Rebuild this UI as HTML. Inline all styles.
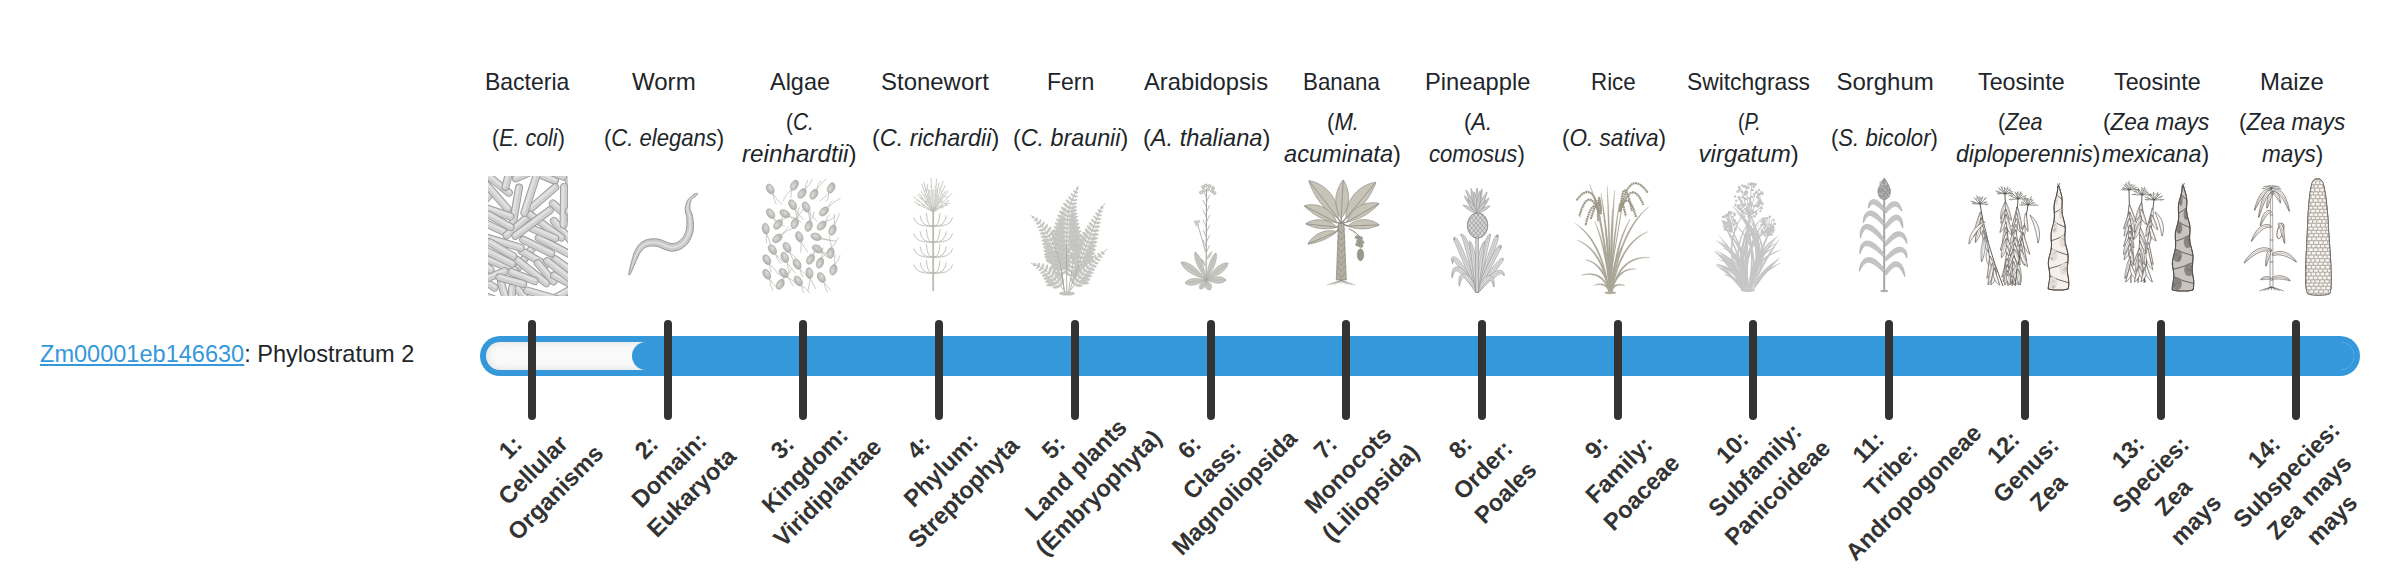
<!DOCTYPE html>
<html><head><meta charset="utf-8"><title>Phylostratum</title>
<style>
html,body{margin:0;padding:0;background:#fff;}
body{width:2400px;height:580px;overflow:hidden;position:relative;font-family:"Liberation Sans",sans-serif;color:#212529;font-size:24px;}
.t{position:absolute;line-height:32px;white-space:nowrap;transform-origin:0 0;}
.im{position:absolute;top:176px;height:120px;}
.bar{position:absolute;left:480px;top:336px;width:1880px;height:40px;border-radius:20px;background:#3498db;}
.trk{position:absolute;left:486px;top:342px;width:1868px;height:28px;border-radius:14px;background:#fafafa;box-shadow:inset 0 0 8px rgba(0,0,0,.12);}
.fill{position:absolute;left:632px;top:342px;width:1722px;height:28px;border-radius:14px;background:#3498db;}
.tk{position:absolute;top:320px;width:8px;height:100px;border-radius:4px;background:#333;}
.lb{position:absolute;width:240px;text-align:center;white-space:nowrap;font-weight:bold;line-height:32px;transform:rotate(-45deg) scaleX(0.98);color:#333;}
.gl{position:absolute;left:40.3px;top:338px;line-height:32px;white-space:nowrap;transform-origin:0 0;transform:scaleX(0.981);}
.gl a{color:#3498db;text-decoration:underline;}
</style></head><body>
<div class="gl"><a href="#">Zm00001eb146630</a>: Phylostratum 2</div>
<div class="t" style="left:485.19px;top:66px;transform:scaleX(0.9570)">Bacteria</div>
<div class="t" style="left:492.01px;top:122px;transform:scaleX(0.8949)">(<i>E. coli</i>)</div>
<div class="t" style="left:632.40px;top:66px;transform:scaleX(1.0016)">Worm</div>
<div class="t" style="left:603.68px;top:122px;transform:scaleX(0.9188)">(<i>C. elegans</i>)</div>
<div class="t" style="left:769.80px;top:66px;transform:scaleX(0.9767)">Algae</div>
<div class="t" style="left:786.04px;top:106px;transform:scaleX(0.8643)">(<i>C.</i></div>
<div class="t" style="left:742.30px;top:138px;transform:scaleX(1.0098)"><i>reinhardtii</i>)</div>
<div class="t" style="left:880.50px;top:66px;transform:scaleX(0.9981)">Stonewort</div>
<div class="t" style="left:871.63px;top:122px;transform:scaleX(0.9734)">(<i>C. richardii</i>)</div>
<div class="t" style="left:1046.58px;top:66px;transform:scaleX(0.9587)">Fern</div>
<div class="t" style="left:1013.33px;top:122px;transform:scaleX(0.9707)">(<i>C. braunii</i>)</div>
<div class="t" style="left:1144.20px;top:66px;transform:scaleX(0.9888)">Arabidopsis</div>
<div class="t" style="left:1142.82px;top:122px;transform:scaleX(0.9835)">(<i>A. thaliana</i>)</div>
<div class="t" style="left:1302.64px;top:66px;transform:scaleX(0.9296)">Banana</div>
<div class="t" style="left:1326.58px;top:106px;transform:scaleX(0.9226)">(<i>M.</i></div>
<div class="t" style="left:1284.10px;top:138px;transform:scaleX(0.9846)"><i>acuminata</i>)</div>
<div class="t" style="left:1424.73px;top:66px;transform:scaleX(0.9875)">Pineapple</div>
<div class="t" style="left:1463.68px;top:106px;transform:scaleX(0.9185)">(<i>A.</i></div>
<div class="t" style="left:1429.28px;top:138px;transform:scaleX(0.9206)"><i>comosus</i>)</div>
<div class="t" style="left:1590.84px;top:66px;transform:scaleX(0.9311)">Rice</div>
<div class="t" style="left:1561.56px;top:122px;transform:scaleX(0.9398)">(<i>O. sativa</i>)</div>
<div class="t" style="left:1687.15px;top:66px;transform:scaleX(0.9508)">Switchgrass</div>
<div class="t" style="left:1738.47px;top:106px;transform:scaleX(0.8250)">(<i>P.</i></div>
<div class="t" style="left:1698.60px;top:138px;transform:scaleX(1.0000)"><i>virgatum</i>)</div>
<div class="t" style="left:1836.40px;top:66px;transform:scaleX(1.0000)">Sorghum</div>
<div class="t" style="left:1831.38px;top:122px;transform:scaleX(0.9211)">(<i>S. bicolor</i>)</div>
<div class="t" style="left:1977.60px;top:66px;transform:scaleX(0.9693)">Teosinte</div>
<div class="t" style="left:1998.20px;top:106px;transform:scaleX(0.9000)">(<i>Zea</i></div>
<div class="t" style="left:1956.14px;top:138px;transform:scaleX(0.9574)"><i>diploperennis</i>)</div>
<div class="t" style="left:2113.60px;top:66px;transform:scaleX(0.9693)">Teosinte</div>
<div class="t" style="left:2103.06px;top:106px;transform:scaleX(0.9375)">(<i>Zea mays</i></div>
<div class="t" style="left:2102.30px;top:138px;transform:scaleX(0.9679)"><i>mexicana</i>)</div>
<div class="t" style="left:2259.81px;top:66px;transform:scaleX(0.9967)">Maize</div>
<div class="t" style="left:2238.96px;top:106px;transform:scaleX(0.9375)">(<i>Zea mays</i></div>
<div class="t" style="left:2261.50px;top:138px;transform:scaleX(0.9391)"><i>mays</i>)</div>
<svg class="imgs" width="2400" height="580" viewBox="0 0 2400 580" style="position:absolute;left:0;top:0"><clipPath id="cb"><rect x="488" y="176" width="80" height="120"/></clipPath><g clip-path="url(#cb)"><line x1="518.5" y1="267.2" x2="532.6" y2="247.6" stroke="#9a9a9a" stroke-width="8" stroke-linecap="round"/><line x1="518.5" y1="267.2" x2="532.6" y2="247.6" stroke="#cfcfcf" stroke-width="6.2" stroke-linecap="round"/><line x1="517.6" y1="266.6" x2="531.7" y2="246.9" stroke="#e1e1e1" stroke-width="2.6" stroke-linecap="round"/><line x1="519.0" y1="187.5" x2="513.0" y2="223.0" stroke="#9a9a9a" stroke-width="8" stroke-linecap="round"/><line x1="519.0" y1="187.5" x2="513.0" y2="223.0" stroke="#cfcfcf" stroke-width="6.2" stroke-linecap="round"/><line x1="517.9" y1="187.3" x2="511.9" y2="222.9" stroke="#e1e1e1" stroke-width="2.6" stroke-linecap="round"/><line x1="521.8" y1="251.0" x2="545.3" y2="264.8" stroke="#9a9a9a" stroke-width="8" stroke-linecap="round"/><line x1="521.8" y1="251.0" x2="545.3" y2="264.8" stroke="#cfcfcf" stroke-width="6.2" stroke-linecap="round"/><line x1="522.4" y1="250.1" x2="545.9" y2="263.9" stroke="#e1e1e1" stroke-width="2.6" stroke-linecap="round"/><line x1="560.1" y1="158.4" x2="573.8" y2="193.6" stroke="#9a9a9a" stroke-width="8" stroke-linecap="round"/><line x1="560.1" y1="158.4" x2="573.8" y2="193.6" stroke="#cfcfcf" stroke-width="6.2" stroke-linecap="round"/><line x1="561.2" y1="158.0" x2="574.8" y2="193.2" stroke="#e1e1e1" stroke-width="2.6" stroke-linecap="round"/><line x1="553.9" y1="220.9" x2="581.8" y2="253.5" stroke="#9a9a9a" stroke-width="8" stroke-linecap="round"/><line x1="553.9" y1="220.9" x2="581.8" y2="253.5" stroke="#cfcfcf" stroke-width="6.2" stroke-linecap="round"/><line x1="554.8" y1="220.2" x2="582.6" y2="252.8" stroke="#e1e1e1" stroke-width="2.6" stroke-linecap="round"/><line x1="474.4" y1="217.6" x2="507.2" y2="233.5" stroke="#9a9a9a" stroke-width="8" stroke-linecap="round"/><line x1="474.4" y1="217.6" x2="507.2" y2="233.5" stroke="#cfcfcf" stroke-width="6.2" stroke-linecap="round"/><line x1="474.9" y1="216.6" x2="507.7" y2="232.5" stroke="#e1e1e1" stroke-width="2.6" stroke-linecap="round"/><line x1="476.9" y1="255.5" x2="514.5" y2="270.0" stroke="#9a9a9a" stroke-width="8" stroke-linecap="round"/><line x1="476.9" y1="255.5" x2="514.5" y2="270.0" stroke="#cfcfcf" stroke-width="6.2" stroke-linecap="round"/><line x1="477.3" y1="254.5" x2="514.9" y2="269.0" stroke="#e1e1e1" stroke-width="2.6" stroke-linecap="round"/><line x1="506.5" y1="235.3" x2="530.4" y2="214.6" stroke="#9a9a9a" stroke-width="8" stroke-linecap="round"/><line x1="506.5" y1="235.3" x2="530.4" y2="214.6" stroke="#cfcfcf" stroke-width="6.2" stroke-linecap="round"/><line x1="505.8" y1="234.5" x2="529.7" y2="213.8" stroke="#e1e1e1" stroke-width="2.6" stroke-linecap="round"/><line x1="470.8" y1="272.1" x2="494.6" y2="287.6" stroke="#9a9a9a" stroke-width="8" stroke-linecap="round"/><line x1="470.8" y1="272.1" x2="494.6" y2="287.6" stroke="#cfcfcf" stroke-width="6.2" stroke-linecap="round"/><line x1="471.4" y1="271.2" x2="495.2" y2="286.7" stroke="#e1e1e1" stroke-width="2.6" stroke-linecap="round"/><line x1="527.4" y1="169.5" x2="554.9" y2="180.7" stroke="#9a9a9a" stroke-width="8" stroke-linecap="round"/><line x1="527.4" y1="169.5" x2="554.9" y2="180.7" stroke="#cfcfcf" stroke-width="6.2" stroke-linecap="round"/><line x1="527.9" y1="168.4" x2="555.3" y2="179.7" stroke="#e1e1e1" stroke-width="2.6" stroke-linecap="round"/><line x1="516.7" y1="288.2" x2="534.8" y2="308.6" stroke="#9a9a9a" stroke-width="8" stroke-linecap="round"/><line x1="516.7" y1="288.2" x2="534.8" y2="308.6" stroke="#cfcfcf" stroke-width="6.2" stroke-linecap="round"/><line x1="517.5" y1="287.4" x2="535.6" y2="307.9" stroke="#e1e1e1" stroke-width="2.6" stroke-linecap="round"/><line x1="552.8" y1="203.6" x2="584.6" y2="231.4" stroke="#9a9a9a" stroke-width="8" stroke-linecap="round"/><line x1="552.8" y1="203.6" x2="584.6" y2="231.4" stroke="#cfcfcf" stroke-width="6.2" stroke-linecap="round"/><line x1="553.6" y1="202.8" x2="585.3" y2="230.6" stroke="#e1e1e1" stroke-width="2.6" stroke-linecap="round"/><line x1="470.7" y1="214.9" x2="490.6" y2="194.1" stroke="#9a9a9a" stroke-width="8" stroke-linecap="round"/><line x1="470.7" y1="214.9" x2="490.6" y2="194.1" stroke="#cfcfcf" stroke-width="6.2" stroke-linecap="round"/><line x1="469.9" y1="214.2" x2="489.8" y2="193.3" stroke="#e1e1e1" stroke-width="2.6" stroke-linecap="round"/><line x1="460.3" y1="181.2" x2="501.4" y2="165.7" stroke="#9a9a9a" stroke-width="8" stroke-linecap="round"/><line x1="460.3" y1="181.2" x2="501.4" y2="165.7" stroke="#cfcfcf" stroke-width="6.2" stroke-linecap="round"/><line x1="459.9" y1="180.2" x2="501.0" y2="164.7" stroke="#e1e1e1" stroke-width="2.6" stroke-linecap="round"/><line x1="527.6" y1="211.2" x2="555.2" y2="187.3" stroke="#9a9a9a" stroke-width="8" stroke-linecap="round"/><line x1="527.6" y1="211.2" x2="555.2" y2="187.3" stroke="#cfcfcf" stroke-width="6.2" stroke-linecap="round"/><line x1="526.9" y1="210.3" x2="554.5" y2="186.4" stroke="#e1e1e1" stroke-width="2.6" stroke-linecap="round"/><line x1="500.9" y1="282.5" x2="509.6" y2="311.0" stroke="#9a9a9a" stroke-width="8" stroke-linecap="round"/><line x1="500.9" y1="282.5" x2="509.6" y2="311.0" stroke="#cfcfcf" stroke-width="6.2" stroke-linecap="round"/><line x1="501.9" y1="282.2" x2="510.6" y2="310.7" stroke="#e1e1e1" stroke-width="2.6" stroke-linecap="round"/><line x1="564.1" y1="186.9" x2="563.6" y2="224.8" stroke="#9a9a9a" stroke-width="8" stroke-linecap="round"/><line x1="564.1" y1="186.9" x2="563.6" y2="224.8" stroke="#cfcfcf" stroke-width="6.2" stroke-linecap="round"/><line x1="563.0" y1="186.9" x2="562.5" y2="224.8" stroke="#e1e1e1" stroke-width="2.6" stroke-linecap="round"/><line x1="555.3" y1="259.2" x2="589.4" y2="283.6" stroke="#9a9a9a" stroke-width="8" stroke-linecap="round"/><line x1="555.3" y1="259.2" x2="589.4" y2="283.6" stroke="#cfcfcf" stroke-width="6.2" stroke-linecap="round"/><line x1="555.9" y1="258.3" x2="590.1" y2="282.8" stroke="#e1e1e1" stroke-width="2.6" stroke-linecap="round"/><line x1="538.7" y1="237.8" x2="572.9" y2="256.0" stroke="#9a9a9a" stroke-width="8" stroke-linecap="round"/><line x1="538.7" y1="237.8" x2="572.9" y2="256.0" stroke="#cfcfcf" stroke-width="6.2" stroke-linecap="round"/><line x1="539.2" y1="236.9" x2="573.4" y2="255.0" stroke="#e1e1e1" stroke-width="2.6" stroke-linecap="round"/><line x1="515.8" y1="178.4" x2="552.4" y2="162.3" stroke="#9a9a9a" stroke-width="8" stroke-linecap="round"/><line x1="515.8" y1="178.4" x2="552.4" y2="162.3" stroke="#cfcfcf" stroke-width="6.2" stroke-linecap="round"/><line x1="515.4" y1="177.4" x2="551.9" y2="161.2" stroke="#e1e1e1" stroke-width="2.6" stroke-linecap="round"/><line x1="552.3" y1="299.4" x2="580.0" y2="284.3" stroke="#9a9a9a" stroke-width="8" stroke-linecap="round"/><line x1="552.3" y1="299.4" x2="580.0" y2="284.3" stroke="#cfcfcf" stroke-width="6.2" stroke-linecap="round"/><line x1="551.7" y1="298.4" x2="579.5" y2="283.3" stroke="#e1e1e1" stroke-width="2.6" stroke-linecap="round"/><line x1="478.5" y1="167.9" x2="508.8" y2="192.7" stroke="#9a9a9a" stroke-width="8" stroke-linecap="round"/><line x1="478.5" y1="167.9" x2="508.8" y2="192.7" stroke="#cfcfcf" stroke-width="6.2" stroke-linecap="round"/><line x1="479.2" y1="167.0" x2="509.5" y2="191.9" stroke="#e1e1e1" stroke-width="2.6" stroke-linecap="round"/><line x1="527.1" y1="290.5" x2="559.5" y2="299.8" stroke="#9a9a9a" stroke-width="8" stroke-linecap="round"/><line x1="527.1" y1="290.5" x2="559.5" y2="299.8" stroke="#cfcfcf" stroke-width="6.2" stroke-linecap="round"/><line x1="527.4" y1="289.4" x2="559.8" y2="298.7" stroke="#e1e1e1" stroke-width="2.6" stroke-linecap="round"/><line x1="517.1" y1="259.9" x2="546.2" y2="283.2" stroke="#9a9a9a" stroke-width="8" stroke-linecap="round"/><line x1="517.1" y1="259.9" x2="546.2" y2="283.2" stroke="#cfcfcf" stroke-width="6.2" stroke-linecap="round"/><line x1="517.8" y1="259.1" x2="546.9" y2="282.3" stroke="#e1e1e1" stroke-width="2.6" stroke-linecap="round"/><line x1="482.5" y1="236.3" x2="520.9" y2="247.8" stroke="#9a9a9a" stroke-width="8" stroke-linecap="round"/><line x1="482.5" y1="236.3" x2="520.9" y2="247.8" stroke="#cfcfcf" stroke-width="6.2" stroke-linecap="round"/><line x1="482.8" y1="235.2" x2="521.2" y2="246.7" stroke="#e1e1e1" stroke-width="2.6" stroke-linecap="round"/><line x1="485.0" y1="182.9" x2="507.6" y2="208.9" stroke="#9a9a9a" stroke-width="8" stroke-linecap="round"/><line x1="485.0" y1="182.9" x2="507.6" y2="208.9" stroke="#cfcfcf" stroke-width="6.2" stroke-linecap="round"/><line x1="485.8" y1="182.2" x2="508.4" y2="208.2" stroke="#e1e1e1" stroke-width="2.6" stroke-linecap="round"/><line x1="529.8" y1="214.5" x2="561.3" y2="237.6" stroke="#9a9a9a" stroke-width="8" stroke-linecap="round"/><line x1="529.8" y1="214.5" x2="561.3" y2="237.6" stroke="#cfcfcf" stroke-width="6.2" stroke-linecap="round"/><line x1="530.4" y1="213.6" x2="561.9" y2="236.7" stroke="#e1e1e1" stroke-width="2.6" stroke-linecap="round"/><line x1="523.2" y1="239.7" x2="551.2" y2="253.3" stroke="#9a9a9a" stroke-width="8" stroke-linecap="round"/><line x1="523.2" y1="239.7" x2="551.2" y2="253.3" stroke="#cfcfcf" stroke-width="6.2" stroke-linecap="round"/><line x1="523.7" y1="238.7" x2="551.7" y2="252.3" stroke="#e1e1e1" stroke-width="2.6" stroke-linecap="round"/><line x1="513.4" y1="156.0" x2="505.5" y2="186.8" stroke="#9a9a9a" stroke-width="8" stroke-linecap="round"/><line x1="513.4" y1="156.0" x2="505.5" y2="186.8" stroke="#cfcfcf" stroke-width="6.2" stroke-linecap="round"/><line x1="512.3" y1="155.7" x2="504.4" y2="186.5" stroke="#e1e1e1" stroke-width="2.6" stroke-linecap="round"/><line x1="472.0" y1="203.1" x2="510.4" y2="216.5" stroke="#9a9a9a" stroke-width="8" stroke-linecap="round"/><line x1="472.0" y1="203.1" x2="510.4" y2="216.5" stroke="#cfcfcf" stroke-width="6.2" stroke-linecap="round"/><line x1="472.4" y1="202.1" x2="510.8" y2="215.5" stroke="#e1e1e1" stroke-width="2.6" stroke-linecap="round"/><line x1="537.9" y1="171.4" x2="524.4" y2="212.8" stroke="#9a9a9a" stroke-width="8" stroke-linecap="round"/><line x1="537.9" y1="171.4" x2="524.4" y2="212.8" stroke="#cfcfcf" stroke-width="6.2" stroke-linecap="round"/><line x1="536.8" y1="171.0" x2="523.4" y2="212.5" stroke="#e1e1e1" stroke-width="2.6" stroke-linecap="round"/><line x1="476.5" y1="292.6" x2="506.9" y2="304.4" stroke="#9a9a9a" stroke-width="8" stroke-linecap="round"/><line x1="476.5" y1="292.6" x2="506.9" y2="304.4" stroke="#cfcfcf" stroke-width="6.2" stroke-linecap="round"/><line x1="476.9" y1="291.6" x2="507.3" y2="303.4" stroke="#e1e1e1" stroke-width="2.6" stroke-linecap="round"/><line x1="531.7" y1="228.4" x2="555.1" y2="238.2" stroke="#9a9a9a" stroke-width="8" stroke-linecap="round"/><line x1="531.7" y1="228.4" x2="555.1" y2="238.2" stroke="#cfcfcf" stroke-width="6.2" stroke-linecap="round"/><line x1="532.1" y1="227.4" x2="555.5" y2="237.2" stroke="#e1e1e1" stroke-width="2.6" stroke-linecap="round"/><line x1="515.4" y1="235.8" x2="549.8" y2="210.3" stroke="#9a9a9a" stroke-width="8" stroke-linecap="round"/><line x1="515.4" y1="235.8" x2="549.8" y2="210.3" stroke="#cfcfcf" stroke-width="6.2" stroke-linecap="round"/><line x1="514.7" y1="234.9" x2="549.1" y2="209.5" stroke="#e1e1e1" stroke-width="2.6" stroke-linecap="round"/><line x1="489.6" y1="242.3" x2="513.4" y2="256.2" stroke="#9a9a9a" stroke-width="8" stroke-linecap="round"/><line x1="489.6" y1="242.3" x2="513.4" y2="256.2" stroke="#cfcfcf" stroke-width="6.2" stroke-linecap="round"/><line x1="490.1" y1="241.3" x2="513.9" y2="255.2" stroke="#e1e1e1" stroke-width="2.6" stroke-linecap="round"/><line x1="511.2" y1="272.0" x2="534.7" y2="281.1" stroke="#9a9a9a" stroke-width="8" stroke-linecap="round"/><line x1="511.2" y1="272.0" x2="534.7" y2="281.1" stroke="#cfcfcf" stroke-width="6.2" stroke-linecap="round"/><line x1="511.6" y1="271.0" x2="535.1" y2="280.1" stroke="#e1e1e1" stroke-width="2.6" stroke-linecap="round"/><line x1="481.5" y1="248.2" x2="512.0" y2="263.8" stroke="#9a9a9a" stroke-width="8" stroke-linecap="round"/><line x1="481.5" y1="248.2" x2="512.0" y2="263.8" stroke="#cfcfcf" stroke-width="6.2" stroke-linecap="round"/><line x1="482.0" y1="247.2" x2="512.5" y2="262.8" stroke="#e1e1e1" stroke-width="2.6" stroke-linecap="round"/><line x1="537.8" y1="263.2" x2="553.4" y2="281.5" stroke="#9a9a9a" stroke-width="8" stroke-linecap="round"/><line x1="537.8" y1="263.2" x2="553.4" y2="281.5" stroke="#cfcfcf" stroke-width="6.2" stroke-linecap="round"/><line x1="538.7" y1="262.4" x2="554.3" y2="280.8" stroke="#e1e1e1" stroke-width="2.6" stroke-linecap="round"/><line x1="554.0" y1="275.5" x2="591.2" y2="295.0" stroke="#9a9a9a" stroke-width="8" stroke-linecap="round"/><line x1="554.0" y1="275.5" x2="591.2" y2="295.0" stroke="#cfcfcf" stroke-width="6.2" stroke-linecap="round"/><line x1="554.6" y1="274.5" x2="591.7" y2="294.0" stroke="#e1e1e1" stroke-width="2.6" stroke-linecap="round"/><line x1="555.6" y1="305.3" x2="583.9" y2="291.4" stroke="#9a9a9a" stroke-width="8" stroke-linecap="round"/><line x1="555.6" y1="305.3" x2="583.9" y2="291.4" stroke="#cfcfcf" stroke-width="6.2" stroke-linecap="round"/><line x1="555.1" y1="304.3" x2="583.4" y2="290.4" stroke="#e1e1e1" stroke-width="2.6" stroke-linecap="round"/><line x1="476.2" y1="282.6" x2="504.7" y2="271.1" stroke="#9a9a9a" stroke-width="8" stroke-linecap="round"/><line x1="476.2" y1="282.6" x2="504.7" y2="271.1" stroke="#cfcfcf" stroke-width="6.2" stroke-linecap="round"/><line x1="475.8" y1="281.5" x2="504.3" y2="270.1" stroke="#e1e1e1" stroke-width="2.6" stroke-linecap="round"/><line x1="488.6" y1="214.6" x2="510.6" y2="227.1" stroke="#9a9a9a" stroke-width="8" stroke-linecap="round"/><line x1="488.6" y1="214.6" x2="510.6" y2="227.1" stroke="#cfcfcf" stroke-width="6.2" stroke-linecap="round"/><line x1="489.1" y1="213.7" x2="511.2" y2="226.1" stroke="#e1e1e1" stroke-width="2.6" stroke-linecap="round"/><line x1="512.2" y1="287.6" x2="510.8" y2="316.1" stroke="#9a9a9a" stroke-width="8" stroke-linecap="round"/><line x1="512.2" y1="287.6" x2="510.8" y2="316.1" stroke="#cfcfcf" stroke-width="6.2" stroke-linecap="round"/><line x1="511.1" y1="287.5" x2="509.7" y2="316.1" stroke="#e1e1e1" stroke-width="2.6" stroke-linecap="round"/><line x1="568.7" y1="211.6" x2="582.4" y2="189.3" stroke="#9a9a9a" stroke-width="8" stroke-linecap="round"/><line x1="568.7" y1="211.6" x2="582.4" y2="189.3" stroke="#cfcfcf" stroke-width="6.2" stroke-linecap="round"/><line x1="567.8" y1="211.0" x2="581.5" y2="188.7" stroke="#e1e1e1" stroke-width="2.6" stroke-linecap="round"/><line x1="547.1" y1="260.9" x2="578.4" y2="285.4" stroke="#9a9a9a" stroke-width="8" stroke-linecap="round"/><line x1="547.1" y1="260.9" x2="578.4" y2="285.4" stroke="#cfcfcf" stroke-width="6.2" stroke-linecap="round"/><line x1="547.8" y1="260.1" x2="579.1" y2="284.6" stroke="#e1e1e1" stroke-width="2.6" stroke-linecap="round"/><line x1="567.8" y1="155.5" x2="581.7" y2="195.1" stroke="#9a9a9a" stroke-width="8" stroke-linecap="round"/><line x1="567.8" y1="155.5" x2="581.7" y2="195.1" stroke="#cfcfcf" stroke-width="6.2" stroke-linecap="round"/><line x1="568.9" y1="155.2" x2="582.8" y2="194.7" stroke="#e1e1e1" stroke-width="2.6" stroke-linecap="round"/><line x1="465.0" y1="289.5" x2="497.7" y2="316.1" stroke="#9a9a9a" stroke-width="8" stroke-linecap="round"/><line x1="465.0" y1="289.5" x2="497.7" y2="316.1" stroke="#cfcfcf" stroke-width="6.2" stroke-linecap="round"/><line x1="465.7" y1="288.7" x2="498.4" y2="315.2" stroke="#e1e1e1" stroke-width="2.6" stroke-linecap="round"/><line x1="470.7" y1="254.9" x2="490.5" y2="269.7" stroke="#9a9a9a" stroke-width="8" stroke-linecap="round"/><line x1="470.7" y1="254.9" x2="490.5" y2="269.7" stroke="#cfcfcf" stroke-width="6.2" stroke-linecap="round"/><line x1="471.3" y1="254.0" x2="491.1" y2="268.8" stroke="#e1e1e1" stroke-width="2.6" stroke-linecap="round"/><line x1="532.3" y1="164.5" x2="563.1" y2="176.5" stroke="#9a9a9a" stroke-width="8" stroke-linecap="round"/><line x1="532.3" y1="164.5" x2="563.1" y2="176.5" stroke="#cfcfcf" stroke-width="6.2" stroke-linecap="round"/><line x1="532.7" y1="163.5" x2="563.5" y2="175.4" stroke="#e1e1e1" stroke-width="2.6" stroke-linecap="round"/><line x1="499.3" y1="277.3" x2="523.2" y2="283.9" stroke="#9a9a9a" stroke-width="8" stroke-linecap="round"/><line x1="499.3" y1="277.3" x2="523.2" y2="283.9" stroke="#cfcfcf" stroke-width="6.2" stroke-linecap="round"/><line x1="499.6" y1="276.2" x2="523.5" y2="282.8" stroke="#e1e1e1" stroke-width="2.6" stroke-linecap="round"/><line x1="467.5" y1="294.7" x2="500.7" y2="312.1" stroke="#9a9a9a" stroke-width="8" stroke-linecap="round"/><line x1="467.5" y1="294.7" x2="500.7" y2="312.1" stroke="#cfcfcf" stroke-width="6.2" stroke-linecap="round"/><line x1="468.0" y1="293.7" x2="501.2" y2="311.1" stroke="#e1e1e1" stroke-width="2.6" stroke-linecap="round"/></g><polygon points="629.5,275.0 630.1,274.3 630.7,273.4 631.2,272.3 631.8,271.0 632.4,269.6 633.0,268.1 633.6,266.7 634.2,265.2 634.8,263.9 635.4,262.7 635.9,261.5 636.4,260.3 636.9,259.2 637.4,258.1 637.9,257.0 638.3,256.0 638.8,255.0 639.3,254.1 639.8,253.2 640.4,252.5 640.9,251.7 641.5,250.9 642.1,250.2 642.7,249.6 643.3,249.0 643.9,248.5 644.5,248.0 645.1,247.6 645.7,247.3 646.4,247.0 647.1,246.8 648.0,246.5 648.9,246.3 649.8,246.2 650.8,246.0 651.8,246.0 652.9,246.0 654.0,246.0 655.1,246.1 656.2,246.2 657.2,246.4 658.4,246.8 659.8,247.4 661.3,248.0 662.9,248.7 664.5,249.4 666.3,250.0 668.1,250.6 669.9,251.0 671.8,251.2 673.6,251.1 675.2,250.9 676.8,250.5 678.3,250.1 679.7,249.5 681.1,248.8 682.4,248.0 683.6,247.2 684.8,246.3 685.9,245.3 686.9,244.2 687.9,243.1 688.8,241.8 689.6,240.5 690.3,239.1 691.0,237.7 691.6,236.3 692.1,234.9 692.5,233.5 692.9,232.1 693.2,230.6 693.4,229.0 693.5,227.5 693.5,226.0 693.5,224.5 693.4,223.0 693.3,221.6 693.2,220.2 693.0,218.9 692.9,217.7 692.6,216.4 692.3,215.2 692.0,214.1 691.6,213.0 691.2,212.1 690.8,211.3 690.5,210.5 690.3,209.8 690.1,209.2 690.0,208.5 690.0,207.7 689.9,206.8 689.9,206.0 690.0,205.1 690.1,204.3 690.2,203.4 690.4,202.6 690.6,201.8 690.9,201.0 691.1,200.3 691.5,199.6 692.0,198.8 692.7,198.0 693.4,197.1 694.7,197.1 695.5,196.4 696.2,195.7 696.9,195.0 697.4,194.4 697.7,193.7 697.3,193.3 696.6,193.3 695.9,193.5 695.0,193.8 694.1,194.3 693.1,194.8 692.6,196.1 691.5,196.6 690.5,197.2 689.6,197.9 688.9,198.7 688.2,199.5 687.6,200.4 687.1,201.3 686.7,202.3 686.3,203.3 686.0,204.3 685.7,205.4 685.5,206.4 685.3,207.4 685.2,208.5 685.2,209.7 685.3,210.8 685.5,211.9 685.7,212.9 685.9,213.9 686.2,214.8 686.4,215.7 686.6,216.5 686.7,217.4 686.7,218.3 686.8,219.4 686.8,220.7 686.9,221.9 686.9,223.2 686.9,224.5 686.8,225.8 686.7,227.0 686.6,228.2 686.4,229.3 686.1,230.3 685.8,231.4 685.4,232.5 684.9,233.6 684.4,234.7 683.9,235.7 683.3,236.7 682.7,237.6 682.0,238.5 681.4,239.2 680.7,239.9 680.0,240.5 679.2,241.1 678.4,241.6 677.5,242.1 676.6,242.5 675.7,242.9 674.8,243.2 673.8,243.4 672.9,243.6 672.0,243.6 671.1,243.5 670.0,243.3 668.7,242.9 667.3,242.4 665.8,241.8 664.1,241.1 662.5,240.4 660.8,239.8 659.0,239.3 657.2,239.0 655.7,238.8 654.2,238.8 652.7,238.8 651.3,238.9 649.9,239.1 648.6,239.3 647.3,239.6 646.0,240.0 644.8,240.5 643.6,241.0 642.5,241.6 641.4,242.3 640.5,243.1 639.6,243.9 638.8,244.8 638.1,245.7 637.4,246.6 636.8,247.6 636.2,248.5 635.6,249.5 635.1,250.6 634.6,251.7 634.1,252.9 633.7,254.1 633.3,255.3 633.0,256.5 632.6,257.7 632.3,258.9 632.0,260.1 631.6,261.3 631.3,262.6 630.9,264.1 630.5,265.6 630.1,267.2 629.7,268.7 629.4,270.2 629.1,271.6 628.9,272.8 628.8,273.9 628.9,274.8" fill="#c8c8c8" stroke="#8f8f8f" stroke-width="0.9"/><polygon points="629.2,274.9 629.5,274.2 629.9,273.2 630.4,272.0 630.8,270.7 631.3,269.2 631.9,267.7 632.4,266.2 632.9,264.8 633.4,263.4 633.9,262.2 634.4,261.0 634.8,259.8 635.3,258.6 635.7,257.5 636.1,256.3 636.6,255.3 637.1,254.2 637.5,253.2 638.1,252.3 638.6,251.4 639.2,250.5 639.8,249.7 640.4,248.9 641.0,248.2 641.6,247.5 642.3,246.8 643.0,246.2 643.8,245.7 644.5,245.2 645.4,244.8 646.3,244.5 647.3,244.2 648.3,243.9 649.3,243.7 650.5,243.5 651.6,243.4 652.8,243.4 654.0,243.4 655.3,243.5 656.5,243.6 657.8,243.9 659.2,244.3 660.7,244.9 662.3,245.5 663.9,246.2 665.5,246.9 667.2,247.5 668.8,248.0 670.4,248.4 671.9,248.5 673.3,248.4 674.7,248.2 676.1,247.9 677.4,247.5 678.6,247.0 679.8,246.4 681.0,245.8 682.1,245.0 683.1,244.2 684.0,243.4 685.0,242.5 685.8,241.4 686.6,240.3 687.4,239.2 688.0,237.9 688.7,236.7 689.2,235.4 689.7,234.1 690.1,232.8 690.5,231.5 690.8,230.1 691.0,228.7 691.1,227.3 691.2,225.9 691.1,224.5 691.1,223.1 691.0,221.7 690.9,220.4 690.8,219.1 690.7,217.9 690.5,216.8 690.3,215.7 690.0,214.6 689.7,213.7 689.3,212.7 689.0,211.8 688.8,211.0 688.5,210.2 688.4,209.3 688.3,208.5 688.3,207.6 688.4,206.7 688.5,205.8 688.6,204.8 688.8,203.9 689.0,203.0 689.3,202.2 689.6,201.3 690.0,200.5 690.4,199.8 690.9,199.0 691.6,198.3 692.3,197.6 693.2,196.9 694.1,196.2 694.9,195.5 695.7,194.9 696.5,194.4 697.1,193.9 697.5,193.5 697.5,193.5 697.0,193.8 696.3,194.1 695.5,194.6 694.7,195.1 693.7,195.7 692.8,196.3 691.9,197.0 691.0,197.7 690.3,198.5 689.6,199.2 689.1,200.0 688.7,200.9 688.3,201.8 687.9,202.7 687.6,203.6 687.4,204.6 687.2,205.6 687.0,206.6 686.9,207.5 686.9,208.5 686.9,209.5 687.0,210.5 687.2,211.4 687.5,212.3 687.8,213.2 688.1,214.2 688.4,215.1 688.6,216.1 688.8,217.0 688.9,218.1 689.0,219.3 689.1,220.5 689.1,221.8 689.2,223.1 689.2,224.5 689.2,225.8 689.1,227.2 689.0,228.5 688.8,229.8 688.5,230.9 688.2,232.1 687.7,233.3 687.3,234.6 686.7,235.8 686.1,236.9 685.5,238.1 684.8,239.1 684.1,240.1 683.4,241.0 682.6,241.8 681.7,242.5 680.8,243.2 679.8,243.9 678.8,244.5 677.7,245.0 676.6,245.5 675.5,245.8 674.3,246.1 673.1,246.2 671.9,246.3 670.7,246.2 669.3,245.9 667.9,245.4 666.3,244.9 664.7,244.2 663.1,243.6 661.5,242.9 659.9,242.3 658.3,241.9 656.9,241.6 655.4,241.4 654.1,241.4 652.8,241.4 651.5,241.5 650.2,241.6 649.0,241.8 647.8,242.1 646.7,242.4 645.6,242.7 644.6,243.2 643.7,243.7 642.8,244.3 641.9,244.9 641.2,245.6 640.5,246.3 639.8,247.1 639.1,248.0 638.5,248.8 638.0,249.7 637.4,250.6 636.8,251.6 636.3,252.6 635.9,253.7 635.4,254.8 635.0,255.9 634.6,257.1 634.2,258.3 633.9,259.4 633.5,260.6 633.1,261.8 632.6,263.1 632.2,264.5 631.7,266.0 631.3,267.5 630.8,269.1 630.4,270.5 630.0,271.9 629.6,273.1 629.4,274.1 629.2,274.9" fill="#dedede"/><radialGradient id="ag" cx="0.4" cy="0.4" r="0.65"><stop offset="0" stop-color="#dcdcd8"/><stop offset="1" stop-color="#aeaeaa"/></radialGradient><path d="M772.9,193.8 Q773.4,198.8 776.4,204.5" fill="none" stroke="#b4b4b0" stroke-width="0.7"/><path d="M772.9,193.8 Q777.4,200.4 782.4,205.0" fill="none" stroke="#b4b4b0" stroke-width="0.7"/><ellipse cx="770.2" cy="189.1" rx="5.4" ry="3.4" transform="rotate(60 770.2 189.1)" fill="url(#ag)" stroke="#a2a29e" stroke-width="0.6"/><path d="M791.6,190.0 Q787.1,192.0 783.0,201.3" fill="none" stroke="#b4b4b0" stroke-width="0.7"/><path d="M791.6,190.0 Q791.1,195.1 790.7,198.0" fill="none" stroke="#b4b4b0" stroke-width="0.7"/><ellipse cx="794.4" cy="185.2" rx="5.4" ry="3.4" transform="rotate(-60 794.4 185.2)" fill="url(#ag)" stroke="#a2a29e" stroke-width="0.6"/><path d="M805.2,189.0 Q806.0,184.8 807.5,180.2" fill="none" stroke="#b4b4b0" stroke-width="0.7"/><path d="M805.2,189.0 Q810.0,185.3 812.5,178.9" fill="none" stroke="#b4b4b0" stroke-width="0.7"/><ellipse cx="802.0" cy="193.5" rx="5.4" ry="3.4" transform="rotate(-55 802.0 193.5)" fill="url(#ag)" stroke="#a2a29e" stroke-width="0.6"/><path d="M816.7,189.5 Q817.2,184.0 820.8,181.0" fill="none" stroke="#b4b4b0" stroke-width="0.7"/><path d="M816.7,189.5 Q821.2,183.4 826.3,178.5" fill="none" stroke="#b4b4b0" stroke-width="0.7"/><ellipse cx="813.9" cy="194.2" rx="5.4" ry="3.4" transform="rotate(-60 813.9 194.2)" fill="url(#ag)" stroke="#a2a29e" stroke-width="0.6"/><path d="M828.8,192.9 Q824.7,198.0 819.7,200.9" fill="none" stroke="#b4b4b0" stroke-width="0.7"/><path d="M828.8,192.9 Q828.7,199.3 826.0,201.8" fill="none" stroke="#b4b4b0" stroke-width="0.7"/><ellipse cx="831.2" cy="187.9" rx="5.4" ry="3.4" transform="rotate(-65 831.2 187.9)" fill="url(#ag)" stroke="#a2a29e" stroke-width="0.6"/><path d="M795.4,209.5 Q795.9,216.3 799.3,218.2" fill="none" stroke="#b4b4b0" stroke-width="0.7"/><path d="M795.4,209.5 Q799.9,216.2 804.0,219.8" fill="none" stroke="#b4b4b0" stroke-width="0.7"/><ellipse cx="792.6" cy="204.8" rx="5.4" ry="3.4" transform="rotate(60 792.6 204.8)" fill="url(#ag)" stroke="#a2a29e" stroke-width="0.6"/><path d="M773.8,218.2 Q774.7,220.8 778.9,228.0" fill="none" stroke="#b4b4b0" stroke-width="0.7"/><path d="M773.8,218.2 Q778.7,224.7 784.7,226.4" fill="none" stroke="#b4b4b0" stroke-width="0.7"/><ellipse cx="770.6" cy="213.7" rx="5.4" ry="3.4" transform="rotate(55 770.6 213.7)" fill="url(#ag)" stroke="#a2a29e" stroke-width="0.6"/><path d="M789.5,216.5 Q791.8,218.3 794.7,220.6" fill="none" stroke="#b4b4b0" stroke-width="0.7"/><path d="M789.5,216.5 Q795.8,216.8 801.2,222.4" fill="none" stroke="#b4b4b0" stroke-width="0.7"/><ellipse cx="784.8" cy="213.7" rx="5.4" ry="3.4" transform="rotate(30 784.8 213.7)" fill="url(#ag)" stroke="#a2a29e" stroke-width="0.6"/><path d="M808.4,212.0 Q808.5,214.0 810.7,221.3" fill="none" stroke="#b4b4b0" stroke-width="0.7"/><path d="M808.4,212.0 Q812.5,215.6 817.3,221.9" fill="none" stroke="#b4b4b0" stroke-width="0.7"/><ellipse cx="806.1" cy="207.0" rx="5.4" ry="3.4" transform="rotate(65 806.1 207.0)" fill="url(#ag)" stroke="#a2a29e" stroke-width="0.6"/><path d="M827.9,207.6 Q829.4,203.1 832.6,200.6" fill="none" stroke="#b4b4b0" stroke-width="0.7"/><path d="M827.9,207.6 Q833.4,201.8 840.6,197.9" fill="none" stroke="#b4b4b0" stroke-width="0.7"/><ellipse cx="824.0" cy="211.5" rx="5.4" ry="3.4" transform="rotate(-45 824.0 211.5)" fill="url(#ag)" stroke="#a2a29e" stroke-width="0.6"/><path d="M766.7,234.2 Q765.5,240.3 766.9,243.1" fill="none" stroke="#b4b4b0" stroke-width="0.7"/><path d="M766.7,234.2 Q769.5,240.5 771.0,245.3" fill="none" stroke="#b4b4b0" stroke-width="0.7"/><ellipse cx="765.7" cy="228.7" rx="5.4" ry="3.4" transform="rotate(80 765.7 228.7)" fill="url(#ag)" stroke="#a2a29e" stroke-width="0.6"/><path d="M781.6,220.3 Q782.8,214.0 783.8,210.6" fill="none" stroke="#b4b4b0" stroke-width="0.7"/><path d="M781.6,220.3 Q786.8,218.7 790.4,212.9" fill="none" stroke="#b4b4b0" stroke-width="0.7"/><ellipse cx="778.0" cy="224.5" rx="5.4" ry="3.4" transform="rotate(-50 778.0 224.5)" fill="url(#ag)" stroke="#a2a29e" stroke-width="0.6"/><path d="M796.7,218.2 Q796.4,215.6 799.3,207.2" fill="none" stroke="#b4b4b0" stroke-width="0.7"/><path d="M796.7,218.2 Q800.4,212.8 803.6,209.0" fill="none" stroke="#b4b4b0" stroke-width="0.7"/><ellipse cx="794.8" cy="223.4" rx="5.4" ry="3.4" transform="rotate(-70 794.8 223.4)" fill="url(#ag)" stroke="#a2a29e" stroke-width="0.6"/><path d="M810.2,220.7 Q809.5,214.0 811.0,211.3" fill="none" stroke="#b4b4b0" stroke-width="0.7"/><path d="M810.2,220.7 Q813.5,217.7 814.2,211.9" fill="none" stroke="#b4b4b0" stroke-width="0.7"/><ellipse cx="808.7" cy="226.1" rx="5.4" ry="3.4" transform="rotate(-75 808.7 226.1)" fill="url(#ag)" stroke="#a2a29e" stroke-width="0.6"/><path d="M825.6,221.7 Q827.2,216.1 829.8,214.4" fill="none" stroke="#b4b4b0" stroke-width="0.7"/><path d="M825.6,221.7 Q831.2,220.3 835.8,215.6" fill="none" stroke="#b4b4b0" stroke-width="0.7"/><ellipse cx="821.7" cy="225.6" rx="5.4" ry="3.4" transform="rotate(-45 821.7 225.6)" fill="url(#ag)" stroke="#a2a29e" stroke-width="0.6"/><path d="M834.4,224.9 Q834.1,220.4 834.4,213.9" fill="none" stroke="#b4b4b0" stroke-width="0.7"/><path d="M834.4,224.9 Q838.1,218.6 839.5,213.2" fill="none" stroke="#b4b4b0" stroke-width="0.7"/><ellipse cx="832.5" cy="230.1" rx="5.4" ry="3.4" transform="rotate(-70 832.5 230.1)" fill="url(#ag)" stroke="#a2a29e" stroke-width="0.6"/><path d="M781.6,234.9 Q783.4,232.6 789.0,226.4" fill="none" stroke="#b4b4b0" stroke-width="0.7"/><path d="M781.6,234.9 Q787.4,229.4 794.9,227.9" fill="none" stroke="#b4b4b0" stroke-width="0.7"/><ellipse cx="777.4" cy="238.4" rx="5.4" ry="3.4" transform="rotate(-40 777.4 238.4)" fill="url(#ag)" stroke="#a2a29e" stroke-width="0.6"/><path d="M801.2,242.0 Q800.9,246.2 800.9,252.7" fill="none" stroke="#b4b4b0" stroke-width="0.7"/><path d="M801.2,242.0 Q804.9,248.3 807.8,252.0" fill="none" stroke="#b4b4b0" stroke-width="0.7"/><ellipse cx="799.3" cy="236.8" rx="5.4" ry="3.4" transform="rotate(70 799.3 236.8)" fill="url(#ag)" stroke="#a2a29e" stroke-width="0.6"/><path d="M821.3,238.7 Q824.0,238.2 830.3,240.6" fill="none" stroke="#b4b4b0" stroke-width="0.7"/><path d="M821.3,238.7 Q828.0,240.4 836.0,241.0" fill="none" stroke="#b4b4b0" stroke-width="0.7"/><ellipse cx="816.1" cy="236.8" rx="5.4" ry="3.4" transform="rotate(20 816.1 236.8)" fill="url(#ag)" stroke="#a2a29e" stroke-width="0.6"/><path d="M775.6,254.1 Q776.4,259.4 780.7,263.6" fill="none" stroke="#b4b4b0" stroke-width="0.7"/><path d="M775.6,254.1 Q780.4,259.6 783.3,262.9" fill="none" stroke="#b4b4b0" stroke-width="0.7"/><ellipse cx="772.4" cy="249.6" rx="5.4" ry="3.4" transform="rotate(55 772.4 249.6)" fill="url(#ag)" stroke="#a2a29e" stroke-width="0.6"/><path d="M789.7,252.1 Q790.2,254.7 793.6,260.8" fill="none" stroke="#b4b4b0" stroke-width="0.7"/><path d="M789.7,252.1 Q794.2,256.2 800.2,263.1" fill="none" stroke="#b4b4b0" stroke-width="0.7"/><ellipse cx="787.0" cy="247.4" rx="5.4" ry="3.4" transform="rotate(60 787.0 247.4)" fill="url(#ag)" stroke="#a2a29e" stroke-width="0.6"/><path d="M822.0,251.7 Q824.4,256.6 828.4,257.1" fill="none" stroke="#b4b4b0" stroke-width="0.7"/><path d="M822.0,251.7 Q828.4,255.3 834.5,256.3" fill="none" stroke="#b4b4b0" stroke-width="0.7"/><ellipse cx="817.3" cy="248.9" rx="5.4" ry="3.4" transform="rotate(30 817.3 248.9)" fill="url(#ag)" stroke="#a2a29e" stroke-width="0.6"/><path d="M831.7,247.5 Q830.5,242.1 829.2,236.2" fill="none" stroke="#b4b4b0" stroke-width="0.7"/><path d="M831.7,247.5 Q834.5,245.1 838.4,237.2" fill="none" stroke="#b4b4b0" stroke-width="0.7"/><ellipse cx="830.7" cy="253.0" rx="5.4" ry="3.4" transform="rotate(-80 830.7 253.0)" fill="url(#ag)" stroke="#a2a29e" stroke-width="0.6"/><path d="M769.6,264.4 Q770.1,268.8 771.4,272.3" fill="none" stroke="#b4b4b0" stroke-width="0.7"/><path d="M769.6,264.4 Q774.1,267.6 779.2,275.4" fill="none" stroke="#b4b4b0" stroke-width="0.7"/><ellipse cx="766.8" cy="259.7" rx="5.4" ry="3.4" transform="rotate(60 766.8 259.7)" fill="url(#ag)" stroke="#a2a29e" stroke-width="0.6"/><path d="M787.1,262.4 Q787.2,266.3 789.9,273.5" fill="none" stroke="#b4b4b0" stroke-width="0.7"/><path d="M787.1,262.4 Q791.2,267.9 795.4,273.4" fill="none" stroke="#b4b4b0" stroke-width="0.7"/><ellipse cx="784.8" cy="257.4" rx="5.4" ry="3.4" transform="rotate(65 784.8 257.4)" fill="url(#ag)" stroke="#a2a29e" stroke-width="0.6"/><path d="M799.8,268.9 Q800.3,272.6 803.2,277.6" fill="none" stroke="#b4b4b0" stroke-width="0.7"/><path d="M799.8,268.9 Q804.3,273.2 809.4,279.2" fill="none" stroke="#b4b4b0" stroke-width="0.7"/><ellipse cx="797.1" cy="264.2" rx="5.4" ry="3.4" transform="rotate(60 797.1 264.2)" fill="url(#ag)" stroke="#a2a29e" stroke-width="0.6"/><path d="M813.3,254.5 Q813.8,249.1 817.6,245.5" fill="none" stroke="#b4b4b0" stroke-width="0.7"/><path d="M813.3,254.5 Q817.8,250.5 819.8,245.1" fill="none" stroke="#b4b4b0" stroke-width="0.7"/><ellipse cx="810.5" cy="259.2" rx="5.4" ry="3.4" transform="rotate(-60 810.5 259.2)" fill="url(#ag)" stroke="#a2a29e" stroke-width="0.6"/><path d="M821.8,257.9 Q821.5,251.9 823.3,247.4" fill="none" stroke="#b4b4b0" stroke-width="0.7"/><path d="M821.8,257.9 Q825.5,254.8 829.2,248.7" fill="none" stroke="#b4b4b0" stroke-width="0.7"/><ellipse cx="820.0" cy="263.0" rx="5.4" ry="3.4" transform="rotate(-70 820.0 263.0)" fill="url(#ag)" stroke="#a2a29e" stroke-width="0.6"/><path d="M834.8,264.5 Q834.1,258.9 835.3,254.8" fill="none" stroke="#b4b4b0" stroke-width="0.7"/><path d="M834.8,264.5 Q838.1,261.3 840.1,255.2" fill="none" stroke="#b4b4b0" stroke-width="0.7"/><ellipse cx="833.4" cy="269.8" rx="5.4" ry="3.4" transform="rotate(-75 833.4 269.8)" fill="url(#ag)" stroke="#a2a29e" stroke-width="0.6"/><path d="M769.6,279.0 Q770.1,285.2 772.8,290.5" fill="none" stroke="#b4b4b0" stroke-width="0.7"/><path d="M769.6,279.0 Q774.1,285.6 778.1,288.7" fill="none" stroke="#b4b4b0" stroke-width="0.7"/><ellipse cx="766.8" cy="274.3" rx="5.4" ry="3.4" transform="rotate(60 766.8 274.3)" fill="url(#ag)" stroke="#a2a29e" stroke-width="0.6"/><path d="M787.5,277.0 Q789.1,278.9 793.6,286.6" fill="none" stroke="#b4b4b0" stroke-width="0.7"/><path d="M787.5,277.0 Q793.1,280.4 799.1,285.7" fill="none" stroke="#b4b4b0" stroke-width="0.7"/><ellipse cx="783.6" cy="273.1" rx="5.4" ry="3.4" transform="rotate(45 783.6 273.1)" fill="url(#ag)" stroke="#a2a29e" stroke-width="0.6"/><path d="M810.4,278.6 Q809.2,284.6 808.0,290.5" fill="none" stroke="#b4b4b0" stroke-width="0.7"/><path d="M810.4,278.6 Q813.2,283.9 815.9,289.1" fill="none" stroke="#b4b4b0" stroke-width="0.7"/><ellipse cx="809.4" cy="273.1" rx="5.4" ry="3.4" transform="rotate(80 809.4 273.1)" fill="url(#ag)" stroke="#a2a29e" stroke-width="0.6"/><path d="M824.1,282.4 Q824.6,287.3 827.6,292.5" fill="none" stroke="#b4b4b0" stroke-width="0.7"/><path d="M824.1,282.4 Q828.6,287.8 830.7,290.6" fill="none" stroke="#b4b4b0" stroke-width="0.7"/><ellipse cx="821.3" cy="277.6" rx="5.4" ry="3.4" transform="rotate(60 821.3 277.6)" fill="url(#ag)" stroke="#a2a29e" stroke-width="0.6"/><path d="M783.0,279.6 Q783.5,275.0 786.1,268.9" fill="none" stroke="#b4b4b0" stroke-width="0.7"/><path d="M783.0,279.6 Q787.5,276.2 792.0,268.2" fill="none" stroke="#b4b4b0" stroke-width="0.7"/><ellipse cx="780.3" cy="284.3" rx="5.4" ry="3.4" transform="rotate(-60 780.3 284.3)" fill="url(#ag)" stroke="#a2a29e" stroke-width="0.6"/><path d="M801.4,285.5 Q802.2,289.4 803.6,292.7" fill="none" stroke="#b4b4b0" stroke-width="0.7"/><path d="M801.4,285.5 Q806.2,287.8 809.9,293.2" fill="none" stroke="#b4b4b0" stroke-width="0.7"/><ellipse cx="798.2" cy="281.0" rx="5.4" ry="3.4" transform="rotate(55 798.2 281.0)" fill="url(#ag)" stroke="#a2a29e" stroke-width="0.6"/><path d="M933.2,291 L933.2,211" stroke="#bcbcb4" stroke-width="1.8" fill="none"/><path d="M933.2,226 Q927.4,227.5 926.4,213.2" stroke="#bcbcb4" stroke-width="0.9" fill="none"/><path d="M933.2,226 Q921.6,227.5 920.1,215.4" stroke="#bcbcb4" stroke-width="0.9" fill="none"/><path d="M933.2,226 Q915.8,227.5 913.8,217.6" stroke="#bcbcb4" stroke-width="0.9" fill="none"/><path d="M933.2,226 Q939.0,227.5 940.0,213.2" stroke="#bcbcb4" stroke-width="0.9" fill="none"/><path d="M933.2,226 Q944.8,227.5 946.3,215.4" stroke="#bcbcb4" stroke-width="0.9" fill="none"/><path d="M933.2,226 Q950.6,227.5 952.6,217.6" stroke="#bcbcb4" stroke-width="0.9" fill="none"/><ellipse cx="933.2" cy="226" rx="2" ry="1.2" fill="#bcbcb4"/><path d="M933.2,242 Q927.4,243.5 926.4,229.2" stroke="#bcbcb4" stroke-width="0.9" fill="none"/><path d="M933.2,242 Q921.6,243.5 920.1,231.4" stroke="#bcbcb4" stroke-width="0.9" fill="none"/><path d="M933.2,242 Q915.8,243.5 913.8,233.6" stroke="#bcbcb4" stroke-width="0.9" fill="none"/><path d="M933.2,242 Q939.0,243.5 940.0,229.2" stroke="#bcbcb4" stroke-width="0.9" fill="none"/><path d="M933.2,242 Q944.8,243.5 946.3,231.4" stroke="#bcbcb4" stroke-width="0.9" fill="none"/><path d="M933.2,242 Q950.6,243.5 952.6,233.6" stroke="#bcbcb4" stroke-width="0.9" fill="none"/><ellipse cx="933.2" cy="242" rx="2" ry="1.2" fill="#bcbcb4"/><path d="M933.2,257 Q927.4,258.5 926.4,244.2" stroke="#bcbcb4" stroke-width="0.9" fill="none"/><path d="M933.2,257 Q921.6,258.5 920.1,246.4" stroke="#bcbcb4" stroke-width="0.9" fill="none"/><path d="M933.2,257 Q915.8,258.5 913.8,248.6" stroke="#bcbcb4" stroke-width="0.9" fill="none"/><path d="M933.2,257 Q939.0,258.5 940.0,244.2" stroke="#bcbcb4" stroke-width="0.9" fill="none"/><path d="M933.2,257 Q944.8,258.5 946.3,246.4" stroke="#bcbcb4" stroke-width="0.9" fill="none"/><path d="M933.2,257 Q950.6,258.5 952.6,248.6" stroke="#bcbcb4" stroke-width="0.9" fill="none"/><ellipse cx="933.2" cy="257" rx="2" ry="1.2" fill="#bcbcb4"/><path d="M933.2,273 Q927.4,274.5 926.4,260.2" stroke="#bcbcb4" stroke-width="0.9" fill="none"/><path d="M933.2,273 Q921.6,274.5 920.1,262.4" stroke="#bcbcb4" stroke-width="0.9" fill="none"/><path d="M933.2,273 Q915.8,274.5 913.8,264.6" stroke="#bcbcb4" stroke-width="0.9" fill="none"/><path d="M933.2,273 Q939.0,274.5 940.0,260.2" stroke="#bcbcb4" stroke-width="0.9" fill="none"/><path d="M933.2,273 Q944.8,274.5 946.3,262.4" stroke="#bcbcb4" stroke-width="0.9" fill="none"/><path d="M933.2,273 Q950.6,274.5 952.6,264.6" stroke="#bcbcb4" stroke-width="0.9" fill="none"/><ellipse cx="933.2" cy="273" rx="2" ry="1.2" fill="#bcbcb4"/><path d="M933.2,212 Q922.9,206.9 914.4,201.8" stroke="#bcbcb4" stroke-width="0.8" fill="none"/><line x1="924.8" y1="207.4" x2="923.1" y2="204.9" stroke="#bcbcb4" stroke-width="0.6"/><line x1="920.1" y1="204.9" x2="917.1" y2="205.0" stroke="#bcbcb4" stroke-width="0.6"/><path d="M933.2,212 Q922.8,204.3 913.6,196.7" stroke="#bcbcb4" stroke-width="0.8" fill="none"/><line x1="924.4" y1="205.1" x2="921.4" y2="204.7" stroke="#bcbcb4" stroke-width="0.6"/><line x1="919.5" y1="201.3" x2="916.5" y2="200.8" stroke="#bcbcb4" stroke-width="0.6"/><path d="M933.2,212 Q925.8,203.2 917.2,194.4" stroke="#bcbcb4" stroke-width="0.8" fill="none"/><line x1="926.0" y1="204.1" x2="925.2" y2="201.2" stroke="#bcbcb4" stroke-width="0.6"/><line x1="922.0" y1="199.7" x2="921.2" y2="196.8" stroke="#bcbcb4" stroke-width="0.6"/><path d="M933.2,212 Q926.2,202.7 919.1,193.5" stroke="#bcbcb4" stroke-width="0.8" fill="none"/><line x1="926.8" y1="203.7" x2="926.3" y2="200.7" stroke="#bcbcb4" stroke-width="0.6"/><line x1="923.3" y1="199.0" x2="920.5" y2="197.9" stroke="#bcbcb4" stroke-width="0.6"/><path d="M933.2,212 Q927.6,201.5 921.1,191.1" stroke="#bcbcb4" stroke-width="0.8" fill="none"/><line x1="927.7" y1="202.6" x2="925.1" y2="201.1" stroke="#bcbcb4" stroke-width="0.6"/><line x1="924.7" y1="197.3" x2="924.6" y2="194.3" stroke="#bcbcb4" stroke-width="0.6"/><path d="M933.2,212 Q926.4,198.1 921.7,184.1" stroke="#bcbcb4" stroke-width="0.8" fill="none"/><line x1="928.0" y1="199.5" x2="928.3" y2="196.5" stroke="#bcbcb4" stroke-width="0.6"/><line x1="925.1" y1="192.5" x2="925.4" y2="189.5" stroke="#bcbcb4" stroke-width="0.6"/><path d="M933.2,212 Q928.0,197.0 923.6,182.1" stroke="#bcbcb4" stroke-width="0.8" fill="none"/><line x1="928.9" y1="198.5" x2="926.7" y2="196.5" stroke="#bcbcb4" stroke-width="0.6"/><line x1="926.5" y1="191.1" x2="927.0" y2="188.1" stroke="#bcbcb4" stroke-width="0.6"/><path d="M933.2,212 Q929.1,197.9 926.9,183.9" stroke="#bcbcb4" stroke-width="0.8" fill="none"/><line x1="930.4" y1="199.4" x2="931.2" y2="196.5" stroke="#bcbcb4" stroke-width="0.6"/><line x1="928.8" y1="192.3" x2="929.6" y2="189.4" stroke="#bcbcb4" stroke-width="0.6"/><path d="M933.2,212 Q932.2,194.9 930.9,177.7" stroke="#bcbcb4" stroke-width="0.8" fill="none"/><line x1="932.2" y1="196.6" x2="933.4" y2="193.9" stroke="#bcbcb4" stroke-width="0.6"/><line x1="931.6" y1="188.0" x2="930.0" y2="185.5" stroke="#bcbcb4" stroke-width="0.6"/><path d="M933.2,212 Q936.2,195.4 936.5,178.7" stroke="#bcbcb4" stroke-width="0.8" fill="none"/><line x1="934.7" y1="197.0" x2="936.4" y2="194.6" stroke="#bcbcb4" stroke-width="0.6"/><line x1="935.5" y1="188.7" x2="934.4" y2="186.0" stroke="#bcbcb4" stroke-width="0.6"/><path d="M933.2,212 Q936.4,197.3 939.1,182.6" stroke="#bcbcb4" stroke-width="0.8" fill="none"/><line x1="935.9" y1="198.8" x2="935.0" y2="195.9" stroke="#bcbcb4" stroke-width="0.6"/><line x1="937.3" y1="191.5" x2="936.5" y2="188.6" stroke="#bcbcb4" stroke-width="0.6"/><path d="M933.2,212 Q937.8,196.5 943.2,181.1" stroke="#bcbcb4" stroke-width="0.8" fill="none"/><line x1="937.7" y1="198.1" x2="937.2" y2="195.1" stroke="#bcbcb4" stroke-width="0.6"/><line x1="940.2" y1="190.3" x2="939.7" y2="187.4" stroke="#bcbcb4" stroke-width="0.6"/><path d="M933.2,212 Q939.4,198.7 945.0,185.5" stroke="#bcbcb4" stroke-width="0.8" fill="none"/><line x1="938.5" y1="200.1" x2="940.9" y2="198.3" stroke="#bcbcb4" stroke-width="0.6"/><line x1="941.5" y1="193.4" x2="941.3" y2="190.4" stroke="#bcbcb4" stroke-width="0.6"/><path d="M933.2,212 Q939.2,201.4 945.8,190.7" stroke="#bcbcb4" stroke-width="0.8" fill="none"/><line x1="938.9" y1="202.4" x2="941.5" y2="200.9" stroke="#bcbcb4" stroke-width="0.6"/><line x1="942.0" y1="197.1" x2="942.2" y2="194.1" stroke="#bcbcb4" stroke-width="0.6"/><path d="M933.2,212 Q939.8,201.4 948.3,190.8" stroke="#bcbcb4" stroke-width="0.8" fill="none"/><line x1="940.0" y1="202.4" x2="942.7" y2="201.2" stroke="#bcbcb4" stroke-width="0.6"/><line x1="943.8" y1="197.1" x2="946.5" y2="195.9" stroke="#bcbcb4" stroke-width="0.6"/><path d="M933.2,212 Q942.7,202.6 952.3,193.2" stroke="#bcbcb4" stroke-width="0.8" fill="none"/><line x1="941.8" y1="203.5" x2="942.7" y2="200.7" stroke="#bcbcb4" stroke-width="0.6"/><line x1="946.6" y1="198.8" x2="947.5" y2="196.0" stroke="#bcbcb4" stroke-width="0.6"/><path d="M933.2,212 Q940.6,206.1 949.0,200.2" stroke="#bcbcb4" stroke-width="0.8" fill="none"/><line x1="940.3" y1="206.7" x2="943.3" y2="206.3" stroke="#bcbcb4" stroke-width="0.6"/><line x1="944.3" y1="203.7" x2="947.3" y2="203.4" stroke="#bcbcb4" stroke-width="0.6"/><path d="M933.2,212 Q940.6,207.3 949.9,202.6" stroke="#bcbcb4" stroke-width="0.8" fill="none"/><line x1="940.7" y1="207.8" x2="943.7" y2="207.8" stroke="#bcbcb4" stroke-width="0.6"/><line x1="944.9" y1="205.4" x2="947.9" y2="205.5" stroke="#bcbcb4" stroke-width="0.6"/><ellipse cx="933.2" cy="198" rx="6" ry="9" fill="#d4d4ce" opacity="0.6"/><path d="M1063.6,290.0 L1063.2,289.5 L1062.6,288.8 L1062.0,288.1 L1061.4,287.2 L1060.6,286.3 L1059.8,285.3 L1059.0,284.3 L1058.1,283.3 L1057.2,282.2 L1056.4,281.1 L1055.5,280.0 L1054.6,279.0 L1053.7,278.0 L1052.9,277.1 L1052.1,276.3 L1051.4,275.5 L1050.7,274.8 L1050.0,274.2 L1049.4,273.5 L1048.7,272.9 L1048.1,272.4 L1047.5,271.8 L1046.8,271.3 L1046.2,270.8 L1045.6,270.3 L1045.0,269.9 L1044.4,269.4 L1043.8,269.0 L1043.2,268.6 L1042.6,268.2 L1041.9,267.8 L1041.3,267.4 L1040.6,267.0 L1040.0,266.7 L1039.2,266.3 L1038.5,266.0 L1037.8,265.7 L1037.0,265.4 L1036.3,265.1 L1035.6,264.8 L1034.9,264.6 L1034.2,264.4 L1033.5,264.1 L1032.9,263.9 L1032.4,263.8 L1031.9,263.6 L1031.5,263.4 L1031.1,263.3" stroke="#a8a8a3" stroke-width="0.9" fill="none"/><polygon points="1060.3,285.9 1059.2,285.5 1058.2,285.4 1057.2,285.4 1056.3,285.6 1055.3,285.9 1054.4,286.3 1053.5,286.8 1052.7,287.6 1052.8,287.9 1053.9,288.2 1054.9,288.3 1055.9,288.3 1056.8,288.2 1057.8,287.9 1058.7,287.4 1059.6,286.9 1060.4,286.1" fill="#c7c7c3" stroke="#b5b5b0" stroke-width="0.4"/><polygon points="1060.5,286.1 1061.4,285.4 1062.1,284.7 1062.7,283.9 1063.2,283.0 1063.6,282.1 1063.8,281.1 1063.9,280.1 1063.8,279.0 1063.5,278.9 1062.6,279.5 1061.9,280.3 1061.3,281.1 1060.8,281.9 1060.5,282.8 1060.2,283.8 1060.1,284.8 1060.2,285.9" fill="#c7c7c3" stroke="#b5b5b0" stroke-width="0.4"/><polygon points="1057.7,282.6 1056.1,282.1 1054.5,282.0 1053.0,282.0 1051.6,282.2 1050.2,282.7 1048.8,283.3 1047.5,284.2 1046.3,285.3 1046.4,285.6 1048.0,286.0 1049.5,286.2 1051.0,286.2 1052.5,285.9 1053.9,285.5 1055.2,284.9 1056.5,284.0 1057.7,282.9" fill="#c7c7c3" stroke="#b5b5b0" stroke-width="0.4"/><polygon points="1057.8,282.8 1059.2,281.8 1060.3,280.7 1061.2,279.5 1061.9,278.2 1062.4,276.8 1062.7,275.4 1062.8,273.8 1062.7,272.2 1062.4,272.0 1061.1,273.0 1060.0,274.1 1059.1,275.3 1058.4,276.6 1057.9,278.0 1057.6,279.5 1057.4,281.0 1057.6,282.7" fill="#c7c7c3" stroke="#b5b5b0" stroke-width="0.4"/><polygon points="1055.0,279.4 1053.5,279.0 1052.2,278.9 1050.8,278.9 1049.6,279.2 1048.3,279.6 1047.2,280.2 1046.0,280.9 1044.9,282.0 1045.0,282.2 1046.4,282.6 1047.8,282.7 1049.1,282.7 1050.4,282.5 1051.6,282.0 1052.8,281.4 1054.0,280.7 1055.1,279.7" fill="#c7c7c3" stroke="#b5b5b0" stroke-width="0.4"/><polygon points="1055.2,279.6 1056.3,278.7 1057.3,277.7 1058.0,276.6 1058.6,275.4 1059.1,274.2 1059.3,272.9 1059.4,271.5 1059.3,270.1 1059.0,269.9 1057.8,270.8 1056.9,271.9 1056.1,272.9 1055.5,274.1 1055.1,275.3 1054.8,276.6 1054.7,278.0 1054.9,279.5" fill="#c7c7c3" stroke="#b5b5b0" stroke-width="0.4"/><polygon points="1052.2,276.2 1050.9,275.9 1049.7,275.9 1048.6,276.0 1047.5,276.2 1046.4,276.6 1045.4,277.2 1044.4,277.9 1043.5,278.8 1043.6,279.1 1044.9,279.4 1046.1,279.4 1047.2,279.3 1048.3,279.1 1049.4,278.7 1050.4,278.1 1051.4,277.4 1052.3,276.5" fill="#c7c7c3" stroke="#b5b5b0" stroke-width="0.4"/><polygon points="1052.4,276.4 1053.4,275.6 1054.1,274.7 1054.8,273.7 1055.3,272.7 1055.6,271.6 1055.8,270.5 1055.8,269.3 1055.7,268.0 1055.4,267.9 1054.4,268.7 1053.6,269.6 1053.0,270.6 1052.5,271.6 1052.1,272.7 1052.0,273.8 1051.9,275.0 1052.1,276.3" fill="#c7c7c3" stroke="#b5b5b0" stroke-width="0.4"/><polygon points="1049.2,273.3 1048.1,273.1 1047.1,273.2 1046.1,273.3 1045.2,273.6 1044.3,274.0 1043.5,274.6 1042.8,275.2 1042.1,276.1 1042.2,276.3 1043.3,276.5 1044.3,276.5 1045.2,276.3 1046.2,276.0 1047.0,275.6 1047.8,275.1 1048.6,274.4 1049.3,273.5" fill="#c7c7c3" stroke="#b5b5b0" stroke-width="0.4"/><polygon points="1049.4,273.5 1050.2,272.7 1050.8,271.9 1051.2,271.0 1051.6,270.1 1051.8,269.2 1051.9,268.2 1051.8,267.2 1051.6,266.1 1051.3,266.0 1050.5,266.8 1049.9,267.6 1049.4,268.5 1049.1,269.4 1048.9,270.3 1048.8,271.3 1048.9,272.3 1049.1,273.4" fill="#c7c7c3" stroke="#b5b5b0" stroke-width="0.4"/><polygon points="1046.0,270.5 1045.1,270.5 1044.3,270.6 1043.5,270.8 1042.8,271.1 1042.1,271.5 1041.5,272.0 1040.9,272.6 1040.4,273.3 1040.5,273.6 1041.4,273.6 1042.2,273.5 1043.0,273.3 1043.7,273.0 1044.4,272.6 1045.0,272.1 1045.6,271.5 1046.1,270.8" fill="#c7c7c3" stroke="#b5b5b0" stroke-width="0.4"/><polygon points="1046.2,270.7 1046.8,270.0 1047.2,269.3 1047.6,268.6 1047.8,267.8 1047.9,267.1 1047.9,266.3 1047.8,265.4 1047.5,264.6 1047.2,264.5 1046.6,265.2 1046.2,265.9 1045.9,266.6 1045.6,267.4 1045.5,268.2 1045.5,269.0 1045.7,269.8 1045.9,270.6" fill="#c7c7c3" stroke="#b5b5b0" stroke-width="0.4"/><polygon points="1042.6,268.1 1041.9,268.1 1041.2,268.3 1040.7,268.5 1040.1,268.7 1039.6,269.1 1039.2,269.5 1038.8,270.0 1038.4,270.6 1038.6,270.8 1039.3,270.8 1039.9,270.7 1040.5,270.5 1041.0,270.2 1041.5,269.9 1042.0,269.5 1042.4,269.0 1042.7,268.4" fill="#c7c7c3" stroke="#b5b5b0" stroke-width="0.4"/><polygon points="1042.8,268.3 1043.2,267.7 1043.5,267.1 1043.7,266.5 1043.8,265.9 1043.8,265.3 1043.8,264.7 1043.7,264.1 1043.4,263.5 1043.1,263.4 1042.7,264.0 1042.4,264.6 1042.2,265.1 1042.1,265.7 1042.0,266.3 1042.1,267.0 1042.2,267.6 1042.5,268.2" fill="#c7c7c3" stroke="#b5b5b0" stroke-width="0.4"/><polygon points="1038.9,266.1 1038.4,266.1 1037.9,266.2 1037.5,266.4 1037.1,266.6 1036.8,266.9 1036.6,267.3 1036.4,267.7 1036.3,268.2 1036.5,268.5 1037.0,268.4 1037.5,268.3 1037.9,268.2 1038.2,267.9 1038.5,267.6 1038.8,267.3 1039.0,266.8 1039.1,266.3" fill="#c7c7c3" stroke="#b5b5b0" stroke-width="0.4"/><polygon points="1039.1,266.2 1039.4,265.8 1039.6,265.3 1039.7,264.9 1039.8,264.5 1039.7,264.1 1039.6,263.7 1039.4,263.3 1039.0,262.8 1038.7,262.9 1038.4,263.3 1038.2,263.7 1038.1,264.1 1038.1,264.6 1038.1,265.0 1038.3,265.4 1038.5,265.8 1038.8,266.2" fill="#c7c7c3" stroke="#b5b5b0" stroke-width="0.4"/><polygon points="1035.0,264.6 1034.6,264.5 1034.3,264.5 1034.0,264.6 1033.8,264.7 1033.7,264.9 1033.6,265.1 1033.6,265.4 1033.7,265.8 1033.9,266.0 1034.3,266.1 1034.6,266.1 1034.8,266.0 1035.0,265.9 1035.2,265.7 1035.2,265.5 1035.2,265.2 1035.2,264.8" fill="#c7c7c3" stroke="#b5b5b0" stroke-width="0.4"/><polygon points="1035.2,264.7 1035.5,264.4 1035.7,264.1 1035.8,263.9 1035.8,263.7 1035.7,263.5 1035.6,263.2 1035.4,263.0 1035.0,262.9 1034.7,262.9 1034.4,263.2 1034.2,263.4 1034.1,263.6 1034.1,263.9 1034.2,264.1 1034.3,264.3 1034.6,264.5 1034.9,264.7" fill="#c7c7c3" stroke="#b5b5b0" stroke-width="0.4"/><path d="M1070.7,290.0 L1071.2,289.3 L1071.9,288.4 L1072.7,287.3 L1073.5,286.1 L1074.5,284.8 L1075.5,283.4 L1076.5,282.0 L1077.6,280.5 L1078.7,278.9 L1079.8,277.4 L1080.9,275.9 L1082.0,274.4 L1083.1,273.0 L1084.1,271.7 L1085.1,270.5 L1086.0,269.4 L1086.9,268.4 L1087.7,267.4 L1088.5,266.5 L1089.3,265.7 L1090.1,264.8 L1090.9,264.0 L1091.7,263.3 L1092.5,262.5 L1093.2,261.8 L1094.0,261.1 L1094.7,260.4 L1095.4,259.8 L1096.1,259.1 L1096.8,258.5 L1097.5,257.8 L1098.2,257.2 L1098.9,256.6 L1099.5,255.9 L1100.2,255.3 L1100.9,254.7 L1101.6,254.1 L1102.2,253.5 L1102.9,252.9 L1103.5,252.4 L1104.1,251.9 L1104.7,251.4 L1105.2,250.9 L1105.7,250.5 L1106.2,250.1 L1106.6,249.7 L1107.0,249.4 L1107.3,249.1" stroke="#a8a8a3" stroke-width="0.9" fill="none"/><polygon points="1074.7,284.6 1074.7,283.5 1074.6,282.4 1074.3,281.5 1073.9,280.6 1073.4,279.8 1072.7,279.0 1071.9,278.3 1071.0,277.7 1070.7,277.8 1070.7,279.0 1070.9,280.0 1071.2,280.9 1071.6,281.8 1072.1,282.7 1072.7,283.4 1073.5,284.1 1074.4,284.7" fill="#c7c7c3" stroke="#b5b5b0" stroke-width="0.4"/><polygon points="1074.5,284.8 1075.4,285.5 1076.3,286.0 1077.2,286.4 1078.2,286.6 1079.2,286.7 1080.2,286.6 1081.2,286.5 1082.2,286.1 1082.3,285.8 1081.4,285.1 1080.5,284.6 1079.6,284.2 1078.6,284.0 1077.7,283.9 1076.7,283.9 1075.7,284.1 1074.6,284.5" fill="#c7c7c3" stroke="#b5b5b0" stroke-width="0.4"/><polygon points="1077.2,281.2 1077.2,279.4 1077.0,277.9 1076.5,276.4 1075.9,275.0 1075.1,273.8 1074.1,272.6 1073.0,271.5 1071.5,270.6 1071.3,270.7 1071.2,272.4 1071.5,274.0 1071.9,275.5 1072.5,276.9 1073.3,278.1 1074.3,279.3 1075.5,280.4 1076.9,281.3" fill="#c7c7c3" stroke="#b5b5b0" stroke-width="0.4"/><polygon points="1077.0,281.4 1078.3,282.5 1079.7,283.2 1081.1,283.8 1082.6,284.2 1084.1,284.3 1085.6,284.3 1087.2,284.0 1088.8,283.4 1088.9,283.1 1087.5,282.1 1086.1,281.3 1084.7,280.7 1083.3,280.3 1081.8,280.2 1080.2,280.3 1078.7,280.5 1077.1,281.1" fill="#c7c7c3" stroke="#b5b5b0" stroke-width="0.4"/><polygon points="1079.6,277.8 1079.7,276.2 1079.5,274.8 1079.1,273.4 1078.5,272.2 1077.8,271.0 1076.9,269.9 1075.9,268.9 1074.5,268.1 1074.3,268.2 1074.2,269.8 1074.5,271.2 1074.8,272.6 1075.4,273.8 1076.1,275.0 1077.0,276.1 1078.1,277.1 1079.4,277.9" fill="#c7c7c3" stroke="#b5b5b0" stroke-width="0.4"/><polygon points="1079.5,278.0 1080.7,279.0 1082.0,279.7 1083.2,280.2 1084.6,280.6 1085.9,280.7 1087.3,280.7 1088.8,280.4 1090.3,279.9 1090.3,279.6 1089.1,278.7 1087.8,277.9 1086.5,277.4 1085.2,277.1 1083.8,276.9 1082.4,277.0 1081.0,277.2 1079.5,277.7" fill="#c7c7c3" stroke="#b5b5b0" stroke-width="0.4"/><polygon points="1082.1,274.4 1082.2,273.0 1082.0,271.7 1081.7,270.5 1081.2,269.3 1080.6,268.2 1079.8,267.3 1078.8,266.4 1077.6,265.6 1077.4,265.7 1077.3,267.1 1077.5,268.4 1077.8,269.7 1078.3,270.8 1078.9,271.9 1079.7,272.8 1080.7,273.7 1081.9,274.5" fill="#c7c7c3" stroke="#b5b5b0" stroke-width="0.4"/><polygon points="1082.0,274.6 1083.1,275.5 1084.2,276.2 1085.4,276.7 1086.6,277.0 1087.8,277.2 1089.1,277.1 1090.4,276.9 1091.7,276.5 1091.8,276.2 1090.7,275.3 1089.6,274.6 1088.4,274.1 1087.2,273.8 1086.0,273.7 1084.7,273.7 1083.4,273.9 1082.0,274.3" fill="#c7c7c3" stroke="#b5b5b0" stroke-width="0.4"/><polygon points="1084.7,271.1 1084.8,269.8 1084.7,268.6 1084.4,267.5 1084.0,266.5 1083.5,265.5 1082.8,264.6 1081.9,263.8 1080.9,263.1 1080.6,263.2 1080.5,264.5 1080.7,265.6 1080.9,266.7 1081.3,267.8 1081.9,268.7 1082.6,269.6 1083.4,270.5 1084.4,271.2" fill="#c7c7c3" stroke="#b5b5b0" stroke-width="0.4"/><polygon points="1084.5,271.3 1085.5,272.1 1086.5,272.8 1087.5,273.2 1088.6,273.6 1089.7,273.7 1090.8,273.7 1092.0,273.6 1093.2,273.2 1093.3,272.9 1092.3,272.1 1091.3,271.5 1090.3,271.0 1089.2,270.7 1088.1,270.5 1087.0,270.5 1085.8,270.6 1084.6,271.0" fill="#c7c7c3" stroke="#b5b5b0" stroke-width="0.4"/><polygon points="1087.4,267.9 1087.5,266.8 1087.5,265.7 1087.3,264.7 1087.0,263.8 1086.6,262.9 1086.0,262.1 1085.3,261.4 1084.4,260.7 1084.1,260.8 1084.0,261.9 1084.1,262.9 1084.2,263.9 1084.6,264.8 1085.0,265.7 1085.6,266.5 1086.3,267.3 1087.1,268.0" fill="#c7c7c3" stroke="#b5b5b0" stroke-width="0.4"/><polygon points="1087.2,268.1 1088.0,268.9 1088.9,269.4 1089.8,269.9 1090.7,270.2 1091.6,270.4 1092.6,270.5 1093.7,270.4 1094.8,270.1 1094.8,269.9 1094.0,269.1 1093.2,268.5 1092.3,268.0 1091.4,267.7 1090.4,267.5 1089.4,267.4 1088.4,267.5 1087.3,267.8" fill="#c7c7c3" stroke="#b5b5b0" stroke-width="0.4"/><polygon points="1090.3,264.8 1090.4,263.8 1090.4,263.0 1090.3,262.1 1090.1,261.3 1089.7,260.5 1089.3,259.8 1088.7,259.1 1088.0,258.5 1087.7,258.6 1087.5,259.5 1087.5,260.4 1087.7,261.3 1087.9,262.1 1088.2,262.9 1088.7,263.6 1089.3,264.3 1090.0,264.9" fill="#c7c7c3" stroke="#b5b5b0" stroke-width="0.4"/><polygon points="1090.1,265.0 1090.7,265.7 1091.4,266.2 1092.2,266.7 1093.0,267.0 1093.8,267.2 1094.6,267.3 1095.5,267.2 1096.5,267.1 1096.6,266.8 1095.9,266.1 1095.2,265.5 1094.5,265.1 1093.7,264.8 1092.9,264.6 1092.0,264.5 1091.1,264.5 1090.2,264.7" fill="#c7c7c3" stroke="#b5b5b0" stroke-width="0.4"/><polygon points="1093.3,261.9 1093.4,261.1 1093.5,260.3 1093.4,259.6 1093.2,258.9 1093.0,258.3 1092.6,257.7 1092.2,257.1 1091.6,256.5 1091.3,256.6 1091.1,257.4 1091.1,258.1 1091.2,258.8 1091.3,259.5 1091.6,260.2 1092.0,260.8 1092.4,261.4 1093.0,262.0" fill="#c7c7c3" stroke="#b5b5b0" stroke-width="0.4"/><polygon points="1093.1,262.0 1093.6,262.7 1094.2,263.1 1094.8,263.5 1095.4,263.8 1096.1,264.0 1096.8,264.1 1097.5,264.1 1098.3,264.0 1098.4,263.7 1097.9,263.1 1097.4,262.6 1096.8,262.3 1096.1,262.0 1095.4,261.8 1094.7,261.7 1094.0,261.6 1093.2,261.8" fill="#c7c7c3" stroke="#b5b5b0" stroke-width="0.4"/><polygon points="1096.4,259.0 1096.5,258.4 1096.5,257.8 1096.5,257.2 1096.4,256.7 1096.2,256.1 1095.9,255.6 1095.5,255.2 1095.1,254.7 1094.8,254.8 1094.6,255.4 1094.6,256.0 1094.6,256.6 1094.8,257.1 1095.0,257.7 1095.2,258.2 1095.6,258.7 1096.1,259.1" fill="#c7c7c3" stroke="#b5b5b0" stroke-width="0.4"/><polygon points="1096.2,259.2 1096.6,259.7 1097.0,260.1 1097.5,260.4 1098.0,260.7 1098.5,260.8 1099.1,260.9 1099.7,260.9 1100.3,260.8 1100.5,260.5 1100.0,260.0 1099.6,259.6 1099.1,259.3 1098.6,259.1 1098.1,258.9 1097.5,258.8 1096.9,258.8 1096.3,258.9" fill="#c7c7c3" stroke="#b5b5b0" stroke-width="0.4"/><polygon points="1099.4,256.1 1099.6,255.6 1099.7,255.2 1099.7,254.8 1099.6,254.3 1099.4,254.0 1099.2,253.6 1098.9,253.3 1098.5,252.9 1098.2,253.0 1098.0,253.5 1097.9,254.0 1097.9,254.4 1098.0,254.8 1098.1,255.2 1098.4,255.6 1098.7,255.9 1099.1,256.2" fill="#c7c7c3" stroke="#b5b5b0" stroke-width="0.4"/><polygon points="1099.2,256.3 1099.5,256.8 1099.8,257.1 1100.2,257.4 1100.5,257.6 1100.9,257.7 1101.4,257.7 1101.8,257.7 1102.3,257.5 1102.4,257.2 1102.2,256.8 1101.9,256.4 1101.5,256.2 1101.1,256.0 1100.7,255.9 1100.3,255.9 1099.8,255.9 1099.3,256.0" fill="#c7c7c3" stroke="#b5b5b0" stroke-width="0.4"/><polygon points="1102.5,253.3 1102.8,253.0 1102.9,252.7 1103.0,252.4 1102.9,252.1 1102.8,251.9 1102.6,251.6 1102.4,251.4 1102.0,251.3 1101.7,251.4 1101.4,251.7 1101.3,252.0 1101.3,252.3 1101.3,252.6 1101.4,252.8 1101.6,253.0 1101.9,253.2 1102.3,253.4" fill="#c7c7c3" stroke="#b5b5b0" stroke-width="0.4"/><polygon points="1102.3,253.5 1102.5,253.9 1102.6,254.2 1102.8,254.4 1103.1,254.6 1103.3,254.6 1103.6,254.6 1103.9,254.5 1104.3,254.3 1104.4,254.0 1104.3,253.6 1104.1,253.4 1103.9,253.1 1103.7,253.0 1103.4,252.9 1103.1,252.9 1102.8,253.0 1102.5,253.2" fill="#c7c7c3" stroke="#b5b5b0" stroke-width="0.4"/><path d="M1065.0,294.0 L1064.9,293.2 L1064.7,292.1 L1064.5,290.9 L1064.3,289.6 L1064.0,288.1 L1063.7,286.6 L1063.5,284.9 L1063.2,283.2 L1062.9,281.5 L1062.6,279.8 L1062.3,278.0 L1062.0,276.3 L1061.7,274.6 L1061.5,273.0 L1061.2,271.4 L1061.0,270.0 L1060.8,268.6 L1060.6,267.3 L1060.3,266.0 L1060.1,264.8 L1059.9,263.5 L1059.7,262.3 L1059.5,261.1 L1059.3,259.9 L1059.1,258.7 L1058.9,257.5 L1058.7,256.3 L1058.6,255.0 L1058.4,253.8 L1058.2,252.6 L1058.1,251.3 L1058.0,250.0 L1057.9,248.6 L1057.8,247.2 L1057.7,245.7 L1057.7,244.1 L1057.6,242.5 L1057.6,240.9 L1057.6,239.3 L1057.6,237.8 L1057.5,236.2 L1057.5,234.7 L1057.5,233.3 L1057.5,232.0 L1057.5,230.8 L1057.5,229.7 L1057.5,228.8 L1057.5,228.0" stroke="#a8a8a3" stroke-width="0.9" fill="none"/><polygon points="1061.7,274.2 1061.1,273.5 1060.4,273.0 1059.6,272.6 1058.9,272.3 1058.1,272.1 1057.2,272.0 1056.3,272.1 1055.4,272.3 1055.3,272.6 1056.0,273.2 1056.7,273.7 1057.4,274.2 1058.2,274.4 1059.0,274.6 1059.9,274.7 1060.7,274.6 1061.7,274.4" fill="#c7c7c3" stroke="#b5b5b0" stroke-width="0.4"/><polygon points="1061.8,274.4 1062.7,274.3 1063.6,274.1 1064.3,273.8 1065.0,273.3 1065.7,272.8 1066.3,272.2 1066.8,271.5 1067.2,270.6 1067.0,270.4 1066.1,270.5 1065.2,270.7 1064.4,271.0 1063.7,271.5 1063.1,272.0 1062.5,272.6 1062.0,273.3 1061.6,274.2" fill="#c7c7c3" stroke="#b5b5b0" stroke-width="0.4"/><polygon points="1061.1,270.0 1060.1,269.0 1059.0,268.2 1057.9,267.6 1056.7,267.1 1055.4,266.8 1054.2,266.7 1052.8,266.8 1051.4,267.1 1051.3,267.4 1052.3,268.4 1053.4,269.2 1054.5,269.8 1055.7,270.3 1056.9,270.6 1058.2,270.7 1059.6,270.6 1061.0,270.3" fill="#c7c7c3" stroke="#b5b5b0" stroke-width="0.4"/><polygon points="1061.1,270.3 1062.5,270.1 1063.8,269.8 1065.0,269.3 1066.1,268.6 1067.1,267.8 1068.0,266.9 1068.7,265.8 1069.4,264.5 1069.2,264.2 1067.8,264.4 1066.5,264.7 1065.3,265.2 1064.2,265.9 1063.2,266.7 1062.3,267.6 1061.6,268.7 1060.9,270.0" fill="#c7c7c3" stroke="#b5b5b0" stroke-width="0.4"/><polygon points="1060.4,265.9 1059.5,264.9 1058.5,264.2 1057.4,263.7 1056.3,263.3 1055.2,263.0 1054.0,262.9 1052.8,263.0 1051.5,263.3 1051.5,263.6 1052.4,264.5 1053.4,265.2 1054.4,265.8 1055.5,266.2 1056.6,266.4 1057.8,266.5 1059.0,266.5 1060.3,266.2" fill="#c7c7c3" stroke="#b5b5b0" stroke-width="0.4"/><polygon points="1060.4,266.1 1061.7,266.0 1062.9,265.6 1064.0,265.2 1065.0,264.6 1065.8,263.8 1066.6,262.9 1067.3,261.9 1067.9,260.8 1067.7,260.5 1066.4,260.7 1065.2,261.0 1064.2,261.5 1063.2,262.1 1062.3,262.8 1061.5,263.7 1060.8,264.7 1060.2,265.9" fill="#c7c7c3" stroke="#b5b5b0" stroke-width="0.4"/><polygon points="1059.7,261.7 1058.8,260.9 1057.9,260.2 1057.0,259.7 1056.0,259.4 1055.0,259.2 1054.0,259.1 1052.9,259.1 1051.7,259.4 1051.6,259.7 1052.5,260.5 1053.4,261.2 1054.3,261.7 1055.3,262.1 1056.3,262.3 1057.3,262.3 1058.4,262.3 1059.6,262.0" fill="#c7c7c3" stroke="#b5b5b0" stroke-width="0.4"/><polygon points="1059.7,262.0 1060.9,261.9 1061.9,261.6 1062.9,261.1 1063.8,260.6 1064.6,259.9 1065.3,259.1 1065.9,258.2 1066.4,257.2 1066.3,256.9 1065.1,257.1 1064.0,257.4 1063.1,257.8 1062.2,258.3 1061.4,259.0 1060.7,259.8 1060.0,260.7 1059.5,261.8" fill="#c7c7c3" stroke="#b5b5b0" stroke-width="0.4"/><polygon points="1059.0,257.6 1058.3,256.8 1057.5,256.2 1056.7,255.8 1055.8,255.5 1054.9,255.2 1054.0,255.2 1053.0,255.2 1052.0,255.4 1051.9,255.7 1052.6,256.5 1053.4,257.0 1054.2,257.5 1055.1,257.8 1056.0,258.1 1056.9,258.1 1057.9,258.1 1058.9,257.9" fill="#c7c7c3" stroke="#b5b5b0" stroke-width="0.4"/><polygon points="1059.0,257.9 1060.1,257.7 1061.0,257.5 1061.9,257.1 1062.7,256.7 1063.4,256.1 1064.0,255.4 1064.6,254.6 1065.1,253.6 1064.9,253.4 1063.8,253.5 1062.9,253.8 1062.0,254.1 1061.2,254.6 1060.5,255.2 1059.9,255.9 1059.3,256.7 1058.9,257.6" fill="#c7c7c3" stroke="#b5b5b0" stroke-width="0.4"/><polygon points="1058.4,253.4 1057.8,252.7 1057.1,252.2 1056.4,251.8 1055.7,251.5 1054.9,251.2 1054.1,251.1 1053.3,251.1 1052.4,251.3 1052.3,251.6 1052.9,252.3 1053.5,252.8 1054.2,253.2 1055.0,253.6 1055.7,253.8 1056.6,253.9 1057.4,253.9 1058.3,253.7" fill="#c7c7c3" stroke="#b5b5b0" stroke-width="0.4"/><polygon points="1058.4,253.7 1059.4,253.6 1060.2,253.4 1061.0,253.2 1061.7,252.8 1062.3,252.3 1062.9,251.7 1063.4,251.0 1063.8,250.2 1063.7,250.0 1062.8,250.0 1061.9,250.2 1061.2,250.5 1060.5,250.9 1059.8,251.4 1059.2,252.0 1058.7,252.6 1058.3,253.4" fill="#c7c7c3" stroke="#b5b5b0" stroke-width="0.4"/><polygon points="1058.0,249.3 1057.5,248.6 1057.0,248.2 1056.4,247.8 1055.8,247.5 1055.1,247.3 1054.4,247.2 1053.7,247.1 1052.9,247.2 1052.8,247.5 1053.3,248.1 1053.9,248.6 1054.4,249.0 1055.1,249.3 1055.7,249.5 1056.4,249.6 1057.1,249.6 1057.9,249.5" fill="#c7c7c3" stroke="#b5b5b0" stroke-width="0.4"/><polygon points="1058.0,249.5 1058.8,249.5 1059.5,249.4 1060.2,249.2 1060.8,248.9 1061.4,248.5 1061.9,248.0 1062.3,247.4 1062.7,246.8 1062.6,246.5 1061.8,246.5 1061.1,246.7 1060.4,246.9 1059.8,247.2 1059.3,247.6 1058.7,248.0 1058.3,248.6 1057.9,249.3" fill="#c7c7c3" stroke="#b5b5b0" stroke-width="0.4"/><polygon points="1057.8,245.1 1057.4,244.5 1057.0,244.1 1056.5,243.8 1056.0,243.5 1055.5,243.3 1054.9,243.2 1054.3,243.2 1053.7,243.2 1053.6,243.5 1053.9,244.0 1054.4,244.5 1054.8,244.8 1055.3,245.1 1055.9,245.3 1056.4,245.4 1057.0,245.4 1057.7,245.3" fill="#c7c7c3" stroke="#b5b5b0" stroke-width="0.4"/><polygon points="1057.8,245.3 1058.4,245.4 1059.0,245.3 1059.6,245.1 1060.1,244.9 1060.6,244.6 1061.0,244.2 1061.4,243.8 1061.8,243.2 1061.6,243.0 1061.0,242.9 1060.4,243.0 1059.8,243.2 1059.3,243.4 1058.8,243.7 1058.4,244.1 1058.0,244.5 1057.7,245.1" fill="#c7c7c3" stroke="#b5b5b0" stroke-width="0.4"/><polygon points="1057.7,240.9 1057.4,240.4 1057.1,240.0 1056.8,239.7 1056.4,239.5 1056.0,239.4 1055.5,239.3 1055.0,239.3 1054.5,239.4 1054.4,239.7 1054.6,240.2 1054.9,240.5 1055.3,240.8 1055.7,241.0 1056.1,241.2 1056.5,241.3 1057.0,241.2 1057.5,241.1" fill="#c7c7c3" stroke="#b5b5b0" stroke-width="0.4"/><polygon points="1057.7,241.1 1058.2,241.2 1058.7,241.2 1059.1,241.1 1059.5,241.0 1059.9,240.7 1060.2,240.4 1060.5,240.0 1060.8,239.5 1060.6,239.3 1060.1,239.2 1059.6,239.2 1059.2,239.3 1058.8,239.4 1058.4,239.7 1058.1,240.0 1057.8,240.4 1057.5,240.9" fill="#c7c7c3" stroke="#b5b5b0" stroke-width="0.4"/><polygon points="1057.6,236.7 1057.5,236.2 1057.3,235.9 1057.1,235.7 1056.8,235.5 1056.5,235.4 1056.2,235.4 1055.8,235.4 1055.4,235.6 1055.3,235.9 1055.4,236.3 1055.6,236.6 1055.8,236.9 1056.1,237.0 1056.4,237.1 1056.7,237.2 1057.1,237.1 1057.5,236.9" fill="#c7c7c3" stroke="#b5b5b0" stroke-width="0.4"/><polygon points="1057.6,236.9 1058.0,237.1 1058.4,237.1 1058.7,237.1 1059.0,237.0 1059.3,236.8 1059.5,236.6 1059.7,236.3 1059.8,235.8 1059.7,235.6 1059.3,235.4 1058.9,235.4 1058.6,235.4 1058.3,235.5 1058.0,235.7 1057.8,235.9 1057.6,236.2 1057.5,236.7" fill="#c7c7c3" stroke="#b5b5b0" stroke-width="0.4"/><polygon points="1057.6,232.5 1057.6,232.1 1057.5,231.8 1057.4,231.7 1057.3,231.5 1057.1,231.5 1056.9,231.5 1056.7,231.7 1056.4,231.9 1056.2,232.1 1056.2,232.5 1056.3,232.8 1056.4,233.0 1056.5,233.1 1056.7,233.1 1056.9,233.1 1057.2,233.0 1057.5,232.7" fill="#c7c7c3" stroke="#b5b5b0" stroke-width="0.4"/><polygon points="1057.6,232.7 1057.9,233.0 1058.1,233.1 1058.3,233.1 1058.5,233.1 1058.7,232.9 1058.8,232.8 1058.8,232.5 1058.8,232.1 1058.7,231.9 1058.4,231.6 1058.2,231.5 1057.9,231.5 1057.8,231.5 1057.6,231.6 1057.5,231.8 1057.5,232.1 1057.5,232.5" fill="#c7c7c3" stroke="#b5b5b0" stroke-width="0.4"/><path d="M1068.0,294.0 L1068.1,293.2 L1068.3,292.1 L1068.5,290.9 L1068.7,289.6 L1069.0,288.1 L1069.3,286.6 L1069.5,284.9 L1069.8,283.2 L1070.1,281.5 L1070.4,279.8 L1070.7,278.0 L1071.0,276.3 L1071.3,274.6 L1071.5,273.0 L1071.8,271.4 L1072.0,270.0 L1072.2,268.6 L1072.4,267.3 L1072.7,265.9 L1072.9,264.6 L1073.1,263.3 L1073.3,262.0 L1073.5,260.8 L1073.7,259.5 L1073.9,258.3 L1074.1,257.0 L1074.2,255.8 L1074.4,254.6 L1074.6,253.4 L1074.7,252.3 L1074.9,251.1 L1075.0,250.0 L1075.1,248.9 L1075.2,247.7 L1075.3,246.5 L1075.4,245.3 L1075.5,244.2 L1075.6,243.0 L1075.6,241.9 L1075.7,240.8 L1075.7,239.7 L1075.8,238.7 L1075.8,237.7 L1075.9,236.8 L1075.9,236.0 L1075.9,235.2 L1076.0,234.6 L1076.0,234.0" stroke="#a8a8a3" stroke-width="0.9" fill="none"/><polygon points="1071.1,276.0 1070.7,275.1 1070.2,274.4 1069.6,273.8 1069.0,273.2 1068.3,272.8 1067.5,272.5 1066.7,272.2 1065.7,272.1 1065.5,272.4 1065.9,273.2 1066.5,273.9 1067.0,274.6 1067.7,275.1 1068.4,275.5 1069.1,275.9 1070.0,276.1 1070.9,276.2" fill="#c7c7c3" stroke="#b5b5b0" stroke-width="0.4"/><polygon points="1071.1,276.2 1072.0,276.4 1072.8,276.5 1073.7,276.4 1074.5,276.2 1075.3,275.9 1076.0,275.5 1076.7,275.0 1077.4,274.3 1077.3,274.0 1076.4,273.8 1075.5,273.8 1074.7,273.9 1073.8,274.0 1073.1,274.3 1072.3,274.7 1071.6,275.3 1071.0,275.9" fill="#c7c7c3" stroke="#b5b5b0" stroke-width="0.4"/><polygon points="1071.8,271.8 1071.2,270.5 1070.4,269.4 1069.5,268.5 1068.6,267.7 1067.5,267.0 1066.3,266.5 1065.0,266.2 1063.6,266.0 1063.4,266.3 1064.0,267.6 1064.8,268.7 1065.7,269.6 1066.6,270.4 1067.7,271.0 1068.9,271.5 1070.2,271.9 1071.6,272.1" fill="#c7c7c3" stroke="#b5b5b0" stroke-width="0.4"/><polygon points="1071.7,272.1 1073.1,272.4 1074.5,272.4 1075.7,272.3 1077.0,272.1 1078.1,271.6 1079.3,271.0 1080.3,270.2 1081.3,269.2 1081.2,268.9 1079.8,268.6 1078.5,268.5 1077.2,268.6 1076.0,268.9 1074.8,269.4 1073.7,270.0 1072.6,270.8 1071.6,271.8" fill="#c7c7c3" stroke="#b5b5b0" stroke-width="0.4"/><polygon points="1072.4,267.7 1071.9,266.5 1071.2,265.5 1070.4,264.7 1069.5,264.0 1068.6,263.4 1067.5,262.9 1066.4,262.6 1065.1,262.5 1064.9,262.7 1065.5,263.9 1066.1,264.8 1066.9,265.7 1067.8,266.4 1068.8,267.0 1069.8,267.4 1071.0,267.8 1072.3,267.9" fill="#c7c7c3" stroke="#b5b5b0" stroke-width="0.4"/><polygon points="1072.4,267.9 1073.7,268.2 1074.9,268.3 1076.0,268.2 1077.1,267.9 1078.2,267.5 1079.2,266.9 1080.1,266.2 1081.0,265.3 1080.9,265.0 1079.7,264.8 1078.5,264.7 1077.3,264.8 1076.2,265.0 1075.2,265.4 1074.2,266.0 1073.2,266.7 1072.3,267.6" fill="#c7c7c3" stroke="#b5b5b0" stroke-width="0.4"/><polygon points="1073.1,263.5 1072.6,262.5 1072.0,261.6 1071.3,260.9 1070.5,260.2 1069.7,259.7 1068.7,259.3 1067.7,259.0 1066.6,258.9 1066.4,259.1 1066.9,260.2 1067.5,261.0 1068.2,261.8 1069.0,262.4 1069.8,262.9 1070.8,263.3 1071.8,263.6 1072.9,263.8" fill="#c7c7c3" stroke="#b5b5b0" stroke-width="0.4"/><polygon points="1073.1,263.8 1074.2,264.0 1075.3,264.1 1076.3,264.0 1077.3,263.8 1078.2,263.4 1079.1,262.9 1079.9,262.3 1080.7,261.5 1080.7,261.2 1079.5,260.9 1078.5,260.9 1077.5,261.0 1076.5,261.2 1075.5,261.5 1074.6,262.0 1073.8,262.7 1073.0,263.5" fill="#c7c7c3" stroke="#b5b5b0" stroke-width="0.4"/><polygon points="1073.8,259.4 1073.3,258.5 1072.8,257.7 1072.2,257.1 1071.5,256.5 1070.8,256.1 1069.9,255.7 1069.0,255.5 1068.0,255.4 1067.9,255.6 1068.3,256.5 1068.8,257.3 1069.5,257.9 1070.1,258.5 1070.9,258.9 1071.7,259.3 1072.6,259.5 1073.6,259.6" fill="#c7c7c3" stroke="#b5b5b0" stroke-width="0.4"/><polygon points="1073.7,259.6 1074.7,259.8 1075.6,259.9 1076.5,259.8 1077.4,259.6 1078.2,259.3 1079.0,258.8 1079.7,258.3 1080.4,257.6 1080.3,257.3 1079.3,257.1 1078.4,257.0 1077.5,257.1 1076.7,257.3 1075.9,257.6 1075.1,258.1 1074.3,258.6 1073.6,259.3" fill="#c7c7c3" stroke="#b5b5b0" stroke-width="0.4"/><polygon points="1074.4,255.2 1074.0,254.5 1073.5,253.8 1073.0,253.3 1072.4,252.8 1071.8,252.4 1071.1,252.2 1070.3,252.0 1069.5,251.9 1069.3,252.1 1069.7,252.9 1070.2,253.5 1070.7,254.1 1071.3,254.5 1071.9,254.9 1072.6,255.2 1073.4,255.4 1074.2,255.5" fill="#c7c7c3" stroke="#b5b5b0" stroke-width="0.4"/><polygon points="1074.4,255.5 1075.2,255.6 1076.0,255.7 1076.7,255.6 1077.5,255.4 1078.2,255.1 1078.8,254.8 1079.4,254.3 1080.0,253.7 1079.9,253.4 1079.1,253.2 1078.3,253.2 1077.5,253.3 1076.8,253.4 1076.1,253.7 1075.5,254.1 1074.8,254.6 1074.3,255.2" fill="#c7c7c3" stroke="#b5b5b0" stroke-width="0.4"/><polygon points="1074.9,251.0 1074.6,250.4 1074.2,249.9 1073.8,249.5 1073.3,249.1 1072.8,248.8 1072.2,248.6 1071.5,248.4 1070.9,248.4 1070.7,248.6 1071.0,249.3 1071.4,249.8 1071.8,250.2 1072.3,250.6 1072.9,250.9 1073.5,251.1 1074.1,251.2 1074.8,251.3" fill="#c7c7c3" stroke="#b5b5b0" stroke-width="0.4"/><polygon points="1074.9,251.3 1075.6,251.4 1076.2,251.4 1076.9,251.4 1077.5,251.2 1078.0,251.0 1078.6,250.6 1079.1,250.2 1079.5,249.7 1079.4,249.4 1078.7,249.3 1078.1,249.3 1077.5,249.4 1076.9,249.5 1076.3,249.8 1075.8,250.1 1075.3,250.5 1074.8,251.0" fill="#c7c7c3" stroke="#b5b5b0" stroke-width="0.4"/><polygon points="1075.4,246.9 1075.1,246.3 1074.8,245.9 1074.5,245.6 1074.1,245.3 1073.7,245.1 1073.2,245.0 1072.7,244.9 1072.1,244.9 1071.9,245.2 1072.2,245.7 1072.5,246.1 1072.8,246.5 1073.2,246.8 1073.6,247.0 1074.1,247.1 1074.6,247.2 1075.2,247.1" fill="#c7c7c3" stroke="#b5b5b0" stroke-width="0.4"/><polygon points="1075.3,247.1 1075.9,247.3 1076.4,247.3 1076.9,247.2 1077.4,247.1 1077.8,246.9 1078.2,246.6 1078.6,246.2 1078.9,245.8 1078.8,245.5 1078.2,245.3 1077.7,245.3 1077.2,245.4 1076.7,245.5 1076.3,245.7 1075.9,246.0 1075.6,246.4 1075.2,246.9" fill="#c7c7c3" stroke="#b5b5b0" stroke-width="0.4"/><polygon points="1075.6,242.7 1075.5,242.2 1075.3,241.9 1075.1,241.6 1074.8,241.4 1074.5,241.3 1074.2,241.2 1073.8,241.2 1073.3,241.4 1073.2,241.6 1073.3,242.1 1073.5,242.4 1073.7,242.7 1074.0,242.9 1074.3,243.0 1074.7,243.1 1075.1,243.1 1075.5,242.9" fill="#c7c7c3" stroke="#b5b5b0" stroke-width="0.4"/><polygon points="1075.6,242.9 1076.1,243.1 1076.5,243.2 1076.8,243.2 1077.1,243.1 1077.4,242.9 1077.7,242.7 1077.9,242.3 1078.1,241.9 1078.0,241.6 1077.6,241.5 1077.2,241.4 1076.8,241.4 1076.5,241.5 1076.2,241.7 1075.9,241.9 1075.7,242.2 1075.5,242.7" fill="#c7c7c3" stroke="#b5b5b0" stroke-width="0.4"/><polygon points="1075.9,238.5 1075.9,238.1 1075.8,237.8 1075.7,237.6 1075.5,237.5 1075.4,237.5 1075.1,237.5 1074.9,237.6 1074.5,237.8 1074.4,238.0 1074.4,238.4 1074.5,238.7 1074.6,238.9 1074.7,239.0 1074.9,239.1 1075.1,239.0 1075.4,238.9 1075.7,238.7" fill="#c7c7c3" stroke="#b5b5b0" stroke-width="0.4"/><polygon points="1075.8,238.7 1076.1,239.0 1076.4,239.1 1076.6,239.1 1076.8,239.1 1077.0,239.0 1077.1,238.8 1077.2,238.5 1077.2,238.2 1077.1,237.9 1076.8,237.7 1076.5,237.5 1076.3,237.5 1076.1,237.5 1076.0,237.6 1075.9,237.8 1075.8,238.1 1075.7,238.5" fill="#c7c7c3" stroke="#b5b5b0" stroke-width="0.4"/><path d="M1064.6,294.0 L1064.4,292.8 L1064.2,291.4 L1064.0,289.8 L1063.8,287.9 L1063.6,285.9 L1063.3,283.8 L1063.0,281.5 L1062.7,279.2 L1062.4,276.8 L1062.1,274.4 L1061.7,272.0 L1061.3,269.7 L1060.9,267.4 L1060.5,265.2 L1060.1,263.2 L1059.6,261.3 L1059.1,259.5 L1058.6,257.8 L1058.0,256.1 L1057.4,254.4 L1056.8,252.7 L1056.2,251.1 L1055.5,249.5 L1054.8,247.9 L1054.1,246.4 L1053.5,244.9 L1052.8,243.5 L1052.1,242.1 L1051.4,240.7 L1050.7,239.4 L1050.0,238.1 L1049.4,236.9 L1048.8,235.7 L1048.1,234.6 L1047.5,233.5 L1046.8,232.5 L1046.1,231.5 L1045.5,230.5 L1044.8,229.6 L1044.2,228.7 L1043.5,227.9 L1042.9,227.1 L1042.2,226.3 L1041.6,225.5 L1041.0,224.8 L1040.4,224.1 L1039.8,223.4 L1039.2,222.7 L1038.6,222.0 L1038.0,221.4 L1037.4,220.8 L1036.8,220.3 L1036.2,219.7 L1035.7,219.2 L1035.1,218.7 L1034.5,218.3 L1034.0,217.8 L1033.5,217.4 L1033.0,217.1 L1032.5,216.7 L1032.1,216.4 L1031.7,216.1 L1031.4,215.8 L1031.1,215.6" stroke="#a8a8a3" stroke-width="0.9" fill="none"/><polygon points="1061.1,267.7 1060.0,266.7 1058.9,265.9 1057.8,265.3 1056.6,264.9 1055.3,264.6 1054.0,264.5 1052.7,264.6 1051.3,264.9 1051.2,265.2 1052.2,266.2 1053.3,267.0 1054.5,267.6 1055.7,268.1 1056.9,268.3 1058.2,268.4 1059.6,268.3 1061.0,268.0" fill="#c7c7c3" stroke="#b5b5b0" stroke-width="0.4"/><polygon points="1061.1,268.0 1062.6,267.8 1063.8,267.4 1065.0,266.9 1066.1,266.2 1067.1,265.4 1068.0,264.4 1068.7,263.3 1069.4,262.0 1069.2,261.7 1067.7,261.9 1066.4,262.3 1065.2,262.8 1064.2,263.5 1063.2,264.3 1062.3,265.3 1061.5,266.4 1060.9,267.7" fill="#c7c7c3" stroke="#b5b5b0" stroke-width="0.4"/><polygon points="1060.2,263.6 1058.7,262.1 1057.0,261.1 1055.3,260.2 1053.5,259.6 1051.6,259.3 1049.7,259.3 1047.7,259.5 1045.6,260.0 1045.6,260.3 1047.1,261.8 1048.8,262.9 1050.5,263.7 1052.3,264.3 1054.2,264.6 1056.1,264.7 1058.1,264.5 1060.2,263.9" fill="#c7c7c3" stroke="#b5b5b0" stroke-width="0.4"/><polygon points="1060.3,263.9 1062.4,263.5 1064.3,262.9 1066.0,262.0 1067.6,261.0 1069.0,259.7 1070.2,258.2 1071.2,256.6 1072.1,254.6 1071.9,254.3 1069.8,254.7 1067.9,255.3 1066.2,256.2 1064.6,257.2 1063.2,258.5 1062.0,260.0 1060.9,261.7 1060.1,263.6" fill="#c7c7c3" stroke="#b5b5b0" stroke-width="0.4"/><polygon points="1059.2,259.5 1057.5,258.2 1055.8,257.2 1054.1,256.5 1052.3,256.0 1050.4,255.8 1048.5,255.9 1046.5,256.2 1044.5,256.8 1044.5,257.1 1046.1,258.5 1047.8,259.5 1049.6,260.2 1051.4,260.7 1053.2,260.9 1055.2,260.8 1057.1,260.5 1059.1,259.8" fill="#c7c7c3" stroke="#b5b5b0" stroke-width="0.4"/><polygon points="1059.2,259.8 1061.3,259.3 1063.2,258.6 1064.8,257.7 1066.3,256.5 1067.6,255.2 1068.7,253.6 1069.7,251.9 1070.4,249.9 1070.2,249.7 1068.1,250.1 1066.3,250.9 1064.6,251.8 1063.1,253.0 1061.8,254.3 1060.7,255.8 1059.8,257.6 1059.0,259.6" fill="#c7c7c3" stroke="#b5b5b0" stroke-width="0.4"/><polygon points="1057.9,255.5 1056.3,254.4 1054.6,253.6 1053.0,253.0 1051.3,252.7 1049.5,252.6 1047.8,252.8 1046.0,253.2 1044.2,253.9 1044.1,254.2 1045.7,255.4 1047.4,256.2 1049.0,256.8 1050.7,257.1 1052.5,257.2 1054.2,257.0 1056.0,256.6 1057.9,255.8" fill="#c7c7c3" stroke="#b5b5b0" stroke-width="0.4"/><polygon points="1058.0,255.8 1059.9,255.2 1061.5,254.4 1063.0,253.5 1064.3,252.3 1065.4,251.0 1066.4,249.5 1067.2,247.9 1067.7,245.9 1067.5,245.7 1065.6,246.3 1063.9,247.1 1062.5,248.1 1061.1,249.2 1060.0,250.5 1059.1,252.0 1058.3,253.7 1057.8,255.6" fill="#c7c7c3" stroke="#b5b5b0" stroke-width="0.4"/><polygon points="1056.4,251.6 1054.9,250.6 1053.4,249.9 1051.8,249.4 1050.2,249.2 1048.6,249.2 1047.0,249.4 1045.4,249.8 1043.7,250.6 1043.7,250.9 1045.2,251.9 1046.7,252.6 1048.3,253.1 1049.9,253.3 1051.5,253.3 1053.1,253.1 1054.7,252.7 1056.4,251.9" fill="#c7c7c3" stroke="#b5b5b0" stroke-width="0.4"/><polygon points="1056.5,251.8 1058.3,251.3 1059.7,250.5 1061.1,249.5 1062.2,248.4 1063.2,247.2 1064.1,245.8 1064.7,244.2 1065.1,242.4 1064.9,242.2 1063.2,242.8 1061.7,243.6 1060.4,244.6 1059.2,245.6 1058.2,246.9 1057.4,248.3 1056.7,249.9 1056.3,251.6" fill="#c7c7c3" stroke="#b5b5b0" stroke-width="0.4"/><polygon points="1054.8,247.7 1053.4,246.9 1051.9,246.3 1050.5,245.9 1049.0,245.8 1047.6,245.8 1046.1,246.1 1044.6,246.6 1043.1,247.3 1043.1,247.6 1044.5,248.5 1046.0,249.1 1047.4,249.4 1048.9,249.6 1050.4,249.5 1051.8,249.3 1053.3,248.8 1054.8,248.0" fill="#c7c7c3" stroke="#b5b5b0" stroke-width="0.4"/><polygon points="1054.9,248.0 1056.5,247.4 1057.8,246.6 1059.0,245.7 1060.0,244.6 1060.8,243.4 1061.5,242.1 1062.1,240.6 1062.4,239.0 1062.2,238.8 1060.6,239.4 1059.3,240.2 1058.1,241.1 1057.1,242.2 1056.2,243.4 1055.5,244.7 1055.0,246.1 1054.7,247.8" fill="#c7c7c3" stroke="#b5b5b0" stroke-width="0.4"/><polygon points="1053.0,243.9 1051.7,243.2 1050.4,242.7 1049.1,242.4 1047.8,242.3 1046.4,242.4 1045.1,242.6 1043.8,243.1 1042.5,243.8 1042.4,244.1 1043.8,244.9 1045.1,245.4 1046.4,245.6 1047.7,245.8 1049.1,245.7 1050.4,245.4 1051.7,244.9 1053.0,244.2" fill="#c7c7c3" stroke="#b5b5b0" stroke-width="0.4"/><polygon points="1053.2,244.2 1054.5,243.6 1055.7,242.8 1056.8,242.0 1057.7,241.0 1058.4,239.9 1059.0,238.7 1059.5,237.4 1059.7,235.9 1059.5,235.7 1058.1,236.3 1056.9,237.0 1055.9,237.9 1055.0,238.8 1054.2,239.9 1053.6,241.1 1053.2,242.5 1052.9,244.0" fill="#c7c7c3" stroke="#b5b5b0" stroke-width="0.4"/><polygon points="1051.2,240.1 1050.0,239.5 1048.8,239.1 1047.6,238.9 1046.4,238.8 1045.2,238.9 1044.0,239.2 1042.9,239.6 1041.7,240.3 1041.7,240.6 1042.9,241.3 1044.1,241.7 1045.3,241.9 1046.5,242.0 1047.6,241.8 1048.8,241.6 1050.0,241.1 1051.2,240.4" fill="#c7c7c3" stroke="#b5b5b0" stroke-width="0.4"/><polygon points="1051.3,240.4 1052.5,239.8 1053.6,239.1 1054.5,238.3 1055.3,237.4 1055.9,236.4 1056.4,235.3 1056.8,234.1 1057.0,232.8 1056.7,232.6 1055.5,233.2 1054.4,233.9 1053.5,234.7 1052.8,235.6 1052.1,236.6 1051.6,237.7 1051.2,238.9 1051.0,240.2" fill="#c7c7c3" stroke="#b5b5b0" stroke-width="0.4"/><polygon points="1049.2,236.4 1048.1,235.9 1047.1,235.6 1046.0,235.4 1045.0,235.4 1043.9,235.5 1042.9,235.7 1041.9,236.2 1040.9,236.8 1040.9,237.1 1042.0,237.6 1043.0,237.9 1044.1,238.1 1045.1,238.2 1046.2,238.0 1047.2,237.8 1048.2,237.3 1049.2,236.7" fill="#c7c7c3" stroke="#b5b5b0" stroke-width="0.4"/><polygon points="1049.3,236.7 1050.4,236.1 1051.3,235.5 1052.1,234.8 1052.8,234.0 1053.3,233.1 1053.8,232.1 1054.1,231.0 1054.2,229.9 1053.9,229.7 1052.9,230.2 1052.0,230.8 1051.2,231.6 1050.5,232.4 1050.0,233.3 1049.5,234.2 1049.2,235.3 1049.1,236.5" fill="#c7c7c3" stroke="#b5b5b0" stroke-width="0.4"/><polygon points="1047.1,232.8 1046.1,232.4 1045.2,232.2 1044.3,232.1 1043.4,232.1 1042.5,232.3 1041.6,232.6 1040.8,233.0 1039.9,233.6 1040.0,233.9 1040.9,234.3 1041.8,234.5 1042.8,234.6 1043.7,234.6 1044.5,234.4 1045.4,234.1 1046.3,233.7 1047.1,233.1" fill="#c7c7c3" stroke="#b5b5b0" stroke-width="0.4"/><polygon points="1047.2,233.0 1048.1,232.5 1048.9,231.9 1049.5,231.3 1050.0,230.5 1050.5,229.7 1050.8,228.9 1051.0,227.9 1051.0,226.9 1050.8,226.7 1049.9,227.2 1049.1,227.8 1048.5,228.5 1048.0,229.2 1047.5,230.0 1047.2,230.9 1047.0,231.8 1047.0,232.9" fill="#c7c7c3" stroke="#b5b5b0" stroke-width="0.4"/><polygon points="1044.7,229.3 1043.9,229.1 1043.1,228.9 1042.3,228.9 1041.6,229.0 1040.8,229.2 1040.1,229.5 1039.4,229.9 1038.8,230.5 1038.8,230.7 1039.6,231.0 1040.4,231.1 1041.2,231.2 1042.0,231.1 1042.7,230.9 1043.4,230.6 1044.1,230.2 1044.8,229.6" fill="#c7c7c3" stroke="#b5b5b0" stroke-width="0.4"/><polygon points="1044.9,229.5 1045.6,229.1 1046.2,228.5 1046.7,227.9 1047.1,227.3 1047.4,226.6 1047.6,225.8 1047.7,225.0 1047.6,224.2 1047.4,224.0 1046.7,224.5 1046.1,225.1 1045.6,225.7 1045.2,226.3 1044.9,227.0 1044.7,227.8 1044.6,228.5 1044.6,229.4" fill="#c7c7c3" stroke="#b5b5b0" stroke-width="0.4"/><polygon points="1042.1,226.0 1041.4,225.8 1040.8,225.8 1040.2,225.8 1039.6,225.9 1039.0,226.1 1038.4,226.4 1037.9,226.7 1037.4,227.2 1037.5,227.5 1038.1,227.7 1038.8,227.7 1039.4,227.7 1040.0,227.6 1040.6,227.4 1041.1,227.1 1041.7,226.8 1042.2,226.3" fill="#c7c7c3" stroke="#b5b5b0" stroke-width="0.4"/><polygon points="1042.3,226.2 1042.8,225.8 1043.3,225.4 1043.7,224.9 1044.0,224.3 1044.2,223.7 1044.3,223.1 1044.3,222.5 1044.3,221.8 1044.0,221.7 1043.5,222.1 1043.0,222.6 1042.6,223.1 1042.3,223.6 1042.1,224.2 1042.0,224.8 1042.0,225.4 1042.0,226.1" fill="#c7c7c3" stroke="#b5b5b0" stroke-width="0.4"/><polygon points="1039.4,222.8 1038.9,222.6 1038.4,222.5 1037.9,222.5 1037.4,222.6 1037.0,222.8 1036.6,223.0 1036.2,223.3 1035.9,223.8 1035.9,224.0 1036.5,224.2 1037.0,224.3 1037.4,224.3 1037.9,224.3 1038.3,224.1 1038.7,223.9 1039.1,223.5 1039.5,223.1" fill="#c7c7c3" stroke="#b5b5b0" stroke-width="0.4"/><polygon points="1039.6,223.0 1040.0,222.7 1040.4,222.4 1040.7,222.0 1040.9,221.6 1041.1,221.2 1041.1,220.7 1041.1,220.2 1041.0,219.7 1040.7,219.6 1040.3,219.8 1039.9,220.2 1039.6,220.6 1039.4,221.0 1039.2,221.4 1039.2,221.9 1039.2,222.4 1039.3,222.9" fill="#c7c7c3" stroke="#b5b5b0" stroke-width="0.4"/><polygon points="1036.5,219.8 1036.1,219.6 1035.7,219.5 1035.4,219.5 1035.1,219.6 1034.8,219.8 1034.6,220.0 1034.4,220.3 1034.2,220.7 1034.3,221.0 1034.7,221.2 1035.1,221.3 1035.4,221.3 1035.7,221.2 1036.0,221.0 1036.2,220.8 1036.4,220.5 1036.6,220.1" fill="#c7c7c3" stroke="#b5b5b0" stroke-width="0.4"/><polygon points="1036.7,220.0 1037.0,219.8 1037.3,219.6 1037.5,219.3 1037.7,219.1 1037.7,218.8 1037.7,218.4 1037.5,218.1 1037.3,217.7 1037.0,217.6 1036.6,217.8 1036.4,218.1 1036.1,218.3 1036.0,218.6 1036.0,218.9 1036.0,219.2 1036.1,219.5 1036.4,219.9" fill="#c7c7c3" stroke="#b5b5b0" stroke-width="0.4"/><polygon points="1033.2,217.2 1032.9,216.9 1032.7,216.8 1032.6,216.7 1032.4,216.8 1032.3,216.9 1032.3,217.0 1032.2,217.3 1032.3,217.6 1032.4,217.9 1032.7,218.1 1032.9,218.2 1033.0,218.3 1033.2,218.3 1033.3,218.2 1033.3,218.0 1033.4,217.8 1033.3,217.4" fill="#c7c7c3" stroke="#b5b5b0" stroke-width="0.4"/><polygon points="1033.4,217.3 1033.8,217.3 1034.0,217.2 1034.1,217.1 1034.2,216.9 1034.2,216.8 1034.1,216.7 1033.9,216.5 1033.6,216.3 1033.3,216.2 1033.0,216.3 1032.8,216.4 1032.6,216.5 1032.5,216.6 1032.6,216.7 1032.7,216.9 1032.8,217.1 1033.1,217.3" fill="#c7c7c3" stroke="#b5b5b0" stroke-width="0.4"/><path d="M1068.7,294.0 L1069.1,292.9 L1069.6,291.5 L1070.1,289.9 L1070.7,288.1 L1071.3,286.1 L1072.0,284.0 L1072.8,281.8 L1073.5,279.6 L1074.3,277.2 L1075.1,274.8 L1076.0,272.5 L1076.8,270.1 L1077.6,267.8 L1078.4,265.5 L1079.2,263.3 L1079.9,261.3 L1080.6,259.3 L1081.4,257.3 L1082.2,255.3 L1083.0,253.3 L1083.8,251.3 L1084.6,249.3 L1085.4,247.3 L1086.2,245.3 L1087.0,243.3 L1087.8,241.4 L1088.6,239.5 L1089.3,237.7 L1090.1,235.9 L1090.8,234.1 L1091.4,232.4 L1092.1,230.8 L1092.7,229.2 L1093.3,227.7 L1093.9,226.2 L1094.5,224.7 L1095.0,223.3 L1095.6,221.9 L1096.1,220.5 L1096.6,219.2 L1097.1,217.9 L1097.6,216.7 L1098.0,215.5 L1098.5,214.4 L1098.9,213.3 L1099.4,212.3 L1099.8,211.4 L1100.2,210.5 L1100.6,209.7 L1101.0,208.9 L1101.4,208.3 L1101.8,207.6 L1102.2,207.1 L1102.6,206.6 L1102.9,206.1 L1103.3,205.7 L1103.6,205.3 L1103.9,205.0 L1104.2,204.7 L1104.5,204.4 L1104.7,204.1 L1104.9,203.9 L1105.1,203.6 L1105.3,203.4" stroke="#a8a8a3" stroke-width="0.9" fill="none"/><polygon points="1078.3,266.0 1077.9,264.8 1077.4,263.7 1076.8,262.7 1076.1,261.9 1075.2,261.1 1074.3,260.5 1073.2,260.0 1071.9,259.6 1071.7,259.8 1072.1,261.1 1072.6,262.2 1073.2,263.1 1073.9,264.0 1074.8,264.7 1075.7,265.4 1076.8,265.9 1078.0,266.2" fill="#c7c7c3" stroke="#b5b5b0" stroke-width="0.4"/><polygon points="1078.2,266.3 1079.4,266.8 1080.5,267.1 1081.7,267.2 1082.8,267.1 1083.9,266.9 1085.0,266.5 1086.1,266.0 1087.1,265.3 1087.1,265.0 1085.9,264.5 1084.7,264.2 1083.6,264.1 1082.5,264.1 1081.3,264.3 1080.3,264.7 1079.2,265.2 1078.1,266.0" fill="#c7c7c3" stroke="#b5b5b0" stroke-width="0.4"/><polygon points="1079.7,262.1 1079.2,260.3 1078.5,258.8 1077.6,257.4 1076.6,256.1 1075.4,255.0 1074.1,254.1 1072.5,253.4 1070.8,252.8 1070.6,253.0 1071.0,254.8 1071.7,256.4 1072.6,257.8 1073.6,259.0 1074.8,260.1 1076.2,261.0 1077.7,261.8 1079.5,262.3" fill="#c7c7c3" stroke="#b5b5b0" stroke-width="0.4"/><polygon points="1079.6,262.3 1081.3,263.1 1082.9,263.5 1084.6,263.6 1086.2,263.6 1087.8,263.3 1089.3,262.8 1090.9,262.1 1092.4,261.0 1092.3,260.7 1090.6,260.0 1089.0,259.6 1087.4,259.4 1085.7,259.5 1084.2,259.7 1082.6,260.3 1081.1,261.0 1079.6,262.0" fill="#c7c7c3" stroke="#b5b5b0" stroke-width="0.4"/><polygon points="1081.2,258.2 1080.7,256.3 1080.0,254.7 1079.1,253.2 1078.1,251.9 1076.8,250.8 1075.4,249.8 1073.9,249.0 1072.0,248.4 1071.8,248.6 1072.3,250.5 1073.0,252.1 1073.9,253.6 1074.9,254.9 1076.1,256.0 1077.5,257.0 1079.1,257.8 1080.9,258.4" fill="#c7c7c3" stroke="#b5b5b0" stroke-width="0.4"/><polygon points="1081.1,258.4 1082.8,259.2 1084.5,259.6 1086.2,259.8 1087.9,259.8 1089.5,259.5 1091.2,259.0 1092.8,258.3 1094.3,257.2 1094.3,256.9 1092.6,256.1 1090.9,255.7 1089.2,255.5 1087.5,255.5 1085.8,255.8 1084.2,256.3 1082.6,257.0 1081.0,258.1" fill="#c7c7c3" stroke="#b5b5b0" stroke-width="0.4"/><polygon points="1082.7,254.2 1082.3,252.5 1081.6,251.0 1080.8,249.6 1079.8,248.4 1078.7,247.3 1077.4,246.4 1075.9,245.6 1074.2,245.0 1074.0,245.2 1074.4,247.0 1075.1,248.5 1075.9,249.9 1076.8,251.1 1078.0,252.2 1079.3,253.1 1080.8,253.9 1082.5,254.4" fill="#c7c7c3" stroke="#b5b5b0" stroke-width="0.4"/><polygon points="1082.6,254.5 1084.2,255.2 1085.8,255.7 1087.4,255.9 1089.0,255.9 1090.5,255.6 1092.0,255.2 1093.5,254.5 1095.0,253.5 1095.0,253.2 1093.4,252.4 1091.8,252.0 1090.2,251.8 1088.6,251.8 1087.1,252.1 1085.5,252.5 1084.0,253.2 1082.5,254.2" fill="#c7c7c3" stroke="#b5b5b0" stroke-width="0.4"/><polygon points="1084.2,250.3 1083.8,248.7 1083.2,247.3 1082.5,246.0 1081.6,244.8 1080.5,243.8 1079.3,243.0 1078.0,242.2 1076.4,241.7 1076.2,241.9 1076.6,243.5 1077.1,244.9 1077.9,246.2 1078.8,247.4 1079.8,248.4 1081.1,249.3 1082.4,250.0 1084.0,250.5" fill="#c7c7c3" stroke="#b5b5b0" stroke-width="0.4"/><polygon points="1084.1,250.6 1085.6,251.3 1087.1,251.7 1088.6,251.9 1090.1,251.9 1091.5,251.7 1092.9,251.3 1094.3,250.7 1095.7,249.7 1095.7,249.4 1094.2,248.7 1092.7,248.3 1091.2,248.1 1089.8,248.1 1088.3,248.3 1086.9,248.8 1085.5,249.4 1084.1,250.3" fill="#c7c7c3" stroke="#b5b5b0" stroke-width="0.4"/><polygon points="1085.8,246.4 1085.4,244.9 1084.9,243.6 1084.2,242.4 1083.4,241.3 1082.4,240.4 1081.3,239.6 1080.0,238.9 1078.6,238.4 1078.4,238.6 1078.7,240.1 1079.2,241.4 1079.9,242.6 1080.8,243.7 1081.7,244.6 1082.9,245.4 1084.1,246.1 1085.6,246.6" fill="#c7c7c3" stroke="#b5b5b0" stroke-width="0.4"/><polygon points="1085.7,246.7 1087.1,247.3 1088.5,247.7 1089.8,247.9 1091.2,247.9 1092.5,247.7 1093.9,247.4 1095.2,246.8 1096.5,246.0 1096.4,245.7 1095.0,245.0 1093.7,244.6 1092.3,244.4 1090.9,244.4 1089.6,244.6 1088.3,245.0 1087.0,245.5 1085.7,246.4" fill="#c7c7c3" stroke="#b5b5b0" stroke-width="0.4"/><polygon points="1087.4,242.6 1087.1,241.2 1086.6,239.9 1085.9,238.8 1085.2,237.8 1084.3,237.0 1083.3,236.2 1082.1,235.6 1080.8,235.1 1080.5,235.3 1080.9,236.7 1081.4,237.9 1082.0,239.0 1082.7,240.0 1083.6,240.9 1084.7,241.6 1085.8,242.3 1087.2,242.8" fill="#c7c7c3" stroke="#b5b5b0" stroke-width="0.4"/><polygon points="1087.3,242.8 1088.6,243.4 1089.8,243.8 1091.1,244.0 1092.3,244.0 1093.6,243.8 1094.8,243.4 1096.0,242.9 1097.2,242.2 1097.2,241.9 1095.9,241.2 1094.6,240.9 1093.4,240.7 1092.1,240.7 1090.9,240.9 1089.7,241.2 1088.5,241.7 1087.3,242.5" fill="#c7c7c3" stroke="#b5b5b0" stroke-width="0.4"/><polygon points="1089.0,238.7 1088.7,237.4 1088.2,236.3 1087.7,235.3 1087.0,234.4 1086.2,233.6 1085.2,232.9 1084.2,232.3 1082.9,231.9 1082.7,232.1 1083.0,233.4 1083.5,234.5 1084.0,235.5 1084.7,236.4 1085.5,237.2 1086.5,237.9 1087.5,238.4 1088.7,238.9" fill="#c7c7c3" stroke="#b5b5b0" stroke-width="0.4"/><polygon points="1088.9,238.9 1090.0,239.5 1091.2,239.8 1092.3,240.0 1093.5,240.0 1094.6,239.8 1095.7,239.5 1096.8,239.0 1097.9,238.3 1097.9,238.0 1096.7,237.5 1095.6,237.1 1094.4,237.0 1093.3,237.0 1092.2,237.1 1091.0,237.4 1089.9,237.9 1088.9,238.6" fill="#c7c7c3" stroke="#b5b5b0" stroke-width="0.4"/><polygon points="1090.6,234.8 1090.3,233.6 1089.9,232.6 1089.4,231.7 1088.7,230.9 1088.0,230.2 1087.2,229.6 1086.2,229.1 1085.1,228.7 1084.9,228.9 1085.1,230.0 1085.6,231.0 1086.1,231.9 1086.7,232.7 1087.4,233.5 1088.3,234.1 1089.2,234.6 1090.3,235.0" fill="#c7c7c3" stroke="#b5b5b0" stroke-width="0.4"/><polygon points="1090.5,235.0 1091.5,235.5 1092.6,235.8 1093.6,236.0 1094.6,236.0 1095.6,235.8 1096.7,235.5 1097.6,235.1 1098.6,234.5 1098.6,234.2 1097.6,233.7 1096.5,233.4 1095.5,233.2 1094.4,233.2 1093.4,233.4 1092.4,233.7 1091.4,234.1 1090.4,234.7" fill="#c7c7c3" stroke="#b5b5b0" stroke-width="0.4"/><polygon points="1092.1,230.9 1091.9,229.9 1091.5,229.0 1091.1,228.2 1090.5,227.4 1089.8,226.8 1089.1,226.3 1088.2,225.8 1087.2,225.5 1087.0,225.7 1087.3,226.7 1087.6,227.6 1088.1,228.4 1088.7,229.1 1089.3,229.7 1090.1,230.3 1090.9,230.7 1091.9,231.1" fill="#c7c7c3" stroke="#b5b5b0" stroke-width="0.4"/><polygon points="1092.0,231.1 1093.0,231.6 1093.9,231.8 1094.8,232.0 1095.8,232.0 1096.7,231.8 1097.6,231.6 1098.4,231.2 1099.3,230.6 1099.3,230.3 1098.4,229.9 1097.4,229.6 1096.5,229.5 1095.6,229.5 1094.7,229.6 1093.8,229.9 1092.9,230.3 1092.0,230.8" fill="#c7c7c3" stroke="#b5b5b0" stroke-width="0.4"/><polygon points="1093.7,227.0 1093.5,226.1 1093.1,225.3 1092.7,224.6 1092.2,224.0 1091.6,223.4 1090.9,223.0 1090.2,222.6 1089.3,222.3 1089.1,222.5 1089.3,223.4 1089.7,224.1 1090.1,224.9 1090.6,225.5 1091.2,226.0 1091.8,226.5 1092.6,226.9 1093.5,227.2" fill="#c7c7c3" stroke="#b5b5b0" stroke-width="0.4"/><polygon points="1093.6,227.2 1094.4,227.6 1095.2,227.8 1096.0,227.9 1096.8,227.9 1097.6,227.8 1098.4,227.5 1099.2,227.2 1100.0,226.7 1099.9,226.4 1099.1,226.0 1098.3,225.8 1097.5,225.7 1096.7,225.7 1095.9,225.8 1095.1,226.1 1094.3,226.4 1093.6,226.9" fill="#c7c7c3" stroke="#b5b5b0" stroke-width="0.4"/><polygon points="1095.2,223.1 1095.0,222.3 1094.7,221.6 1094.3,221.0 1093.9,220.5 1093.4,220.0 1092.8,219.6 1092.2,219.3 1091.4,219.0 1091.2,219.3 1091.4,220.0 1091.7,220.7 1092.1,221.3 1092.5,221.8 1093.0,222.3 1093.6,222.7 1094.2,223.0 1095.0,223.3" fill="#c7c7c3" stroke="#b5b5b0" stroke-width="0.4"/><polygon points="1095.1,223.3 1095.8,223.6 1096.5,223.8 1097.2,223.9 1097.9,223.9 1098.6,223.8 1099.2,223.6 1099.9,223.3 1100.6,222.8 1100.5,222.5 1099.8,222.2 1099.1,222.0 1098.4,221.9 1097.7,221.9 1097.0,222.1 1096.4,222.3 1095.7,222.6 1095.1,223.0" fill="#c7c7c3" stroke="#b5b5b0" stroke-width="0.4"/><polygon points="1096.7,219.1 1096.5,218.5 1096.3,217.9 1096.0,217.4 1095.6,217.0 1095.2,216.6 1094.7,216.3 1094.2,216.0 1093.6,215.8 1093.4,216.0 1093.5,216.6 1093.8,217.2 1094.0,217.7 1094.4,218.1 1094.8,218.5 1095.3,218.9 1095.8,219.1 1096.5,219.3" fill="#c7c7c3" stroke="#b5b5b0" stroke-width="0.4"/><polygon points="1096.6,219.4 1097.2,219.7 1097.8,219.8 1098.3,219.9 1098.9,219.9 1099.5,219.8 1100.0,219.6 1100.6,219.4 1101.1,219.0 1101.1,218.7 1100.5,218.4 1099.9,218.3 1099.3,218.2 1098.8,218.2 1098.2,218.3 1097.7,218.5 1097.1,218.7 1096.6,219.1" fill="#c7c7c3" stroke="#b5b5b0" stroke-width="0.4"/><polygon points="1098.2,215.2 1098.2,214.7 1098.0,214.2 1097.8,213.8 1097.5,213.4 1097.2,213.1 1096.8,212.9 1096.4,212.7 1095.8,212.5 1095.6,212.7 1095.7,213.3 1095.8,213.8 1096.0,214.2 1096.3,214.6 1096.6,214.9 1097.0,215.1 1097.5,215.3 1098.0,215.4" fill="#c7c7c3" stroke="#b5b5b0" stroke-width="0.4"/><polygon points="1098.1,215.5 1098.6,215.8 1099.1,215.9 1099.5,216.0 1100.0,216.0 1100.4,216.0 1100.8,215.8 1101.3,215.6 1101.7,215.2 1101.7,214.9 1101.2,214.6 1100.8,214.5 1100.3,214.4 1099.8,214.4 1099.4,214.4 1099.0,214.6 1098.5,214.8 1098.1,215.2" fill="#c7c7c3" stroke="#b5b5b0" stroke-width="0.4"/><polygon points="1099.9,211.4 1099.9,210.9 1099.9,210.5 1099.7,210.2 1099.6,209.9 1099.3,209.7 1099.0,209.5 1098.7,209.4 1098.2,209.4 1098.0,209.6 1097.9,210.0 1098.0,210.4 1098.1,210.7 1098.3,211.0 1098.5,211.2 1098.8,211.4 1099.2,211.5 1099.6,211.6" fill="#c7c7c3" stroke="#b5b5b0" stroke-width="0.4"/><polygon points="1099.8,211.6 1100.1,211.9 1100.4,212.1 1100.8,212.2 1101.1,212.3 1101.4,212.2 1101.7,212.1 1102.1,211.9 1102.4,211.5 1102.4,211.2 1102.0,210.9 1101.7,210.7 1101.4,210.6 1101.0,210.6 1100.7,210.6 1100.4,210.8 1100.1,211.0 1099.7,211.3" fill="#c7c7c3" stroke="#b5b5b0" stroke-width="0.4"/><polygon points="1101.9,207.7 1102.0,207.3 1102.1,207.1 1102.1,206.8 1102.0,206.6 1101.9,206.5 1101.7,206.4 1101.4,206.3 1101.0,206.3 1100.8,206.5 1100.6,206.8 1100.5,207.1 1100.5,207.3 1100.6,207.5 1100.7,207.7 1100.9,207.8 1101.2,207.8 1101.6,207.8" fill="#c7c7c3" stroke="#b5b5b0" stroke-width="0.4"/><polygon points="1101.7,207.9 1101.9,208.2 1102.0,208.5 1102.2,208.6 1102.4,208.7 1102.6,208.7 1102.8,208.6 1103.1,208.4 1103.3,208.1 1103.3,207.8 1103.2,207.4 1103.0,207.2 1102.8,207.1 1102.6,207.0 1102.4,207.0 1102.2,207.1 1102.0,207.3 1101.7,207.6" fill="#c7c7c3" stroke="#b5b5b0" stroke-width="0.4"/><path d="M1066.7,294.0 L1066.7,292.1 L1066.7,289.8 L1066.7,287.0 L1066.7,283.9 L1066.6,280.6 L1066.6,277.0 L1066.6,273.3 L1066.6,269.4 L1066.6,265.5 L1066.6,261.6 L1066.6,257.7 L1066.6,253.9 L1066.6,250.3 L1066.6,246.9 L1066.6,243.8 L1066.7,241.0 L1066.8,238.5 L1066.8,236.1 L1066.8,233.8 L1066.9,231.6 L1066.9,229.6 L1067.0,227.6 L1067.0,225.8 L1067.1,224.0 L1067.2,222.2 L1067.3,220.5 L1067.4,218.8 L1067.6,217.2 L1067.8,215.5 L1068.1,213.9 L1068.4,212.2 L1068.7,210.5 L1069.1,208.8 L1069.6,207.0 L1070.2,205.2 L1070.8,203.4 L1071.5,201.6 L1072.2,199.8 L1072.9,198.1 L1073.6,196.4 L1074.4,194.8 L1075.1,193.2 L1075.8,191.7 L1076.4,190.3 L1077.0,189.1 L1077.5,187.9 L1077.9,186.9 L1078.3,186.1" stroke="#a8a8a3" stroke-width="0.9" fill="none"/><polygon points="1066.6,249.9 1065.7,248.6 1064.7,247.5 1063.5,246.6 1062.3,245.8 1061.0,245.3 1059.6,244.9 1058.1,244.8 1056.4,244.8 1056.3,245.1 1057.2,246.4 1058.3,247.5 1059.4,248.4 1060.6,249.2 1062.0,249.7 1063.4,250.1 1064.9,250.3 1066.5,250.2" fill="#c7c7c3" stroke="#b5b5b0" stroke-width="0.4"/><polygon points="1066.6,250.2 1068.3,250.3 1069.8,250.1 1071.2,249.8 1072.5,249.3 1073.8,248.6 1074.9,247.7 1076.0,246.6 1076.9,245.3 1076.8,245.0 1075.2,244.9 1073.7,245.1 1072.3,245.4 1070.9,245.9 1069.7,246.6 1068.5,247.5 1067.5,248.6 1066.5,249.9" fill="#c7c7c3" stroke="#b5b5b0" stroke-width="0.4"/><polygon points="1066.7,245.7 1065.4,243.8 1063.9,242.2 1062.2,240.9 1060.5,239.8 1058.5,239.0 1056.5,238.5 1054.3,238.2 1052.0,238.3 1051.9,238.6 1053.2,240.5 1054.7,242.1 1056.3,243.4 1058.1,244.5 1060.0,245.3 1062.0,245.8 1064.2,246.1 1066.6,246.0" fill="#c7c7c3" stroke="#b5b5b0" stroke-width="0.4"/><polygon points="1066.7,246.0 1069.0,246.1 1071.2,245.9 1073.2,245.4 1075.2,244.7 1077.0,243.7 1078.6,242.4 1080.2,240.9 1081.6,239.0 1081.4,238.7 1079.1,238.5 1076.9,238.8 1074.9,239.2 1072.9,240.0 1071.1,241.0 1069.5,242.3 1067.9,243.8 1066.6,245.7" fill="#c7c7c3" stroke="#b5b5b0" stroke-width="0.4"/><polygon points="1066.8,241.5 1065.4,239.5 1063.9,237.9 1062.2,236.5 1060.4,235.4 1058.5,234.6 1056.4,234.1 1054.2,233.8 1051.8,233.8 1051.7,234.1 1053.0,236.1 1054.5,237.7 1056.2,239.1 1058.0,240.2 1059.9,241.0 1062.0,241.6 1064.2,241.9 1066.6,241.8" fill="#c7c7c3" stroke="#b5b5b0" stroke-width="0.4"/><polygon points="1066.8,241.8 1069.1,242.0 1071.4,241.7 1073.5,241.3 1075.4,240.5 1077.3,239.5 1079.0,238.2 1080.6,236.7 1082.0,234.7 1081.9,234.4 1079.5,234.3 1077.3,234.5 1075.2,234.9 1073.2,235.7 1071.3,236.7 1069.6,238.0 1068.0,239.6 1066.6,241.5" fill="#c7c7c3" stroke="#b5b5b0" stroke-width="0.4"/><polygon points="1066.8,237.3 1065.6,235.4 1064.2,233.9 1062.6,232.7 1060.9,231.6 1059.1,230.9 1057.2,230.4 1055.1,230.1 1052.9,230.2 1052.7,230.4 1054.0,232.3 1055.4,233.8 1057.0,235.1 1058.6,236.1 1060.5,236.9 1062.4,237.4 1064.5,237.7 1066.7,237.6" fill="#c7c7c3" stroke="#b5b5b0" stroke-width="0.4"/><polygon points="1066.8,237.6 1069.1,237.7 1071.2,237.5 1073.1,237.1 1075.0,236.4 1076.7,235.5 1078.3,234.2 1079.8,232.8 1081.1,231.0 1081.0,230.7 1078.7,230.5 1076.6,230.7 1074.7,231.2 1072.8,231.9 1071.1,232.8 1069.5,234.0 1068.0,235.5 1066.7,237.3" fill="#c7c7c3" stroke="#b5b5b0" stroke-width="0.4"/><polygon points="1066.9,233.1 1065.8,231.4 1064.4,230.0 1063.0,228.8 1061.4,227.9 1059.7,227.1 1057.9,226.7 1056.0,226.4 1053.9,226.5 1053.8,226.8 1055.0,228.5 1056.3,229.9 1057.7,231.1 1059.3,232.0 1061.0,232.7 1062.8,233.2 1064.7,233.5 1066.8,233.4" fill="#c7c7c3" stroke="#b5b5b0" stroke-width="0.4"/><polygon points="1066.9,233.4 1069.0,233.5 1070.9,233.3 1072.7,232.9 1074.4,232.3 1076.0,231.4 1077.5,230.3 1078.9,228.9 1080.1,227.2 1080.0,227.0 1077.9,226.8 1076.0,227.0 1074.2,227.4 1072.5,228.1 1070.9,228.9 1069.4,230.1 1068.0,231.4 1066.8,233.1" fill="#c7c7c3" stroke="#b5b5b0" stroke-width="0.4"/><polygon points="1067.0,228.9 1065.9,227.3 1064.7,226.0 1063.4,224.9 1062.0,224.0 1060.4,223.4 1058.7,222.9 1057.0,222.7 1055.1,222.7 1054.9,223.0 1056.0,224.6 1057.2,225.9 1058.5,227.0 1060.0,227.9 1061.5,228.5 1063.2,229.0 1064.9,229.2 1066.9,229.2" fill="#c7c7c3" stroke="#b5b5b0" stroke-width="0.4"/><polygon points="1067.0,229.2 1068.9,229.3 1070.7,229.2 1072.4,228.8 1074.0,228.2 1075.4,227.4 1076.8,226.4 1078.1,225.1 1079.2,223.6 1079.1,223.3 1077.2,223.2 1075.4,223.3 1073.7,223.7 1072.1,224.3 1070.7,225.1 1069.3,226.1 1068.0,227.4 1066.9,228.9" fill="#c7c7c3" stroke="#b5b5b0" stroke-width="0.4"/><polygon points="1067.1,224.7 1066.2,223.2 1065.1,222.0 1063.9,221.0 1062.6,220.2 1061.2,219.5 1059.7,219.1 1058.1,218.9 1056.3,218.9 1056.1,219.1 1057.1,220.6 1058.2,221.8 1059.4,222.9 1060.7,223.7 1062.1,224.3 1063.6,224.8 1065.2,225.0 1067.0,225.0" fill="#c7c7c3" stroke="#b5b5b0" stroke-width="0.4"/><polygon points="1067.1,225.0 1068.9,225.2 1070.5,225.0 1072.1,224.7 1073.5,224.2 1074.9,223.5 1076.1,222.6 1077.3,221.4 1078.4,220.0 1078.3,219.8 1076.5,219.6 1074.9,219.7 1073.4,220.0 1071.9,220.5 1070.5,221.3 1069.3,222.2 1068.1,223.3 1067.0,224.7" fill="#c7c7c3" stroke="#b5b5b0" stroke-width="0.4"/><polygon points="1067.4,220.5 1066.5,219.2 1065.6,218.0 1064.5,217.1 1063.4,216.3 1062.1,215.7 1060.7,215.3 1059.3,215.0 1057.7,215.0 1057.5,215.2 1058.4,216.6 1059.3,217.7 1060.4,218.7 1061.5,219.5 1062.8,220.1 1064.2,220.5 1065.6,220.8 1067.2,220.8" fill="#c7c7c3" stroke="#b5b5b0" stroke-width="0.4"/><polygon points="1067.4,220.8 1068.9,221.0 1070.4,220.9 1071.8,220.7 1073.2,220.2 1074.4,219.6 1075.6,218.8 1076.7,217.8 1077.7,216.6 1077.6,216.3 1076.0,216.1 1074.5,216.2 1073.1,216.4 1071.8,216.9 1070.5,217.5 1069.3,218.3 1068.2,219.3 1067.2,220.5" fill="#c7c7c3" stroke="#b5b5b0" stroke-width="0.4"/><polygon points="1067.8,216.4 1067.1,215.1 1066.3,214.0 1065.4,213.1 1064.4,212.4 1063.3,211.8 1062.1,211.3 1060.8,211.0 1059.4,210.9 1059.2,211.1 1059.9,212.4 1060.7,213.4 1061.6,214.4 1062.6,215.1 1063.7,215.7 1064.9,216.2 1066.2,216.5 1067.6,216.6" fill="#c7c7c3" stroke="#b5b5b0" stroke-width="0.4"/><polygon points="1067.8,216.6 1069.2,216.9 1070.5,216.9 1071.8,216.7 1073.0,216.4 1074.1,215.9 1075.2,215.3 1076.3,214.5 1077.2,213.4 1077.1,213.1 1075.7,212.9 1074.4,212.8 1073.1,213.0 1071.9,213.3 1070.8,213.8 1069.7,214.5 1068.6,215.3 1067.7,216.3" fill="#c7c7c3" stroke="#b5b5b0" stroke-width="0.4"/><polygon points="1068.4,212.2 1067.9,211.1 1067.2,210.1 1066.5,209.3 1065.6,208.5 1064.7,208.0 1063.6,207.5 1062.5,207.2 1061.3,207.0 1061.1,207.3 1061.6,208.4 1062.3,209.4 1063.1,210.2 1063.9,210.9 1064.8,211.5 1065.9,212.0 1067.0,212.3 1068.3,212.4" fill="#c7c7c3" stroke="#b5b5b0" stroke-width="0.4"/><polygon points="1068.4,212.5 1069.6,212.8 1070.8,212.8 1071.9,212.7 1073.0,212.5 1074.0,212.1 1075.0,211.6 1076.0,210.9 1076.9,210.0 1076.8,209.7 1075.5,209.4 1074.4,209.4 1073.3,209.5 1072.2,209.7 1071.1,210.1 1070.1,210.6 1069.2,211.3 1068.3,212.2" fill="#c7c7c3" stroke="#b5b5b0" stroke-width="0.4"/><polygon points="1069.4,208.1 1069.0,207.1 1068.5,206.2 1067.9,205.4 1067.3,204.7 1066.5,204.1 1065.6,203.7 1064.7,203.3 1063.6,203.1 1063.4,203.3 1063.8,204.3 1064.3,205.2 1064.9,206.0 1065.5,206.7 1066.3,207.2 1067.2,207.7 1068.1,208.1 1069.2,208.3" fill="#c7c7c3" stroke="#b5b5b0" stroke-width="0.4"/><polygon points="1069.3,208.4 1070.3,208.7 1071.3,208.9 1072.3,208.9 1073.2,208.8 1074.2,208.6 1075.1,208.2 1075.9,207.7 1076.8,207.0 1076.7,206.7 1075.7,206.3 1074.7,206.2 1073.7,206.2 1072.8,206.3 1071.9,206.5 1070.9,206.9 1070.1,207.4 1069.2,208.1" fill="#c7c7c3" stroke="#b5b5b0" stroke-width="0.4"/><polygon points="1070.6,204.1 1070.4,203.2 1070.0,202.5 1069.6,201.8 1069.0,201.2 1068.4,200.6 1067.7,200.2 1067.0,199.8 1066.1,199.6 1065.9,199.8 1066.1,200.7 1066.5,201.4 1066.9,202.1 1067.5,202.7 1068.1,203.3 1068.8,203.7 1069.5,204.1 1070.4,204.3" fill="#c7c7c3" stroke="#b5b5b0" stroke-width="0.4"/><polygon points="1070.5,204.4 1071.4,204.7 1072.2,204.9 1073.0,205.0 1073.8,204.9 1074.6,204.8 1075.4,204.5 1076.2,204.1 1076.9,203.6 1076.9,203.3 1076.0,203.0 1075.2,202.8 1074.4,202.7 1073.6,202.7 1072.8,202.9 1072.0,203.2 1071.2,203.5 1070.5,204.1" fill="#c7c7c3" stroke="#b5b5b0" stroke-width="0.4"/><polygon points="1072.1,200.2 1071.9,199.5 1071.7,198.8 1071.3,198.3 1070.9,197.8 1070.5,197.3 1069.9,196.9 1069.3,196.6 1068.6,196.4 1068.4,196.6 1068.6,197.3 1068.8,197.9 1069.2,198.5 1069.6,199.0 1070.0,199.4 1070.6,199.8 1071.2,200.2 1071.9,200.4" fill="#c7c7c3" stroke="#b5b5b0" stroke-width="0.4"/><polygon points="1072.0,200.4 1072.7,200.7 1073.3,200.9 1074.0,201.0 1074.6,201.0 1075.3,200.9 1075.9,200.7 1076.5,200.5 1077.2,200.0 1077.1,199.7 1076.5,199.4 1075.8,199.3 1075.1,199.2 1074.5,199.2 1073.9,199.3 1073.2,199.5 1072.6,199.7 1072.0,200.1" fill="#c7c7c3" stroke="#b5b5b0" stroke-width="0.4"/><polygon points="1073.7,196.3 1073.7,195.7 1073.5,195.2 1073.3,194.8 1073.0,194.4 1072.6,194.0 1072.2,193.8 1071.8,193.5 1071.2,193.4 1071.0,193.6 1071.0,194.1 1071.2,194.6 1071.4,195.1 1071.7,195.5 1072.1,195.8 1072.5,196.1 1072.9,196.4 1073.5,196.5" fill="#c7c7c3" stroke="#b5b5b0" stroke-width="0.4"/><polygon points="1073.6,196.6 1074.1,196.9 1074.6,197.1 1075.1,197.2 1075.6,197.2 1076.1,197.1 1076.6,197.0 1077.0,196.7 1077.5,196.4 1077.5,196.1 1077.0,195.8 1076.5,195.6 1076.0,195.5 1075.5,195.5 1075.0,195.5 1074.6,195.7 1074.1,195.9 1073.6,196.3" fill="#c7c7c3" stroke="#b5b5b0" stroke-width="0.4"/><polygon points="1075.5,192.5 1075.5,192.0 1075.5,191.7 1075.4,191.3 1075.2,191.1 1075.0,190.8 1074.7,190.7 1074.3,190.6 1073.8,190.5 1073.6,190.7 1073.6,191.1 1073.6,191.5 1073.7,191.9 1073.9,192.1 1074.1,192.4 1074.4,192.5 1074.8,192.6 1075.2,192.7" fill="#c7c7c3" stroke="#b5b5b0" stroke-width="0.4"/><polygon points="1075.4,192.7 1075.7,193.1 1076.0,193.3 1076.3,193.4 1076.6,193.4 1077.0,193.4 1077.3,193.2 1077.6,193.0 1077.9,192.7 1077.9,192.4 1077.6,192.1 1077.3,191.9 1076.9,191.8 1076.6,191.7 1076.3,191.8 1076.0,191.9 1075.7,192.1 1075.3,192.4" fill="#c7c7c3" stroke="#b5b5b0" stroke-width="0.4"/><polygon points="1077.2,188.7 1077.4,188.4 1077.5,188.1 1077.5,187.9 1077.4,187.8 1077.3,187.7 1077.1,187.7 1076.8,187.7 1076.5,187.8 1076.3,188.0 1076.1,188.3 1076.0,188.5 1076.0,188.7 1076.1,188.9 1076.2,189.0 1076.4,189.0 1076.7,189.0 1077.0,188.9" fill="#c7c7c3" stroke="#b5b5b0" stroke-width="0.4"/><polygon points="1077.1,188.9 1077.3,189.3 1077.4,189.5 1077.6,189.6 1077.7,189.6 1077.9,189.6 1078.0,189.4 1078.1,189.2 1078.3,188.9 1078.3,188.6 1078.1,188.3 1078.0,188.1 1077.8,188.0 1077.7,187.9 1077.5,188.0 1077.4,188.1 1077.3,188.3 1077.1,188.6" fill="#c7c7c3" stroke="#b5b5b0" stroke-width="0.4"/><ellipse cx="1067" cy="293.5" rx="8" ry="2" fill="#c2c2be"/><path d="M1206.3,284 C1206,250 1206.5,220 1206.5,190" stroke="#a0a09a" stroke-width="1.1" fill="none"/><path d="M1205.5,252 C1203,242 1200,232 1197.5,224" stroke="#a0a09a" stroke-width="0.8" fill="none"/><line x1="1206.4" y1="197" x2="1202.9" y2="190" stroke="#a0a09a" stroke-width="0.7"/><line x1="1206.4" y1="202" x2="1209.9" y2="195" stroke="#a0a09a" stroke-width="0.7"/><line x1="1206.4" y1="207" x2="1202.9" y2="200" stroke="#a0a09a" stroke-width="0.7"/><line x1="1206.4" y1="212" x2="1209.9" y2="205" stroke="#a0a09a" stroke-width="0.7"/><line x1="1206.4" y1="217" x2="1202.9" y2="210" stroke="#a0a09a" stroke-width="0.7"/><line x1="1206.4" y1="222" x2="1209.9" y2="215" stroke="#a0a09a" stroke-width="0.7"/><line x1="1206.4" y1="227" x2="1202.9" y2="220" stroke="#a0a09a" stroke-width="0.7"/><line x1="1206.4" y1="232" x2="1209.9" y2="225" stroke="#a0a09a" stroke-width="0.7"/><line x1="1206.4" y1="237" x2="1202.9" y2="230" stroke="#a0a09a" stroke-width="0.7"/><line x1="1206.4" y1="242" x2="1209.9" y2="235" stroke="#a0a09a" stroke-width="0.7"/><line x1="1206.4" y1="247" x2="1202.9" y2="240" stroke="#a0a09a" stroke-width="0.7"/><line x1="1206.4" y1="252" x2="1209.9" y2="245" stroke="#a0a09a" stroke-width="0.7"/><polygon points="1206.5,260.1 1207.3,259.6 1207.9,259.1 1208.5,258.6 1209.1,258.1 1209.6,257.5 1210.1,256.9 1210.5,256.2 1210.9,255.6 1211.3,254.9 1211.6,254.2 1211.9,253.5 1212.2,252.7 1212.4,251.9 1212.5,251.1 1212.3,250.9 1211.5,251.4 1210.9,251.9 1210.3,252.4 1209.7,252.9 1209.2,253.5 1208.7,254.1 1208.3,254.8 1207.9,255.4 1207.5,256.1 1207.2,256.8 1206.9,257.5 1206.6,258.3 1206.4,259.1 1206.3,259.9" fill="#c8c8c3"/><polygon points="1206.5,266.9 1206.4,266.1 1206.2,265.3 1205.9,264.5 1205.6,263.8 1205.3,263.1 1204.9,262.4 1204.5,261.8 1204.1,261.1 1203.6,260.5 1203.1,259.9 1202.5,259.4 1201.9,258.9 1201.3,258.4 1200.5,257.9 1200.3,258.1 1200.4,258.9 1200.6,259.7 1200.9,260.5 1201.2,261.2 1201.5,261.9 1201.9,262.6 1202.3,263.2 1202.7,263.9 1203.2,264.5 1203.7,265.1 1204.3,265.6 1204.9,266.1 1205.5,266.6 1206.3,267.1" fill="#c8c8c3"/><circle cx="1203" cy="187" r="1.5" fill="#d8d8d3" stroke="#a0a09a" stroke-width="0.6"/><circle cx="1206" cy="185.5" r="1.5" fill="#d8d8d3" stroke="#a0a09a" stroke-width="0.6"/><circle cx="1209.5" cy="186" r="1.5" fill="#d8d8d3" stroke="#a0a09a" stroke-width="0.6"/><circle cx="1213" cy="188" r="1.5" fill="#d8d8d3" stroke="#a0a09a" stroke-width="0.6"/><circle cx="1204" cy="190.5" r="1.5" fill="#d8d8d3" stroke="#a0a09a" stroke-width="0.6"/><circle cx="1208" cy="189.5" r="1.5" fill="#d8d8d3" stroke="#a0a09a" stroke-width="0.6"/><circle cx="1212" cy="191" r="1.5" fill="#d8d8d3" stroke="#a0a09a" stroke-width="0.6"/><circle cx="1201" cy="192.5" r="1.5" fill="#d8d8d3" stroke="#a0a09a" stroke-width="0.6"/><circle cx="1214.5" cy="193" r="1.5" fill="#d8d8d3" stroke="#a0a09a" stroke-width="0.6"/><circle cx="1195.5" cy="222" r="1.3" fill="#d8d8d3" stroke="#a0a09a" stroke-width="0.5"/><circle cx="1198.5" cy="221.5" r="1.3" fill="#d8d8d3" stroke="#a0a09a" stroke-width="0.5"/><circle cx="1197" cy="224.5" r="1.3" fill="#d8d8d3" stroke="#a0a09a" stroke-width="0.5"/><polygon points="1206.4,279.9 1204.6,277.9 1202.8,275.9 1201.1,274.0 1199.3,272.0 1197.5,270.1 1195.6,268.3 1193.6,266.6 1191.5,265.1 1189.2,263.8 1186.8,262.7 1184.2,262.0 1181.1,261.9 1180.9,262.1 1182.0,265.0 1183.6,267.3 1185.4,269.2 1187.4,270.9 1189.5,272.4 1191.7,273.7 1194.1,274.9 1196.4,276.0 1198.9,277.0 1201.3,278.1 1203.8,279.1 1206.2,280.1" fill="#c8c8c3" stroke="#a0a09a" stroke-width="0.5"/><line x1="1206.3" y1="280" x2="1181" y2="262" stroke="#a0a09a" stroke-width="0.4"/><polygon points="1206.3,279.9 1204.4,279.6 1202.6,279.3 1200.7,279.0 1198.9,278.8 1197.0,278.6 1195.2,278.5 1193.4,278.5 1191.6,278.8 1189.9,279.2 1188.2,280.0 1186.5,281.0 1185.0,282.9 1185.0,283.1 1187.0,284.5 1188.9,285.0 1190.8,285.3 1192.6,285.2 1194.3,285.0 1196.1,284.5 1197.8,283.9 1199.5,283.2 1201.2,282.5 1202.9,281.7 1204.6,280.9 1206.3,280.1" fill="#c8c8c3" stroke="#a0a09a" stroke-width="0.5"/><line x1="1206.3" y1="280" x2="1185" y2="283" stroke="#a0a09a" stroke-width="0.4"/><polygon points="1206.4,279.9 1205.9,277.4 1205.4,274.9 1204.9,272.4 1204.3,269.9 1203.7,267.5 1203.0,265.0 1202.3,262.6 1201.3,260.3 1200.2,258.0 1198.9,255.9 1197.3,253.8 1195.1,251.9 1194.9,252.1 1194.6,254.9 1194.9,257.5 1195.4,260.0 1196.2,262.4 1197.2,264.7 1198.3,267.0 1199.5,269.2 1200.8,271.4 1202.1,273.6 1203.5,275.7 1204.8,277.9 1206.2,280.1" fill="#c8c8c3" stroke="#a0a09a" stroke-width="0.5"/><line x1="1206.3" y1="280" x2="1195" y2="252" stroke="#a0a09a" stroke-width="0.4"/><polygon points="1206.4,280.1 1208.5,279.1 1210.7,278.2 1212.9,277.2 1215.0,276.3 1217.2,275.2 1219.2,274.1 1221.1,272.9 1222.9,271.5 1224.6,269.8 1226.1,268.0 1227.3,265.9 1228.1,263.1 1227.9,262.9 1225.0,262.9 1222.7,263.7 1220.5,264.7 1218.6,265.9 1216.8,267.3 1215.1,268.9 1213.5,270.6 1212.0,272.4 1210.6,274.3 1209.1,276.1 1207.7,278.0 1206.2,279.9" fill="#c8c8c3" stroke="#a0a09a" stroke-width="0.5"/><line x1="1206.3" y1="280" x2="1228" y2="263" stroke="#a0a09a" stroke-width="0.4"/><polygon points="1206.3,280.1 1207.9,280.7 1209.6,281.2 1211.2,281.8 1212.9,282.3 1214.5,282.7 1216.2,283.1 1217.8,283.3 1219.4,283.3 1221.1,283.1 1222.7,282.6 1224.4,281.7 1226.0,280.2 1226.0,279.8 1224.4,278.3 1222.7,277.4 1221.1,276.9 1219.4,276.7 1217.8,276.7 1216.2,276.9 1214.5,277.3 1212.9,277.7 1211.2,278.2 1209.6,278.8 1207.9,279.3 1206.3,279.9" fill="#c8c8c3" stroke="#a0a09a" stroke-width="0.5"/><line x1="1206.3" y1="280" x2="1226" y2="280" stroke="#a0a09a" stroke-width="0.4"/><polygon points="1206.4,280.1 1207.7,277.9 1208.9,275.9 1210.1,273.8 1211.3,271.6 1212.5,269.5 1213.6,267.4 1214.5,265.2 1215.4,262.9 1216.0,260.6 1216.4,258.2 1216.6,255.7 1216.1,253.1 1215.9,252.9 1213.8,254.8 1212.4,256.8 1211.2,258.9 1210.2,261.1 1209.4,263.3 1208.7,265.6 1208.2,268.0 1207.7,270.4 1207.3,272.7 1206.9,275.1 1206.6,277.6 1206.2,279.9" fill="#c8c8c3" stroke="#a0a09a" stroke-width="0.5"/><line x1="1206.3" y1="280" x2="1216" y2="253" stroke="#a0a09a" stroke-width="0.4"/><polygon points="1206.2,280.1 1206.0,281.0 1205.9,282.1 1205.7,283.1 1205.6,284.1 1205.5,285.0 1205.5,286.0 1205.6,286.9 1205.9,287.7 1206.4,288.5 1207.2,289.2 1208.2,289.7 1209.9,290.1 1210.1,289.9 1211.2,288.6 1211.6,287.5 1211.7,286.5 1211.6,285.6 1211.3,284.8 1210.8,284.0 1210.2,283.3 1209.5,282.6 1208.7,281.9 1208.0,281.3 1207.2,280.6 1206.4,279.9" fill="#c8c8c3" stroke="#a0a09a" stroke-width="0.5"/><line x1="1206.3" y1="280" x2="1210" y2="290" stroke="#a0a09a" stroke-width="0.4"/><polygon points="1206.2,279.9 1205.3,280.4 1204.5,281.0 1203.6,281.5 1202.8,282.0 1202.0,282.6 1201.2,283.2 1200.6,283.8 1200.1,284.6 1199.7,285.4 1199.4,286.4 1199.4,287.5 1199.9,288.9 1200.1,289.1 1201.6,289.0 1202.7,288.6 1203.5,288.1 1204.1,287.4 1204.7,286.7 1205.1,285.8 1205.4,284.9 1205.6,284.0 1205.8,283.0 1206.0,282.0 1206.2,281.1 1206.4,280.1" fill="#c8c8c3" stroke="#a0a09a" stroke-width="0.5"/><line x1="1206.3" y1="280" x2="1200" y2="289" stroke="#a0a09a" stroke-width="0.4"/><line x1="1341.2" y1="223.4" x2="1338.0" y2="218.2" stroke="#86837a" stroke-width="1.2"/><polygon points="1338.2,218.1 1338.4,214.1 1337.9,210.4 1337.1,206.7 1336.0,203.2 1334.6,199.9 1332.8,196.7 1330.8,193.8 1328.4,191.1 1325.8,188.6 1322.9,186.4 1319.8,184.5 1316.5,182.8 1312.9,181.4 1309.0,180.7 1308.8,180.9 1310.0,184.7 1311.5,188.0 1313.0,191.1 1314.6,194.1 1316.3,197.0 1318.0,199.7 1319.9,202.3 1322.0,204.7 1324.1,207.1 1326.5,209.4 1329.0,211.7 1331.7,213.9 1334.5,216.2 1337.9,218.3" fill="#c6c3b7" stroke="#86837a" stroke-width="0.6"/><line x1="1338.0" y1="218.2" x2="1308.9" y2="180.8" stroke="#86837a" stroke-width="0.7"/><line x1="1341.2" y1="223.4" x2="1346.1" y2="218.2" stroke="#86837a" stroke-width="1.2"/><polygon points="1346.3,218.3 1349.6,216.3 1352.4,214.2 1355.1,212.0 1357.6,209.9 1360.0,207.7 1362.2,205.4 1364.3,203.0 1366.2,200.5 1368.0,198.0 1369.7,195.2 1371.4,192.3 1373.0,189.3 1374.5,186.1 1375.8,182.4 1375.6,182.2 1371.8,182.9 1368.3,184.2 1365.0,185.7 1361.9,187.5 1359.0,189.6 1356.4,192.0 1354.0,194.6 1351.9,197.4 1350.1,200.4 1348.6,203.6 1347.4,207.0 1346.5,210.5 1345.9,214.2 1346.0,218.1" fill="#c6c3b7" stroke="#86837a" stroke-width="0.6"/><line x1="1346.1" y1="218.2" x2="1375.7" y2="182.3" stroke="#86837a" stroke-width="0.7"/><line x1="1341.2" y1="223.4" x2="1336.7" y2="222.7" stroke="#86837a" stroke-width="1.2"/><polygon points="1336.8,222.6 1335.7,219.7 1334.3,217.1 1332.6,214.8 1330.7,212.6 1328.7,210.7 1326.4,209.1 1324.0,207.6 1321.5,206.5 1318.8,205.6 1316.1,205.0 1313.3,204.7 1310.4,204.7 1307.5,204.9 1304.5,205.7 1304.4,206.0 1306.5,208.2 1308.7,210.0 1310.8,211.6 1312.8,213.2 1314.9,214.6 1317.0,215.9 1319.1,217.1 1321.3,218.1 1323.5,219.1 1325.9,220.0 1328.3,220.8 1330.9,221.6 1333.6,222.3 1336.6,222.8" fill="#c6c3b7" stroke="#86837a" stroke-width="0.6"/><line x1="1336.7" y1="222.7" x2="1304.4" y2="205.9" stroke="#86837a" stroke-width="0.7"/><line x1="1341.2" y1="223.4" x2="1347.0" y2="222.0" stroke="#86837a" stroke-width="1.2"/><polygon points="1347.1,222.1 1350.1,221.5 1352.8,220.6 1355.4,219.7 1357.8,218.8 1360.2,217.8 1362.4,216.7 1364.6,215.5 1366.7,214.2 1368.8,212.8 1370.8,211.3 1372.8,209.7 1374.9,207.9 1377.0,206.0 1379.1,203.8 1379.0,203.5 1376.0,202.8 1373.0,202.7 1370.1,202.9 1367.2,203.3 1364.5,204.0 1361.8,205.0 1359.3,206.3 1356.9,207.8 1354.7,209.6 1352.7,211.6 1350.9,213.9 1349.3,216.3 1347.9,218.9 1346.9,221.9" fill="#c6c3b7" stroke="#86837a" stroke-width="0.6"/><line x1="1347.0" y1="222.0" x2="1379.1" y2="203.6" stroke="#86837a" stroke-width="0.7"/><line x1="1341.2" y1="223.4" x2="1336.7" y2="227.2" stroke="#86837a" stroke-width="1.2"/><polygon points="1336.7,227.0 1334.9,225.2 1332.9,223.8 1330.8,222.6 1328.6,221.6 1326.4,220.8 1324.1,220.2 1321.8,219.9 1319.5,219.7 1317.2,219.8 1314.9,220.1 1312.5,220.6 1310.2,221.4 1308.0,222.3 1305.8,223.7 1305.8,224.0 1308.0,225.2 1310.3,226.0 1312.4,226.8 1314.6,227.4 1316.7,227.9 1318.8,228.3 1320.9,228.6 1323.0,228.8 1325.2,228.9 1327.3,228.8 1329.6,228.6 1331.8,228.4 1334.2,228.0 1336.7,227.3" fill="#c6c3b7" stroke="#86837a" stroke-width="0.6"/><line x1="1336.7" y1="227.2" x2="1305.8" y2="223.8" stroke="#86837a" stroke-width="0.7"/><line x1="1341.2" y1="223.4" x2="1347.9" y2="226.1" stroke="#86837a" stroke-width="1.2"/><polygon points="1347.9,226.2 1350.4,227.1 1352.7,227.7 1355.0,228.2 1357.2,228.5 1359.4,228.8 1361.5,228.9 1363.6,228.9 1365.7,228.7 1367.9,228.5 1370.0,228.1 1372.2,227.6 1374.4,226.9 1376.7,226.2 1379.1,225.1 1379.1,224.8 1377.0,223.2 1374.8,222.0 1372.5,221.1 1370.3,220.4 1368.0,219.9 1365.6,219.6 1363.3,219.6 1361.0,219.8 1358.7,220.2 1356.4,220.9 1354.2,221.8 1352.0,222.9 1349.9,224.2 1347.9,225.9" fill="#c6c3b7" stroke="#86837a" stroke-width="0.6"/><line x1="1347.9" y1="226.1" x2="1379.1" y2="224.9" stroke="#86837a" stroke-width="0.7"/><line x1="1341.2" y1="223.4" x2="1336.7" y2="231.7" stroke="#86837a" stroke-width="1.2"/><polygon points="1336.7,231.5 1334.2,230.9 1331.8,230.7 1329.3,230.7 1327.0,230.9 1324.6,231.3 1322.4,231.9 1320.2,232.8 1318.1,233.8 1316.1,235.0 1314.2,236.4 1312.4,238.0 1310.7,239.7 1309.2,241.6 1307.9,243.9 1308.1,244.1 1310.6,243.8 1312.9,243.3 1315.1,242.8 1317.2,242.2 1319.3,241.5 1321.3,240.8 1323.3,240.0 1325.2,239.2 1327.1,238.2 1329.0,237.1 1330.9,236.0 1332.9,234.7 1334.8,233.4 1336.7,231.8" fill="#c6c3b7" stroke="#86837a" stroke-width="0.6"/><line x1="1336.7" y1="231.7" x2="1308.0" y2="244.0" stroke="#86837a" stroke-width="0.7"/><line x1="1341.2" y1="223.4" x2="1341.2" y2="218.2" stroke="#86837a" stroke-width="1.2"/><polygon points="1341.3,218.2 1343.4,215.6 1344.8,212.9 1346.1,210.3 1347.1,207.6 1347.8,204.9 1348.3,202.2 1348.6,199.5 1348.6,196.8 1348.4,194.0 1347.9,191.3 1347.2,188.5 1346.3,185.7 1345.1,182.9 1343.4,180.1 1343.1,180.1 1341.0,182.7 1339.6,185.4 1338.3,188.0 1337.3,190.7 1336.6,193.4 1336.0,196.1 1335.8,198.8 1335.8,201.5 1336.0,204.3 1336.5,207.0 1337.2,209.8 1338.1,212.6 1339.3,215.4 1341.0,218.2" fill="#c6c3b7" stroke="#86837a" stroke-width="0.6"/><line x1="1341.2" y1="218.2" x2="1343.2" y2="180.1" stroke="#86837a" stroke-width="0.7"/><polygon points="1338.5,223.4 1343.9,223.4 1346.3,279.9 1336.3,279.9" fill="#b3b0a3" stroke="#86837a" stroke-width="0.7"/><path d="M1337.6,228.7 L1341.2,233.7 L1345.2,228.7" stroke="#86837a" stroke-width="0.6" fill="none"/><path d="M1337.6,235.0 L1341.2,240.0 L1345.2,235.0" stroke="#86837a" stroke-width="0.6" fill="none"/><path d="M1337.6,241.3 L1341.2,246.2 L1345.2,241.3" stroke="#86837a" stroke-width="0.6" fill="none"/><path d="M1337.6,247.6 L1341.2,252.5 L1345.2,247.6" stroke="#86837a" stroke-width="0.6" fill="none"/><path d="M1337.6,253.9 L1341.2,258.8 L1345.2,253.9" stroke="#86837a" stroke-width="0.6" fill="none"/><path d="M1337.6,260.1 L1341.2,265.1 L1345.2,260.1" stroke="#86837a" stroke-width="0.6" fill="none"/><path d="M1337.6,266.4 L1341.2,271.3 L1345.2,266.4" stroke="#86837a" stroke-width="0.6" fill="none"/><path d="M1337.6,272.7 L1341.2,277.6 L1345.2,272.7" stroke="#86837a" stroke-width="0.6" fill="none"/><path d="M1341.2,280.3 q-8,2.5 -14.0,4.7" stroke="#86837a" stroke-width="0.5" fill="none"/><path d="M1341.2,280.3 q-6,2.5 -10.5,4.4" stroke="#86837a" stroke-width="0.5" fill="none"/><path d="M1341.2,280.3 q-4,2.5 -7.0,4.1" stroke="#86837a" stroke-width="0.5" fill="none"/><path d="M1341.2,280.3 q-2,2.5 -3.5,3.8" stroke="#86837a" stroke-width="0.5" fill="none"/><path d="M1341.2,280.3 q0,2.5 0.0,3.5" stroke="#86837a" stroke-width="0.5" fill="none"/><path d="M1341.2,280.3 q2,2.5 3.5,3.8" stroke="#86837a" stroke-width="0.5" fill="none"/><path d="M1341.2,280.3 q4,2.5 7.0,4.1" stroke="#86837a" stroke-width="0.5" fill="none"/><path d="M1341.2,280.3 q6,2.5 10.5,4.4" stroke="#86837a" stroke-width="0.5" fill="none"/><path d="M1341.2,280.3 q8,2.5 14.0,4.7" stroke="#86837a" stroke-width="0.5" fill="none"/><path d="M1348.8,228.7 Q1357.8,233.2 1360.0,237.3" stroke="#86837a" stroke-width="1" fill="none"/><ellipse cx="1357.3" cy="237.3" rx="2.2" ry="1.8" fill="#a29f93" stroke="#86837a" stroke-width="0.5"/><ellipse cx="1360.5" cy="238.4" rx="2.2" ry="1.8" fill="#a29f93" stroke="#86837a" stroke-width="0.5"/><ellipse cx="1358.7" cy="241.3" rx="2.2" ry="1.8" fill="#a29f93" stroke="#86837a" stroke-width="0.5"/><ellipse cx="1361.8" cy="242.2" rx="2.2" ry="1.8" fill="#a29f93" stroke="#86837a" stroke-width="0.5"/><ellipse cx="1357.8" cy="244.4" rx="2.2" ry="1.8" fill="#a29f93" stroke="#86837a" stroke-width="0.5"/><ellipse cx="1360.9" cy="245.8" rx="2.2" ry="1.8" fill="#a29f93" stroke="#86837a" stroke-width="0.5"/><ellipse cx="1360.5" cy="254.8" rx="3.2" ry="6" fill="#9b988c" stroke="#86837a" stroke-width="0.6"/><clipPath id="cpf"><ellipse cx="1477.6" cy="225.4" rx="10.2" ry="12.8"/></clipPath><polygon points="1478.3,291.6 1475.3,282.8 1472.4,274.7 1469.8,267.5 1467.3,261.0 1465.1,255.4 1463.1,250.5 1461.2,246.4 1459.6,243.0 1458.2,240.5 1456.9,238.7 1455.8,237.6 1453.9,237.3 1453.5,238.8 1454.1,240.1 1454.3,240.1 1454.8,238.9 1454.7,239.3 1453.8,239.5 1454.1,240.4 1454.8,242.2 1455.9,244.8 1457.3,248.1 1459.0,252.2 1461.1,257.0 1463.4,262.6 1466.1,268.9 1469.1,276.0 1472.4,283.9 1476.1,292.4" fill="#dcdcdc" stroke="#8a8a8a" stroke-width="0.55"/><path d="M1477.2,292.0 L1473.9,283.3 L1470.8,275.4 L1467.9,268.2 L1465.4,261.8 L1463.1,256.2 L1461.0,251.3 L1459.3,247.2 L1457.7,243.9 L1456.5,241.4 L1455.5,239.6 L1454.8,238.6 L1454.3,238.3 L1454.1,238.8 L1454.2,240.1" stroke="#9a9a9a" stroke-width="0.4" fill="none"/><polygon points="1478.2,291.4 1474.7,284.9 1471.4,279.0 1468.4,273.9 1465.6,269.4 1463.1,265.6 1460.9,262.5 1458.9,260.1 1457.1,258.3 1455.4,257.2 1453.5,256.7 1451.7,257.8 1451.4,259.5 1451.8,261.3 1452.6,263.6 1452.8,263.5 1453.1,261.2 1453.5,259.8 1453.9,259.5 1453.3,260.0 1453.4,260.4 1454.2,261.3 1455.6,262.9 1457.4,265.2 1459.6,268.2 1462.1,271.8 1465.1,276.0 1468.4,280.9 1472.1,286.4 1476.2,292.6" fill="#dcdcdc" stroke="#8a8a8a" stroke-width="0.55"/><path d="M1477.2,292.0 L1473.4,285.7 L1469.9,280.0 L1466.7,274.9 L1463.9,270.6 L1461.4,266.9 L1459.1,263.9 L1457.2,261.5 L1455.6,259.8 L1454.4,258.8 L1453.4,258.4 L1452.8,258.7 L1452.4,259.6 L1452.4,261.3 L1452.7,263.5" stroke="#9a9a9a" stroke-width="0.4" fill="none"/><polygon points="1478.2,291.3 1475.2,286.1 1472.4,281.5 1469.8,277.5 1467.2,274.1 1464.8,271.4 1462.6,269.3 1460.3,267.8 1458.1,267.0 1455.8,267.0 1453.9,268.1 1452.7,269.8 1452.1,272.0 1451.8,274.7 1452.0,277.8 1452.2,277.8 1453.1,274.9 1454.1,272.7 1455.0,271.3 1455.9,270.7 1456.4,270.7 1457.1,270.9 1458.2,271.5 1459.8,272.7 1461.7,274.5 1464.0,276.9 1466.6,279.9 1469.5,283.5 1472.7,287.8 1476.2,292.7" fill="#dcdcdc" stroke="#8a8a8a" stroke-width="0.55"/><path d="M1477.2,292.0 L1474.0,286.9 L1471.0,282.5 L1468.2,278.7 L1465.6,275.5 L1463.3,272.9 L1461.2,271.0 L1459.3,269.6 L1457.6,268.9 L1456.1,268.9 L1454.9,269.4 L1453.9,270.6 L1453.1,272.4 L1452.5,274.8 L1452.1,277.8" stroke="#9a9a9a" stroke-width="0.4" fill="none"/><polygon points="1478.2,291.4 1476.2,287.3 1474.2,283.7 1472.3,280.6 1470.5,278.1 1468.7,276.1 1466.9,274.6 1465.0,273.7 1463.0,273.6 1461.1,274.4 1459.8,276.0 1459.2,277.9 1458.9,280.1 1458.9,282.8 1459.2,285.9 1459.4,286.0 1460.2,283.0 1461.0,280.6 1461.8,278.8 1462.6,277.8 1463.2,277.5 1463.3,277.6 1463.7,277.8 1464.5,278.3 1465.7,279.3 1467.3,280.9 1469.2,283.0 1471.3,285.6 1473.6,288.9 1476.2,292.6" fill="#dcdcdc" stroke="#8a8a8a" stroke-width="0.55"/><path d="M1477.2,292.0 L1474.9,288.1 L1472.7,284.7 L1470.7,281.8 L1468.9,279.5 L1467.2,277.7 L1465.7,276.5 L1464.4,275.8 L1463.2,275.6 L1462.1,276.0 L1461.2,276.9 L1460.5,278.3 L1459.9,280.3 L1459.5,282.9 L1459.3,285.9" stroke="#9a9a9a" stroke-width="0.4" fill="none"/><polygon points="1478.4,291.8 1477.1,283.3 1475.9,275.5 1474.6,268.4 1473.3,262.0 1472.1,256.2 1470.8,251.1 1469.5,246.6 1468.2,242.8 1466.9,239.7 1465.5,237.3 1464.1,235.5 1462.7,234.4 1461.2,234.1 1460.3,234.9 1460.3,235.1 1461.1,235.4 1461.4,236.0 1461.9,237.1 1462.5,238.8 1463.4,241.1 1464.3,244.2 1465.3,247.9 1466.5,252.2 1467.8,257.2 1469.2,262.9 1470.8,269.2 1472.4,276.2 1474.1,283.9 1476.0,292.2" fill="#dcdcdc" stroke="#8a8a8a" stroke-width="0.55"/><path d="M1477.2,292.0 L1475.6,283.6 L1474.1,275.9 L1472.7,268.8 L1471.3,262.4 L1469.9,256.7 L1468.6,251.6 L1467.4,247.2 L1466.2,243.5 L1465.1,240.4 L1464.0,238.0 L1463.0,236.3 L1462.0,235.2 L1461.1,234.8 L1460.3,235.0" stroke="#9a9a9a" stroke-width="0.4" fill="none"/><polygon points="1478.3,292.4 1481.9,283.5 1485.0,275.3 1487.9,267.9 1490.4,261.2 1492.6,255.4 1494.4,250.3 1495.9,245.9 1497.1,242.4 1497.9,239.6 1498.4,237.6 1498.6,236.3 1496.7,236.2 1496.7,235.6 1496.9,237.0 1497.1,237.1 1498.0,236.0 1498.2,234.7 1496.0,235.3 1495.3,236.4 1494.4,238.3 1493.2,241.0 1491.9,244.5 1490.3,248.8 1488.5,253.9 1486.4,259.8 1484.2,266.5 1481.7,274.1 1479.0,282.4 1476.1,291.6" fill="#dcdcdc" stroke="#8a8a8a" stroke-width="0.55"/><path d="M1477.2,292.0 L1480.4,282.9 L1483.4,274.7 L1486.0,267.2 L1488.4,260.5 L1490.5,254.6 L1492.3,249.5 L1493.9,245.2 L1495.2,241.7 L1496.2,238.9 L1496.9,237.0 L1497.3,235.8 L1497.5,235.4 L1497.4,235.8 L1497.0,237.0" stroke="#9a9a9a" stroke-width="0.4" fill="none"/><polygon points="1478.3,292.5 1482.1,285.1 1485.6,278.3 1488.7,272.2 1491.5,266.7 1494.0,261.9 1496.1,257.8 1497.8,254.4 1499.2,251.6 1500.3,249.5 1500.9,248.0 1501.1,247.4 1499.7,246.9 1500.0,246.9 1500.3,248.2 1500.5,248.3 1501.3,247.0 1501.5,245.7 1499.4,245.2 1498.3,246.1 1497.1,247.5 1495.7,249.6 1494.0,252.3 1492.2,255.8 1490.1,260.0 1487.8,264.9 1485.2,270.5 1482.4,276.8 1479.4,283.8 1476.1,291.5" fill="#dcdcdc" stroke="#8a8a8a" stroke-width="0.55"/><path d="M1477.2,292.0 L1480.7,284.4 L1484.0,277.5 L1487.0,271.3 L1489.7,265.8 L1492.0,261.0 L1494.1,256.8 L1495.9,253.3 L1497.5,250.6 L1498.7,248.5 L1499.6,247.1 L1500.2,246.3 L1500.6,246.3 L1500.7,246.9 L1500.4,248.3" stroke="#9a9a9a" stroke-width="0.4" fill="none"/><polygon points="1478.2,292.7 1482.1,287.9 1485.7,283.4 1488.9,279.4 1491.8,275.7 1494.4,272.4 1496.7,269.5 1498.6,266.9 1500.2,264.8 1501.5,263.0 1502.5,261.6 1503.1,260.6 1503.2,260.1 1502.6,259.6 1503.0,259.5 1503.2,259.5 1503.5,258.6 1502.2,258.2 1501.2,258.6 1500.0,259.3 1498.7,260.5 1497.1,262.2 1495.3,264.2 1493.2,266.8 1491.0,269.7 1488.5,273.1 1485.8,277.0 1482.8,281.3 1479.6,286.1 1476.2,291.3" fill="#dcdcdc" stroke="#8a8a8a" stroke-width="0.55"/><path d="M1477.2,292.0 L1480.9,287.0 L1484.2,282.4 L1487.3,278.2 L1490.2,274.4 L1492.7,271.1 L1495.0,268.1 L1497.0,265.6 L1498.7,263.5 L1500.1,261.8 L1501.2,260.5 L1502.1,259.6 L1502.7,259.1 L1503.0,259.1 L1503.1,259.5" stroke="#9a9a9a" stroke-width="0.4" fill="none"/><polygon points="1478.1,292.8 1481.7,289.2 1484.9,285.9 1487.9,283.1 1490.6,280.6 1493.1,278.5 1495.2,276.9 1497.1,275.6 1498.6,274.6 1499.8,274.1 1500.6,273.8 1501.3,273.7 1502.1,273.8 1503.0,274.5 1504.0,275.8 1504.2,275.7 1504.2,273.9 1503.6,272.4 1502.5,271.1 1500.8,270.5 1498.9,270.4 1496.9,270.9 1494.8,271.9 1492.6,273.3 1490.3,275.2 1487.8,277.5 1485.1,280.3 1482.3,283.5 1479.4,287.1 1476.3,291.2" fill="#dcdcdc" stroke="#8a8a8a" stroke-width="0.55"/><path d="M1477.2,292.0 L1480.5,288.1 L1483.6,284.7 L1486.5,281.7 L1489.2,279.1 L1491.7,276.9 L1493.9,275.1 L1495.9,273.7 L1497.7,272.8 L1499.3,272.2 L1500.7,272.1 L1501.9,272.4 L1502.8,273.1 L1503.6,274.2 L1504.1,275.8" stroke="#9a9a9a" stroke-width="0.4" fill="none"/><polygon points="1478.2,292.6 1480.6,289.3 1482.6,286.6 1484.5,284.2 1486.2,282.4 1487.6,281.1 1488.7,280.3 1489.4,279.9 1489.7,279.7 1489.9,279.6 1490.5,279.9 1491.2,280.7 1492.1,282.2 1492.9,284.3 1493.8,287.0 1494.0,287.0 1494.2,284.1 1494.1,281.7 1493.8,279.6 1493.1,277.9 1491.9,276.4 1490.2,275.6 1488.2,275.7 1486.4,276.5 1484.7,277.9 1483.1,279.6 1481.4,281.9 1479.7,284.6 1478.0,287.7 1476.2,291.4" fill="#dcdcdc" stroke="#8a8a8a" stroke-width="0.55"/><path d="M1477.2,292.0 L1479.3,288.5 L1481.2,285.6 L1483.0,283.1 L1484.6,281.0 L1486.2,279.5 L1487.5,278.4 L1488.8,277.8 L1489.9,277.7 L1490.9,278.0 L1491.8,278.9 L1492.5,280.2 L1493.1,282.0 L1493.6,284.2 L1493.9,287.0" stroke="#9a9a9a" stroke-width="0.4" fill="none"/><polygon points="1478.4,292.2 1480.1,283.9 1481.7,276.2 1483.2,269.2 1484.6,262.8 1485.8,257.1 1486.9,252.1 1487.8,247.7 1488.7,244.0 1489.4,241.0 1489.9,238.6 1490.3,236.9 1490.6,235.9 1490.4,235.4 1490.8,235.1 1490.9,234.9 1490.2,234.1 1488.9,234.5 1487.8,235.7 1486.8,237.4 1485.8,239.9 1484.7,243.0 1483.7,246.7 1482.6,251.2 1481.5,256.3 1480.4,262.0 1479.4,268.5 1478.2,275.6 1477.1,283.4 1476.0,291.8" fill="#dcdcdc" stroke="#8a8a8a" stroke-width="0.55"/><path d="M1477.2,292.0 L1478.6,283.6 L1480.0,275.9 L1481.3,268.8 L1482.5,262.4 L1483.7,256.7 L1484.7,251.6 L1485.7,247.2 L1486.7,243.5 L1487.6,240.4 L1488.4,238.0 L1489.1,236.3 L1489.7,235.2 L1490.3,234.8 L1490.8,235.0" stroke="#9a9a9a" stroke-width="0.4" fill="none"/><polygon points="1478.4,291.9 1478.2,285.8 1478.0,280.1 1477.6,274.7 1477.2,269.8 1476.8,265.2 1476.3,260.9 1475.7,257.1 1475.0,253.6 1474.2,250.5 1473.4,247.8 1472.6,245.5 1471.7,243.6 1470.7,242.1 1469.5,241.1 1469.4,241.2 1469.5,242.6 1469.7,244.3 1469.9,246.2 1470.2,248.6 1470.6,251.3 1470.9,254.3 1471.4,257.7 1471.9,261.5 1472.4,265.7 1473.1,270.2 1473.7,275.1 1474.4,280.4 1475.2,286.1 1476.0,292.1" fill="#dcdcdc" stroke="#8a8a8a" stroke-width="0.55"/><path d="M1477.2,292.0 L1476.7,285.9 L1476.2,280.3 L1475.7,274.9 L1475.1,270.0 L1474.6,265.4 L1474.1,261.2 L1473.5,257.4 L1473.0,254.0 L1472.4,250.9 L1471.8,248.2 L1471.2,245.9 L1470.7,243.9 L1470.1,242.3 L1469.4,241.1" stroke="#9a9a9a" stroke-width="0.4" fill="none"/><polygon points="1478.4,292.1 1479.2,286.1 1479.9,280.4 1480.6,275.1 1481.2,270.2 1481.8,265.7 1482.3,261.5 1482.8,257.7 1483.2,254.3 1483.6,251.3 1483.9,248.6 1484.2,246.2 1484.5,244.3 1484.7,242.6 1484.8,241.2 1484.6,241.1 1483.5,242.1 1482.5,243.6 1481.6,245.5 1480.7,247.8 1479.9,250.5 1479.2,253.6 1478.5,257.1 1477.9,261.0 1477.4,265.2 1477.0,269.8 1476.6,274.8 1476.4,280.1 1476.1,285.8 1476.0,291.9" fill="#dcdcdc" stroke="#8a8a8a" stroke-width="0.55"/><path d="M1477.2,292.0 L1477.7,285.9 L1478.1,280.3 L1478.6,274.9 L1479.1,270.0 L1479.6,265.4 L1480.1,261.2 L1480.7,257.4 L1481.2,254.0 L1481.8,250.9 L1482.3,248.2 L1482.9,245.9 L1483.5,243.9 L1484.1,242.3 L1484.7,241.1" stroke="#9a9a9a" stroke-width="0.4" fill="none"/><rect x="1475.7" y="236" width="3" height="56" fill="#cfcfcf" stroke="#8a8a8a" stroke-width="0.5"/><ellipse cx="1477.6" cy="225.4" rx="10.2" ry="12.8" fill="#d6d6d6" stroke="#7a7a7a" stroke-width="0.8"/><g clip-path="url(#cpf)" stroke="#8c8c8c" stroke-width="0.6"><line x1="1445.0" y1="211" x2="1469.0" y2="240"/><line x1="1469.0" y1="211" x2="1445.0" y2="240"/><line x1="1449.2" y1="211" x2="1473.2" y2="240"/><line x1="1473.2" y1="211" x2="1449.2" y2="240"/><line x1="1453.4" y1="211" x2="1477.4" y2="240"/><line x1="1477.4" y1="211" x2="1453.4" y2="240"/><line x1="1457.6" y1="211" x2="1481.6" y2="240"/><line x1="1481.6" y1="211" x2="1457.6" y2="240"/><line x1="1461.8" y1="211" x2="1485.8" y2="240"/><line x1="1485.8" y1="211" x2="1461.8" y2="240"/><line x1="1466.0" y1="211" x2="1490.0" y2="240"/><line x1="1490.0" y1="211" x2="1466.0" y2="240"/><line x1="1470.2" y1="211" x2="1494.2" y2="240"/><line x1="1494.2" y1="211" x2="1470.2" y2="240"/><line x1="1474.4" y1="211" x2="1498.4" y2="240"/><line x1="1498.4" y1="211" x2="1474.4" y2="240"/><line x1="1478.6" y1="211" x2="1502.6" y2="240"/><line x1="1502.6" y1="211" x2="1478.6" y2="240"/><line x1="1482.8" y1="211" x2="1506.8" y2="240"/><line x1="1506.8" y1="211" x2="1482.8" y2="240"/><line x1="1487.0" y1="211" x2="1511.0" y2="240"/><line x1="1511.0" y1="211" x2="1487.0" y2="240"/></g><polygon points="1477.1,212.9 1476.0,210.4 1474.8,208.1 1473.4,205.8 1471.9,203.6 1470.3,201.6 1468.5,199.6 1466.7,197.7 1464.6,195.9 1464.4,196.1 1465.5,198.6 1466.7,200.9 1468.1,203.2 1469.6,205.4 1471.2,207.4 1473.0,209.4 1474.8,211.3 1476.9,213.1" fill="#cdcdcd" stroke="#8a8a8a" stroke-width="0.5"/><polygon points="1477.1,212.9 1476.3,209.8 1475.3,206.8 1474.1,203.8 1472.8,200.9 1471.4,198.0 1469.8,195.3 1468.1,192.6 1466.1,189.9 1465.9,190.1 1466.7,193.2 1467.7,196.2 1468.9,199.2 1470.2,202.1 1471.6,205.0 1473.2,207.7 1474.9,210.4 1476.9,213.1" fill="#cdcdcd" stroke="#8a8a8a" stroke-width="0.5"/><polygon points="1477.1,213.0 1477.0,209.8 1476.6,206.6 1476.1,203.5 1475.4,200.4 1474.6,197.4 1473.6,194.4 1472.5,191.4 1471.1,188.5 1470.9,188.5 1471.0,191.7 1471.4,194.9 1471.9,198.0 1472.6,201.1 1473.4,204.1 1474.4,207.1 1475.5,210.1 1476.9,213.0" fill="#cdcdcd" stroke="#8a8a8a" stroke-width="0.5"/><polygon points="1477.2,213.0 1477.8,209.9 1478.1,206.8 1478.4,203.6 1478.5,200.5 1478.4,197.4 1478.1,194.2 1477.8,191.1 1477.2,188.0 1476.8,188.0 1476.2,191.1 1475.9,194.2 1475.6,197.4 1475.5,200.5 1475.6,203.6 1475.9,206.8 1476.2,209.9 1476.8,213.0" fill="#cdcdcd" stroke="#8a8a8a" stroke-width="0.5"/><polygon points="1477.1,213.0 1478.4,210.2 1479.4,207.2 1480.2,204.3 1480.9,201.3 1481.5,198.3 1481.9,195.2 1482.1,192.2 1482.1,189.0 1481.9,189.0 1480.6,191.8 1479.6,194.8 1478.8,197.7 1478.1,200.7 1477.5,203.7 1477.1,206.8 1476.9,209.8 1476.9,213.0" fill="#cdcdcd" stroke="#8a8a8a" stroke-width="0.5"/><polygon points="1477.1,213.1 1478.9,210.7 1480.5,208.2 1482.0,205.7 1483.3,203.1 1484.5,200.5 1485.5,197.7 1486.4,194.9 1487.1,192.1 1486.9,191.9 1485.1,194.3 1483.5,196.8 1482.0,199.3 1480.7,201.9 1479.5,204.5 1478.5,207.3 1477.6,210.1 1476.9,212.9" fill="#cdcdcd" stroke="#8a8a8a" stroke-width="0.5"/><polygon points="1477.1,213.1 1479.1,211.6 1480.9,210.0 1482.6,208.2 1484.1,206.4 1485.6,204.5 1486.9,202.5 1488.1,200.3 1489.1,198.1 1488.9,197.9 1486.9,199.4 1485.1,201.0 1483.4,202.8 1481.9,204.6 1480.4,206.5 1479.1,208.5 1477.9,210.7 1476.9,212.9" fill="#cdcdcd" stroke="#8a8a8a" stroke-width="0.5"/><polygon points="1477.1,212.9 1475.6,211.3 1474.1,210.0 1472.4,208.8 1470.7,207.7 1468.9,206.8 1467.1,206.0 1465.1,205.3 1463.1,204.9 1462.9,205.1 1464.4,206.7 1465.9,208.0 1467.6,209.2 1469.3,210.3 1471.1,211.2 1472.9,212.0 1474.9,212.7 1476.9,213.1" fill="#cdcdcd" stroke="#8a8a8a" stroke-width="0.5"/><polygon points="1477.1,213.1 1479.0,212.8 1480.8,212.2 1482.5,211.6 1484.2,210.8 1485.8,209.8 1487.3,208.7 1488.7,207.5 1490.1,206.1 1489.9,205.9 1488.0,206.2 1486.2,206.8 1484.5,207.4 1482.8,208.2 1481.2,209.2 1479.7,210.3 1478.3,211.5 1476.9,212.9" fill="#cdcdcd" stroke="#8a8a8a" stroke-width="0.5"/><polygon points="1477.1,213.0 1477.4,210.3 1477.4,207.6 1477.2,204.9 1476.9,202.3 1476.5,199.7 1475.9,197.1 1475.1,194.5 1474.1,192.0 1473.9,192.0 1473.6,194.7 1473.6,197.4 1473.8,200.1 1474.1,202.7 1474.5,205.3 1475.1,207.9 1475.9,210.5 1476.9,213.0" fill="#cdcdcd" stroke="#8a8a8a" stroke-width="0.5"/><polygon points="1477.1,213.0 1478.1,210.4 1478.9,207.7 1479.5,204.9 1479.9,202.2 1480.2,199.4 1480.4,196.7 1480.4,193.9 1480.1,191.0 1479.9,191.0 1478.9,193.6 1478.1,196.3 1477.5,199.1 1477.1,201.8 1476.8,204.6 1476.6,207.3 1476.6,210.1 1476.9,213.0" fill="#cdcdcd" stroke="#8a8a8a" stroke-width="0.5"/><polygon points="1477.1,212.9 1476.5,210.9 1475.7,209.1 1474.8,207.3 1473.7,205.7 1472.5,204.1 1471.2,202.6 1469.7,201.2 1468.1,199.9 1467.9,200.1 1468.5,202.1 1469.3,203.9 1470.2,205.7 1471.3,207.3 1472.5,208.9 1473.8,210.4 1475.3,211.8 1476.9,213.1" fill="#cdcdcd" stroke="#8a8a8a" stroke-width="0.5"/><polygon points="1477.1,213.1 1478.7,212.0 1480.2,210.7 1481.5,209.3 1482.7,207.9 1483.7,206.3 1484.7,204.7 1485.5,203.0 1486.1,201.1 1485.9,200.9 1484.3,202.0 1482.8,203.3 1481.5,204.7 1480.3,206.1 1479.3,207.7 1478.3,209.3 1477.5,211.0 1476.9,212.9" fill="#cdcdcd" stroke="#8a8a8a" stroke-width="0.5"/><polygon points="1609.7,292.7 1608.6,285.4 1607.3,278.5 1605.8,271.9 1604.1,265.6 1602.2,259.7 1600.0,254.2 1597.6,249.0 1595.0,244.2 1592.3,239.8 1589.3,235.8 1586.0,232.1 1582.6,228.8 1579.0,225.9 1575.2,223.4 1575.1,223.6 1578.7,226.3 1582.1,229.4 1585.3,232.8 1588.3,236.5 1591.2,240.5 1593.8,244.9 1596.3,249.7 1598.6,254.8 1600.8,260.2 1602.7,266.0 1604.5,272.2 1606.1,278.7 1607.6,285.6 1608.8,292.9" fill="#aaa697" stroke="#aaa697" stroke-width="0.25"/><polygon points="1609.8,292.7 1608.8,286.7 1607.5,281.0 1606.1,275.7 1604.5,270.7 1602.7,266.1 1600.6,261.7 1598.4,257.8 1595.9,254.1 1593.3,250.9 1590.5,247.9 1587.4,245.4 1584.2,243.2 1580.8,241.4 1577.3,240.0 1577.2,240.1 1580.6,241.9 1583.8,243.9 1586.8,246.2 1589.7,248.8 1592.3,251.7 1594.8,255.0 1597.1,258.5 1599.3,262.4 1601.3,266.7 1603.1,271.2 1604.8,276.1 1606.3,281.4 1607.7,286.9 1608.9,292.9" fill="#aaa697" stroke="#aaa697" stroke-width="0.25"/><polygon points="1609.9,292.7 1609.0,289.4 1607.9,286.5 1606.7,283.8 1605.2,281.4 1603.6,279.4 1601.7,277.6 1599.7,276.1 1597.5,275.0 1595.2,274.2 1592.7,273.7 1590.0,273.6 1587.3,273.8 1584.4,274.3 1581.4,275.1 1581.4,275.3 1584.5,274.8 1587.3,274.6 1590.0,274.6 1592.5,274.9 1594.8,275.5 1597.0,276.3 1598.9,277.4 1600.8,278.7 1602.5,280.4 1604.0,282.3 1605.5,284.5 1606.8,287.0 1608.0,289.8 1609.0,292.9" fill="#aaa697" stroke="#aaa697" stroke-width="0.25"/><polygon points="1610.0,292.7 1609.3,288.7 1608.4,284.9 1607.3,281.3 1606.1,278.0 1604.7,274.9 1603.2,272.1 1601.5,269.6 1599.6,267.3 1597.6,265.3 1595.5,263.6 1593.2,262.2 1590.8,261.0 1588.2,260.2 1585.5,259.6 1585.5,259.8 1588.0,260.7 1590.4,261.7 1592.7,263.0 1594.8,264.6 1596.7,266.3 1598.6,268.3 1600.3,270.5 1601.9,272.9 1603.4,275.6 1604.8,278.5 1606.0,281.7 1607.2,285.2 1608.2,288.9 1609.2,292.9" fill="#aaa697" stroke="#aaa697" stroke-width="0.25"/><polygon points="1610.3,292.6 1609.8,291.0 1609.2,289.4 1608.5,288.1 1607.6,286.9 1606.6,285.8 1605.6,285.0 1604.3,284.4 1603.0,283.9 1601.7,283.7 1600.2,283.7 1598.7,283.8 1597.1,284.2 1595.4,284.7 1593.8,285.5 1593.8,285.6 1595.6,285.2 1597.3,284.9 1598.8,284.8 1600.2,284.8 1601.5,285.0 1602.7,285.3 1603.7,285.7 1604.7,286.3 1605.7,287.0 1606.5,287.8 1607.3,288.8 1608.1,290.0 1608.8,291.4 1609.4,292.9" fill="#aaa697" stroke="#aaa697" stroke-width="0.25"/><polygon points="1610.2,292.8 1609.6,283.6 1608.8,274.7 1608.0,266.0 1607.0,257.5 1605.8,249.2 1604.6,241.1 1603.2,233.2 1601.7,225.5 1600.0,218.1 1598.2,210.9 1596.3,203.9 1594.3,197.1 1592.1,190.5 1589.7,184.2 1589.6,184.2 1591.6,190.7 1593.5,197.3 1595.3,204.1 1597.1,211.1 1598.7,218.4 1600.3,225.8 1601.7,233.5 1603.1,241.3 1604.4,249.4 1605.5,257.6 1606.6,266.1 1607.6,274.8 1608.5,283.7 1609.3,292.8" fill="#aaa697" stroke="#aaa697" stroke-width="0.25"/><polygon points="1610.5,292.8 1610.3,285.1 1610.0,277.4 1609.6,269.9 1609.2,262.5 1608.7,255.1 1608.2,247.9 1607.5,240.8 1606.8,233.7 1606.1,226.8 1605.2,219.9 1604.3,213.2 1603.3,206.5 1602.3,199.9 1601.1,193.5 1600.9,193.5 1601.7,200.0 1602.5,206.6 1603.3,213.3 1604.0,220.0 1604.8,226.9 1605.4,233.8 1606.1,240.9 1606.7,248.0 1607.2,255.3 1607.8,262.6 1608.3,270.0 1608.8,277.5 1609.2,285.1 1609.6,292.8" fill="#aaa697" stroke="#aaa697" stroke-width="0.25"/><polygon points="1610.3,292.8 1609.9,286.6 1609.4,280.6 1608.7,274.8 1608.0,269.1 1607.1,263.6 1606.2,258.3 1605.2,253.1 1604.0,248.1 1602.7,243.2 1601.4,238.5 1599.9,234.0 1598.4,229.6 1596.7,225.4 1594.9,221.4 1594.7,221.5 1596.2,225.6 1597.6,229.9 1599.0,234.3 1600.3,238.8 1601.5,243.5 1602.6,248.4 1603.7,253.4 1604.7,258.5 1605.7,263.9 1606.6,269.3 1607.4,275.0 1608.1,280.8 1608.8,286.7 1609.4,292.8" fill="#aaa697" stroke="#aaa697" stroke-width="0.25"/><polygon points="1610.6,292.8 1610.4,286.2 1610.2,279.6 1609.9,273.1 1609.6,266.7 1609.2,260.4 1608.8,254.2 1608.3,248.0 1607.8,241.9 1607.1,235.9 1606.5,229.9 1605.7,224.1 1605.0,218.3 1604.1,212.6 1603.2,206.9 1603.0,207.0 1603.6,212.6 1604.2,218.4 1604.8,224.2 1605.3,230.1 1605.8,236.0 1606.4,242.0 1606.8,248.1 1607.3,254.3 1607.8,260.5 1608.2,266.8 1608.6,273.2 1609.0,279.7 1609.3,286.2 1609.7,292.8" fill="#aaa697" stroke="#aaa697" stroke-width="0.25"/><polygon points="1611.9,292.9 1613.3,284.2 1614.9,276.0 1616.6,268.1 1618.6,260.6 1620.7,253.6 1623.0,246.9 1625.5,240.6 1628.3,234.7 1631.2,229.2 1634.3,224.0 1637.6,219.2 1641.1,214.8 1644.8,210.7 1648.7,207.0 1648.5,206.9 1644.4,210.4 1640.5,214.3 1636.8,218.6 1633.3,223.3 1630.0,228.5 1627.0,234.1 1624.2,240.0 1621.6,246.4 1619.3,253.1 1617.2,260.3 1615.3,267.8 1613.6,275.7 1612.2,284.0 1611.0,292.7" fill="#aaa697" stroke="#aaa697" stroke-width="0.25"/><polygon points="1611.9,292.9 1613.2,286.1 1614.7,279.7 1616.5,273.6 1618.3,268.0 1620.4,262.7 1622.7,257.9 1625.1,253.3 1627.7,249.2 1630.5,245.4 1633.6,242.0 1636.8,239.0 1640.2,236.3 1643.8,233.9 1647.6,231.9 1647.5,231.7 1643.5,233.4 1639.7,235.6 1636.1,238.2 1632.7,241.2 1629.5,244.6 1626.6,248.4 1623.8,252.6 1621.3,257.2 1619.0,262.2 1617.0,267.5 1615.2,273.3 1613.5,279.4 1612.2,285.9 1611.0,292.7" fill="#aaa697" stroke="#aaa697" stroke-width="0.25"/><polygon points="1611.9,292.9 1613.3,287.8 1614.9,283.2 1616.7,278.9 1618.7,275.1 1620.9,271.6 1623.2,268.6 1625.8,265.9 1628.5,263.6 1631.5,261.7 1634.6,260.2 1638.0,259.0 1641.6,258.2 1645.5,257.8 1649.6,257.7 1649.6,257.5 1645.5,257.3 1641.5,257.4 1637.8,258.1 1634.2,259.1 1630.8,260.6 1627.7,262.5 1624.8,264.8 1622.1,267.6 1619.6,270.8 1617.4,274.4 1615.5,278.4 1613.8,282.7 1612.3,287.5 1611.1,292.7" fill="#aaa697" stroke="#aaa697" stroke-width="0.25"/><polygon points="1611.5,292.9 1612.5,289.5 1613.6,286.4 1614.7,283.6 1616.1,281.1 1617.5,278.8 1619.0,276.7 1620.7,275.0 1622.4,273.4 1624.3,272.1 1626.4,271.1 1628.6,270.2 1631.0,269.6 1633.5,269.3 1636.2,269.1 1636.2,268.9 1633.5,268.7 1630.8,268.8 1628.3,269.3 1625.9,270.0 1623.7,271.0 1621.6,272.3 1619.6,273.9 1617.9,275.8 1616.2,277.9 1614.8,280.4 1613.5,283.1 1612.4,286.0 1611.5,289.2 1610.7,292.7" fill="#aaa697" stroke="#aaa697" stroke-width="0.25"/><polygon points="1611.2,292.9 1611.8,291.5 1612.4,290.2 1613.0,289.2 1613.7,288.2 1614.5,287.4 1615.3,286.7 1616.2,286.2 1617.1,285.8 1618.1,285.5 1619.2,285.2 1620.5,285.2 1621.8,285.2 1623.2,285.4 1624.8,285.6 1624.8,285.5 1623.4,284.8 1621.9,284.4 1620.5,284.2 1619.2,284.1 1617.9,284.2 1616.6,284.4 1615.5,284.9 1614.4,285.5 1613.5,286.3 1612.6,287.3 1611.9,288.4 1611.3,289.7 1610.7,291.1 1610.3,292.6" fill="#aaa697" stroke="#aaa697" stroke-width="0.25"/><polygon points="1611.1,292.8 1611.5,285.8 1611.9,278.8 1612.4,272.0 1612.9,265.2 1613.4,258.6 1614.0,252.0 1614.6,245.6 1615.2,239.2 1615.9,232.9 1616.6,226.7 1617.4,220.6 1618.1,214.6 1618.9,208.7 1619.7,202.8 1619.5,202.8 1618.4,208.6 1617.3,214.5 1616.4,220.5 1615.5,226.5 1614.6,232.7 1613.8,239.0 1613.1,245.4 1612.5,251.9 1611.9,258.5 1611.4,265.1 1611.0,271.9 1610.7,278.8 1610.4,285.7 1610.2,292.8" fill="#aaa697" stroke="#aaa697" stroke-width="0.25"/><polygon points="1610.9,292.8 1611.1,285.2 1611.4,277.7 1611.6,270.2 1611.9,262.7 1612.1,255.3 1612.4,247.9 1612.6,240.6 1612.9,233.3 1613.2,226.1 1613.4,218.8 1613.7,211.7 1614.0,204.6 1614.3,197.5 1614.6,190.4 1614.4,190.4 1613.8,197.4 1613.2,204.5 1612.7,211.6 1612.3,218.8 1611.9,226.0 1611.5,233.2 1611.2,240.5 1610.9,247.9 1610.6,255.3 1610.4,262.7 1610.3,270.1 1610.1,277.6 1610.1,285.2 1610.0,292.8" fill="#aaa697" stroke="#aaa697" stroke-width="0.25"/><polygon points="1611.4,292.8 1612.1,286.3 1613.0,280.0 1613.9,273.8 1614.9,267.9 1616.0,262.2 1617.2,256.7 1618.5,251.3 1619.9,246.2 1621.4,241.3 1622.9,236.5 1624.6,232.0 1626.3,227.6 1628.2,223.4 1630.1,219.4 1629.9,219.3 1627.7,223.2 1625.6,227.3 1623.6,231.6 1621.8,236.1 1620.1,240.9 1618.5,245.8 1617.1,251.0 1615.8,256.3 1614.6,261.9 1613.5,267.7 1612.5,273.6 1611.7,279.8 1611.0,286.2 1610.5,292.7" fill="#aaa697" stroke="#aaa697" stroke-width="0.25"/><polygon points="1611.1,292.8 1611.6,288.8 1612.1,284.8 1612.7,281.0 1613.3,277.3 1613.9,273.7 1614.6,270.2 1615.4,266.8 1616.2,263.6 1617.0,260.4 1617.9,257.4 1618.8,254.5 1619.7,251.7 1620.8,248.9 1621.8,246.3 1621.6,246.2 1620.3,248.7 1619.0,251.4 1617.8,254.1 1616.7,257.0 1615.7,260.1 1614.8,263.2 1613.9,266.5 1613.2,269.9 1612.5,273.4 1611.9,277.1 1611.3,280.8 1610.9,284.7 1610.5,288.7 1610.2,292.7" fill="#aaa697" stroke="#aaa697" stroke-width="0.25"/><polygon points="1610.7,292.8 1610.7,285.0 1610.6,277.2 1610.6,269.4 1610.4,261.7 1610.3,254.0 1610.1,246.4 1609.9,238.7 1609.6,231.1 1609.3,223.6 1609.0,216.1 1608.7,208.6 1608.3,201.1 1607.8,193.7 1607.3,186.3 1607.1,186.3 1607.3,193.7 1607.5,201.1 1607.7,208.6 1607.8,216.1 1608.0,223.6 1608.2,231.2 1608.4,238.8 1608.6,246.4 1608.8,254.1 1609.0,261.7 1609.2,269.5 1609.4,277.2 1609.6,285.0 1609.8,292.8" fill="#aaa697" stroke="#aaa697" stroke-width="0.25"/><polygon points="1610.8,292.8 1611.0,286.7 1611.2,280.6 1611.3,274.5 1611.5,268.4 1611.6,262.4 1611.7,256.4 1611.9,250.4 1612.0,244.4 1612.1,238.5 1612.2,232.6 1612.3,226.6 1612.4,220.8 1612.5,214.9 1612.5,209.0 1612.3,209.0 1611.9,214.9 1611.6,220.7 1611.3,226.6 1611.0,232.5 1610.8,238.4 1610.6,244.4 1610.4,250.4 1610.2,256.4 1610.1,262.4 1610.0,268.4 1610.0,274.5 1609.9,280.6 1609.9,286.7 1609.9,292.8" fill="#aaa697" stroke="#aaa697" stroke-width="0.25"/><line x1="1609.3" y1="271.1" x2="1599.0" y2="211.1" stroke="#aaa697" stroke-width="1"/><line x1="1611.4" y1="271.1" x2="1621.7" y2="209.0" stroke="#aaa697" stroke-width="1"/><path d="M1599.0,211.1 L1598.0,207.3 L1597.0,203.9 L1596.0,201.0 L1594.8,198.4 L1593.6,196.3 L1592.4,194.6 L1591.0,193.3 L1589.6,192.5 L1588.2,192.0 L1586.7,192.0 L1585.1,192.4 L1583.4,193.3 L1581.7,194.5 L1580.0,196.2 L1578.1,198.2 L1576.2,200.8" stroke="#a19d8c" stroke-width="2.3" stroke-dasharray="1.7 0.7" fill="none"/><path d="M1599.0,211.1 L1598.0,207.3 L1597.0,203.9 L1596.0,201.0 L1594.8,198.4 L1593.6,196.3 L1592.4,194.6 L1591.0,193.3 L1589.6,192.5 L1588.2,192.0 L1586.7,192.0 L1585.1,192.4 L1583.4,193.3 L1581.7,194.5 L1580.0,196.2 L1578.1,198.2 L1576.2,200.8" stroke="#8f8b7b" stroke-width="0.5" fill="none"/><path d="M1599.0,212.1 L1597.6,209.0 L1596.3,206.3 L1595.0,204.1 L1593.7,202.3 L1592.4,201.0 L1591.1,200.1 L1589.9,199.7 L1588.6,199.7 L1587.4,200.2 L1586.2,201.1 L1585.0,202.5 L1583.8,204.4 L1582.7,206.7 L1581.5,209.4 L1580.4,212.6 L1579.3,216.3" stroke="#a19d8c" stroke-width="2.3" stroke-dasharray="1.7 0.7" fill="none"/><path d="M1599.0,212.1 L1597.6,209.0 L1596.3,206.3 L1595.0,204.1 L1593.7,202.3 L1592.4,201.0 L1591.1,200.1 L1589.9,199.7 L1588.6,199.7 L1587.4,200.2 L1586.2,201.1 L1585.0,202.5 L1583.8,204.4 L1582.7,206.7 L1581.5,209.4 L1580.4,212.6 L1579.3,216.3" stroke="#8f8b7b" stroke-width="0.5" fill="none"/><path d="M1600.0,213.2 L1599.1,211.0 L1598.2,209.3 L1597.3,207.9 L1596.4,207.0 L1595.5,206.4 L1594.6,206.2 L1593.7,206.4 L1592.8,207.0 L1591.8,207.9 L1590.9,209.3 L1590.0,211.0 L1589.1,213.2 L1588.2,215.7 L1587.3,218.6 L1586.4,221.9 L1585.5,225.6" stroke="#a19d8c" stroke-width="2.3" stroke-dasharray="1.7 0.7" fill="none"/><path d="M1600.0,213.2 L1599.1,211.0 L1598.2,209.3 L1597.3,207.9 L1596.4,207.0 L1595.5,206.4 L1594.6,206.2 L1593.7,206.4 L1592.8,207.0 L1591.8,207.9 L1590.9,209.3 L1590.0,211.0 L1589.1,213.2 L1588.2,215.7 L1587.3,218.6 L1586.4,221.9 L1585.5,225.6" stroke="#8f8b7b" stroke-width="0.5" fill="none"/><path d="M1601.0,214.2 L1600.9,211.2 L1600.6,208.7 L1600.3,206.7 L1600.0,205.0 L1599.6,203.8 L1599.1,203.0 L1598.5,202.7 L1597.9,202.8 L1597.2,203.4 L1596.5,204.3 L1595.7,205.8 L1594.8,207.6 L1593.9,209.9 L1592.9,212.6 L1591.8,215.8 L1590.7,219.4" stroke="#a19d8c" stroke-width="2.3" stroke-dasharray="1.7 0.7" fill="none"/><path d="M1601.0,214.2 L1600.9,211.2 L1600.6,208.7 L1600.3,206.7 L1600.0,205.0 L1599.6,203.8 L1599.1,203.0 L1598.5,202.7 L1597.9,202.8 L1597.2,203.4 L1596.5,204.3 L1595.7,205.8 L1594.8,207.6 L1593.9,209.9 L1592.9,212.6 L1591.8,215.8 L1590.7,219.4" stroke="#8f8b7b" stroke-width="0.5" fill="none"/><path d="M1601.0,211.1 L1600.7,207.6 L1600.4,204.7 L1600.1,202.3 L1599.9,200.5 L1599.6,199.2 L1599.4,198.5 L1599.2,198.3 L1599.0,198.7 L1598.8,199.6 L1598.6,201.1 L1598.4,203.1 L1598.3,205.7 L1598.2,208.8 L1598.1,212.4 L1598.0,216.7 L1597.9,221.4" stroke="#a19d8c" stroke-width="2.3" stroke-dasharray="1.7 0.7" fill="none"/><path d="M1601.0,211.1 L1600.7,207.6 L1600.4,204.7 L1600.1,202.3 L1599.9,200.5 L1599.6,199.2 L1599.4,198.5 L1599.2,198.3 L1599.0,198.7 L1598.8,199.6 L1598.6,201.1 L1598.4,203.1 L1598.3,205.7 L1598.2,208.8 L1598.1,212.4 L1598.0,216.7 L1597.9,221.4" stroke="#8f8b7b" stroke-width="0.5" fill="none"/><path d="M1620.7,209.0 L1621.9,204.1 L1623.1,199.7 L1624.5,195.8 L1625.8,192.5 L1627.3,189.6 L1628.8,187.3 L1630.4,185.5 L1632.0,184.2 L1633.8,183.4 L1635.5,183.2 L1637.4,183.4 L1639.3,184.2 L1641.3,185.5 L1643.3,187.3 L1645.4,189.6 L1647.6,192.5" stroke="#a19d8c" stroke-width="2.3" stroke-dasharray="1.7 0.7" fill="none"/><path d="M1620.7,209.0 L1621.9,204.1 L1623.1,199.7 L1624.5,195.8 L1625.8,192.5 L1627.3,189.6 L1628.8,187.3 L1630.4,185.5 L1632.0,184.2 L1633.8,183.4 L1635.5,183.2 L1637.4,183.4 L1639.3,184.2 L1641.3,185.5 L1643.3,187.3 L1645.4,189.6 L1647.6,192.5" stroke="#8f8b7b" stroke-width="0.5" fill="none"/><path d="M1620.7,210.1 L1622.1,206.2 L1623.5,202.9 L1624.9,200.0 L1626.4,197.5 L1627.8,195.6 L1629.2,194.1 L1630.6,193.0 L1632.0,192.5 L1633.5,192.4 L1634.9,192.8 L1636.3,193.6 L1637.7,194.9 L1639.2,196.7 L1640.6,199.0 L1642.0,201.7 L1643.4,204.9" stroke="#a19d8c" stroke-width="2.3" stroke-dasharray="1.7 0.7" fill="none"/><path d="M1620.7,210.1 L1622.1,206.2 L1623.5,202.9 L1624.9,200.0 L1626.4,197.5 L1627.8,195.6 L1629.2,194.1 L1630.6,193.0 L1632.0,192.5 L1633.5,192.4 L1634.9,192.8 L1636.3,193.6 L1637.7,194.9 L1639.2,196.7 L1640.6,199.0 L1642.0,201.7 L1643.4,204.9" stroke="#8f8b7b" stroke-width="0.5" fill="none"/><path d="M1619.6,211.1 L1620.7,208.3 L1621.7,206.0 L1622.7,204.1 L1623.8,202.6 L1624.8,201.5 L1625.8,200.8 L1626.9,200.6 L1627.9,200.8 L1628.9,201.3 L1630.0,202.4 L1631.0,203.8 L1632.0,205.7 L1633.1,207.9 L1634.1,210.6 L1635.1,213.8 L1636.2,217.3" stroke="#a19d8c" stroke-width="2.3" stroke-dasharray="1.7 0.7" fill="none"/><path d="M1619.6,211.1 L1620.7,208.3 L1621.7,206.0 L1622.7,204.1 L1623.8,202.6 L1624.8,201.5 L1625.8,200.8 L1626.9,200.6 L1627.9,200.8 L1628.9,201.3 L1630.0,202.4 L1631.0,203.8 L1632.0,205.7 L1633.1,207.9 L1634.1,210.6 L1635.1,213.8 L1636.2,217.3" stroke="#8f8b7b" stroke-width="0.5" fill="none"/><path d="M1620.7,209.0 L1621.0,204.5 L1621.4,200.7 L1621.9,197.4 L1622.4,194.8 L1622.9,192.8 L1623.5,191.4 L1624.1,190.6 L1624.8,190.4 L1625.5,190.8 L1626.3,191.9 L1627.2,193.6 L1628.0,195.8 L1629.0,198.7 L1629.9,202.2 L1631.0,206.4 L1632.0,211.1" stroke="#a19d8c" stroke-width="2.3" stroke-dasharray="1.7 0.7" fill="none"/><path d="M1620.7,209.0 L1621.0,204.5 L1621.4,200.7 L1621.9,197.4 L1622.4,194.8 L1622.9,192.8 L1623.5,191.4 L1624.1,190.6 L1624.8,190.4 L1625.5,190.8 L1626.3,191.9 L1627.2,193.6 L1628.0,195.8 L1629.0,198.7 L1629.9,202.2 L1631.0,206.4 L1632.0,211.1" stroke="#8f8b7b" stroke-width="0.5" fill="none"/><path d="M1619.6,212.1 L1619.8,209.7 L1620.0,207.7 L1620.2,206.0 L1620.4,204.6 L1620.7,203.6 L1621.0,203.0 L1621.3,202.7 L1621.7,202.8 L1622.1,203.3 L1622.5,204.0 L1623.0,205.2 L1623.5,206.7 L1624.0,208.6 L1624.6,210.8 L1625.2,213.3 L1625.8,216.3" stroke="#a19d8c" stroke-width="2.3" stroke-dasharray="1.7 0.7" fill="none"/><path d="M1619.6,212.1 L1619.8,209.7 L1620.0,207.7 L1620.2,206.0 L1620.4,204.6 L1620.7,203.6 L1621.0,203.0 L1621.3,202.7 L1621.7,202.8 L1622.1,203.3 L1622.5,204.0 L1623.0,205.2 L1623.5,206.7 L1624.0,208.6 L1624.6,210.8 L1625.2,213.3 L1625.8,216.3" stroke="#8f8b7b" stroke-width="0.5" fill="none"/><ellipse cx="1610.3" cy="292.8" rx="6" ry="1.5" fill="#b2ae9f"/><polygon points="1744.1,291.0 1743.7,285.4 1742.7,280.0 1741.2,275.0 1739.1,270.3 1736.4,265.9 1733.2,261.9 1729.5,258.3 1725.3,255.1 1720.7,252.4 1715.5,250.0 1715.4,250.3 1720.2,253.2 1724.5,256.3 1728.3,259.6 1731.8,263.2 1734.7,267.1 1737.3,271.2 1739.5,275.6 1741.3,280.4 1742.8,285.5 1743.8,291.0" fill="#c6c6c6"/><polygon points="1744.7,291.0 1745.4,284.1 1745.2,277.5 1744.2,271.3 1742.5,265.5 1739.9,260.1 1736.6,255.1 1732.5,250.6 1727.6,246.6 1722.1,243.0 1715.8,240.1 1715.7,240.3 1721.5,243.9 1726.7,247.7 1731.2,251.8 1735.0,256.3 1738.1,261.1 1740.6,266.2 1742.5,271.8 1743.8,277.7 1744.4,284.1 1744.4,291.0" fill="#c6c6c6"/><polygon points="1748.2,291.0 1747.7,283.3 1747.3,275.6 1747.0,267.9 1746.9,260.3 1746.9,252.7 1747.0,245.0 1747.3,237.4 1747.7,229.7 1748.3,222.0 1748.9,214.4 1748.6,214.3 1747.3,221.9 1746.3,229.6 1745.6,237.3 1745.1,244.9 1744.9,252.6 1745.0,260.3 1745.3,268.0 1745.9,275.7 1746.8,283.4 1747.9,291.0" fill="#c6c6c6"/><polygon points="1749.2,290.9 1746.4,283.6 1744.4,276.5 1743.3,269.5 1743.0,262.8 1743.6,256.2 1745.0,249.7 1747.3,243.4 1750.4,237.1 1754.4,230.9 1759.3,224.7 1759.1,224.5 1753.7,230.3 1749.3,236.4 1745.8,242.7 1743.3,249.2 1741.8,255.9 1741.3,262.8 1741.7,269.7 1743.1,276.8 1745.5,283.9 1748.9,291.1" fill="#c6c6c6"/><polygon points="1744.9,291.0 1746.3,285.1 1746.9,279.4 1746.6,274.1 1745.6,269.0 1743.7,264.4 1741.0,260.1 1737.5,256.3 1733.3,253.0 1728.4,250.1 1722.7,247.8 1722.6,248.1 1727.9,251.0 1732.4,254.2 1736.1,257.7 1739.2,261.4 1741.7,265.4 1743.5,269.7 1744.7,274.4 1745.3,279.5 1745.3,285.0 1744.6,291.0" fill="#c6c6c6"/><polygon points="1752.6,291.1 1755.2,287.5 1757.7,284.0 1760.3,280.5 1762.9,277.1 1765.6,273.8 1768.4,270.5 1771.2,267.2 1774.0,264.0 1777.0,260.8 1779.9,257.6 1779.7,257.3 1776.3,260.1 1773.1,263.0 1770.0,266.1 1767.0,269.3 1764.2,272.6 1761.5,276.0 1759.0,279.6 1756.6,283.2 1754.4,287.0 1752.4,290.9" fill="#c6c6c6"/><polygon points="1748.1,291.1 1753.6,283.8 1758.0,276.5 1761.1,269.0 1762.9,261.5 1763.5,254.0 1762.9,246.4 1760.9,238.9 1757.8,231.5 1753.4,224.2 1747.8,217.0 1747.5,217.2 1752.6,224.7 1756.5,232.1 1759.3,239.5 1761.0,246.7 1761.6,254.0 1761.1,261.2 1759.5,268.5 1756.7,275.9 1752.9,283.3 1747.8,290.9" fill="#c6c6c6"/><polygon points="1744.0,290.9 1742.2,286.1 1740.1,281.5 1737.7,277.0 1735.1,272.6 1732.2,268.4 1729.1,264.4 1725.8,260.6 1722.2,257.0 1718.4,253.6 1714.4,250.4 1714.2,250.6 1717.6,254.4 1721.0,258.2 1724.2,262.0 1727.3,265.9 1730.3,269.9 1733.1,273.9 1735.9,278.1 1738.6,282.3 1741.2,286.6 1743.7,291.1" fill="#c6c6c6"/><polygon points="1747.6,291.0 1749.9,282.8 1751.6,274.5 1752.5,266.2 1752.9,258.0 1752.5,249.8 1751.5,241.7 1749.8,233.6 1747.4,225.6 1744.4,217.8 1740.7,210.0 1740.4,210.1 1743.5,218.1 1746.1,226.1 1748.1,234.0 1749.5,242.0 1750.5,250.0 1750.9,258.0 1750.8,266.1 1750.1,274.3 1749.0,282.6 1747.3,291.0" fill="#c6c6c6"/><polygon points="1744.4,291.0 1744.8,285.8 1744.6,280.9 1743.8,276.3 1742.4,272.0 1740.4,268.0 1737.7,264.4 1734.5,261.2 1730.7,258.5 1726.4,256.1 1721.5,254.2 1721.4,254.5 1726.0,256.9 1730.0,259.5 1733.5,262.4 1736.4,265.6 1738.8,269.0 1740.8,272.7 1742.3,276.7 1743.4,281.1 1744.0,285.8 1744.1,291.0" fill="#c6c6c6"/><polygon points="1751.5,291.0 1751.1,284.9 1751.3,279.2 1752.1,274.1 1753.5,269.3 1755.5,265.0 1758.1,261.0 1761.3,257.2 1765.3,253.8 1769.9,250.6 1775.2,247.6 1775.1,247.3 1769.4,249.6 1764.3,252.4 1759.9,255.7 1756.3,259.5 1753.4,263.8 1751.3,268.6 1750.1,273.7 1749.6,279.2 1750.0,285.0 1751.2,291.0" fill="#c6c6c6"/><polygon points="1751.2,291.0 1751.7,284.2 1752.6,277.7 1754.0,271.5 1756.0,265.6 1758.4,260.1 1761.4,254.8 1764.9,249.7 1769.0,244.8 1773.6,240.2 1778.8,235.7 1778.6,235.5 1772.9,239.4 1767.8,243.7 1763.4,248.5 1759.6,253.6 1756.4,259.1 1753.9,264.9 1752.2,271.0 1751.0,277.4 1750.6,284.1 1750.9,291.0" fill="#c6c6c6"/><polygon points="1743.6,291.0 1743.3,286.1 1742.5,281.5 1741.1,277.2 1739.2,273.4 1736.8,269.9 1733.9,266.8 1730.4,264.2 1726.6,262.0 1722.2,260.2 1717.5,259.0 1717.4,259.3 1721.9,261.1 1726.0,263.1 1729.6,265.4 1732.7,268.1 1735.4,271.0 1737.8,274.3 1739.7,277.9 1741.3,281.8 1742.5,286.2 1743.3,291.0" fill="#c6c6c6"/><polygon points="1753.2,291.1 1755.2,287.3 1757.4,283.9 1759.7,280.6 1762.1,277.6 1764.8,274.7 1767.6,272.0 1770.6,269.5 1773.9,267.2 1777.3,265.1 1781.0,263.0 1780.9,262.7 1776.9,264.2 1773.2,266.1 1769.7,268.2 1766.4,270.6 1763.4,273.4 1760.7,276.4 1758.3,279.6 1756.2,283.2 1754.4,286.9 1752.9,290.9" fill="#c6c6c6"/><polygon points="1747.5,291.1 1752.9,283.0 1756.9,275.0 1759.6,266.9 1761.0,258.9 1761.0,251.0 1759.6,243.2 1756.9,235.6 1752.8,228.2 1747.5,220.9 1740.8,213.9 1740.6,214.1 1746.7,221.5 1751.6,228.9 1755.3,236.3 1757.8,243.7 1759.0,251.2 1759.1,258.8 1758.0,266.5 1755.6,274.5 1752.1,282.6 1747.3,290.9" fill="#c6c6c6"/><polygon points="1742.5,291.0 1741.9,288.1 1741.0,285.4 1739.8,283.0 1738.3,280.8 1736.5,278.9 1734.4,277.4 1732.0,276.1 1729.5,275.2 1726.7,274.7 1723.8,274.5 1723.8,274.8 1726.4,275.8 1728.9,276.8 1731.0,278.0 1733.0,279.4 1734.8,280.8 1736.5,282.4 1738.1,284.2 1739.5,286.3 1740.9,288.5 1742.2,291.0" fill="#c6c6c6"/><polygon points="1748.1,291.1 1752.2,282.9 1755.4,274.6 1757.7,266.3 1759.0,257.9 1759.5,249.5 1758.9,241.1 1757.5,232.8 1755.1,224.5 1751.8,216.3 1747.5,208.2 1747.2,208.3 1750.8,216.7 1753.5,225.0 1755.5,233.2 1756.7,241.4 1757.2,249.5 1756.9,257.7 1755.8,265.9 1753.9,274.2 1751.2,282.5 1747.8,290.9" fill="#c6c6c6"/><polygon points="1744.8,291.0 1744.8,284.7 1744.1,278.7 1742.8,273.0 1740.9,267.5 1738.4,262.3 1735.4,257.4 1731.8,252.9 1727.6,248.7 1722.9,244.9 1717.6,241.5 1717.4,241.8 1722.2,245.7 1726.5,249.8 1730.3,254.1 1733.7,258.6 1736.6,263.3 1739.0,268.3 1741.0,273.5 1742.6,279.0 1743.7,284.9 1744.5,291.0" fill="#c6c6c6"/><polygon points="1744.3,291.0 1743.6,286.3 1742.4,281.8 1740.9,277.5 1739.0,273.4 1736.7,269.4 1734.1,265.7 1731.1,262.3 1727.8,259.1 1724.2,256.2 1720.3,253.5 1720.1,253.8 1723.5,257.0 1726.6,260.3 1729.5,263.7 1732.2,267.2 1734.6,270.8 1736.9,274.5 1738.9,278.4 1740.8,282.4 1742.5,286.6 1744.0,291.0" fill="#c6c6c6"/><polygon points="1746.3,291.0 1746.8,283.5 1746.6,276.1 1746.0,268.8 1744.8,261.7 1743.1,254.7 1740.9,247.8 1738.1,241.1 1734.9,234.6 1731.1,228.2 1726.8,222.1 1726.5,222.3 1730.4,228.7 1733.8,235.1 1736.8,241.7 1739.4,248.4 1741.5,255.1 1743.2,262.0 1744.5,269.0 1745.4,276.2 1745.9,283.5 1746.0,291.0" fill="#c6c6c6"/><polygon points="1742.9,291.0 1742.1,286.7 1740.9,282.7 1739.2,279.0 1737.0,275.8 1734.5,272.9 1731.5,270.4 1728.2,268.4 1724.5,266.8 1720.5,265.6 1716.1,265.0 1716.1,265.3 1720.2,266.5 1724.0,268.1 1727.4,269.8 1730.4,271.9 1733.1,274.3 1735.6,276.9 1737.7,279.9 1739.6,283.2 1741.2,286.9 1742.6,291.0" fill="#c6c6c6"/><polygon points="1750.3,291.0 1748.5,282.8 1747.6,275.0 1747.5,267.7 1748.4,260.8 1750.2,254.2 1752.8,248.0 1756.4,242.0 1760.9,236.2 1766.4,230.7 1772.9,225.4 1772.7,225.1 1765.7,229.8 1759.7,235.0 1754.7,240.7 1750.7,246.9 1747.8,253.4 1746.1,260.4 1745.4,267.6 1745.9,275.2 1747.4,283.0 1750.1,291.0" fill="#c6c6c6"/><polygon points="1747.0,291.1 1752.1,281.6 1755.7,272.3 1757.9,263.1 1758.6,254.1 1757.8,245.2 1755.6,236.7 1751.9,228.4 1746.8,220.5 1740.3,212.8 1732.4,205.6 1732.2,205.8 1739.6,213.5 1745.6,221.3 1750.3,229.3 1753.7,237.3 1755.7,245.6 1756.5,254.1 1756.0,262.8 1754.2,271.9 1751.1,281.2 1746.7,290.9" fill="#c6c6c6"/><polygon points="1752.7,291.1 1754.5,287.1 1756.4,283.4 1758.5,279.9 1760.8,276.6 1763.2,273.5 1765.9,270.5 1768.8,267.6 1771.8,265.0 1775.2,262.4 1778.7,260.0 1778.5,259.7 1774.7,261.7 1771.1,263.9 1767.7,266.5 1764.6,269.2 1761.9,272.3 1759.4,275.6 1757.2,279.1 1755.3,282.8 1753.7,286.8 1752.5,290.9" fill="#c6c6c6"/><polygon points="1752.6,291.1 1754.9,288.0 1757.0,284.9 1759.2,281.9 1761.5,279.0 1763.8,276.1 1766.1,273.2 1768.5,270.4 1770.9,267.6 1773.4,264.8 1775.9,261.9 1775.7,261.7 1772.7,264.0 1769.8,266.4 1767.0,269.0 1764.4,271.8 1762.0,274.6 1759.7,277.7 1757.6,280.8 1755.7,284.1 1753.9,287.4 1752.4,290.9" fill="#c6c6c6"/><polygon points="1751.4,291.0 1751.2,284.5 1751.5,278.4 1752.5,272.8 1754.1,267.5 1756.3,262.6 1759.2,258.0 1762.7,253.8 1766.9,249.9 1771.8,246.2 1777.3,242.9 1777.2,242.6 1771.3,245.5 1766.2,248.9 1761.7,252.8 1757.9,257.1 1754.9,261.8 1752.6,266.9 1751.1,272.5 1750.4,278.3 1750.4,284.5 1751.1,291.0" fill="#c6c6c6"/><polygon points="1745.2,291.0 1745.1,285.0 1744.5,279.2 1743.3,273.6 1741.7,268.2 1739.6,263.0 1737.0,258.0 1733.9,253.2 1730.4,248.7 1726.4,244.5 1721.9,240.5 1721.7,240.7 1725.8,245.1 1729.4,249.5 1732.6,254.1 1735.5,258.8 1738.0,263.7 1740.1,268.8 1741.9,274.0 1743.2,279.5 1744.3,285.1 1744.9,291.0" fill="#c6c6c6"/><polygon points="1743.0,291.0 1742.7,287.0 1741.9,283.3 1740.6,279.9 1738.9,276.9 1736.7,274.2 1734.0,272.0 1731.0,270.2 1727.7,268.9 1724.0,268.0 1720.0,267.7 1719.9,268.0 1723.7,269.2 1727.0,270.5 1730.0,272.1 1732.6,273.9 1734.9,275.9 1736.9,278.3 1738.7,280.9 1740.3,283.9 1741.6,287.2 1742.7,291.0" fill="#c6c6c6"/><polygon points="1751.1,291.0 1752.6,285.2 1754.2,279.5 1756.1,273.9 1758.2,268.5 1760.5,263.3 1763.1,258.1 1765.9,253.1 1769.0,248.2 1772.4,243.3 1776.0,238.4 1775.8,238.2 1771.5,242.6 1767.6,247.2 1764.1,252.0 1761.0,257.0 1758.3,262.2 1756.0,267.7 1754.0,273.3 1752.5,279.0 1751.4,284.9 1750.8,291.0" fill="#c6c6c6"/><polygon points="1748.5,291.0 1748.0,282.2 1747.7,273.5 1747.6,264.8 1747.7,256.1 1748.0,247.4 1748.5,238.8 1749.2,230.1 1750.1,221.5 1751.2,212.8 1752.5,204.1 1752.2,204.1 1750.3,212.7 1748.8,221.3 1747.7,230.0 1746.8,238.7 1746.2,247.4 1746.0,256.1 1746.0,264.8 1746.4,273.6 1747.1,282.3 1748.2,291.0" fill="#c6c6c6"/><polygon points="1752.2,291.0 1752.7,284.9 1753.7,279.3 1755.3,274.2 1757.3,269.6 1759.9,265.4 1763.0,261.6 1766.7,258.1 1771.0,255.0 1776.0,252.2 1781.6,249.7 1781.5,249.4 1775.6,251.3 1770.3,253.7 1765.6,256.6 1761.5,260.1 1758.2,264.2 1755.5,268.7 1753.5,273.6 1752.2,279.0 1751.7,284.8 1751.9,291.0" fill="#c6c6c6"/><polygon points="1747.2,291.1 1751.6,282.6 1754.8,274.2 1756.8,265.9 1757.5,257.7 1757.1,249.6 1755.4,241.6 1752.5,233.9 1748.4,226.4 1743.1,219.1 1736.7,212.1 1736.4,212.3 1742.4,219.7 1747.3,227.1 1751.0,234.6 1753.6,242.1 1755.2,249.8 1755.7,257.6 1755.2,265.6 1753.5,273.8 1750.8,282.3 1747.0,290.9" fill="#c6c6c6"/><polygon points="1748.5,290.9 1744.7,283.0 1741.8,275.2 1739.9,267.5 1738.9,259.9 1738.9,252.4 1739.8,245.0 1741.7,237.6 1744.6,230.2 1748.4,222.8 1753.2,215.4 1752.9,215.2 1747.7,222.4 1743.5,229.7 1740.4,237.1 1738.3,244.7 1737.3,252.3 1737.3,260.0 1738.5,267.8 1740.7,275.5 1744.0,283.3 1748.3,291.1" fill="#c6c6c6"/><polygon points="1750.4,291.0 1752.3,283.7 1754.3,276.5 1756.4,269.4 1758.6,262.3 1761.0,255.3 1763.5,248.3 1766.2,241.3 1769.0,234.4 1771.9,227.5 1775.0,220.7 1774.7,220.5 1771.0,227.1 1767.6,233.8 1764.5,240.6 1761.6,247.5 1759.0,254.5 1756.7,261.7 1754.6,268.9 1752.8,276.2 1751.3,283.5 1750.1,291.0" fill="#c6c6c6"/><polygon points="1749.9,291.0 1748.5,282.4 1747.9,274.2 1748.0,266.2 1748.9,258.5 1750.5,251.0 1752.8,243.6 1756.0,236.5 1759.8,229.5 1764.5,222.7 1769.9,215.9 1769.7,215.7 1763.8,222.1 1758.7,228.8 1754.5,235.8 1751.2,243.0 1748.7,250.5 1747.1,258.2 1746.4,266.1 1746.6,274.3 1747.6,282.6 1749.6,291.0" fill="#c6c6c6"/><polygon points="1747.0,291.1 1751.6,281.7 1754.9,272.5 1756.8,263.4 1757.4,254.5 1756.6,245.8 1754.4,237.4 1750.9,229.2 1746.0,221.3 1739.9,213.7 1732.4,206.4 1732.1,206.6 1739.2,214.3 1745.0,222.0 1749.5,229.9 1752.8,237.9 1754.9,246.1 1755.7,254.5 1755.3,263.2 1753.7,272.2 1750.8,281.4 1746.7,290.9" fill="#c6c6c6"/><polygon points="1743.3,290.9 1741.7,288.0 1739.9,285.1 1738.0,282.4 1736.0,279.7 1733.9,277.2 1731.6,274.8 1729.2,272.4 1726.7,270.2 1724.1,268.1 1721.4,266.2 1721.2,266.4 1723.5,268.8 1725.7,271.2 1728.0,273.7 1730.2,276.1 1732.4,278.5 1734.5,281.0 1736.7,283.5 1738.8,286.0 1740.9,288.5 1743.0,291.1" fill="#c6c6c6"/><polygon points="1743.8,291.0 1743.2,285.5 1741.9,280.3 1740.2,275.4 1737.9,270.9 1735.1,266.8 1731.8,263.0 1728.0,259.7 1723.8,256.8 1719.0,254.3 1713.9,252.3 1713.8,252.5 1718.7,255.1 1723.1,257.8 1727.1,260.9 1730.6,264.2 1733.8,267.8 1736.5,271.8 1738.8,276.0 1740.8,280.7 1742.3,285.6 1743.5,291.0" fill="#c6c6c6"/><polygon points="1748.6,291.0 1746.1,283.0 1744.3,275.2 1743.2,267.4 1742.7,259.8 1742.9,252.2 1743.8,244.7 1745.3,237.2 1747.5,229.7 1750.4,222.2 1753.9,214.6 1753.6,214.5 1749.6,221.8 1746.3,229.2 1743.8,236.8 1742.1,244.4 1741.1,252.1 1741.0,259.8 1741.6,267.6 1743.1,275.4 1745.3,283.3 1748.3,291.0" fill="#c6c6c6"/><polygon points="1744.1,291.0 1743.3,286.5 1742.1,282.1 1740.6,278.0 1738.6,274.0 1736.4,270.3 1733.7,266.8 1730.8,263.6 1727.5,260.6 1723.9,257.9 1720.0,255.5 1719.8,255.7 1723.3,258.7 1726.4,261.8 1729.4,264.9 1732.0,268.2 1734.5,271.6 1736.8,275.1 1738.8,278.8 1740.7,282.7 1742.3,286.8 1743.8,291.0" fill="#c6c6c6"/><polygon points="1748.7,290.9 1745.8,283.5 1743.7,276.3 1742.3,269.3 1741.8,262.4 1742.0,255.6 1743.0,248.8 1744.8,242.1 1747.3,235.4 1750.7,228.7 1754.9,221.9 1754.6,221.8 1749.8,228.1 1745.8,234.7 1742.8,241.4 1740.7,248.3 1739.6,255.4 1739.5,262.5 1740.3,269.6 1742.1,276.8 1744.8,283.9 1748.5,291.1" fill="#c6c6c6"/><polygon points="1751.4,291.1 1754.0,285.6 1756.5,280.2 1759.2,274.8 1761.9,269.5 1764.7,264.3 1767.6,259.1 1770.6,253.9 1773.6,248.8 1776.8,243.7 1780.0,238.6 1779.7,238.4 1776.0,243.2 1772.4,248.0 1769.1,253.0 1765.9,258.1 1762.9,263.3 1760.2,268.7 1757.6,274.1 1755.2,279.6 1753.1,285.2 1751.2,290.9" fill="#c6c6c6"/><polygon points="1742.9,290.9 1741.2,287.6 1739.2,284.4 1737.0,281.4 1734.6,278.6 1732.1,275.9 1729.3,273.5 1726.4,271.2 1723.3,269.1 1720.1,267.3 1716.7,265.7 1716.5,265.9 1719.5,268.2 1722.4,270.4 1725.2,272.7 1727.9,275.1 1730.5,277.6 1733.0,280.1 1735.5,282.7 1737.9,285.4 1740.3,288.2 1742.6,291.1" fill="#c6c6c6"/><polygon points="1745.2,291.0 1744.5,284.5 1743.4,278.2 1741.8,272.1 1739.7,266.2 1737.3,260.4 1734.3,254.9 1731.0,249.6 1727.2,244.6 1723.0,239.7 1718.4,235.2 1718.2,235.4 1722.4,240.3 1726.3,245.3 1729.8,250.4 1733.0,255.7 1735.8,261.1 1738.3,266.8 1740.4,272.5 1742.2,278.5 1743.7,284.7 1744.9,291.0" fill="#c6c6c6"/><polygon points="1746.8,291.1 1750.4,283.3 1752.9,275.7 1754.3,268.3 1754.6,261.0 1753.8,253.8 1751.8,247.0 1748.7,240.3 1744.5,234.0 1739.3,227.9 1732.9,222.2 1732.7,222.4 1738.6,228.6 1743.4,234.8 1747.3,241.1 1750.1,247.6 1751.9,254.2 1752.8,261.0 1752.7,268.1 1751.6,275.4 1749.6,283.0 1746.5,290.9" fill="#c6c6c6"/><polygon points="1748.2,290.9 1742.4,282.3 1738.0,273.8 1734.8,265.4 1733.0,257.1 1732.4,248.8 1733.1,240.5 1735.0,232.2 1738.2,223.9 1742.8,215.4 1748.6,206.9 1748.4,206.7 1742.1,215.0 1737.2,223.3 1733.6,231.8 1731.4,240.3 1730.7,248.8 1731.3,257.4 1733.4,265.9 1736.9,274.4 1741.7,282.8 1747.9,291.1" fill="#c6c6c6"/><polygon points="1749.4,290.9 1746.8,282.6 1745.1,274.6 1744.3,266.9 1744.4,259.3 1745.3,252.0 1747.1,244.8 1749.7,237.8 1753.2,230.8 1757.6,223.9 1762.9,217.1 1762.7,216.9 1756.7,223.2 1751.7,229.9 1747.7,236.9 1744.8,244.1 1742.9,251.6 1742.0,259.2 1742.2,267.0 1743.5,274.9 1745.7,283.0 1749.1,291.1" fill="#c6c6c6"/><polygon points="1745.9,291.0 1746.8,283.5 1747.0,276.1 1746.5,268.9 1745.2,261.9 1743.2,255.2 1740.5,248.7 1737.0,242.5 1732.9,236.6 1728.1,231.0 1722.6,225.7 1722.3,225.9 1727.3,231.6 1731.7,237.5 1735.5,243.4 1738.6,249.6 1741.2,255.9 1743.2,262.4 1744.7,269.1 1745.5,276.2 1745.8,283.4 1745.6,291.0" fill="#c6c6c6"/><polygon points="1742.9,291.0 1742.4,286.4 1741.4,282.2 1739.9,278.4 1737.9,275.0 1735.4,272.1 1732.4,269.7 1728.9,267.8 1725.1,266.4 1720.8,265.6 1716.2,265.3 1716.2,265.6 1720.6,266.5 1724.6,267.7 1728.2,269.3 1731.3,271.2 1734.0,273.5 1736.4,276.1 1738.4,279.2 1740.2,282.6 1741.5,286.6 1742.6,291.0" fill="#c6c6c6"/><polygon points="1746.0,291.0 1745.1,283.3 1743.8,275.7 1742.2,268.3 1740.2,260.9 1737.9,253.6 1735.3,246.5 1732.3,239.5 1729.0,232.6 1725.3,225.8 1721.3,219.2 1721.1,219.4 1724.6,226.2 1727.9,233.1 1731.0,240.1 1733.8,247.1 1736.4,254.2 1738.7,261.4 1740.8,268.6 1742.6,276.0 1744.3,283.4 1745.7,291.0" fill="#c6c6c6"/><polygon points="1743.0,291.0 1742.2,286.5 1741.0,282.4 1739.3,278.7 1737.1,275.3 1734.5,272.3 1731.5,269.7 1728.1,267.5 1724.4,265.8 1720.3,264.6 1715.8,263.8 1715.8,264.1 1720.0,265.5 1723.8,267.1 1727.2,269.0 1730.3,271.2 1733.1,273.7 1735.6,276.5 1737.8,279.5 1739.7,283.0 1741.3,286.8 1742.7,291.0" fill="#c6c6c6"/><polygon points="1749.6,291.0 1748.0,284.0 1747.1,277.4 1746.8,270.9 1747.2,264.6 1748.2,258.5 1749.8,252.5 1752.1,246.7 1755.1,240.9 1758.7,235.2 1763.0,229.6 1762.8,229.4 1757.9,234.6 1753.9,240.2 1750.6,245.9 1748.0,251.9 1746.2,258.1 1745.3,264.4 1745.1,270.9 1745.7,277.5 1747.1,284.2 1749.3,291.0" fill="#c6c6c6"/><line x1="1749" y1="216.2" x2="1734.9" y2="205.7" stroke="#bdbdbd" stroke-width="0.8"/><line x1="1749" y1="216.2" x2="1737.5" y2="196.5" stroke="#bdbdbd" stroke-width="0.8"/><line x1="1749" y1="216.2" x2="1741.5" y2="189.7" stroke="#bdbdbd" stroke-width="0.8"/><line x1="1749" y1="216.2" x2="1746.4" y2="186.1" stroke="#bdbdbd" stroke-width="0.8"/><line x1="1749" y1="216.2" x2="1751.6" y2="186.1" stroke="#bdbdbd" stroke-width="0.8"/><line x1="1749" y1="216.2" x2="1756.5" y2="189.7" stroke="#bdbdbd" stroke-width="0.8"/><line x1="1749" y1="216.2" x2="1760.5" y2="196.5" stroke="#bdbdbd" stroke-width="0.8"/><line x1="1749" y1="216.2" x2="1763.1" y2="205.7" stroke="#bdbdbd" stroke-width="0.8"/><circle cx="1739.7" cy="198.8" r="1.2" fill="#c4c4c4"/><circle cx="1743.2" cy="205.0" r="1.2" fill="#c4c4c4"/><circle cx="1758.4" cy="203.6" r="1.2" fill="#c4c4c4"/><circle cx="1749.2" cy="215.1" r="1.2" fill="#c4c4c4"/><circle cx="1754.2" cy="186.0" r="1.2" fill="#c4c4c4"/><circle cx="1742.0" cy="202.4" r="1.2" fill="#c4c4c4"/><circle cx="1741.1" cy="208.3" r="1.2" fill="#c4c4c4"/><circle cx="1739.0" cy="187.0" r="1.2" fill="#c4c4c4"/><circle cx="1757.9" cy="206.4" r="1.2" fill="#c4c4c4"/><circle cx="1736.3" cy="200.8" r="1.2" fill="#c4c4c4"/><circle cx="1759.2" cy="189.9" r="1.2" fill="#c4c4c4"/><circle cx="1739.9" cy="188.8" r="1.2" fill="#c4c4c4"/><circle cx="1742.2" cy="185.5" r="1.2" fill="#c4c4c4"/><circle cx="1745.1" cy="185.9" r="1.2" fill="#c4c4c4"/><circle cx="1749.4" cy="217.2" r="1.2" fill="#c4c4c4"/><circle cx="1740.1" cy="209.3" r="1.2" fill="#c4c4c4"/><circle cx="1755.7" cy="184.2" r="1.2" fill="#c4c4c4"/><circle cx="1750.2" cy="199.9" r="1.2" fill="#c4c4c4"/><circle cx="1745.8" cy="209.3" r="1.2" fill="#c4c4c4"/><circle cx="1744.6" cy="204.3" r="1.2" fill="#c4c4c4"/><circle cx="1745.0" cy="198.3" r="1.2" fill="#c4c4c4"/><circle cx="1744.3" cy="216.5" r="1.2" fill="#c4c4c4"/><circle cx="1748.5" cy="187.8" r="1.2" fill="#c4c4c4"/><circle cx="1760.4" cy="211.1" r="1.2" fill="#c4c4c4"/><circle cx="1747.1" cy="192.2" r="1.2" fill="#c4c4c4"/><circle cx="1742.9" cy="212.4" r="1.2" fill="#c4c4c4"/><circle cx="1745.8" cy="191.6" r="1.2" fill="#c4c4c4"/><circle cx="1757.1" cy="196.9" r="1.2" fill="#c4c4c4"/><circle cx="1748.6" cy="216.5" r="1.2" fill="#c4c4c4"/><circle cx="1756.1" cy="212.2" r="1.2" fill="#c4c4c4"/><circle cx="1752.6" cy="213.2" r="1.2" fill="#c4c4c4"/><circle cx="1747.4" cy="210.9" r="1.2" fill="#c4c4c4"/><circle cx="1758.5" cy="195.5" r="1.2" fill="#c4c4c4"/><circle cx="1738.1" cy="205.5" r="1.2" fill="#c4c4c4"/><circle cx="1747.8" cy="207.4" r="1.2" fill="#c4c4c4"/><circle cx="1743.1" cy="206.2" r="1.2" fill="#c4c4c4"/><circle cx="1754.5" cy="216.3" r="1.2" fill="#c4c4c4"/><circle cx="1762.2" cy="203.5" r="1.2" fill="#c4c4c4"/><circle cx="1760.5" cy="194.0" r="1.2" fill="#c4c4c4"/><circle cx="1759.5" cy="201.5" r="1.2" fill="#c4c4c4"/><circle cx="1760.3" cy="203.4" r="1.2" fill="#c4c4c4"/><circle cx="1746.7" cy="191.6" r="1.2" fill="#c4c4c4"/><circle cx="1760.1" cy="200.6" r="1.2" fill="#c4c4c4"/><circle cx="1755.9" cy="205.6" r="1.2" fill="#c4c4c4"/><circle cx="1735.4" cy="204.8" r="1.2" fill="#c4c4c4"/><circle cx="1745.2" cy="204.8" r="1.2" fill="#c4c4c4"/><circle cx="1752.5" cy="184.2" r="1.2" fill="#c4c4c4"/><circle cx="1745.7" cy="199.3" r="1.2" fill="#c4c4c4"/><circle cx="1752.6" cy="210.6" r="1.2" fill="#c4c4c4"/><circle cx="1742.3" cy="197.3" r="1.2" fill="#c4c4c4"/><circle cx="1753.5" cy="184.4" r="1.2" fill="#c4c4c4"/><circle cx="1761.6" cy="192.3" r="1.2" fill="#c4c4c4"/><circle cx="1760.4" cy="201.5" r="1.2" fill="#c4c4c4"/><circle cx="1761.4" cy="208.3" r="1.2" fill="#c4c4c4"/><circle cx="1748.7" cy="184.3" r="1.2" fill="#c4c4c4"/><circle cx="1750.4" cy="204.1" r="1.2" fill="#c4c4c4"/><circle cx="1753.7" cy="187.1" r="1.2" fill="#c4c4c4"/><circle cx="1741.5" cy="191.5" r="1.2" fill="#c4c4c4"/><circle cx="1751.7" cy="190.0" r="1.2" fill="#c4c4c4"/><circle cx="1747.9" cy="210.6" r="1.2" fill="#c4c4c4"/><circle cx="1745.5" cy="213.6" r="1.2" fill="#c4c4c4"/><circle cx="1752.1" cy="196.9" r="1.2" fill="#c4c4c4"/><circle cx="1758.8" cy="205.3" r="1.2" fill="#c4c4c4"/><circle cx="1746.1" cy="192.9" r="1.2" fill="#c4c4c4"/><circle cx="1748.5" cy="204.3" r="1.2" fill="#c4c4c4"/><circle cx="1759.3" cy="202.9" r="1.2" fill="#c4c4c4"/><circle cx="1743.9" cy="186.8" r="1.2" fill="#c4c4c4"/><circle cx="1751.6" cy="204.9" r="1.2" fill="#c4c4c4"/><circle cx="1759.0" cy="194.4" r="1.2" fill="#c4c4c4"/><circle cx="1738.5" cy="208.1" r="1.2" fill="#c4c4c4"/><circle cx="1747.5" cy="187.1" r="1.2" fill="#c4c4c4"/><circle cx="1761.0" cy="207.7" r="1.2" fill="#c4c4c4"/><circle cx="1749.7" cy="203.5" r="1.2" fill="#c4c4c4"/><circle cx="1742.4" cy="210.5" r="1.2" fill="#c4c4c4"/><circle cx="1744.7" cy="194.6" r="1.2" fill="#c4c4c4"/><circle cx="1746.4" cy="187.8" r="1.2" fill="#c4c4c4"/><circle cx="1756.3" cy="214.1" r="1.2" fill="#c4c4c4"/><circle cx="1754.0" cy="183.9" r="1.2" fill="#c4c4c4"/><circle cx="1746.0" cy="192.4" r="1.2" fill="#c4c4c4"/><circle cx="1751.5" cy="183.2" r="1.2" fill="#c4c4c4"/><circle cx="1735.0" cy="196.4" r="1.2" fill="#c4c4c4"/><circle cx="1758.2" cy="197.9" r="1.2" fill="#c4c4c4"/><circle cx="1762.6" cy="193.8" r="1.2" fill="#c4c4c4"/><circle cx="1749.4" cy="198.2" r="1.2" fill="#c4c4c4"/><circle cx="1742.0" cy="211.3" r="1.2" fill="#c4c4c4"/><circle cx="1738.8" cy="190.2" r="1.2" fill="#c4c4c4"/><circle cx="1745.4" cy="194.2" r="1.2" fill="#c4c4c4"/><circle cx="1759.0" cy="194.4" r="1.2" fill="#c4c4c4"/><circle cx="1754.0" cy="194.5" r="1.2" fill="#c4c4c4"/><circle cx="1760.2" cy="199.8" r="1.2" fill="#c4c4c4"/><circle cx="1751.1" cy="184.7" r="1.2" fill="#c4c4c4"/><circle cx="1755.7" cy="192.7" r="1.2" fill="#c4c4c4"/><circle cx="1757.3" cy="205.7" r="1.2" fill="#c4c4c4"/><circle cx="1753.8" cy="211.9" r="1.2" fill="#c4c4c4"/><circle cx="1752.6" cy="190.1" r="1.2" fill="#c4c4c4"/><circle cx="1750.7" cy="202.2" r="1.2" fill="#c4c4c4"/><circle cx="1738.9" cy="206.4" r="1.2" fill="#c4c4c4"/><circle cx="1761.1" cy="202.4" r="1.2" fill="#c4c4c4"/><circle cx="1750.2" cy="205.7" r="1.2" fill="#c4c4c4"/><circle cx="1758.7" cy="194.3" r="1.2" fill="#c4c4c4"/><circle cx="1757.5" cy="192.1" r="1.2" fill="#c4c4c4"/><circle cx="1754.3" cy="206.2" r="1.2" fill="#c4c4c4"/><circle cx="1738.3" cy="206.6" r="1.2" fill="#c4c4c4"/><circle cx="1750.7" cy="184.5" r="1.2" fill="#c4c4c4"/><circle cx="1744.6" cy="192.7" r="1.2" fill="#c4c4c4"/><circle cx="1740.7" cy="204.7" r="1.2" fill="#c4c4c4"/><circle cx="1741.3" cy="200.6" r="1.2" fill="#c4c4c4"/><circle cx="1739.1" cy="197.1" r="1.2" fill="#c4c4c4"/><circle cx="1762.3" cy="203.6" r="1.2" fill="#c4c4c4"/><circle cx="1737.5" cy="191.7" r="1.2" fill="#c4c4c4"/><line x1="1730" y1="231.9" x2="1722.5" y2="225.5" stroke="#bdbdbd" stroke-width="0.8"/><line x1="1730" y1="231.9" x2="1723.9" y2="219.9" stroke="#bdbdbd" stroke-width="0.8"/><line x1="1730" y1="231.9" x2="1726.0" y2="215.7" stroke="#bdbdbd" stroke-width="0.8"/><line x1="1730" y1="231.9" x2="1728.6" y2="213.5" stroke="#bdbdbd" stroke-width="0.8"/><line x1="1730" y1="231.9" x2="1731.4" y2="213.5" stroke="#bdbdbd" stroke-width="0.8"/><line x1="1730" y1="231.9" x2="1734.0" y2="215.7" stroke="#bdbdbd" stroke-width="0.8"/><line x1="1730" y1="231.9" x2="1736.1" y2="219.9" stroke="#bdbdbd" stroke-width="0.8"/><line x1="1730" y1="231.9" x2="1737.5" y2="225.5" stroke="#bdbdbd" stroke-width="0.8"/><circle cx="1729.4" cy="212.6" r="1.2" fill="#c4c4c4"/><circle cx="1734.9" cy="221.7" r="1.2" fill="#c4c4c4"/><circle cx="1729.6" cy="222.4" r="1.2" fill="#c4c4c4"/><circle cx="1726.9" cy="214.8" r="1.2" fill="#c4c4c4"/><circle cx="1722.9" cy="216.9" r="1.2" fill="#c4c4c4"/><circle cx="1731.2" cy="227.0" r="1.2" fill="#c4c4c4"/><circle cx="1729.3" cy="212.1" r="1.2" fill="#c4c4c4"/><circle cx="1728.1" cy="222.3" r="1.2" fill="#c4c4c4"/><circle cx="1725.0" cy="229.3" r="1.2" fill="#c4c4c4"/><circle cx="1724.6" cy="222.0" r="1.2" fill="#c4c4c4"/><circle cx="1725.1" cy="227.6" r="1.2" fill="#c4c4c4"/><circle cx="1724.6" cy="216.7" r="1.2" fill="#c4c4c4"/><circle cx="1734.6" cy="214.9" r="1.2" fill="#c4c4c4"/><circle cx="1727.2" cy="225.9" r="1.2" fill="#c4c4c4"/><circle cx="1731.4" cy="212.4" r="1.2" fill="#c4c4c4"/><circle cx="1733.2" cy="219.9" r="1.2" fill="#c4c4c4"/><circle cx="1734.3" cy="213.5" r="1.2" fill="#c4c4c4"/><circle cx="1733.9" cy="224.8" r="1.2" fill="#c4c4c4"/><circle cx="1728.0" cy="218.9" r="1.2" fill="#c4c4c4"/><circle cx="1732.0" cy="217.1" r="1.2" fill="#c4c4c4"/><circle cx="1728.2" cy="216.5" r="1.2" fill="#c4c4c4"/><circle cx="1730.7" cy="226.9" r="1.2" fill="#c4c4c4"/><circle cx="1723.2" cy="222.1" r="1.2" fill="#c4c4c4"/><circle cx="1731.3" cy="230.9" r="1.2" fill="#c4c4c4"/><circle cx="1726.7" cy="229.6" r="1.2" fill="#c4c4c4"/><circle cx="1727.6" cy="225.6" r="1.2" fill="#c4c4c4"/><circle cx="1731.2" cy="224.0" r="1.2" fill="#c4c4c4"/><circle cx="1728.3" cy="215.3" r="1.2" fill="#c4c4c4"/><circle cx="1735.4" cy="229.2" r="1.2" fill="#c4c4c4"/><circle cx="1729.3" cy="220.7" r="1.2" fill="#c4c4c4"/><circle cx="1729.0" cy="213.6" r="1.2" fill="#c4c4c4"/><circle cx="1724.7" cy="224.7" r="1.2" fill="#c4c4c4"/><circle cx="1734.8" cy="220.4" r="1.2" fill="#c4c4c4"/><circle cx="1725.8" cy="215.4" r="1.2" fill="#c4c4c4"/><circle cx="1726.9" cy="226.8" r="1.2" fill="#c4c4c4"/><circle cx="1730.2" cy="213.2" r="1.2" fill="#c4c4c4"/><circle cx="1724.5" cy="224.1" r="1.2" fill="#c4c4c4"/><circle cx="1731.2" cy="231.6" r="1.2" fill="#c4c4c4"/><circle cx="1736.4" cy="223.1" r="1.2" fill="#c4c4c4"/><circle cx="1726.4" cy="223.4" r="1.2" fill="#c4c4c4"/><line x1="1768" y1="235.9" x2="1760.5" y2="229.5" stroke="#bdbdbd" stroke-width="0.8"/><line x1="1768" y1="235.9" x2="1761.9" y2="223.9" stroke="#bdbdbd" stroke-width="0.8"/><line x1="1768" y1="235.9" x2="1764.0" y2="219.7" stroke="#bdbdbd" stroke-width="0.8"/><line x1="1768" y1="235.9" x2="1766.6" y2="217.5" stroke="#bdbdbd" stroke-width="0.8"/><line x1="1768" y1="235.9" x2="1769.4" y2="217.5" stroke="#bdbdbd" stroke-width="0.8"/><line x1="1768" y1="235.9" x2="1772.0" y2="219.7" stroke="#bdbdbd" stroke-width="0.8"/><line x1="1768" y1="235.9" x2="1774.1" y2="223.9" stroke="#bdbdbd" stroke-width="0.8"/><line x1="1768" y1="235.9" x2="1775.5" y2="229.5" stroke="#bdbdbd" stroke-width="0.8"/><circle cx="1762.8" cy="221.6" r="1.2" fill="#c4c4c4"/><circle cx="1772.8" cy="230.0" r="1.2" fill="#c4c4c4"/><circle cx="1771.6" cy="234.5" r="1.2" fill="#c4c4c4"/><circle cx="1765.9" cy="231.6" r="1.2" fill="#c4c4c4"/><circle cx="1768.4" cy="228.4" r="1.2" fill="#c4c4c4"/><circle cx="1769.2" cy="229.9" r="1.2" fill="#c4c4c4"/><circle cx="1762.8" cy="218.9" r="1.2" fill="#c4c4c4"/><circle cx="1768.5" cy="229.6" r="1.2" fill="#c4c4c4"/><circle cx="1765.3" cy="225.2" r="1.2" fill="#c4c4c4"/><circle cx="1762.2" cy="231.4" r="1.2" fill="#c4c4c4"/><circle cx="1769.9" cy="234.8" r="1.2" fill="#c4c4c4"/><circle cx="1765.7" cy="225.2" r="1.2" fill="#c4c4c4"/><circle cx="1768.3" cy="234.5" r="1.2" fill="#c4c4c4"/><circle cx="1771.0" cy="228.8" r="1.2" fill="#c4c4c4"/><circle cx="1761.6" cy="221.4" r="1.2" fill="#c4c4c4"/><circle cx="1761.5" cy="224.9" r="1.2" fill="#c4c4c4"/><circle cx="1772.4" cy="226.3" r="1.2" fill="#c4c4c4"/><circle cx="1764.8" cy="235.6" r="1.2" fill="#c4c4c4"/><circle cx="1763.6" cy="233.6" r="1.2" fill="#c4c4c4"/><circle cx="1773.5" cy="227.7" r="1.2" fill="#c4c4c4"/><circle cx="1773.5" cy="219.9" r="1.2" fill="#c4c4c4"/><circle cx="1765.0" cy="223.7" r="1.2" fill="#c4c4c4"/><circle cx="1770.0" cy="224.6" r="1.2" fill="#c4c4c4"/><circle cx="1774.9" cy="223.9" r="1.2" fill="#c4c4c4"/><circle cx="1766.9" cy="218.1" r="1.2" fill="#c4c4c4"/><circle cx="1770.4" cy="231.5" r="1.2" fill="#c4c4c4"/><circle cx="1764.7" cy="218.4" r="1.2" fill="#c4c4c4"/><circle cx="1762.5" cy="232.3" r="1.2" fill="#c4c4c4"/><circle cx="1772.0" cy="227.9" r="1.2" fill="#c4c4c4"/><circle cx="1771.8" cy="229.4" r="1.2" fill="#c4c4c4"/><circle cx="1769.9" cy="216.8" r="1.2" fill="#c4c4c4"/><circle cx="1770.6" cy="230.9" r="1.2" fill="#c4c4c4"/><circle cx="1773.0" cy="231.8" r="1.2" fill="#c4c4c4"/><circle cx="1764.4" cy="227.9" r="1.2" fill="#c4c4c4"/><circle cx="1762.8" cy="233.3" r="1.2" fill="#c4c4c4"/><circle cx="1762.1" cy="230.1" r="1.2" fill="#c4c4c4"/><circle cx="1764.2" cy="220.6" r="1.2" fill="#c4c4c4"/><circle cx="1763.5" cy="223.7" r="1.2" fill="#c4c4c4"/><circle cx="1769.8" cy="233.3" r="1.2" fill="#c4c4c4"/><circle cx="1766.5" cy="232.0" r="1.2" fill="#c4c4c4"/><ellipse cx="1748" cy="290.5" rx="7" ry="1.5" fill="#c4c4c4"/><path d="M1884.2,291 L1884.2,199" stroke="#a5a5a5" stroke-width="2" fill="none"/><polygon points="1885.2,209.3 1883.6,207.0 1882.0,205.0 1880.5,203.3 1879.0,201.8 1877.4,200.7 1875.8,200.0 1874.1,199.6 1872.4,199.7 1870.9,200.4 1869.7,201.5 1869.0,202.9 1868.5,204.4 1868.4,206.2 1868.5,208.1 1868.7,208.1 1869.7,206.6 1870.6,205.3 1871.5,204.5 1872.2,204.1 1872.7,204.1 1873.1,204.1 1873.5,204.2 1874.1,204.5 1875.1,204.9 1876.3,205.5 1877.7,206.5 1879.3,207.7 1881.1,209.2 1883.2,211.1" fill="#c9c9c9" stroke="#9b9b9b" stroke-width="0.5"/><path d="M1884.2,210.2 L1882.4,208.1 L1880.7,206.4 L1879.1,204.9 L1877.6,203.7 L1876.2,202.8 L1875.0,202.2 L1873.8,201.9 L1872.8,201.9 L1871.8,202.2 L1871.0,202.8 L1870.2,203.7 L1869.6,204.9 L1869.1,206.4 L1868.6,208.1" stroke="#a8a8a8" stroke-width="0.4" fill="none"/><polygon points="1886.3,213.0 1888.0,211.1 1889.5,209.6 1891.0,208.3 1892.2,207.4 1893.2,206.8 1894.0,206.5 1894.7,206.3 1895.2,206.3 1895.9,206.3 1896.7,206.6 1897.8,207.2 1898.9,208.2 1900.2,209.6 1901.7,211.3 1901.9,211.2 1901.5,208.9 1900.9,207.0 1900.1,205.2 1899.0,203.8 1897.7,202.6 1896.1,201.9 1894.4,201.6 1892.6,201.9 1890.9,202.7 1889.4,203.8 1887.9,205.3 1886.6,207.1 1885.3,209.2 1884.1,211.5" fill="#c9c9c9" stroke="#9b9b9b" stroke-width="0.5"/><path d="M1885.2,212.3 L1886.7,210.1 L1888.1,208.3 L1889.4,206.8 L1890.8,205.6 L1892.1,204.8 L1893.3,204.2 L1894.5,204.0 L1895.7,204.1 L1896.8,204.5 L1897.9,205.2 L1898.9,206.2 L1899.9,207.6 L1900.9,209.2 L1901.8,211.2" stroke="#a8a8a8" stroke-width="0.4" fill="none"/><polygon points="1885.2,223.9 1883.1,220.7 1881.1,218.0 1879.1,215.7 1877.1,213.8 1875.1,212.4 1873.0,211.4 1870.9,211.0 1868.8,211.2 1867.0,212.1 1865.5,213.5 1864.5,215.3 1863.8,217.4 1863.4,219.8 1863.4,222.6 1863.6,222.6 1864.8,220.2 1865.9,218.3 1867.1,216.9 1868.1,216.0 1869.0,215.6 1869.7,215.6 1870.5,215.6 1871.4,215.9 1872.7,216.5 1874.3,217.5 1876.2,218.8 1878.3,220.6 1880.6,222.9 1883.1,225.5" fill="#c9c9c9" stroke="#9b9b9b" stroke-width="0.5"/><path d="M1884.2,224.7 L1881.9,221.8 L1879.7,219.3 L1877.6,217.3 L1875.7,215.6 L1873.9,214.4 L1872.2,213.7 L1870.7,213.3 L1869.3,213.4 L1868.0,213.9 L1866.8,214.8 L1865.8,216.1 L1864.9,217.8 L1864.1,220.0 L1863.5,222.6" stroke="#a8a8a8" stroke-width="0.4" fill="none"/><polygon points="1886.3,228.6 1888.5,226.0 1890.5,224.0 1892.2,222.3 1893.8,221.1 1895.0,220.4 1896.0,219.9 1896.6,219.8 1897.0,219.8 1897.6,219.9 1898.4,220.4 1899.4,221.5 1900.5,223.1 1901.5,225.2 1902.7,227.8 1902.9,227.8 1902.9,224.9 1902.6,222.4 1902.1,220.2 1901.3,218.3 1900.2,216.7 1898.6,215.6 1896.6,215.1 1894.6,215.4 1892.7,216.2 1890.9,217.6 1889.2,219.3 1887.5,221.5 1885.8,224.1 1884.1,227.0" fill="#c9c9c9" stroke="#9b9b9b" stroke-width="0.5"/><path d="M1885.2,227.8 L1887.1,225.0 L1889.0,222.7 L1890.7,220.8 L1892.3,219.3 L1893.9,218.3 L1895.3,217.7 L1896.6,217.4 L1897.8,217.7 L1898.9,218.3 L1899.9,219.3 L1900.8,220.8 L1901.5,222.7 L1902.2,225.0 L1902.8,227.8" stroke="#a8a8a8" stroke-width="0.4" fill="none"/><polygon points="1885.2,240.4 1882.5,236.5 1879.9,233.2 1877.4,230.3 1875.0,228.0 1872.6,226.2 1870.3,225.0 1867.9,224.4 1865.5,224.6 1863.5,225.6 1862.0,227.3 1861.0,229.4 1860.4,231.9 1860.1,234.8 1860.3,238.1 1860.5,238.2 1861.5,235.1 1862.6,232.6 1863.7,230.8 1864.7,229.6 1865.7,229.1 1866.4,229.0 1867.3,229.1 1868.5,229.5 1870.1,230.3 1872.1,231.6 1874.4,233.4 1877.1,235.8 1880.0,238.7 1883.1,242.1" fill="#c9c9c9" stroke="#9b9b9b" stroke-width="0.5"/><path d="M1884.2,241.3 L1881.2,237.6 L1878.5,234.5 L1875.9,231.9 L1873.6,229.8 L1871.4,228.3 L1869.4,227.2 L1867.6,226.8 L1866.0,226.8 L1864.6,227.4 L1863.4,228.5 L1862.3,230.1 L1861.5,232.3 L1860.8,234.9 L1860.4,238.1" stroke="#a8a8a8" stroke-width="0.4" fill="none"/><polygon points="1886.2,246.2 1888.7,243.5 1891.0,241.3 1893.1,239.5 1894.9,238.2 1896.5,237.2 1897.8,236.6 1898.9,236.3 1899.7,236.3 1900.6,236.4 1901.6,236.8 1902.8,237.7 1904.1,239.1 1905.4,241.0 1906.8,243.4 1907.0,243.3 1906.7,240.5 1906.1,238.0 1905.2,235.9 1904.1,234.1 1902.5,232.7 1900.6,231.9 1898.4,231.7 1896.3,232.1 1894.2,233.1 1892.1,234.5 1890.1,236.4 1888.1,238.7 1886.2,241.5 1884.2,244.6" fill="#c9c9c9" stroke="#9b9b9b" stroke-width="0.5"/><path d="M1885.2,245.4 L1887.4,242.5 L1889.6,240.0 L1891.6,238.0 L1893.5,236.4 L1895.3,235.1 L1897.0,234.4 L1898.7,234.0 L1900.2,234.1 L1901.5,234.6 L1902.8,235.5 L1904.0,236.8 L1905.1,238.5 L1906.1,240.7 L1906.9,243.3" stroke="#a8a8a8" stroke-width="0.4" fill="none"/><polygon points="1885.1,254.9 1882.4,251.4 1879.8,248.5 1877.3,246.0 1874.9,244.0 1872.5,242.4 1870.2,241.4 1867.8,241.0 1865.5,241.2 1863.5,242.2 1861.9,243.7 1860.8,245.7 1860.1,248.0 1859.8,250.6 1859.8,253.7 1860.0,253.7 1861.2,251.0 1862.3,248.8 1863.4,247.2 1864.5,246.2 1865.5,245.7 1866.4,245.6 1867.4,245.7 1868.7,246.0 1870.3,246.7 1872.3,247.8 1874.6,249.3 1877.2,251.3 1880.1,253.7 1883.2,256.6" fill="#c9c9c9" stroke="#9b9b9b" stroke-width="0.5"/><path d="M1884.2,255.7 L1881.3,252.6 L1878.5,249.9 L1876.0,247.6 L1873.6,245.9 L1871.4,244.5 L1869.4,243.7 L1867.6,243.3 L1866.0,243.4 L1864.5,244.0 L1863.2,245.0 L1862.1,246.4 L1861.2,248.4 L1860.5,250.8 L1859.9,253.7" stroke="#a8a8a8" stroke-width="0.4" fill="none"/><polygon points="1886.2,260.8 1888.9,258.4 1891.4,256.5 1893.6,254.9 1895.6,253.6 1897.3,252.7 1898.8,252.2 1899.9,251.9 1900.8,251.8 1901.6,251.8 1902.5,252.2 1903.5,252.8 1904.6,254.0 1905.7,255.7 1906.8,257.8 1907.0,257.8 1907.0,255.3 1906.6,253.1 1906.0,251.1 1904.9,249.5 1903.4,248.2 1901.5,247.4 1899.5,247.2 1897.4,247.6 1895.2,248.5 1893.1,249.8 1891.0,251.5 1888.8,253.6 1886.5,256.1 1884.2,259.0" fill="#c9c9c9" stroke="#9b9b9b" stroke-width="0.5"/><path d="M1885.2,259.9 L1887.7,257.3 L1890.1,255.0 L1892.3,253.2 L1894.4,251.7 L1896.3,250.6 L1898.1,249.9 L1899.7,249.5 L1901.2,249.6 L1902.5,250.0 L1903.7,250.8 L1904.7,252.0 L1905.6,253.5 L1906.3,255.5 L1906.9,257.8" stroke="#a8a8a8" stroke-width="0.4" fill="none"/><polygon points="1885.2,270.4 1882.8,267.1 1880.4,264.3 1878.1,261.9 1875.8,260.0 1873.4,258.7 1871.0,257.8 1868.6,257.5 1866.3,258.0 1864.3,259.1 1862.6,260.7 1861.3,262.8 1860.3,265.2 1859.6,268.0 1859.2,271.2 1859.4,271.3 1860.9,268.5 1862.4,266.2 1863.8,264.5 1865.2,263.3 1866.4,262.6 1867.5,262.3 1868.6,262.2 1869.9,262.4 1871.4,263.0 1873.3,263.9 1875.4,265.3 1877.7,267.1 1880.3,269.4 1883.2,272.1" fill="#c9c9c9" stroke="#9b9b9b" stroke-width="0.5"/><path d="M1884.2,271.3 L1881.6,268.3 L1879.1,265.7 L1876.7,263.6 L1874.5,262.0 L1872.4,260.8 L1870.5,260.1 L1868.6,259.9 L1866.9,260.1 L1865.3,260.8 L1863.9,262.0 L1862.5,263.6 L1861.3,265.7 L1860.3,268.3 L1859.3,271.3" stroke="#a8a8a8" stroke-width="0.4" fill="none"/><polygon points="1886.3,275.1 1888.4,272.4 1890.3,270.3 1892.0,268.6 1893.5,267.5 1894.7,266.8 1895.7,266.5 1896.3,266.4 1897.0,266.4 1897.9,266.8 1899.1,267.7 1900.4,269.1 1901.8,271.0 1903.2,273.5 1904.8,276.5 1905.0,276.4 1904.5,273.0 1903.9,270.1 1903.0,267.6 1901.9,265.4 1900.6,263.7 1898.9,262.4 1896.8,261.7 1894.6,261.8 1892.6,262.5 1890.7,263.9 1888.9,265.7 1887.3,267.9 1885.6,270.6 1884.1,273.7" fill="#c9c9c9" stroke="#9b9b9b" stroke-width="0.5"/><path d="M1885.2,274.4 L1887.0,271.5 L1888.8,269.1 L1890.5,267.2 L1892.1,265.7 L1893.6,264.7 L1895.1,264.1 L1896.6,264.0 L1898.0,264.4 L1899.3,265.3 L1900.5,266.6 L1901.7,268.3 L1902.8,270.6 L1903.9,273.3 L1904.9,276.4" stroke="#a8a8a8" stroke-width="0.4" fill="none"/><polygon points="1884.2,178.0 1884.7,178.6 1885.3,179.5 1886.1,180.6 1886.8,181.8 1887.5,183.0 1888.2,184.3 1888.9,185.7 1889.5,187.2 1890.1,188.6 1890.4,190.0 1890.5,191.3 1890.4,192.6 1890.2,193.9 1889.9,195.0 1889.5,196.0 1889.1,196.8 1888.5,197.6 1887.9,198.2 1887.2,198.6 1886.5,199.0 1885.7,199.2 1884.7,199.4 1883.8,199.4 1882.8,199.2 1882.0,199.0 1881.3,198.6 1880.6,198.2 1880.0,197.6 1879.4,196.8 1879.0,196.0 1878.6,195.0 1878.3,193.9 1878.0,192.6 1877.9,191.3 1878.0,190.0 1878.3,188.6 1878.9,187.2 1879.6,185.7 1880.3,184.3 1881.0,183.0 1881.7,181.8 1882.4,180.6 1883.1,179.5 1883.8,178.6 1884.2,178.0" fill="#9c9c9c" stroke="#7c7c7c" stroke-width="0.6"/><circle cx="1879.6" cy="182.9" r="0.7" fill="#c2c2c2"/><circle cx="1883.2" cy="192.6" r="0.7" fill="#c2c2c2"/><circle cx="1880.8" cy="182.9" r="0.7" fill="#c2c2c2"/><circle cx="1881.7" cy="193.9" r="0.7" fill="#c2c2c2"/><circle cx="1880.9" cy="193.6" r="0.7" fill="#c2c2c2"/><circle cx="1885.8" cy="183.3" r="0.7" fill="#c2c2c2"/><circle cx="1884.6" cy="188.6" r="0.7" fill="#c2c2c2"/><circle cx="1883.4" cy="197.9" r="0.7" fill="#c2c2c2"/><circle cx="1880.4" cy="181.3" r="0.7" fill="#c2c2c2"/><circle cx="1888.4" cy="187.9" r="0.7" fill="#c2c2c2"/><circle cx="1881.4" cy="186.6" r="0.7" fill="#c2c2c2"/><circle cx="1883.0" cy="197.2" r="0.7" fill="#c2c2c2"/><circle cx="1881.5" cy="184.7" r="0.7" fill="#c2c2c2"/><circle cx="1885.1" cy="190.3" r="0.7" fill="#c2c2c2"/><circle cx="1888.6" cy="195.3" r="0.7" fill="#c2c2c2"/><circle cx="1882.9" cy="184.5" r="0.7" fill="#c2c2c2"/><circle cx="1887.4" cy="197.8" r="0.7" fill="#c2c2c2"/><circle cx="1879.8" cy="193.5" r="0.7" fill="#c2c2c2"/><circle cx="1887.7" cy="192.1" r="0.7" fill="#c2c2c2"/><circle cx="1881.6" cy="194.5" r="0.7" fill="#c2c2c2"/><circle cx="1886.4" cy="184.3" r="0.7" fill="#c2c2c2"/><circle cx="1885.6" cy="184.7" r="0.7" fill="#c2c2c2"/><circle cx="1879.9" cy="186.7" r="0.7" fill="#c2c2c2"/><circle cx="1882.7" cy="187.7" r="0.7" fill="#c2c2c2"/><circle cx="1885.6" cy="195.2" r="0.7" fill="#c2c2c2"/><circle cx="1888.6" cy="197.6" r="0.7" fill="#c2c2c2"/><circle cx="1888.9" cy="194.4" r="0.7" fill="#c2c2c2"/><circle cx="1882.4" cy="184.0" r="0.7" fill="#c2c2c2"/><circle cx="1885.4" cy="190.3" r="0.7" fill="#c2c2c2"/><circle cx="1885.9" cy="182.6" r="0.7" fill="#c2c2c2"/><ellipse cx="1884.2" cy="291" rx="4" ry="1.2" fill="#b0b0b0"/><path d="M2003,286 Q1985.5,242.0 1980,204" stroke="#4e4945" stroke-width="0.9" fill="none"/><line x1="1980" y1="204" x2="1972.2" y2="203.7" stroke="#4e4945" stroke-width="0.6"/><line x1="1975.3" y1="203.8" x2="1973.5" y2="202.2" stroke="#4e4945" stroke-width="0.4"/><line x1="1980" y1="204" x2="1970.8" y2="201.0" stroke="#4e4945" stroke-width="0.6"/><line x1="1974.5" y1="202.2" x2="1972.2" y2="203.1" stroke="#4e4945" stroke-width="0.4"/><line x1="1980" y1="204" x2="1973.8" y2="197.5" stroke="#4e4945" stroke-width="0.6"/><line x1="1976.3" y1="200.1" x2="1976.3" y2="197.6" stroke="#4e4945" stroke-width="0.4"/><line x1="1980" y1="204" x2="1976.6" y2="195.3" stroke="#4e4945" stroke-width="0.6"/><line x1="1977.9" y1="198.8" x2="1978.8" y2="196.5" stroke="#4e4945" stroke-width="0.4"/><line x1="1980" y1="204" x2="1979.7" y2="196.7" stroke="#4e4945" stroke-width="0.6"/><line x1="1979.8" y1="199.6" x2="1981.4" y2="197.7" stroke="#4e4945" stroke-width="0.4"/><line x1="1980" y1="204" x2="1982.9" y2="196.5" stroke="#4e4945" stroke-width="0.6"/><line x1="1981.7" y1="199.5" x2="1980.8" y2="197.2" stroke="#4e4945" stroke-width="0.4"/><line x1="1980" y1="204" x2="1987.0" y2="197.3" stroke="#4e4945" stroke-width="0.6"/><line x1="1984.2" y1="200.0" x2="1984.4" y2="197.5" stroke="#4e4945" stroke-width="0.4"/><line x1="1980" y1="204" x2="1987.0" y2="201.5" stroke="#4e4945" stroke-width="0.6"/><line x1="1984.2" y1="202.5" x2="1986.6" y2="203.3" stroke="#4e4945" stroke-width="0.4"/><line x1="1980" y1="204" x2="1988.5" y2="204.2" stroke="#4e4945" stroke-width="0.6"/><line x1="1985.1" y1="204.1" x2="1986.9" y2="205.8" stroke="#4e4945" stroke-width="0.4"/><polygon points="1980.3,212.0 1979.0,215.0 1978.0,218.0 1977.0,221.0 1976.1,223.9 1975.3,226.9 1974.6,230.0 1974.0,233.1 1973.5,236.3 1973.8,236.5 1975.8,233.8 1977.5,231.0 1978.8,228.1 1979.9,225.0 1980.6,221.8 1980.9,218.6 1981.0,215.3 1980.6,212.0" fill="#fbf9f6" stroke="#4e4945" stroke-width="0.55"/><line x1="1980.4" y1="212.0" x2="1973.7" y2="236.4" stroke="#4e4945" stroke-width="0.3"/><polygon points="1980.9,218.0 1979.9,220.9 1979.0,223.7 1978.2,226.6 1977.5,229.4 1976.9,232.3 1976.3,235.2 1975.7,238.1 1975.3,241.2 1975.6,241.3 1977.3,238.7 1978.7,236.0 1979.9,233.1 1980.7,230.2 1981.3,227.2 1981.6,224.2 1981.5,221.1 1981.2,218.0" fill="#fbf9f6" stroke="#4e4945" stroke-width="0.55"/><line x1="1981.0" y1="218.0" x2="1975.4" y2="241.2" stroke="#4e4945" stroke-width="0.3"/><polygon points="1980.9,218.0 1980.5,220.6 1980.6,223.3 1980.9,225.8 1981.5,228.4 1982.4,230.8 1983.6,233.1 1985.0,235.3 1986.8,237.3 1987.0,237.2 1986.6,234.6 1986.1,232.1 1985.5,229.7 1984.8,227.4 1984.0,225.0 1983.2,222.7 1982.3,220.3 1981.2,218.0" fill="#fbf9f6" stroke="#4e4945" stroke-width="0.55"/><line x1="1981.0" y1="218.0" x2="1986.9" y2="237.2" stroke="#4e4945" stroke-width="0.3"/><polygon points="1981.6,223.6 1980.1,225.8 1978.9,228.0 1977.8,230.2 1977.0,232.5 1976.3,234.9 1975.7,237.3 1975.4,239.8 1975.3,242.4 1975.6,242.5 1977.1,240.4 1978.4,238.2 1979.5,236.0 1980.4,233.7 1981.1,231.3 1981.6,228.8 1981.9,226.3 1981.9,223.7" fill="#fbf9f6" stroke="#4e4945" stroke-width="0.55"/><line x1="1981.8" y1="223.7" x2="1975.4" y2="242.5" stroke="#4e4945" stroke-width="0.3"/><polygon points="1981.6,223.7 1980.9,226.3 1980.7,228.9 1980.9,231.5 1981.5,234.0 1982.6,236.3 1984.1,238.5 1985.9,240.4 1988.0,242.0 1988.3,241.8 1987.3,239.4 1986.4,237.1 1985.5,235.0 1984.8,232.8 1984.0,230.7 1983.3,228.5 1982.6,226.2 1981.9,223.7" fill="#fbf9f6" stroke="#4e4945" stroke-width="0.55"/><line x1="1981.8" y1="223.7" x2="1988.1" y2="241.9" stroke="#4e4945" stroke-width="0.3"/><polygon points="1982.8,230.6 1982.6,233.6 1982.7,236.5 1983.0,239.4 1983.7,242.3 1984.6,245.0 1985.7,247.7 1987.1,250.3 1988.7,252.7 1989.0,252.6 1988.6,249.7 1988.0,246.9 1987.4,244.2 1986.7,241.4 1985.9,238.7 1985.1,236.1 1984.1,233.3 1983.1,230.6" fill="#fbf9f6" stroke="#4e4945" stroke-width="0.55"/><line x1="1982.9" y1="230.6" x2="1988.9" y2="252.7" stroke="#4e4945" stroke-width="0.3"/><polygon points="1984.1,237.1 1983.1,240.1 1982.3,243.1 1981.7,246.1 1981.2,249.2 1981.0,252.2 1981.0,255.3 1981.1,258.4 1981.5,261.6 1981.8,261.6 1983.0,258.7 1983.8,255.7 1984.5,252.6 1985.0,249.6 1985.2,246.5 1985.2,243.4 1985.0,240.3 1984.4,237.1" fill="#fbf9f6" stroke="#4e4945" stroke-width="0.55"/><line x1="1984.3" y1="237.1" x2="1981.6" y2="261.6" stroke="#4e4945" stroke-width="0.3"/><polygon points="1987.6,249.8 1986.6,252.3 1986.2,254.9 1986.2,257.6 1986.6,260.2 1987.3,262.7 1988.5,265.0 1990.0,267.2 1992.0,269.1 1992.3,269.0 1991.8,266.4 1991.3,263.9 1990.8,261.6 1990.3,259.3 1989.8,257.0 1989.2,254.7 1988.6,252.3 1987.9,249.8" fill="#fbf9f6" stroke="#4e4945" stroke-width="0.55"/><line x1="1987.7" y1="249.8" x2="1992.1" y2="269.0" stroke="#4e4945" stroke-width="0.3"/><polygon points="1989.6,256.1 1989.3,259.1 1989.1,261.9 1988.8,264.5 1988.5,267.1 1988.1,269.7 1987.8,272.4 1987.4,275.1 1986.9,278.1 1987.2,278.2 1989.2,275.9 1990.7,273.3 1991.8,270.5 1992.4,267.6 1992.5,264.6 1992.1,261.7 1991.3,258.8 1989.9,256.1" fill="#fbf9f6" stroke="#4e4945" stroke-width="0.55"/><line x1="1989.8" y1="256.1" x2="1987.1" y2="278.2" stroke="#4e4945" stroke-width="0.3"/><polygon points="1989.6,256.1 1989.5,258.5 1989.7,260.7 1990.1,262.9 1990.8,265.1 1991.8,267.1 1993.0,269.0 1994.4,270.8 1996.1,272.4 1996.4,272.2 1996.0,270.0 1995.5,267.8 1994.9,265.7 1994.2,263.7 1993.3,261.8 1992.3,259.9 1991.2,257.9 1989.9,256.0" fill="#fbf9f6" stroke="#4e4945" stroke-width="0.55"/><line x1="1989.8" y1="256.1" x2="1996.3" y2="272.3" stroke="#4e4945" stroke-width="0.3"/><polygon points="1992.3,263.2 1991.3,265.9 1990.6,268.6 1989.9,271.2 1989.3,273.9 1988.8,276.6 1988.4,279.3 1988.1,282.1 1988.0,285.0 1988.3,285.0 1989.8,282.6 1991.1,280.0 1992.0,277.3 1992.7,274.6 1993.1,271.8 1993.3,268.9 1993.1,266.1 1992.6,263.2" fill="#fbf9f6" stroke="#4e4945" stroke-width="0.55"/><line x1="1992.4" y1="263.2" x2="1988.1" y2="285.0" stroke="#4e4945" stroke-width="0.3"/><polygon points="1994.3,268.2 1993.6,270.4 1993.0,272.5 1992.5,274.5 1992.1,276.5 1991.7,278.4 1991.4,280.5 1991.1,282.6 1990.8,284.9 1991.1,285.1 1992.8,283.4 1994.1,281.5 1995.1,279.4 1995.8,277.2 1996.1,275.0 1996.0,272.7 1995.5,270.4 1994.6,268.2" fill="#fbf9f6" stroke="#4e4945" stroke-width="0.55"/><line x1="1994.5" y1="268.2" x2="1991.0" y2="285.0" stroke="#4e4945" stroke-width="0.3"/><polygon points="1994.3,268.2 1993.6,270.5 1993.3,272.9 1993.4,275.3 1993.9,277.6 1994.8,279.7 1996.0,281.8 1997.6,283.6 1999.5,285.1 1999.8,284.9 1999.0,282.7 1998.3,280.6 1997.6,278.6 1997.0,276.6 1996.4,274.6 1995.8,272.6 1995.2,270.5 1994.6,268.2" fill="#fbf9f6" stroke="#4e4945" stroke-width="0.55"/><line x1="1994.5" y1="268.2" x2="1999.7" y2="285.0" stroke="#4e4945" stroke-width="0.3"/><polygon points="1984.9,221.9 1982.9,222.6 1981.0,223.6 1979.3,224.7 1977.6,225.9 1976.1,227.3 1974.7,228.8 1973.4,230.4 1972.3,232.1 1971.3,233.9 1970.5,235.8 1969.8,237.7 1969.3,239.7 1969.0,241.8 1968.9,244.0 1969.1,244.0 1970.2,242.2 1971.1,240.4 1972.1,238.7 1973.1,237.1 1974.1,235.5 1975.1,233.9 1976.2,232.4 1977.3,230.9 1978.5,229.5 1979.7,228.0 1980.9,226.6 1982.2,225.1 1983.6,223.7 1985.1,222.1" fill="#faf7f4" stroke="#4e4945" stroke-width="0.6"/><path d="M2008,286 Q2006.5,237.0 2005,194" stroke="#4e4945" stroke-width="0.9" fill="none"/><line x1="2005" y1="194" x2="1997.3" y2="193.2" stroke="#4e4945" stroke-width="0.6"/><line x1="2000.4" y1="193.5" x2="1998.3" y2="194.9" stroke="#4e4945" stroke-width="0.4"/><line x1="2005" y1="194" x2="1995.5" y2="190.8" stroke="#4e4945" stroke-width="0.6"/><line x1="1999.3" y1="192.1" x2="1997.0" y2="193.0" stroke="#4e4945" stroke-width="0.4"/><line x1="2005" y1="194" x2="1998.5" y2="187.4" stroke="#4e4945" stroke-width="0.6"/><line x1="2001.1" y1="190.0" x2="1998.6" y2="189.7" stroke="#4e4945" stroke-width="0.4"/><line x1="2005" y1="194" x2="2000.7" y2="186.0" stroke="#4e4945" stroke-width="0.6"/><line x1="2002.4" y1="189.2" x2="2003.0" y2="186.8" stroke="#4e4945" stroke-width="0.4"/><line x1="2005" y1="194" x2="2004.4" y2="187.1" stroke="#4e4945" stroke-width="0.6"/><line x1="2004.7" y1="189.9" x2="2006.1" y2="187.8" stroke="#4e4945" stroke-width="0.4"/><line x1="2005" y1="194" x2="2007.9" y2="186.7" stroke="#4e4945" stroke-width="0.6"/><line x1="2006.7" y1="189.6" x2="2008.9" y2="188.4" stroke="#4e4945" stroke-width="0.4"/><line x1="2005" y1="194" x2="2010.7" y2="188.3" stroke="#4e4945" stroke-width="0.6"/><line x1="2008.4" y1="190.6" x2="2010.9" y2="190.2" stroke="#4e4945" stroke-width="0.4"/><line x1="2005" y1="194" x2="2012.7" y2="191.4" stroke="#4e4945" stroke-width="0.6"/><line x1="2009.6" y1="192.4" x2="2010.8" y2="190.2" stroke="#4e4945" stroke-width="0.4"/><line x1="2005" y1="194" x2="2013.2" y2="193.2" stroke="#4e4945" stroke-width="0.6"/><line x1="2009.9" y1="193.5" x2="2012.0" y2="195.0" stroke="#4e4945" stroke-width="0.4"/><polygon points="2005.3,202.0 2004.1,203.9 2003.1,205.9 2002.3,207.9 2001.6,210.0 2001.1,212.0 2000.8,214.2 2000.6,216.4 2000.6,218.7 2000.9,218.8 2002.4,217.0 2003.6,215.1 2004.5,213.1 2005.2,211.0 2005.7,208.8 2005.9,206.6 2005.9,204.3 2005.6,202.0" fill="#fbf9f6" stroke="#4e4945" stroke-width="0.55"/><line x1="2005.4" y1="202.0" x2="2000.7" y2="218.7" stroke="#4e4945" stroke-width="0.3"/><polygon points="2005.3,202.0 2005.2,204.6 2005.3,207.0 2005.7,209.4 2006.4,211.8 2007.3,214.1 2008.4,216.3 2009.7,218.4 2011.3,220.4 2011.5,220.2 2011.2,217.8 2010.7,215.4 2010.1,213.1 2009.5,210.8 2008.7,208.6 2007.8,206.4 2006.8,204.2 2005.6,202.0" fill="#fbf9f6" stroke="#4e4945" stroke-width="0.55"/><line x1="2005.4" y1="202.0" x2="2011.4" y2="220.3" stroke="#4e4945" stroke-width="0.3"/><polygon points="2005.5,209.2 2004.4,210.9 2003.5,212.6 2002.7,214.2 2002.1,215.9 2001.6,217.5 2001.2,219.3 2000.9,221.2 2000.8,223.2 2001.1,223.4 2002.7,222.1 2004.1,220.6 2005.2,219.0 2005.9,217.2 2006.4,215.3 2006.6,213.3 2006.4,211.3 2005.8,209.3" fill="#fbf9f6" stroke="#4e4945" stroke-width="0.55"/><line x1="2005.7" y1="209.3" x2="2000.9" y2="223.3" stroke="#4e4945" stroke-width="0.3"/><polygon points="2005.5,209.3 2005.0,212.1 2004.7,215.0 2004.7,217.8 2004.9,220.6 2005.4,223.4 2006.1,226.1 2007.0,228.8 2008.2,231.5 2008.5,231.5 2009.0,228.6 2009.1,225.7 2009.1,222.9 2008.9,220.1 2008.5,217.4 2007.8,214.6 2007.0,211.9 2005.8,209.2" fill="#fbf9f6" stroke="#4e4945" stroke-width="0.55"/><line x1="2005.7" y1="209.3" x2="2008.4" y2="231.5" stroke="#4e4945" stroke-width="0.3"/><polygon points="2005.7,214.5 2004.6,216.7 2003.8,218.9 2003.0,221.1 2002.2,223.2 2001.6,225.4 2001.0,227.6 2000.4,229.9 1999.9,232.4 2000.1,232.5 2002.0,230.8 2003.5,228.8 2004.7,226.6 2005.6,224.3 2006.2,221.9 2006.5,219.5 2006.4,217.0 2006.0,214.5" fill="#fbf9f6" stroke="#4e4945" stroke-width="0.55"/><line x1="2005.8" y1="214.5" x2="2000.0" y2="232.5" stroke="#4e4945" stroke-width="0.3"/><polygon points="2005.7,214.5 2005.2,217.4 2005.2,220.3 2005.5,223.1 2006.2,225.9 2007.1,228.6 2008.4,231.1 2010.0,233.6 2012.0,235.8 2012.2,235.6 2011.9,232.7 2011.4,230.0 2010.8,227.4 2010.1,224.8 2009.2,222.2 2008.3,219.6 2007.2,217.1 2006.0,214.4" fill="#fbf9f6" stroke="#4e4945" stroke-width="0.55"/><line x1="2005.8" y1="214.5" x2="2012.1" y2="235.7" stroke="#4e4945" stroke-width="0.3"/><polygon points="2005.9,221.9 2004.8,224.4 2004.2,227.0 2004.0,229.6 2004.1,232.3 2004.6,234.9 2005.4,237.4 2006.6,239.8 2008.2,242.0 2008.5,241.9 2008.2,239.2 2007.9,236.7 2007.7,234.3 2007.4,231.9 2007.1,229.5 2006.9,227.1 2006.6,224.6 2006.2,222.0" fill="#fbf9f6" stroke="#4e4945" stroke-width="0.55"/><line x1="2006.0" y1="221.9" x2="2008.3" y2="241.9" stroke="#4e4945" stroke-width="0.3"/><polygon points="2006.0,227.0 2004.9,229.5 2004.1,232.0 2003.4,234.6 2002.9,237.2 2002.6,239.8 2002.5,242.4 2002.6,245.1 2003.0,247.8 2003.2,247.8 2004.4,245.4 2005.3,242.8 2006.0,240.3 2006.5,237.7 2006.8,235.1 2006.9,232.4 2006.8,229.8 2006.3,227.0" fill="#fbf9f6" stroke="#4e4945" stroke-width="0.55"/><line x1="2006.2" y1="227.0" x2="2003.1" y2="247.8" stroke="#4e4945" stroke-width="0.3"/><polygon points="2006.2,232.2 2005.2,234.6 2004.4,236.8 2003.7,238.9 2002.9,241.0 2002.3,243.2 2001.6,245.3 2000.9,247.6 2000.3,250.1 2000.6,250.3 2002.6,248.6 2004.2,246.7 2005.6,244.5 2006.6,242.2 2007.1,239.8 2007.3,237.3 2007.2,234.7 2006.5,232.2" fill="#fbf9f6" stroke="#4e4945" stroke-width="0.55"/><line x1="2006.4" y1="232.2" x2="2000.4" y2="250.2" stroke="#4e4945" stroke-width="0.3"/><polygon points="2006.4,238.4 2005.1,240.7 2004.0,243.0 2003.1,245.3 2002.4,247.7 2001.9,250.1 2001.5,252.6 2001.3,255.1 2001.3,257.7 2001.6,257.8 2003.2,255.7 2004.4,253.4 2005.4,251.1 2006.2,248.7 2006.7,246.2 2007.0,243.7 2007.0,241.1 2006.7,238.5" fill="#fbf9f6" stroke="#4e4945" stroke-width="0.55"/><line x1="2006.5" y1="238.4" x2="2001.5" y2="257.8" stroke="#4e4945" stroke-width="0.3"/><polygon points="2006.4,238.5 2006.1,240.9 2006.1,243.2 2006.3,245.5 2006.7,247.8 2007.4,250.0 2008.4,252.1 2009.5,254.2 2010.9,256.1 2011.2,256.0 2011.5,253.6 2011.4,251.3 2011.2,249.0 2010.7,246.8 2010.0,244.6 2009.2,242.5 2008.1,240.4 2006.7,238.4" fill="#fbf9f6" stroke="#4e4945" stroke-width="0.55"/><line x1="2006.5" y1="238.4" x2="2011.1" y2="256.1" stroke="#4e4945" stroke-width="0.3"/><polygon points="2006.6,245.3 2006.0,247.7 2005.9,250.1 2006.2,252.5 2006.8,254.8 2007.7,257.0 2008.9,259.1 2010.5,260.9 2012.4,262.5 2012.7,262.3 2012.1,260.0 2011.5,257.8 2010.8,255.7 2010.2,253.7 2009.5,251.7 2008.7,249.6 2007.9,247.5 2006.9,245.3" fill="#fbf9f6" stroke="#4e4945" stroke-width="0.55"/><line x1="2006.8" y1="245.3" x2="2012.5" y2="262.4" stroke="#4e4945" stroke-width="0.3"/><polygon points="2006.8,252.6 2006.2,255.4 2005.8,258.1 2005.3,260.8 2004.9,263.3 2004.6,265.9 2004.3,268.6 2004.0,271.3 2003.7,274.2 2004.0,274.3 2005.8,272.0 2007.2,269.4 2008.2,266.7 2008.8,263.9 2009.0,261.0 2008.8,258.2 2008.2,255.3 2007.1,252.5" fill="#fbf9f6" stroke="#4e4945" stroke-width="0.55"/><line x1="2007.0" y1="252.5" x2="2003.9" y2="274.3" stroke="#4e4945" stroke-width="0.3"/><polygon points="2007.0,258.7 2006.4,261.2 2005.8,263.6 2005.2,265.8 2004.5,268.0 2003.9,270.1 2003.2,272.3 2002.5,274.6 2001.7,277.1 2001.9,277.2 2003.9,275.5 2005.4,273.4 2006.7,271.2 2007.6,268.9 2008.1,266.4 2008.3,263.8 2008.0,261.3 2007.3,258.7" fill="#fbf9f6" stroke="#4e4945" stroke-width="0.55"/><line x1="2007.2" y1="258.7" x2="2001.8" y2="277.1" stroke="#4e4945" stroke-width="0.3"/><polygon points="2007.0,258.8 2006.3,260.6 2005.9,262.6 2005.8,264.5 2006.0,266.4 2006.4,268.3 2007.1,270.1 2008.0,271.8 2009.3,273.4 2009.6,273.3 2009.8,271.3 2009.8,269.4 2009.7,267.6 2009.5,265.9 2009.2,264.1 2008.7,262.4 2008.1,260.6 2007.3,258.7" fill="#fbf9f6" stroke="#4e4945" stroke-width="0.55"/><line x1="2007.2" y1="258.7" x2="2009.4" y2="273.3" stroke="#4e4945" stroke-width="0.3"/><polygon points="2007.2,264.8 2006.2,266.9 2005.4,268.9 2004.7,270.9 2004.2,272.9 2003.7,275.0 2003.4,277.1 2003.1,279.2 2003.0,281.5 2003.3,281.6 2004.8,279.8 2005.9,277.9 2006.9,275.9 2007.5,273.8 2007.9,271.6 2008.1,269.4 2008.0,267.1 2007.5,264.8" fill="#fbf9f6" stroke="#4e4945" stroke-width="0.55"/><line x1="2007.4" y1="264.8" x2="2003.2" y2="281.6" stroke="#4e4945" stroke-width="0.3"/><polygon points="2007.2,264.8 2006.5,267.6 2006.3,270.4 2006.5,273.2 2007.2,275.9 2008.3,278.4 2009.8,280.8 2011.7,282.9 2014.0,284.6 2014.3,284.4 2013.4,281.8 2012.5,279.3 2011.7,276.9 2010.9,274.6 2010.1,272.3 2009.3,269.9 2008.5,267.5 2007.5,264.8" fill="#fbf9f6" stroke="#4e4945" stroke-width="0.55"/><line x1="2007.4" y1="264.8" x2="2014.2" y2="284.5" stroke="#4e4945" stroke-width="0.3"/><polygon points="2007.4,270.5 2006.4,272.2 2005.6,274.0 2005.1,275.7 2004.6,277.5 2004.4,279.3 2004.3,281.2 2004.4,283.0 2004.8,285.0 2005.1,285.0 2006.1,283.4 2006.9,281.6 2007.5,279.9 2007.9,278.1 2008.2,276.3 2008.2,274.4 2008.1,272.5 2007.7,270.6" fill="#fbf9f6" stroke="#4e4945" stroke-width="0.55"/><line x1="2007.5" y1="270.6" x2="2004.9" y2="285.0" stroke="#4e4945" stroke-width="0.3"/><polygon points="2007.4,270.6 2006.7,272.5 2006.4,274.4 2006.3,276.3 2006.5,278.2 2006.9,280.0 2007.6,281.8 2008.5,283.5 2009.8,285.0 2010.1,285.0 2010.4,283.0 2010.5,281.1 2010.4,279.3 2010.2,277.5 2009.8,275.8 2009.3,274.1 2008.6,272.3 2007.7,270.6" fill="#fbf9f6" stroke="#4e4945" stroke-width="0.55"/><line x1="2007.5" y1="270.6" x2="2009.9" y2="285.0" stroke="#4e4945" stroke-width="0.3"/><path d="M2012,286 Q2015.0,239.5 2018,199" stroke="#4e4945" stroke-width="0.9" fill="none"/><line x1="2018" y1="199" x2="2008.8" y2="199.3" stroke="#4e4945" stroke-width="0.6"/><line x1="2012.5" y1="199.2" x2="2010.6" y2="200.9" stroke="#4e4945" stroke-width="0.4"/><line x1="2018" y1="199" x2="2008.7" y2="195.2" stroke="#4e4945" stroke-width="0.6"/><line x1="2012.4" y1="196.7" x2="2011.4" y2="194.5" stroke="#4e4945" stroke-width="0.4"/><line x1="2018" y1="199" x2="2011.7" y2="192.7" stroke="#4e4945" stroke-width="0.6"/><line x1="2014.2" y1="195.2" x2="2011.7" y2="194.9" stroke="#4e4945" stroke-width="0.4"/><line x1="2018" y1="199" x2="2015.1" y2="191.7" stroke="#4e4945" stroke-width="0.6"/><line x1="2016.2" y1="194.6" x2="2017.1" y2="192.3" stroke="#4e4945" stroke-width="0.4"/><line x1="2018" y1="199" x2="2017.7" y2="191.4" stroke="#4e4945" stroke-width="0.6"/><line x1="2017.8" y1="194.5" x2="2019.3" y2="192.5" stroke="#4e4945" stroke-width="0.4"/><line x1="2018" y1="199" x2="2021.0" y2="191.4" stroke="#4e4945" stroke-width="0.6"/><line x1="2019.8" y1="194.4" x2="2021.9" y2="193.2" stroke="#4e4945" stroke-width="0.4"/><line x1="2018" y1="199" x2="2022.9" y2="194.0" stroke="#4e4945" stroke-width="0.6"/><line x1="2021.0" y1="196.0" x2="2021.0" y2="193.5" stroke="#4e4945" stroke-width="0.4"/><line x1="2018" y1="199" x2="2026.7" y2="195.3" stroke="#4e4945" stroke-width="0.6"/><line x1="2023.2" y1="196.8" x2="2025.6" y2="197.4" stroke="#4e4945" stroke-width="0.4"/><line x1="2018" y1="199" x2="2028.2" y2="198.7" stroke="#4e4945" stroke-width="0.6"/><line x1="2024.1" y1="198.8" x2="2026.0" y2="197.2" stroke="#4e4945" stroke-width="0.4"/><polygon points="2016.9,207.0 2016.3,209.7 2015.7,212.1 2015.1,214.5 2014.5,216.8 2013.9,219.0 2013.3,221.4 2012.6,223.8 2011.9,226.5 2012.1,226.6 2014.2,224.8 2015.9,222.6 2017.3,220.3 2018.2,217.7 2018.6,215.1 2018.6,212.3 2018.2,209.6 2017.2,207.0" fill="#fbf9f6" stroke="#4e4945" stroke-width="0.55"/><line x1="2017.1" y1="207.0" x2="2012.0" y2="226.6" stroke="#4e4945" stroke-width="0.3"/><polygon points="2016.9,207.0 2016.5,210.0 2016.4,212.9 2016.5,215.8 2017.0,218.7 2017.8,221.5 2018.9,224.2 2020.3,226.8 2022.0,229.3 2022.2,229.2 2022.0,226.2 2021.5,223.4 2021.1,220.6 2020.5,217.9 2019.8,215.2 2019.1,212.5 2018.3,209.8 2017.2,207.0" fill="#fbf9f6" stroke="#4e4945" stroke-width="0.55"/><line x1="2017.1" y1="207.0" x2="2022.1" y2="229.2" stroke="#4e4945" stroke-width="0.3"/><polygon points="2016.6,212.9 2015.8,215.4 2015.4,218.0 2015.3,220.6 2015.6,223.2 2016.3,225.7 2017.3,228.1 2018.6,230.3 2020.3,232.4 2020.6,232.3 2020.2,229.7 2019.7,227.2 2019.3,224.9 2018.9,222.5 2018.4,220.2 2017.9,217.9 2017.4,215.4 2016.9,212.9" fill="#fbf9f6" stroke="#4e4945" stroke-width="0.55"/><line x1="2016.7" y1="212.9" x2="2020.4" y2="232.3" stroke="#4e4945" stroke-width="0.3"/><polygon points="2016.2,218.7 2015.5,220.8 2014.8,222.7 2014.2,224.5 2013.6,226.2 2013.0,227.9 2012.5,229.7 2011.8,231.6 2011.2,233.7 2011.4,233.9 2013.3,232.6 2014.8,231.1 2016.1,229.3 2016.9,227.3 2017.4,225.2 2017.5,223.0 2017.2,220.9 2016.5,218.7" fill="#fbf9f6" stroke="#4e4945" stroke-width="0.55"/><line x1="2016.3" y1="218.7" x2="2011.3" y2="233.8" stroke="#4e4945" stroke-width="0.3"/><polygon points="2015.8,224.4 2014.8,226.8 2013.9,229.0 2013.1,231.3 2012.5,233.5 2011.9,235.7 2011.4,238.0 2011.0,240.4 2010.7,242.9 2011.0,243.1 2012.9,241.2 2014.4,239.2 2015.6,236.9 2016.4,234.5 2016.9,232.1 2017.0,229.5 2016.8,227.0 2016.1,224.4" fill="#fbf9f6" stroke="#4e4945" stroke-width="0.55"/><line x1="2016.0" y1="224.4" x2="2010.9" y2="243.0" stroke="#4e4945" stroke-width="0.3"/><polygon points="2015.5,229.8 2014.2,231.5 2013.1,233.2 2012.2,234.9 2011.4,236.7 2010.7,238.5 2010.2,240.4 2009.8,242.4 2009.7,244.4 2009.9,244.6 2011.4,243.1 2012.6,241.4 2013.6,239.7 2014.5,237.9 2015.1,236.0 2015.5,234.1 2015.8,232.0 2015.8,229.9" fill="#fbf9f6" stroke="#4e4945" stroke-width="0.55"/><line x1="2015.6" y1="229.9" x2="2009.8" y2="244.5" stroke="#4e4945" stroke-width="0.3"/><polygon points="2015.5,229.9 2014.4,232.4 2013.8,234.9 2013.5,237.6 2013.7,240.2 2014.3,242.7 2015.3,245.1 2016.7,247.4 2018.5,249.5 2018.8,249.3 2018.5,246.7 2018.2,244.2 2017.9,241.9 2017.6,239.6 2017.2,237.3 2016.8,234.9 2016.3,232.5 2015.8,229.9" fill="#fbf9f6" stroke="#4e4945" stroke-width="0.55"/><line x1="2015.6" y1="229.9" x2="2018.6" y2="249.4" stroke="#4e4945" stroke-width="0.3"/><polygon points="2015.0,237.2 2014.1,239.6 2013.2,241.9 2012.4,244.1 2011.6,246.4 2010.9,248.6 2010.2,250.9 2009.4,253.2 2008.7,255.7 2009.0,255.9 2010.8,254.0 2012.4,251.9 2013.6,249.7 2014.6,247.4 2015.3,244.9 2015.6,242.4 2015.6,239.8 2015.3,237.2" fill="#fbf9f6" stroke="#4e4945" stroke-width="0.55"/><line x1="2015.1" y1="237.2" x2="2008.8" y2="255.8" stroke="#4e4945" stroke-width="0.3"/><polygon points="2015.0,237.2 2014.7,239.8 2014.9,242.3 2015.3,244.8 2016.0,247.2 2017.0,249.4 2018.3,251.6 2019.9,253.6 2021.7,255.3 2022.0,255.2 2021.5,252.7 2020.9,250.4 2020.2,248.1 2019.4,245.9 2018.6,243.7 2017.6,241.6 2016.5,239.4 2015.3,237.2" fill="#fbf9f6" stroke="#4e4945" stroke-width="0.55"/><line x1="2015.1" y1="237.2" x2="2021.9" y2="255.3" stroke="#4e4945" stroke-width="0.3"/><polygon points="2014.6,243.6 2013.8,245.4 2013.3,247.3 2012.7,249.0 2012.3,250.8 2011.9,252.5 2011.6,254.4 2011.3,256.2 2011.1,258.3 2011.4,258.4 2012.8,256.9 2013.9,255.2 2014.8,253.4 2015.4,251.5 2015.7,249.5 2015.7,247.5 2015.5,245.5 2014.9,243.6" fill="#fbf9f6" stroke="#4e4945" stroke-width="0.55"/><line x1="2014.7" y1="243.6" x2="2011.2" y2="258.3" stroke="#4e4945" stroke-width="0.3"/><polygon points="2014.6,243.6 2013.8,245.6 2013.5,247.7 2013.5,249.8 2014.0,251.8 2014.8,253.7 2016.0,255.4 2017.5,256.9 2019.4,258.0 2019.6,257.9 2019.0,255.8 2018.5,254.0 2018.0,252.3 2017.4,250.6 2016.9,249.0 2016.3,247.3 2015.6,245.5 2014.9,243.6" fill="#fbf9f6" stroke="#4e4945" stroke-width="0.55"/><line x1="2014.7" y1="243.6" x2="2019.5" y2="257.9" stroke="#4e4945" stroke-width="0.3"/><polygon points="2014.2,249.2 2012.9,251.4 2011.8,253.6 2010.9,255.7 2010.1,257.9 2009.4,260.1 2008.8,262.4 2008.4,264.8 2008.1,267.3 2008.3,267.5 2010.2,265.7 2011.7,263.7 2012.9,261.5 2013.9,259.2 2014.5,256.8 2014.9,254.3 2014.9,251.8 2014.5,249.2" fill="#fbf9f6" stroke="#4e4945" stroke-width="0.55"/><line x1="2014.4" y1="249.2" x2="2008.2" y2="267.4" stroke="#4e4945" stroke-width="0.3"/><polygon points="2014.2,249.3 2013.9,251.5 2014.0,253.7 2014.3,255.9 2014.9,257.9 2015.8,259.9 2016.9,261.7 2018.3,263.4 2020.1,264.9 2020.3,264.8 2020.2,262.5 2019.8,260.4 2019.3,258.4 2018.7,256.5 2017.9,254.6 2016.9,252.8 2015.9,251.0 2014.5,249.2" fill="#fbf9f6" stroke="#4e4945" stroke-width="0.55"/><line x1="2014.4" y1="249.2" x2="2020.2" y2="264.8" stroke="#4e4945" stroke-width="0.3"/><polygon points="2013.8,255.9 2012.8,258.5 2011.9,260.9 2011.0,263.4 2010.2,265.8 2009.5,268.2 2008.8,270.6 2008.0,273.2 2007.4,275.8 2007.6,276.0 2009.5,273.9 2011.1,271.7 2012.4,269.3 2013.4,266.8 2014.1,264.1 2014.4,261.4 2014.5,258.7 2014.1,255.9" fill="#fbf9f6" stroke="#4e4945" stroke-width="0.55"/><line x1="2013.9" y1="255.9" x2="2007.5" y2="275.9" stroke="#4e4945" stroke-width="0.3"/><polygon points="2013.8,255.9 2013.0,258.5 2012.7,261.1 2012.8,263.7 2013.5,266.3 2014.6,268.6 2016.1,270.7 2018.0,272.6 2020.3,274.0 2020.6,273.8 2019.7,271.3 2018.8,269.1 2018.1,266.9 2017.3,264.9 2016.6,262.8 2015.8,260.7 2015.0,258.4 2014.1,255.9" fill="#fbf9f6" stroke="#4e4945" stroke-width="0.55"/><line x1="2013.9" y1="255.9" x2="2020.4" y2="273.9" stroke="#4e4945" stroke-width="0.3"/><polygon points="2013.4,261.6 2012.5,264.2 2011.8,267.0 2011.2,269.7 2010.8,272.4 2010.6,275.2 2010.5,278.0 2010.6,280.8 2010.9,283.6 2011.2,283.6 2012.2,281.0 2013.0,278.3 2013.5,275.5 2013.9,272.8 2014.2,270.0 2014.2,267.2 2014.1,264.4 2013.7,261.6" fill="#fbf9f6" stroke="#4e4945" stroke-width="0.55"/><line x1="2013.6" y1="261.6" x2="2011.1" y2="283.6" stroke="#4e4945" stroke-width="0.3"/><polygon points="2013.4,261.6 2012.8,264.2 2012.5,266.9 2012.4,269.5 2012.5,272.1 2012.9,274.7 2013.5,277.3 2014.3,279.9 2015.4,282.3 2015.7,282.3 2016.2,279.6 2016.4,277.0 2016.4,274.4 2016.3,271.8 2015.9,269.2 2015.4,266.7 2014.7,264.1 2013.7,261.6" fill="#fbf9f6" stroke="#4e4945" stroke-width="0.55"/><line x1="2013.6" y1="261.6" x2="2015.6" y2="282.3" stroke="#4e4945" stroke-width="0.3"/><polygon points="2013.0,268.9 2012.9,271.2 2013.1,273.4 2013.5,275.5 2014.1,277.6 2014.9,279.6 2015.9,281.5 2017.1,283.3 2018.6,285.1 2018.9,284.9 2018.9,282.7 2018.7,280.5 2018.3,278.4 2017.7,276.3 2016.9,274.4 2015.9,272.4 2014.7,270.6 2013.2,268.8" fill="#fbf9f6" stroke="#4e4945" stroke-width="0.55"/><line x1="2013.1" y1="268.9" x2="2018.7" y2="285.0" stroke="#4e4945" stroke-width="0.3"/><path d="M2015,286 Q2021.5,242.5 2028,205" stroke="#4e4945" stroke-width="0.9" fill="none"/><line x1="2028" y1="205" x2="2019.3" y2="205.0" stroke="#4e4945" stroke-width="0.6"/><line x1="2022.8" y1="205.0" x2="2020.9" y2="203.4" stroke="#4e4945" stroke-width="0.4"/><line x1="2028" y1="205" x2="2020.9" y2="202.3" stroke="#4e4945" stroke-width="0.6"/><line x1="2023.8" y1="203.4" x2="2022.6" y2="201.1" stroke="#4e4945" stroke-width="0.4"/><line x1="2028" y1="205" x2="2022.4" y2="198.9" stroke="#4e4945" stroke-width="0.6"/><line x1="2024.7" y1="201.3" x2="2024.7" y2="198.8" stroke="#4e4945" stroke-width="0.4"/><line x1="2028" y1="205" x2="2025.5" y2="198.6" stroke="#4e4945" stroke-width="0.6"/><line x1="2026.5" y1="201.2" x2="2027.4" y2="198.8" stroke="#4e4945" stroke-width="0.4"/><line x1="2028" y1="205" x2="2027.8" y2="198.1" stroke="#4e4945" stroke-width="0.6"/><line x1="2027.9" y1="200.9" x2="2029.4" y2="198.9" stroke="#4e4945" stroke-width="0.4"/><line x1="2028" y1="205" x2="2031.5" y2="196.3" stroke="#4e4945" stroke-width="0.6"/><line x1="2030.1" y1="199.8" x2="2032.3" y2="198.6" stroke="#4e4945" stroke-width="0.4"/><line x1="2028" y1="205" x2="2033.6" y2="199.5" stroke="#4e4945" stroke-width="0.6"/><line x1="2031.3" y1="201.7" x2="2031.4" y2="199.2" stroke="#4e4945" stroke-width="0.4"/><line x1="2028" y1="205" x2="2034.8" y2="202.5" stroke="#4e4945" stroke-width="0.6"/><line x1="2032.1" y1="203.5" x2="2033.2" y2="201.3" stroke="#4e4945" stroke-width="0.4"/><line x1="2028" y1="205" x2="2038.3" y2="205.2" stroke="#4e4945" stroke-width="0.6"/><line x1="2034.2" y1="205.1" x2="2036.1" y2="203.5" stroke="#4e4945" stroke-width="0.4"/><polygon points="2025.8,213.0 2024.9,215.3 2024.4,217.6 2024.2,220.0 2024.3,222.4 2024.7,224.8 2025.4,227.0 2026.4,229.2 2027.8,231.3 2028.1,231.2 2028.0,228.8 2027.9,226.5 2027.7,224.3 2027.5,222.1 2027.2,219.9 2026.9,217.6 2026.5,215.4 2026.1,213.0" fill="#fbf9f6" stroke="#4e4945" stroke-width="0.55"/><line x1="2025.9" y1="213.0" x2="2027.9" y2="231.2" stroke="#4e4945" stroke-width="0.3"/><polygon points="2023.9,225.1 2023.1,228.0 2022.4,230.6 2021.6,233.2 2020.8,235.7 2020.0,238.2 2019.1,240.8 2018.2,243.4 2017.2,246.2 2017.5,246.4 2019.8,244.4 2021.7,242.1 2023.2,239.6 2024.3,236.8 2024.9,234.0 2025.2,231.0 2025.0,228.1 2024.2,225.1" fill="#fbf9f6" stroke="#4e4945" stroke-width="0.55"/><line x1="2024.1" y1="225.1" x2="2017.4" y2="246.3" stroke="#4e4945" stroke-width="0.3"/><polygon points="2022.8,232.5 2022.1,235.2 2021.5,237.9 2021.0,240.6 2020.6,243.2 2020.3,245.9 2020.1,248.6 2020.0,251.4 2020.0,254.2 2020.3,254.3 2021.6,251.7 2022.6,249.1 2023.3,246.4 2023.8,243.6 2024.0,240.9 2024.0,238.1 2023.7,235.3 2023.1,232.5" fill="#fbf9f6" stroke="#4e4945" stroke-width="0.55"/><line x1="2023.0" y1="232.5" x2="2020.1" y2="254.2" stroke="#4e4945" stroke-width="0.3"/><polygon points="2022.8,232.5 2022.4,235.5 2022.3,238.5 2022.7,241.4 2023.3,244.3 2024.4,247.0 2025.8,249.6 2027.5,252.1 2029.5,254.3 2029.8,254.1 2029.0,251.3 2028.1,248.6 2027.3,245.9 2026.5,243.3 2025.7,240.7 2024.9,238.0 2024.0,235.3 2023.1,232.5" fill="#fbf9f6" stroke="#4e4945" stroke-width="0.55"/><line x1="2023.0" y1="232.5" x2="2029.7" y2="254.2" stroke="#4e4945" stroke-width="0.3"/><polygon points="2021.9,238.7 2021.0,240.9 2020.3,243.1 2019.8,245.3 2019.3,247.4 2019.0,249.7 2018.7,251.9 2018.6,254.2 2018.7,256.5 2019.0,256.6 2020.2,254.6 2021.1,252.4 2021.9,250.2 2022.4,248.0 2022.7,245.7 2022.8,243.4 2022.6,241.1 2022.2,238.7" fill="#fbf9f6" stroke="#4e4945" stroke-width="0.55"/><line x1="2022.1" y1="238.7" x2="2018.8" y2="256.6" stroke="#4e4945" stroke-width="0.3"/><polygon points="2021.9,238.7 2021.0,241.7 2020.6,244.8 2020.6,247.8 2021.0,250.8 2021.8,253.8 2023.0,256.6 2024.6,259.2 2026.5,261.6 2026.8,261.5 2026.3,258.5 2025.7,255.6 2025.1,252.9 2024.6,250.1 2024.0,247.4 2023.5,244.6 2022.9,241.7 2022.2,238.7" fill="#fbf9f6" stroke="#4e4945" stroke-width="0.55"/><line x1="2022.1" y1="238.7" x2="2026.7" y2="261.6" stroke="#4e4945" stroke-width="0.3"/><polygon points="2021.1,243.9 2020.2,246.7 2019.7,249.5 2019.5,252.3 2019.8,255.2 2020.4,257.9 2021.3,260.6 2022.6,263.2 2024.4,265.5 2024.6,265.4 2024.3,262.6 2024.0,259.9 2023.6,257.2 2023.3,254.6 2022.9,252.1 2022.4,249.4 2022.0,246.7 2021.4,243.9" fill="#fbf9f6" stroke="#4e4945" stroke-width="0.55"/><line x1="2021.3" y1="243.9" x2="2024.5" y2="265.5" stroke="#4e4945" stroke-width="0.3"/><polygon points="2020.3,249.3 2020.1,251.9 2020.3,254.3 2020.7,256.7 2021.5,259.0 2022.5,261.1 2023.9,263.2 2025.4,265.0 2027.3,266.7 2027.6,266.5 2027.2,264.1 2026.6,261.8 2025.9,259.6 2025.1,257.5 2024.2,255.4 2023.2,253.4 2022.0,251.3 2020.6,249.3" fill="#fbf9f6" stroke="#4e4945" stroke-width="0.55"/><line x1="2020.5" y1="249.3" x2="2027.5" y2="266.6" stroke="#4e4945" stroke-width="0.3"/><polygon points="2018.3,263.1 2016.8,264.5 2015.6,266.1 2014.5,267.8 2013.6,269.5 2012.8,271.3 2012.2,273.1 2011.7,275.1 2011.4,277.1 2011.6,277.2 2013.1,275.8 2014.4,274.2 2015.5,272.6 2016.5,270.9 2017.2,269.1 2017.9,267.2 2018.3,265.3 2018.6,263.2" fill="#fbf9f6" stroke="#4e4945" stroke-width="0.55"/><line x1="2018.4" y1="263.1" x2="2011.5" y2="277.2" stroke="#4e4945" stroke-width="0.3"/><polygon points="2018.3,263.1 2017.5,265.6 2017.1,268.0 2016.9,270.5 2017.1,273.0 2017.6,275.4 2018.3,277.7 2019.3,280.0 2020.7,282.2 2021.0,282.1 2021.3,279.6 2021.3,277.1 2021.3,274.8 2021.0,272.4 2020.7,270.1 2020.1,267.8 2019.5,265.5 2018.6,263.1" fill="#fbf9f6" stroke="#4e4945" stroke-width="0.55"/><line x1="2018.4" y1="263.1" x2="2020.9" y2="282.1" stroke="#4e4945" stroke-width="0.3"/><polygon points="2017.4,269.0 2017.1,271.2 2016.8,273.2 2016.6,275.1 2016.3,277.0 2016.1,278.8 2015.8,280.7 2015.6,282.7 2015.3,284.9 2015.6,285.1 2017.2,283.4 2018.4,281.6 2019.2,279.5 2019.7,277.4 2019.8,275.2 2019.5,273.1 2018.8,271.0 2017.7,269.0" fill="#fbf9f6" stroke="#4e4945" stroke-width="0.55"/><line x1="2017.5" y1="269.0" x2="2015.5" y2="285.0" stroke="#4e4945" stroke-width="0.3"/><polygon points="2017.4,269.0 2016.9,271.1 2016.8,273.2 2016.8,275.3 2017.0,277.3 2017.5,279.3 2018.1,281.3 2019.0,283.2 2020.1,285.0 2020.4,285.0 2020.7,282.8 2020.8,280.8 2020.7,278.7 2020.5,276.7 2020.1,274.8 2019.5,272.8 2018.7,270.9 2017.7,269.0" fill="#fbf9f6" stroke="#4e4945" stroke-width="0.55"/><line x1="2017.5" y1="269.0" x2="2020.3" y2="285.0" stroke="#4e4945" stroke-width="0.3"/><polygon points="2029.9,215.1 2030.8,217.1 2031.7,219.1 2032.5,221.1 2033.3,223.0 2033.9,224.9 2034.5,226.8 2035.1,228.7 2035.6,230.6 2036.1,232.5 2036.5,234.5 2036.9,236.5 2037.3,238.6 2037.5,240.8 2037.9,243.0 2038.1,243.0 2038.8,240.8 2039.2,238.6 2039.4,236.4 2039.5,234.2 2039.3,232.0 2039.0,229.8 2038.5,227.7 2037.8,225.7 2036.9,223.6 2035.9,221.7 2034.7,219.9 2033.3,218.1 2031.8,216.4 2030.1,214.9" fill="#faf7f4" stroke="#4e4945" stroke-width="0.6"/><clipPath id="te3"><polygon points="2058.9,186.0 2059.6,188.6 2060.4,191.2 2061.1,193.7 2061.7,196.3 2062.1,198.9 2062.2,201.4 2062.1,204.0 2062.0,206.6 2061.9,209.2 2062.0,211.8 2062.3,214.3 2062.9,216.9 2063.6,219.5 2064.3,222.1 2064.9,224.6 2065.2,227.2 2065.3,229.8 2065.1,232.3 2064.9,234.9 2064.8,237.5 2064.9,240.1 2065.2,242.7 2065.8,245.2 2066.5,247.8 2067.2,250.4 2067.7,252.9 2068.0,255.5 2068.1,258.1 2068.0,260.7 2067.8,263.2 2067.4,265.8 2067.2,268.4 2067.3,271.0 2067.6,273.6 2068.0,276.1 2068.5,278.7 2068.7,281.3 2068.8,283.9 2068.6,286.4 2068.2,289.0 2063.2,290.0 2053.8,290.0 2048.2,289.0 2048.4,286.4 2048.8,283.9 2049.3,281.3 2049.6,278.7 2049.8,276.1 2049.7,273.6 2049.4,271.0 2049.0,268.4 2048.5,265.8 2048.3,263.2 2048.5,260.7 2048.9,258.1 2049.6,255.5 2050.3,252.9 2050.9,250.4 2051.3,247.8 2051.5,245.2 2051.4,242.7 2051.2,240.1 2051.1,237.5 2051.1,234.9 2051.3,232.3 2051.8,229.8 2052.4,227.2 2053.2,224.6 2053.8,222.1 2054.2,219.5 2054.4,216.9 2054.4,214.3 2054.2,211.8 2054.1,209.2 2054.1,206.6 2054.3,204.0 2054.8,201.4 2055.5,198.9 2056.3,196.3 2056.9,193.7 2057.4,191.2 2057.7,188.6 2057.7,186.0"/></clipPath><polygon points="2058.9,186.0 2059.6,188.6 2060.4,191.2 2061.1,193.7 2061.7,196.3 2062.1,198.9 2062.2,201.4 2062.1,204.0 2062.0,206.6 2061.9,209.2 2062.0,211.8 2062.3,214.3 2062.9,216.9 2063.6,219.5 2064.3,222.1 2064.9,224.6 2065.2,227.2 2065.3,229.8 2065.1,232.3 2064.9,234.9 2064.8,237.5 2064.9,240.1 2065.2,242.7 2065.8,245.2 2066.5,247.8 2067.2,250.4 2067.7,252.9 2068.0,255.5 2068.1,258.1 2068.0,260.7 2067.8,263.2 2067.4,265.8 2067.2,268.4 2067.3,271.0 2067.6,273.6 2068.0,276.1 2068.5,278.7 2068.7,281.3 2068.8,283.9 2068.6,286.4 2068.2,289.0 2063.2,290.0 2053.8,290.0 2048.2,289.0 2048.4,286.4 2048.8,283.9 2049.3,281.3 2049.6,278.7 2049.8,276.1 2049.7,273.6 2049.4,271.0 2049.0,268.4 2048.5,265.8 2048.3,263.2 2048.5,260.7 2048.9,258.1 2049.6,255.5 2050.3,252.9 2050.9,250.4 2051.3,247.8 2051.5,245.2 2051.4,242.7 2051.2,240.1 2051.1,237.5 2051.1,234.9 2051.3,232.3 2051.8,229.8 2052.4,227.2 2053.2,224.6 2053.8,222.1 2054.2,219.5 2054.4,216.9 2054.4,214.3 2054.2,211.8 2054.1,209.2 2054.1,206.6 2054.3,204.0 2054.8,201.4 2055.5,198.9 2056.3,196.3 2056.9,193.7 2057.4,191.2 2057.7,188.6 2057.7,186.0" fill="#f6f0ec" stroke="#4e4945" stroke-width="0.9"/><g clip-path="url(#te3)"><path d="M2054.7,192.0 Q2058.5,197.3 2062.3,199.6" stroke="#4e4945" stroke-width="0.8" fill="none"/><ellipse cx="2056.4" cy="199.6" rx="1.7" ry="6.2" fill="#e2dad5" opacity="0.85"/><line x1="2055.8" y1="199.9" x2="2054.3" y2="201.9" stroke="#8a847f" stroke-width="0.5"/><line x1="2056.1" y1="200.3" x2="2054.6" y2="202.3" stroke="#8a847f" stroke-width="0.5"/><line x1="2056.7" y1="196.6" x2="2055.2" y2="198.6" stroke="#8a847f" stroke-width="0.5"/><line x1="2055.3" y1="202.0" x2="2053.8" y2="204.0" stroke="#8a847f" stroke-width="0.5"/><path d="M2053.1,213.5 Q2058.5,211.2 2063.9,205.9" stroke="#4e4945" stroke-width="0.8" fill="none"/><ellipse cx="2061.4" cy="213.5" rx="2.4" ry="6.2" fill="#e2dad5" opacity="0.85"/><line x1="2060.7" y1="211.6" x2="2062.2" y2="213.6" stroke="#8a847f" stroke-width="0.5"/><line x1="2063.0" y1="213.3" x2="2064.5" y2="215.3" stroke="#8a847f" stroke-width="0.5"/><line x1="2062.5" y1="213.3" x2="2064.0" y2="215.3" stroke="#8a847f" stroke-width="0.5"/><line x1="2061.9" y1="211.1" x2="2063.4" y2="213.1" stroke="#8a847f" stroke-width="0.5"/><path d="M2051.7,219.7 Q2058.5,225.0 2065.3,227.3" stroke="#4e4945" stroke-width="0.8" fill="none"/><ellipse cx="2054.7" cy="227.3" rx="3.1" ry="6.2" fill="#e2dad5" opacity="0.85"/><line x1="2055.3" y1="229.9" x2="2053.8" y2="231.9" stroke="#8a847f" stroke-width="0.5"/><line x1="2054.8" y1="229.0" x2="2053.3" y2="231.0" stroke="#8a847f" stroke-width="0.5"/><line x1="2055.4" y1="224.3" x2="2053.9" y2="226.3" stroke="#8a847f" stroke-width="0.5"/><line x1="2055.8" y1="228.0" x2="2054.3" y2="230.0" stroke="#8a847f" stroke-width="0.5"/><path d="M2050.3,241.2 Q2058.5,238.9 2066.7,233.6" stroke="#4e4945" stroke-width="0.8" fill="none"/><ellipse cx="2063.0" cy="241.2" rx="3.7" ry="6.2" fill="#e2dad5" opacity="0.85"/><line x1="2062.1" y1="237.9" x2="2063.6" y2="239.9" stroke="#8a847f" stroke-width="0.5"/><line x1="2064.8" y1="241.0" x2="2066.3" y2="243.0" stroke="#8a847f" stroke-width="0.5"/><line x1="2064.1" y1="243.8" x2="2065.6" y2="245.8" stroke="#8a847f" stroke-width="0.5"/><line x1="2064.1" y1="244.1" x2="2065.6" y2="246.1" stroke="#8a847f" stroke-width="0.5"/><path d="M2048.9,247.4 Q2058.5,252.7 2068.1,255.1" stroke="#4e4945" stroke-width="0.8" fill="none"/><ellipse cx="2053.2" cy="255.1" rx="4.3" ry="6.2" fill="#e2dad5" opacity="0.85"/><line x1="2052.6" y1="257.1" x2="2051.1" y2="259.1" stroke="#8a847f" stroke-width="0.5"/><line x1="2052.9" y1="258.1" x2="2051.4" y2="260.1" stroke="#8a847f" stroke-width="0.5"/><line x1="2055.4" y1="252.3" x2="2053.9" y2="254.3" stroke="#8a847f" stroke-width="0.5"/><line x1="2051.1" y1="253.1" x2="2049.6" y2="255.1" stroke="#8a847f" stroke-width="0.5"/><path d="M2048.0,268.9 Q2058.5,266.6 2069.0,261.3" stroke="#4e4945" stroke-width="0.8" fill="none"/><ellipse cx="2064.3" cy="268.9" rx="4.7" ry="6.2" fill="#e2dad5" opacity="0.85"/><line x1="2067.2" y1="268.5" x2="2068.7" y2="270.5" stroke="#8a847f" stroke-width="0.5"/><line x1="2065.1" y1="267.5" x2="2066.6" y2="269.5" stroke="#8a847f" stroke-width="0.5"/><line x1="2064.3" y1="268.1" x2="2065.8" y2="270.1" stroke="#8a847f" stroke-width="0.5"/><line x1="2063.3" y1="269.5" x2="2064.8" y2="271.5" stroke="#8a847f" stroke-width="0.5"/><path d="M2048.0,275.1 Q2058.5,280.5 2069.0,282.8" stroke="#4e4945" stroke-width="0.8" fill="none"/><ellipse cx="2052.7" cy="282.8" rx="4.7" ry="6.2" fill="#e2dad5" opacity="0.85"/><line x1="2053.3" y1="285.6" x2="2051.8" y2="287.6" stroke="#8a847f" stroke-width="0.5"/><line x1="2053.9" y1="285.7" x2="2052.4" y2="287.7" stroke="#8a847f" stroke-width="0.5"/><line x1="2055.0" y1="286.2" x2="2053.5" y2="288.2" stroke="#8a847f" stroke-width="0.5"/><line x1="2053.8" y1="280.4" x2="2052.3" y2="282.4" stroke="#8a847f" stroke-width="0.5"/></g><polygon points="2058.9,186.0 2059.6,188.6 2060.4,191.2 2061.1,193.7 2061.7,196.3 2062.1,198.9 2062.2,201.4 2062.1,204.0 2062.0,206.6 2061.9,209.2 2062.0,211.8 2062.3,214.3 2062.9,216.9 2063.6,219.5 2064.3,222.1 2064.9,224.6 2065.2,227.2 2065.3,229.8 2065.1,232.3 2064.9,234.9 2064.8,237.5 2064.9,240.1 2065.2,242.7 2065.8,245.2 2066.5,247.8 2067.2,250.4 2067.7,252.9 2068.0,255.5 2068.1,258.1 2068.0,260.7 2067.8,263.2 2067.4,265.8 2067.2,268.4 2067.3,271.0 2067.6,273.6 2068.0,276.1 2068.5,278.7 2068.7,281.3 2068.8,283.9 2068.6,286.4 2068.2,289.0 2063.2,290.0 2053.8,290.0 2048.2,289.0 2048.4,286.4 2048.8,283.9 2049.3,281.3 2049.6,278.7 2049.8,276.1 2049.7,273.6 2049.4,271.0 2049.0,268.4 2048.5,265.8 2048.3,263.2 2048.5,260.7 2048.9,258.1 2049.6,255.5 2050.3,252.9 2050.9,250.4 2051.3,247.8 2051.5,245.2 2051.4,242.7 2051.2,240.1 2051.1,237.5 2051.1,234.9 2051.3,232.3 2051.8,229.8 2052.4,227.2 2053.2,224.6 2053.8,222.1 2054.2,219.5 2054.4,216.9 2054.4,214.3 2054.2,211.8 2054.1,209.2 2054.1,206.6 2054.3,204.0 2054.8,201.4 2055.5,198.9 2056.3,196.3 2056.9,193.7 2057.4,191.2 2057.7,188.6 2057.7,186.0" fill="none" stroke="#4e4945" stroke-width="0.9"/><path d="M2058.5,186 l-1,-2.5 M2058.5,186 l1.5,-3" stroke="#4e4945" stroke-width="0.7"/><path d="M2131,283 Q2130.0,233.5 2129,190" stroke="#4e4945" stroke-width="0.9" fill="none"/><line x1="2129" y1="190" x2="2120.9" y2="189.7" stroke="#4e4945" stroke-width="0.6"/><line x1="2124.2" y1="189.8" x2="2122.3" y2="188.2" stroke="#4e4945" stroke-width="0.4"/><line x1="2129" y1="190" x2="2122.4" y2="187.2" stroke="#4e4945" stroke-width="0.6"/><line x1="2125.1" y1="188.3" x2="2122.6" y2="188.9" stroke="#4e4945" stroke-width="0.4"/><line x1="2129" y1="190" x2="2123.6" y2="184.8" stroke="#4e4945" stroke-width="0.6"/><line x1="2125.8" y1="186.9" x2="2125.6" y2="184.4" stroke="#4e4945" stroke-width="0.4"/><line x1="2129" y1="190" x2="2125.9" y2="182.5" stroke="#4e4945" stroke-width="0.6"/><line x1="2127.1" y1="185.5" x2="2125.0" y2="184.3" stroke="#4e4945" stroke-width="0.4"/><line x1="2129" y1="190" x2="2129.1" y2="180.8" stroke="#4e4945" stroke-width="0.6"/><line x1="2129.1" y1="184.5" x2="2127.5" y2="182.5" stroke="#4e4945" stroke-width="0.4"/><line x1="2129" y1="190" x2="2132.1" y2="184.1" stroke="#4e4945" stroke-width="0.6"/><line x1="2130.9" y1="186.4" x2="2130.2" y2="184.0" stroke="#4e4945" stroke-width="0.4"/><line x1="2129" y1="190" x2="2135.3" y2="185.0" stroke="#4e4945" stroke-width="0.6"/><line x1="2132.8" y1="187.0" x2="2133.1" y2="184.5" stroke="#4e4945" stroke-width="0.4"/><line x1="2129" y1="190" x2="2137.1" y2="187.0" stroke="#4e4945" stroke-width="0.6"/><line x1="2133.9" y1="188.2" x2="2136.3" y2="188.9" stroke="#4e4945" stroke-width="0.4"/><line x1="2129" y1="190" x2="2138.5" y2="189.5" stroke="#4e4945" stroke-width="0.6"/><line x1="2134.7" y1="189.7" x2="2136.7" y2="191.2" stroke="#4e4945" stroke-width="0.4"/><polygon points="2129.3,205.0 2128.8,207.7 2128.4,210.2 2128.1,212.7 2127.7,215.1 2127.4,217.5 2127.1,220.0 2126.9,222.6 2126.6,225.3 2126.9,225.4 2128.6,223.2 2129.9,220.7 2130.8,218.2 2131.3,215.6 2131.5,212.9 2131.2,210.2 2130.6,207.5 2129.6,204.9" fill="#fbf9f6" stroke="#4e4945" stroke-width="0.55"/><line x1="2129.4" y1="205.0" x2="2126.8" y2="225.3" stroke="#4e4945" stroke-width="0.3"/><polygon points="2129.3,205.0 2128.7,207.4 2128.6,209.9 2128.8,212.3 2129.5,214.7 2130.6,216.9 2132.0,218.8 2133.8,220.6 2135.9,222.0 2136.1,221.8 2135.4,219.5 2134.7,217.3 2133.9,215.2 2133.2,213.2 2132.4,211.3 2131.6,209.3 2130.6,207.2 2129.6,204.9" fill="#fbf9f6" stroke="#4e4945" stroke-width="0.55"/><line x1="2129.4" y1="205.0" x2="2136.0" y2="221.9" stroke="#4e4945" stroke-width="0.3"/><polygon points="2129.4,212.0 2128.4,214.2 2127.6,216.3 2126.8,218.3 2126.1,220.2 2125.5,222.2 2124.8,224.2 2124.2,226.4 2123.6,228.7 2123.8,228.9 2125.9,227.5 2127.6,225.7 2128.9,223.7 2129.9,221.5 2130.5,219.2 2130.7,216.8 2130.4,214.4 2129.7,212.0" fill="#fbf9f6" stroke="#4e4945" stroke-width="0.55"/><line x1="2129.6" y1="212.0" x2="2123.7" y2="228.8" stroke="#4e4945" stroke-width="0.3"/><polygon points="2129.4,212.0 2129.4,215.0 2129.6,218.0 2130.0,220.9 2130.7,223.8 2131.5,226.6 2132.6,229.3 2133.9,232.0 2135.4,234.6 2135.7,234.5 2135.4,231.5 2135.0,228.6 2134.5,225.8 2133.8,222.9 2133.0,220.1 2132.1,217.4 2131.0,214.7 2129.7,212.0" fill="#fbf9f6" stroke="#4e4945" stroke-width="0.55"/><line x1="2129.6" y1="212.0" x2="2135.5" y2="234.6" stroke="#4e4945" stroke-width="0.3"/><polygon points="2129.5,218.1 2128.3,220.3 2127.3,222.4 2126.5,224.6 2125.7,226.7 2125.1,228.9 2124.7,231.2 2124.3,233.5 2124.0,236.0 2124.3,236.2 2126.1,234.4 2127.6,232.4 2128.8,230.2 2129.6,227.9 2130.2,225.5 2130.4,223.1 2130.3,220.6 2129.8,218.1" fill="#fbf9f6" stroke="#4e4945" stroke-width="0.55"/><line x1="2129.7" y1="218.1" x2="2124.2" y2="236.1" stroke="#4e4945" stroke-width="0.3"/><polygon points="2129.5,218.1 2128.6,220.1 2128.0,222.3 2127.8,224.5 2128.0,226.7 2128.6,228.8 2129.5,230.9 2130.7,232.7 2132.3,234.4 2132.5,234.3 2132.4,232.0 2132.1,230.0 2131.9,228.0 2131.6,226.1 2131.2,224.2 2130.8,222.3 2130.4,220.3 2129.8,218.1" fill="#fbf9f6" stroke="#4e4945" stroke-width="0.55"/><line x1="2129.7" y1="218.1" x2="2132.4" y2="234.3" stroke="#4e4945" stroke-width="0.3"/><polygon points="2129.7,225.1 2128.8,227.9 2128.1,230.6 2127.4,233.2 2126.6,235.7 2125.9,238.2 2125.2,240.8 2124.4,243.5 2123.6,246.3 2123.9,246.5 2126.1,244.5 2127.9,242.1 2129.4,239.5 2130.4,236.8 2131.0,233.9 2131.1,231.0 2130.8,228.0 2130.0,225.1" fill="#fbf9f6" stroke="#4e4945" stroke-width="0.55"/><line x1="2129.8" y1="225.1" x2="2123.8" y2="246.4" stroke="#4e4945" stroke-width="0.3"/><polygon points="2129.7,225.1 2128.9,227.0 2128.5,229.1 2128.4,231.1 2128.8,233.1 2129.5,235.0 2130.5,236.7 2131.8,238.3 2133.5,239.6 2133.7,239.4 2133.2,237.4 2132.7,235.6 2132.2,233.9 2131.8,232.3 2131.4,230.6 2130.9,228.9 2130.5,227.1 2130.0,225.1" fill="#fbf9f6" stroke="#4e4945" stroke-width="0.55"/><line x1="2129.8" y1="225.1" x2="2133.6" y2="239.5" stroke="#4e4945" stroke-width="0.3"/><polygon points="2129.8,231.2 2129.3,233.8 2128.8,236.3 2128.3,238.7 2127.7,241.0 2127.1,243.3 2126.4,245.7 2125.7,248.1 2124.9,250.7 2125.2,250.8 2127.1,248.9 2128.7,246.7 2130.0,244.3 2130.8,241.8 2131.3,239.2 2131.3,236.5 2130.9,233.8 2130.1,231.1" fill="#fbf9f6" stroke="#4e4945" stroke-width="0.55"/><line x1="2130.0" y1="231.2" x2="2125.0" y2="250.8" stroke="#4e4945" stroke-width="0.3"/><polygon points="2129.8,231.2 2129.0,233.4 2128.6,235.7 2128.6,238.0 2128.9,240.2 2129.6,242.4 2130.6,244.4 2131.9,246.3 2133.6,248.0 2133.9,247.9 2133.8,245.6 2133.6,243.4 2133.2,241.3 2132.8,239.3 2132.3,237.3 2131.7,235.3 2131.0,233.3 2130.1,231.2" fill="#fbf9f6" stroke="#4e4945" stroke-width="0.55"/><line x1="2130.0" y1="231.2" x2="2133.8" y2="247.9" stroke="#4e4945" stroke-width="0.3"/><polygon points="2129.9,237.1 2128.4,239.0 2127.1,241.1 2126.0,243.2 2125.2,245.3 2124.4,247.5 2123.9,249.8 2123.6,252.2 2123.5,254.6 2123.8,254.8 2125.4,252.9 2126.7,250.9 2127.9,248.8 2128.8,246.6 2129.5,244.4 2130.0,242.1 2130.2,239.7 2130.2,237.2" fill="#fbf9f6" stroke="#4e4945" stroke-width="0.55"/><line x1="2130.1" y1="237.2" x2="2123.6" y2="254.7" stroke="#4e4945" stroke-width="0.3"/><polygon points="2129.9,237.2 2129.4,240.2 2129.2,243.3 2129.3,246.3 2129.6,249.3 2130.2,252.3 2131.0,255.2 2132.0,258.1 2133.4,260.9 2133.7,260.8 2133.7,257.7 2133.6,254.7 2133.3,251.8 2133.0,248.8 2132.5,245.9 2131.9,243.0 2131.1,240.1 2130.2,237.1" fill="#fbf9f6" stroke="#4e4945" stroke-width="0.55"/><line x1="2130.1" y1="237.2" x2="2133.5" y2="260.8" stroke="#4e4945" stroke-width="0.3"/><polygon points="2130.1,243.8 2128.9,245.7 2127.9,247.6 2127.0,249.5 2126.2,251.4 2125.5,253.3 2124.9,255.3 2124.3,257.3 2123.9,259.6 2124.2,259.7 2125.9,258.2 2127.3,256.5 2128.5,254.6 2129.4,252.6 2130.1,250.5 2130.5,248.4 2130.6,246.1 2130.4,243.8" fill="#fbf9f6" stroke="#4e4945" stroke-width="0.55"/><line x1="2130.2" y1="243.8" x2="2124.0" y2="259.6" stroke="#4e4945" stroke-width="0.3"/><polygon points="2130.1,243.8 2129.0,246.4 2128.5,249.2 2128.3,251.9 2128.6,254.6 2129.2,257.3 2130.2,259.8 2131.6,262.2 2133.4,264.4 2133.6,264.3 2133.4,261.5 2133.1,259.0 2132.8,256.4 2132.4,254.0 2132.0,251.6 2131.5,249.1 2131.0,246.5 2130.4,243.8" fill="#fbf9f6" stroke="#4e4945" stroke-width="0.55"/><line x1="2130.2" y1="243.8" x2="2133.5" y2="264.4" stroke="#4e4945" stroke-width="0.3"/><polygon points="2130.2,249.3 2129.6,251.3 2129.4,253.3 2129.5,255.3 2129.8,257.2 2130.4,259.1 2131.2,260.9 2132.3,262.5 2133.7,264.1 2134.0,264.0 2134.0,261.9 2133.8,260.0 2133.6,258.2 2133.2,256.4 2132.7,254.6 2132.1,252.9 2131.4,251.1 2130.5,249.3" fill="#fbf9f6" stroke="#4e4945" stroke-width="0.55"/><line x1="2130.3" y1="249.3" x2="2133.8" y2="264.0" stroke="#4e4945" stroke-width="0.3"/><polygon points="2130.3,256.4 2129.1,259.0 2128.0,261.7 2127.1,264.4 2126.4,267.1 2125.8,269.9 2125.3,272.7 2124.9,275.5 2124.8,278.5 2125.1,278.5 2126.6,276.0 2127.8,273.4 2128.8,270.7 2129.6,267.9 2130.2,265.1 2130.5,262.3 2130.7,259.4 2130.6,256.5" fill="#fbf9f6" stroke="#4e4945" stroke-width="0.55"/><line x1="2130.5" y1="256.4" x2="2125.0" y2="278.5" stroke="#4e4945" stroke-width="0.3"/><polygon points="2130.5,263.6 2129.8,266.1 2129.2,268.4 2128.6,270.6 2128.0,272.7 2127.4,274.9 2126.8,277.1 2126.2,279.4 2125.5,281.9 2125.8,282.1 2127.8,280.4 2129.4,278.3 2130.7,276.1 2131.6,273.7 2132.0,271.2 2132.0,268.6 2131.7,266.1 2130.8,263.6" fill="#fbf9f6" stroke="#4e4945" stroke-width="0.55"/><line x1="2130.6" y1="263.6" x2="2125.7" y2="282.0" stroke="#4e4945" stroke-width="0.3"/><polygon points="2130.5,263.6 2129.9,266.0 2129.9,268.4 2130.3,270.8 2131.0,273.0 2132.1,275.1 2133.6,277.0 2135.3,278.7 2137.4,280.0 2137.7,279.8 2136.9,277.5 2136.1,275.4 2135.3,273.4 2134.5,271.5 2133.7,269.6 2132.8,267.7 2131.9,265.7 2130.8,263.5" fill="#fbf9f6" stroke="#4e4945" stroke-width="0.55"/><line x1="2130.6" y1="263.6" x2="2137.5" y2="279.9" stroke="#4e4945" stroke-width="0.3"/><path d="M2138,283 Q2140.0,236.0 2142,195" stroke="#4e4945" stroke-width="0.9" fill="none"/><line x1="2142" y1="195" x2="2131.7" y2="194.5" stroke="#4e4945" stroke-width="0.6"/><line x1="2135.8" y1="194.7" x2="2134.0" y2="193.0" stroke="#4e4945" stroke-width="0.4"/><line x1="2142" y1="195" x2="2133.3" y2="190.8" stroke="#4e4945" stroke-width="0.6"/><line x1="2136.8" y1="192.5" x2="2135.8" y2="190.2" stroke="#4e4945" stroke-width="0.4"/><line x1="2142" y1="195" x2="2136.6" y2="189.5" stroke="#4e4945" stroke-width="0.6"/><line x1="2138.7" y1="191.7" x2="2138.7" y2="189.2" stroke="#4e4945" stroke-width="0.4"/><line x1="2142" y1="195" x2="2137.8" y2="187.5" stroke="#4e4945" stroke-width="0.6"/><line x1="2139.5" y1="190.5" x2="2137.2" y2="189.5" stroke="#4e4945" stroke-width="0.4"/><line x1="2142" y1="195" x2="2141.8" y2="187.1" stroke="#4e4945" stroke-width="0.6"/><line x1="2141.9" y1="190.3" x2="2143.4" y2="188.3" stroke="#4e4945" stroke-width="0.4"/><line x1="2142" y1="195" x2="2144.8" y2="186.8" stroke="#4e4945" stroke-width="0.6"/><line x1="2143.7" y1="190.1" x2="2145.8" y2="188.7" stroke="#4e4945" stroke-width="0.4"/><line x1="2142" y1="195" x2="2146.9" y2="189.6" stroke="#4e4945" stroke-width="0.6"/><line x1="2145.0" y1="191.8" x2="2144.9" y2="189.3" stroke="#4e4945" stroke-width="0.4"/><line x1="2142" y1="195" x2="2148.6" y2="192.0" stroke="#4e4945" stroke-width="0.6"/><line x1="2146.0" y1="193.2" x2="2146.9" y2="190.9" stroke="#4e4945" stroke-width="0.4"/><line x1="2142" y1="195" x2="2151.4" y2="194.6" stroke="#4e4945" stroke-width="0.6"/><line x1="2147.6" y1="194.7" x2="2149.6" y2="196.3" stroke="#4e4945" stroke-width="0.4"/><polygon points="2141.3,203.0 2140.0,205.1 2139.1,207.1 2138.2,209.1 2137.4,211.2 2136.8,213.2 2136.3,215.4 2135.8,217.6 2135.5,220.0 2135.8,220.1 2137.6,218.5 2139.1,216.6 2140.3,214.6 2141.2,212.4 2141.8,210.2 2142.1,207.8 2142.0,205.4 2141.6,203.0" fill="#fbf9f6" stroke="#4e4945" stroke-width="0.55"/><line x1="2141.4" y1="203.0" x2="2135.7" y2="220.0" stroke="#4e4945" stroke-width="0.3"/><polygon points="2141.3,203.0 2140.1,205.7 2139.6,208.6 2139.5,211.4 2139.8,214.2 2140.6,217.0 2141.9,219.5 2143.6,221.9 2145.7,223.9 2146.0,223.8 2145.2,221.0 2144.5,218.4 2143.9,215.9 2143.4,213.5 2142.9,211.0 2142.4,208.5 2142.0,205.9 2141.6,203.0" fill="#fbf9f6" stroke="#4e4945" stroke-width="0.55"/><line x1="2141.4" y1="203.0" x2="2145.9" y2="223.8" stroke="#4e4945" stroke-width="0.3"/><polygon points="2141.0,209.0 2140.6,211.2 2140.5,213.4 2140.8,215.5 2141.3,217.6 2142.2,219.6 2143.3,221.5 2144.7,223.1 2146.4,224.6 2146.7,224.5 2146.3,222.3 2145.8,220.3 2145.3,218.3 2144.7,216.5 2144.0,214.6 2143.2,212.8 2142.4,210.9 2141.3,208.9" fill="#fbf9f6" stroke="#4e4945" stroke-width="0.55"/><line x1="2141.2" y1="209.0" x2="2146.6" y2="224.5" stroke="#4e4945" stroke-width="0.3"/><polygon points="2140.7,215.9 2139.2,217.6 2138.0,219.4 2136.9,221.3 2136.1,223.2 2135.4,225.2 2134.8,227.3 2134.4,229.4 2134.3,231.7 2134.6,231.9 2136.3,230.3 2137.7,228.6 2138.9,226.7 2139.8,224.7 2140.5,222.7 2141.0,220.5 2141.2,218.3 2141.0,215.9" fill="#fbf9f6" stroke="#4e4945" stroke-width="0.55"/><line x1="2140.9" y1="215.9" x2="2134.4" y2="231.8" stroke="#4e4945" stroke-width="0.3"/><polygon points="2140.5,221.4 2139.1,223.5 2138.0,225.6 2137.0,227.7 2136.1,229.9 2135.3,232.1 2134.7,234.4 2134.2,236.7 2133.8,239.2 2134.1,239.3 2135.8,237.5 2137.3,235.5 2138.5,233.4 2139.5,231.2 2140.2,228.8 2140.7,226.4 2140.9,224.0 2140.8,221.5" fill="#fbf9f6" stroke="#4e4945" stroke-width="0.55"/><line x1="2140.6" y1="221.4" x2="2133.9" y2="239.3" stroke="#4e4945" stroke-width="0.3"/><polygon points="2140.2,227.8 2139.8,230.2 2139.8,232.5 2140.1,234.8 2140.7,237.0 2141.5,239.1 2142.6,241.1 2144.0,242.9 2145.7,244.6 2146.0,244.5 2145.7,242.1 2145.2,240.0 2144.7,237.9 2144.1,235.8 2143.4,233.8 2142.5,231.9 2141.6,229.8 2140.5,227.8" fill="#fbf9f6" stroke="#4e4945" stroke-width="0.55"/><line x1="2140.3" y1="227.8" x2="2145.9" y2="244.5" stroke="#4e4945" stroke-width="0.3"/><polygon points="2139.9,234.6 2139.7,237.1 2139.8,239.5 2140.2,241.9 2140.9,244.2 2141.9,246.5 2143.1,248.6 2144.5,250.5 2146.3,252.3 2146.6,252.2 2146.2,249.7 2145.6,247.4 2145.0,245.2 2144.3,243.0 2143.5,240.9 2142.5,238.8 2141.5,236.7 2140.2,234.6" fill="#fbf9f6" stroke="#4e4945" stroke-width="0.55"/><line x1="2140.1" y1="234.6" x2="2146.4" y2="252.2" stroke="#4e4945" stroke-width="0.3"/><polygon points="2139.6,241.1 2139.3,244.2 2139.2,247.2 2139.4,250.3 2139.9,253.3 2140.6,256.2 2141.6,259.0 2142.8,261.8 2144.4,264.6 2144.7,264.5 2144.8,261.4 2144.6,258.4 2144.3,255.4 2143.8,252.5 2143.1,249.6 2142.3,246.7 2141.2,243.9 2139.9,241.1" fill="#fbf9f6" stroke="#4e4945" stroke-width="0.55"/><line x1="2139.8" y1="241.1" x2="2144.5" y2="264.5" stroke="#4e4945" stroke-width="0.3"/><polygon points="2139.3,248.1 2138.3,250.4 2137.4,252.6 2136.6,254.7 2135.8,256.8 2135.0,258.8 2134.2,261.0 2133.5,263.2 2132.7,265.6 2133.0,265.8 2135.0,264.2 2136.7,262.4 2138.1,260.3 2139.2,258.1 2139.9,255.7 2140.2,253.2 2140.1,250.7 2139.6,248.2" fill="#fbf9f6" stroke="#4e4945" stroke-width="0.55"/><line x1="2139.5" y1="248.2" x2="2132.9" y2="265.7" stroke="#4e4945" stroke-width="0.3"/><polygon points="2139.3,248.2 2138.6,250.3 2138.2,252.5 2138.1,254.6 2138.4,256.8 2138.9,258.8 2139.8,260.8 2141.0,262.7 2142.5,264.3 2142.8,264.2 2142.9,262.0 2142.8,259.9 2142.6,257.9 2142.2,256.0 2141.8,254.1 2141.2,252.2 2140.5,250.2 2139.6,248.2" fill="#fbf9f6" stroke="#4e4945" stroke-width="0.55"/><line x1="2139.5" y1="248.2" x2="2142.7" y2="264.3" stroke="#4e4945" stroke-width="0.3"/><polygon points="2139.1,253.6 2138.0,255.8 2137.2,257.9 2136.6,260.1 2136.1,262.2 2135.7,264.5 2135.6,266.7 2135.6,269.0 2135.8,271.4 2136.1,271.5 2137.4,269.4 2138.4,267.3 2139.2,265.2 2139.7,262.9 2140.0,260.7 2140.1,258.4 2139.9,256.0 2139.4,253.7" fill="#fbf9f6" stroke="#4e4945" stroke-width="0.55"/><line x1="2139.2" y1="253.7" x2="2135.9" y2="271.4" stroke="#4e4945" stroke-width="0.3"/><polygon points="2139.1,253.7 2138.5,256.3 2138.2,258.9 2138.3,261.5 2138.8,264.1 2139.6,266.5 2140.7,268.9 2142.1,271.1 2143.8,273.1 2144.1,273.0 2143.7,270.4 2143.3,267.9 2142.8,265.6 2142.3,263.2 2141.7,260.9 2141.0,258.5 2140.3,256.1 2139.4,253.6" fill="#fbf9f6" stroke="#4e4945" stroke-width="0.55"/><line x1="2139.2" y1="253.7" x2="2144.0" y2="273.1" stroke="#4e4945" stroke-width="0.3"/><polygon points="2138.9,259.5 2138.4,261.6 2138.3,263.6 2138.3,265.7 2138.6,267.7 2139.0,269.6 2139.6,271.5 2140.5,273.4 2141.6,275.3 2141.8,275.2 2142.2,273.1 2142.4,271.1 2142.3,269.0 2142.1,267.1 2141.6,265.1 2141.0,263.2 2140.2,261.3 2139.2,259.4" fill="#fbf9f6" stroke="#4e4945" stroke-width="0.55"/><line x1="2139.0" y1="259.4" x2="2141.7" y2="275.3" stroke="#4e4945" stroke-width="0.3"/><polygon points="2138.6,265.8 2137.8,267.9 2137.1,269.9 2136.5,271.9 2136.0,273.7 2135.5,275.6 2135.1,277.6 2134.7,279.7 2134.3,281.9 2134.6,282.1 2136.4,280.6 2137.8,278.8 2138.9,276.8 2139.7,274.7 2140.1,272.5 2140.1,270.3 2139.7,268.0 2138.9,265.8" fill="#fbf9f6" stroke="#4e4945" stroke-width="0.55"/><line x1="2138.7" y1="265.8" x2="2134.4" y2="282.0" stroke="#4e4945" stroke-width="0.3"/><polygon points="2138.6,265.8 2138.4,268.2 2138.5,270.5 2139.0,272.7 2139.7,274.9 2140.8,276.9 2142.0,278.8 2143.6,280.6 2145.4,282.1 2145.6,281.9 2145.0,279.7 2144.2,277.6 2143.5,275.6 2142.7,273.6 2141.9,271.7 2141.0,269.8 2140.0,267.8 2138.9,265.8" fill="#fbf9f6" stroke="#4e4945" stroke-width="0.55"/><line x1="2138.7" y1="265.8" x2="2145.5" y2="282.0" stroke="#4e4945" stroke-width="0.3"/><path d="M2144,283 Q2149.0,238.5 2154,200" stroke="#4e4945" stroke-width="0.9" fill="none"/><line x1="2154" y1="200" x2="2144.8" y2="199.4" stroke="#4e4945" stroke-width="0.6"/><line x1="2148.5" y1="199.6" x2="2146.5" y2="201.1" stroke="#4e4945" stroke-width="0.4"/><line x1="2154" y1="200" x2="2144.8" y2="197.0" stroke="#4e4945" stroke-width="0.6"/><line x1="2148.5" y1="198.2" x2="2147.3" y2="196.1" stroke="#4e4945" stroke-width="0.4"/><line x1="2154" y1="200" x2="2147.7" y2="193.2" stroke="#4e4945" stroke-width="0.6"/><line x1="2150.2" y1="195.9" x2="2150.2" y2="193.4" stroke="#4e4945" stroke-width="0.4"/><line x1="2154" y1="200" x2="2150.2" y2="193.3" stroke="#4e4945" stroke-width="0.6"/><line x1="2151.7" y1="196.0" x2="2152.3" y2="193.6" stroke="#4e4945" stroke-width="0.4"/><line x1="2154" y1="200" x2="2153.5" y2="191.9" stroke="#4e4945" stroke-width="0.6"/><line x1="2153.7" y1="195.1" x2="2155.2" y2="193.1" stroke="#4e4945" stroke-width="0.4"/><line x1="2154" y1="200" x2="2157.9" y2="192.3" stroke="#4e4945" stroke-width="0.6"/><line x1="2156.4" y1="195.4" x2="2158.6" y2="194.3" stroke="#4e4945" stroke-width="0.4"/><line x1="2154" y1="200" x2="2160.7" y2="193.2" stroke="#4e4945" stroke-width="0.6"/><line x1="2158.0" y1="195.9" x2="2158.0" y2="193.4" stroke="#4e4945" stroke-width="0.4"/><line x1="2154" y1="200" x2="2162.9" y2="195.7" stroke="#4e4945" stroke-width="0.6"/><line x1="2159.4" y1="197.4" x2="2161.8" y2="197.9" stroke="#4e4945" stroke-width="0.4"/><line x1="2154" y1="200" x2="2164.3" y2="199.5" stroke="#4e4945" stroke-width="0.6"/><line x1="2160.2" y1="199.7" x2="2162.2" y2="201.2" stroke="#4e4945" stroke-width="0.4"/><polygon points="2152.3,208.0 2151.5,210.9 2150.8,213.7 2150.1,216.4 2149.4,219.1 2148.6,221.8 2147.8,224.5 2146.9,227.2 2146.1,230.1 2146.3,230.3 2148.4,228.0 2150.1,225.5 2151.5,222.8 2152.5,220.0 2153.1,217.0 2153.3,214.0 2153.2,211.0 2152.6,208.0" fill="#fbf9f6" stroke="#4e4945" stroke-width="0.55"/><line x1="2152.4" y1="208.0" x2="2146.2" y2="230.2" stroke="#4e4945" stroke-width="0.3"/><polygon points="2151.5,214.8 2150.9,216.9 2150.4,218.9 2149.8,220.9 2149.3,222.7 2148.8,224.6 2148.3,226.6 2147.7,228.6 2147.2,230.8 2147.4,230.9 2149.2,229.4 2150.6,227.7 2151.8,225.7 2152.5,223.6 2152.9,221.4 2153.0,219.2 2152.6,216.9 2151.8,214.7" fill="#fbf9f6" stroke="#4e4945" stroke-width="0.55"/><line x1="2151.7" y1="214.7" x2="2147.3" y2="230.9" stroke="#4e4945" stroke-width="0.3"/><polygon points="2151.5,214.8 2151.1,217.0 2151.1,219.1 2151.4,221.2 2152.1,223.3 2153.0,225.2 2154.2,226.9 2155.7,228.5 2157.5,229.8 2157.8,229.6 2157.3,227.5 2156.7,225.6 2156.1,223.7 2155.4,221.9 2154.7,220.2 2153.8,218.4 2152.9,216.6 2151.8,214.7" fill="#fbf9f6" stroke="#4e4945" stroke-width="0.55"/><line x1="2151.7" y1="214.7" x2="2157.6" y2="229.7" stroke="#4e4945" stroke-width="0.3"/><polygon points="2150.9,220.6 2149.6,222.5 2148.6,224.3 2147.7,226.2 2147.0,228.2 2146.5,230.2 2146.1,232.2 2145.9,234.4 2145.9,236.6 2146.1,236.7 2147.5,234.9 2148.6,233.1 2149.6,231.2 2150.3,229.2 2150.8,227.2 2151.2,225.1 2151.3,222.9 2151.1,220.7" fill="#fbf9f6" stroke="#4e4945" stroke-width="0.55"/><line x1="2151.0" y1="220.7" x2="2146.0" y2="236.6" stroke="#4e4945" stroke-width="0.3"/><polygon points="2150.3,226.0 2149.8,228.4 2149.4,230.7 2149.1,232.8 2148.8,235.0 2148.5,237.1 2148.2,239.3 2147.9,241.6 2147.7,244.0 2148.0,244.1 2149.6,242.2 2150.8,240.1 2151.6,237.8 2152.1,235.4 2152.3,233.0 2152.1,230.6 2151.5,228.3 2150.6,226.0" fill="#fbf9f6" stroke="#4e4945" stroke-width="0.55"/><line x1="2150.4" y1="226.0" x2="2147.9" y2="244.1" stroke="#4e4945" stroke-width="0.3"/><polygon points="2150.3,226.0 2149.6,228.2 2149.5,230.3 2149.6,232.5 2150.2,234.6 2151.1,236.5 2152.4,238.3 2154.0,239.8 2155.9,241.0 2156.1,240.8 2155.4,238.7 2154.8,236.9 2154.2,235.1 2153.6,233.3 2152.9,231.6 2152.2,229.8 2151.4,228.0 2150.6,226.0" fill="#fbf9f6" stroke="#4e4945" stroke-width="0.55"/><line x1="2150.4" y1="226.0" x2="2156.0" y2="240.9" stroke="#4e4945" stroke-width="0.3"/><polygon points="2149.7,231.2 2148.8,234.1 2148.1,236.9 2147.5,239.7 2146.9,242.5 2146.3,245.3 2145.8,248.1 2145.3,250.9 2145.0,253.9 2145.2,254.0 2146.9,251.5 2148.2,248.8 2149.2,246.0 2149.9,243.1 2150.4,240.2 2150.6,237.2 2150.5,234.2 2150.0,231.2" fill="#fbf9f6" stroke="#4e4945" stroke-width="0.55"/><line x1="2149.8" y1="231.2" x2="2145.1" y2="253.9" stroke="#4e4945" stroke-width="0.3"/><polygon points="2148.4,242.4 2147.6,245.3 2147.2,248.3 2147.2,251.3 2147.6,254.2 2148.4,257.0 2149.6,259.7 2151.1,262.3 2153.0,264.7 2153.3,264.5 2152.7,261.6 2152.1,258.8 2151.6,256.1 2151.0,253.5 2150.5,250.8 2149.9,248.1 2149.4,245.3 2148.7,242.4" fill="#fbf9f6" stroke="#4e4945" stroke-width="0.55"/><line x1="2148.6" y1="242.4" x2="2153.2" y2="264.6" stroke="#4e4945" stroke-width="0.3"/><polygon points="2147.8,247.8 2146.7,250.7 2146.1,253.7 2146.0,256.7 2146.4,259.7 2147.3,262.5 2148.6,265.2 2150.4,267.7 2152.6,269.8 2152.9,269.7 2152.1,266.7 2151.4,264.0 2150.7,261.4 2150.2,258.8 2149.6,256.3 2149.1,253.6 2148.6,250.9 2148.1,247.9" fill="#fbf9f6" stroke="#4e4945" stroke-width="0.55"/><line x1="2147.9" y1="247.9" x2="2152.7" y2="269.7" stroke="#4e4945" stroke-width="0.3"/><polygon points="2146.0,264.3 2145.1,266.6 2144.3,268.7 2143.6,270.9 2143.0,273.0 2142.4,275.1 2141.8,277.3 2141.3,279.5 2140.9,281.9 2141.1,282.1 2142.9,280.3 2144.3,278.3 2145.5,276.2 2146.3,273.9 2146.8,271.6 2147.0,269.2 2146.8,266.7 2146.3,264.3" fill="#fbf9f6" stroke="#4e4945" stroke-width="0.55"/><line x1="2146.1" y1="264.3" x2="2141.0" y2="282.0" stroke="#4e4945" stroke-width="0.3"/><polygon points="2146.0,264.3 2145.4,266.8 2145.3,269.3 2145.6,271.8 2146.2,274.2 2147.2,276.5 2148.6,278.6 2150.3,280.5 2152.3,282.1 2152.5,281.9 2151.6,279.6 2150.8,277.4 2150.0,275.2 2149.2,273.2 2148.5,271.1 2147.8,268.9 2147.0,266.7 2146.3,264.3" fill="#fbf9f6" stroke="#4e4945" stroke-width="0.55"/><line x1="2146.1" y1="264.3" x2="2152.4" y2="282.0" stroke="#4e4945" stroke-width="0.3"/><polygon points="2154.9,212.1 2155.6,213.9 2156.4,215.6 2157.0,217.3 2157.6,218.9 2158.2,220.6 2158.7,222.2 2159.2,223.8 2159.7,225.4 2160.1,227.1 2160.5,228.7 2160.9,230.5 2161.2,232.2 2161.5,234.1 2161.9,236.0 2162.1,236.0 2162.8,234.1 2163.1,232.2 2163.4,230.3 2163.4,228.4 2163.3,226.5 2163.0,224.6 2162.6,222.8 2162.0,221.0 2161.2,219.3 2160.3,217.6 2159.2,216.1 2158.0,214.6 2156.7,213.2 2155.1,211.9" fill="#faf7f4" stroke="#4e4945" stroke-width="0.6"/><clipPath id="te4"><polygon points="2183.5,186.0 2184.2,188.6 2185.0,191.2 2185.7,193.8 2186.4,196.4 2186.7,199.0 2186.9,201.6 2186.8,204.2 2186.6,206.8 2186.5,209.4 2186.7,212.0 2187.1,214.6 2187.7,217.2 2188.4,219.8 2189.1,222.4 2189.7,225.0 2190.0,227.6 2190.0,230.2 2189.9,232.8 2189.7,235.4 2189.6,238.0 2189.8,240.6 2190.2,243.2 2190.8,245.8 2191.5,248.4 2192.2,251.0 2192.7,253.6 2193.0,256.2 2193.0,258.8 2192.8,261.4 2192.6,264.0 2192.3,266.6 2192.2,269.2 2192.4,271.8 2192.7,274.4 2193.2,277.0 2193.6,279.6 2193.8,282.2 2193.7,284.8 2193.5,287.4 2193.0,290.0 2188.0,291.0 2178.0,291.0 2172.2,290.0 2172.3,287.4 2172.6,284.8 2173.1,282.2 2173.5,279.6 2173.8,277.0 2173.8,274.4 2173.5,271.8 2173.1,269.2 2172.7,266.6 2172.3,264.0 2172.5,261.4 2172.9,258.8 2173.5,256.2 2174.2,253.6 2174.9,251.0 2175.4,248.4 2175.6,245.8 2175.6,243.2 2175.5,240.6 2175.3,238.0 2175.3,235.4 2175.4,232.8 2175.9,230.2 2176.6,227.6 2177.3,225.0 2178.0,222.4 2178.4,219.8 2178.7,217.2 2178.7,214.6 2178.5,212.0 2178.4,209.4 2178.4,206.8 2178.6,204.2 2179.1,201.6 2179.9,199.0 2180.6,196.4 2181.3,193.8 2181.8,191.2 2182.1,188.6 2182.2,186.0"/></clipPath><polygon points="2183.5,186.0 2184.2,188.6 2185.0,191.2 2185.7,193.8 2186.4,196.4 2186.7,199.0 2186.9,201.6 2186.8,204.2 2186.6,206.8 2186.5,209.4 2186.7,212.0 2187.1,214.6 2187.7,217.2 2188.4,219.8 2189.1,222.4 2189.7,225.0 2190.0,227.6 2190.0,230.2 2189.9,232.8 2189.7,235.4 2189.6,238.0 2189.8,240.6 2190.2,243.2 2190.8,245.8 2191.5,248.4 2192.2,251.0 2192.7,253.6 2193.0,256.2 2193.0,258.8 2192.8,261.4 2192.6,264.0 2192.3,266.6 2192.2,269.2 2192.4,271.8 2192.7,274.4 2193.2,277.0 2193.6,279.6 2193.8,282.2 2193.7,284.8 2193.5,287.4 2193.0,290.0 2188.0,291.0 2178.0,291.0 2172.2,290.0 2172.3,287.4 2172.6,284.8 2173.1,282.2 2173.5,279.6 2173.8,277.0 2173.8,274.4 2173.5,271.8 2173.1,269.2 2172.7,266.6 2172.3,264.0 2172.5,261.4 2172.9,258.8 2173.5,256.2 2174.2,253.6 2174.9,251.0 2175.4,248.4 2175.6,245.8 2175.6,243.2 2175.5,240.6 2175.3,238.0 2175.3,235.4 2175.4,232.8 2175.9,230.2 2176.6,227.6 2177.3,225.0 2178.0,222.4 2178.4,219.8 2178.7,217.2 2178.7,214.6 2178.5,212.0 2178.4,209.4 2178.4,206.8 2178.6,204.2 2179.1,201.6 2179.9,199.0 2180.6,196.4 2181.3,193.8 2181.8,191.2 2182.1,188.6 2182.2,186.0" fill="#c9c4c0" stroke="#4e4945" stroke-width="0.9"/><g clip-path="url(#te4)"><path d="M2179.0,192.0 Q2183.0,197.3 2187.0,199.7" stroke="#4e4945" stroke-width="0.8" fill="none"/><ellipse cx="2180.8" cy="199.7" rx="1.8" ry="6.3" fill="#7f7a76" opacity="0.85"/><line x1="2180.2" y1="196.9" x2="2178.7" y2="198.9" stroke="#555" stroke-width="0.5"/><line x1="2180.6" y1="197.3" x2="2179.1" y2="199.3" stroke="#555" stroke-width="0.5"/><line x1="2179.8" y1="199.0" x2="2178.3" y2="201.0" stroke="#555" stroke-width="0.5"/><line x1="2181.8" y1="201.8" x2="2180.3" y2="203.8" stroke="#555" stroke-width="0.5"/><path d="M2177.4,213.7 Q2183.0,211.3 2188.6,206.0" stroke="#4e4945" stroke-width="0.8" fill="none"/><ellipse cx="2186.1" cy="213.7" rx="2.5" ry="6.3" fill="#7f7a76" opacity="0.85"/><line x1="2187.0" y1="211.8" x2="2188.5" y2="213.8" stroke="#555" stroke-width="0.5"/><line x1="2186.2" y1="212.1" x2="2187.7" y2="214.1" stroke="#555" stroke-width="0.5"/><line x1="2185.0" y1="210.9" x2="2186.5" y2="212.9" stroke="#555" stroke-width="0.5"/><line x1="2185.1" y1="216.7" x2="2186.6" y2="218.7" stroke="#555" stroke-width="0.5"/><path d="M2175.9,220.0 Q2183.0,225.3 2190.1,227.7" stroke="#4e4945" stroke-width="0.8" fill="none"/><ellipse cx="2179.1" cy="227.7" rx="3.2" ry="6.3" fill="#7f7a76" opacity="0.85"/><line x1="2180.5" y1="229.8" x2="2179.0" y2="231.8" stroke="#555" stroke-width="0.5"/><line x1="2180.4" y1="225.6" x2="2178.9" y2="227.6" stroke="#555" stroke-width="0.5"/><line x1="2178.3" y1="228.6" x2="2176.8" y2="230.6" stroke="#555" stroke-width="0.5"/><line x1="2180.1" y1="230.2" x2="2178.6" y2="232.2" stroke="#555" stroke-width="0.5"/><path d="M2174.4,241.7 Q2183.0,239.3 2191.6,234.0" stroke="#4e4945" stroke-width="0.8" fill="none"/><ellipse cx="2187.7" cy="241.7" rx="3.9" ry="6.3" fill="#7f7a76" opacity="0.85"/><line x1="2189.7" y1="238.8" x2="2191.2" y2="240.8" stroke="#555" stroke-width="0.5"/><line x1="2188.3" y1="242.9" x2="2189.8" y2="244.9" stroke="#555" stroke-width="0.5"/><line x1="2187.8" y1="239.4" x2="2189.3" y2="241.4" stroke="#555" stroke-width="0.5"/><line x1="2187.6" y1="238.8" x2="2189.1" y2="240.8" stroke="#555" stroke-width="0.5"/><path d="M2172.9,248.0 Q2183.0,253.3 2193.1,255.7" stroke="#4e4945" stroke-width="0.8" fill="none"/><ellipse cx="2177.5" cy="255.7" rx="4.5" ry="6.3" fill="#7f7a76" opacity="0.85"/><line x1="2180.1" y1="258.3" x2="2178.6" y2="260.3" stroke="#555" stroke-width="0.5"/><line x1="2177.7" y1="254.3" x2="2176.2" y2="256.3" stroke="#555" stroke-width="0.5"/><line x1="2179.9" y1="256.2" x2="2178.4" y2="258.2" stroke="#555" stroke-width="0.5"/><line x1="2179.8" y1="258.1" x2="2178.3" y2="260.1" stroke="#555" stroke-width="0.5"/><path d="M2172.0,269.7 Q2183.0,267.4 2194.0,262.0" stroke="#4e4945" stroke-width="0.8" fill="none"/><ellipse cx="2189.1" cy="269.7" rx="5.0" ry="6.3" fill="#7f7a76" opacity="0.85"/><line x1="2189.1" y1="269.1" x2="2190.6" y2="271.1" stroke="#555" stroke-width="0.5"/><line x1="2189.7" y1="269.2" x2="2191.2" y2="271.2" stroke="#555" stroke-width="0.5"/><line x1="2186.8" y1="268.3" x2="2188.3" y2="270.3" stroke="#555" stroke-width="0.5"/><line x1="2191.1" y1="266.5" x2="2192.6" y2="268.5" stroke="#555" stroke-width="0.5"/><path d="M2172.0,276.0 Q2183.0,281.4 2194.0,283.7" stroke="#4e4945" stroke-width="0.8" fill="none"/><ellipse cx="2176.9" cy="283.7" rx="5.0" ry="6.3" fill="#7f7a76" opacity="0.85"/><line x1="2174.0" y1="284.6" x2="2172.5" y2="286.6" stroke="#555" stroke-width="0.5"/><line x1="2175.5" y1="283.9" x2="2174.0" y2="285.9" stroke="#555" stroke-width="0.5"/><line x1="2176.8" y1="282.6" x2="2175.3" y2="284.6" stroke="#555" stroke-width="0.5"/><line x1="2180.2" y1="281.6" x2="2178.7" y2="283.6" stroke="#555" stroke-width="0.5"/></g><polygon points="2183.5,186.0 2184.2,188.6 2185.0,191.2 2185.7,193.8 2186.4,196.4 2186.7,199.0 2186.9,201.6 2186.8,204.2 2186.6,206.8 2186.5,209.4 2186.7,212.0 2187.1,214.6 2187.7,217.2 2188.4,219.8 2189.1,222.4 2189.7,225.0 2190.0,227.6 2190.0,230.2 2189.9,232.8 2189.7,235.4 2189.6,238.0 2189.8,240.6 2190.2,243.2 2190.8,245.8 2191.5,248.4 2192.2,251.0 2192.7,253.6 2193.0,256.2 2193.0,258.8 2192.8,261.4 2192.6,264.0 2192.3,266.6 2192.2,269.2 2192.4,271.8 2192.7,274.4 2193.2,277.0 2193.6,279.6 2193.8,282.2 2193.7,284.8 2193.5,287.4 2193.0,290.0 2188.0,291.0 2178.0,291.0 2172.2,290.0 2172.3,287.4 2172.6,284.8 2173.1,282.2 2173.5,279.6 2173.8,277.0 2173.8,274.4 2173.5,271.8 2173.1,269.2 2172.7,266.6 2172.3,264.0 2172.5,261.4 2172.9,258.8 2173.5,256.2 2174.2,253.6 2174.9,251.0 2175.4,248.4 2175.6,245.8 2175.6,243.2 2175.5,240.6 2175.3,238.0 2175.3,235.4 2175.4,232.8 2175.9,230.2 2176.6,227.6 2177.3,225.0 2178.0,222.4 2178.4,219.8 2178.7,217.2 2178.7,214.6 2178.5,212.0 2178.4,209.4 2178.4,206.8 2178.6,204.2 2179.1,201.6 2179.9,199.0 2180.6,196.4 2181.3,193.8 2181.8,191.2 2182.1,188.6 2182.2,186.0" fill="none" stroke="#4e4945" stroke-width="0.9"/><path d="M2183.0,186 l-1,-2.5 M2183.0,186 l1.5,-3" stroke="#4e4945" stroke-width="0.7"/><path d="M2270.1,288 L2270.5,192 M2272.9,288 L2272.5,192" stroke="#4e4945" stroke-width="0.7" fill="none"/><rect x="2270.6" y="192" width="1.8" height="96" fill="#faf7f4"/><line x1="2269.9" y1="215" x2="2273.1" y2="215" stroke="#4e4945" stroke-width="0.6"/><line x1="2269.9" y1="240" x2="2273.1" y2="240" stroke="#4e4945" stroke-width="0.6"/><line x1="2269.9" y1="262" x2="2273.1" y2="262" stroke="#4e4945" stroke-width="0.6"/><line x1="2269.9" y1="280" x2="2273.1" y2="280" stroke="#4e4945" stroke-width="0.6"/><path d="M2271.5,189 q-4.9,-2.3 -9.7,-0.1" stroke="#4e4945" stroke-width="0.6" fill="none"/><path d="M2271.5,189 q-4.1,-4.4 -8.2,-1.9" stroke="#4e4945" stroke-width="0.6" fill="none"/><path d="M2271.5,189 q-2.2,-5.0 -4.4,-2.4" stroke="#4e4945" stroke-width="0.6" fill="none"/><path d="M2271.5,189 q-0.8,-5.7 -1.5,-2.9" stroke="#4e4945" stroke-width="0.6" fill="none"/><path d="M2271.5,189 q0.8,-5.7 1.5,-2.9" stroke="#4e4945" stroke-width="0.6" fill="none"/><path d="M2271.5,189 q2.2,-5.0 4.4,-2.4" stroke="#4e4945" stroke-width="0.6" fill="none"/><path d="M2271.5,189 q4.1,-4.4 8.2,-1.9" stroke="#4e4945" stroke-width="0.6" fill="none"/><path d="M2271.5,189 q4.9,-2.3 9.7,-0.1" stroke="#4e4945" stroke-width="0.6" fill="none"/><polygon points="2272.5,190.8 2271.3,189.9 2269.8,189.3 2268.2,189.2 2266.6,189.4 2265.0,190.1 2263.5,191.1 2262.1,192.4 2260.8,194.1 2259.5,196.0 2258.4,198.3 2257.2,200.8 2256.2,203.6 2255.2,206.7 2254.4,210.1 2254.7,210.3 2256.4,207.2 2258.0,204.4 2259.4,201.9 2260.8,199.7 2262.2,197.7 2263.4,196.1 2264.6,194.8 2265.7,193.8 2266.7,193.0 2267.7,192.5 2268.6,192.2 2269.5,192.0 2270.5,192.0 2271.8,192.3" fill="#faf7f4" stroke="#4e4945" stroke-width="0.6"/><path d="M2272.2,191.6 L2270.9,191.0 L2269.6,190.7 L2268.4,190.7 L2267.1,191.0 L2265.9,191.6 L2264.6,192.5 L2263.4,193.6 L2262.1,195.1 L2260.8,196.9 L2259.6,199.0 L2258.3,201.3 L2257.1,204.0 L2255.8,206.9 L2254.6,210.2" stroke="#4e4945" stroke-width="0.35" fill="none"/><polygon points="2272.4,190.8 2271.3,190.2 2270.0,190.1 2268.6,190.5 2267.3,191.3 2266.1,192.4 2265.0,193.9 2264.0,195.7 2263.0,197.9 2262.1,200.3 2261.3,203.1 2260.5,206.2 2259.7,209.6 2259.0,213.3 2258.6,217.4 2258.8,217.5 2260.3,213.6 2261.5,210.1 2262.7,206.8 2263.8,203.9 2264.9,201.4 2265.9,199.1 2266.9,197.2 2267.8,195.7 2268.6,194.5 2269.4,193.6 2270.0,193.0 2270.5,192.6 2271.1,192.3 2271.9,192.3" fill="#faf7f4" stroke="#4e4945" stroke-width="0.6"/><path d="M2272.2,191.6 L2271.2,191.3 L2270.2,191.3 L2269.3,191.7 L2268.3,192.4 L2267.4,193.4 L2266.4,194.8 L2265.4,196.5 L2264.5,198.5 L2263.5,200.8 L2262.5,203.5 L2261.6,206.5 L2260.6,209.8 L2259.7,213.5 L2258.7,217.4" stroke="#4e4945" stroke-width="0.35" fill="none"/><polygon points="2273.6,192.3 2274.7,192.0 2275.7,192.0 2276.4,192.2 2277.2,192.6 2278.0,193.1 2278.9,193.9 2279.9,195.0 2281.0,196.4 2282.2,198.1 2283.5,200.1 2284.8,202.5 2286.1,205.1 2287.6,208.1 2289.2,211.3 2289.5,211.2 2288.8,207.6 2288.0,204.4 2287.0,201.5 2286.0,198.9 2284.9,196.5 2283.8,194.5 2282.6,192.8 2281.3,191.4 2279.9,190.3 2278.4,189.5 2276.9,189.2 2275.4,189.4 2274.0,189.9 2272.8,190.8" fill="#faf7f4" stroke="#4e4945" stroke-width="0.6"/><path d="M2273.2,191.6 L2274.4,191.0 L2275.5,190.7 L2276.7,190.7 L2277.8,191.1 L2279.0,191.7 L2280.1,192.6 L2281.3,193.9 L2282.4,195.5 L2283.6,197.3 L2284.7,199.5 L2285.9,202.0 L2287.0,204.7 L2288.2,207.8 L2289.3,211.2" stroke="#4e4945" stroke-width="0.35" fill="none"/><polygon points="2273.1,194.4 2273.6,194.4 2273.9,194.6 2274.1,194.8 2274.3,195.0 2274.6,195.2 2274.9,195.5 2275.3,196.0 2275.9,196.6 2276.4,197.3 2277.1,198.2 2277.7,199.2 2278.5,200.3 2279.3,201.6 2280.3,203.0 2280.6,202.9 2280.5,201.2 2280.2,199.6 2279.9,198.2 2279.5,196.9 2279.0,195.8 2278.5,194.8 2277.9,193.9 2277.2,193.1 2276.5,192.6 2275.6,192.1 2274.7,192.0 2273.8,192.0 2273.0,192.4 2272.5,192.9" fill="#faf7f4" stroke="#4e4945" stroke-width="0.6"/><path d="M2272.8,193.6 L2273.3,193.4 L2273.9,193.3 L2274.4,193.4 L2275.0,193.5 L2275.5,193.9 L2276.1,194.3 L2276.6,194.9 L2277.2,195.7 L2277.7,196.5 L2278.3,197.5 L2278.8,198.7 L2279.3,200.0 L2279.9,201.4 L2280.4,203.0" stroke="#4e4945" stroke-width="0.35" fill="none"/><polygon points="2272.3,193.9 2271.8,193.5 2270.9,193.5 2270.1,193.9 2269.5,194.4 2268.9,195.1 2268.4,195.9 2268.0,196.9 2267.7,198.1 2267.4,199.3 2267.2,200.8 2267.0,202.4 2266.8,204.1 2266.7,206.0 2266.8,208.1 2267.1,208.2 2268.0,206.3 2268.6,204.5 2269.2,202.9 2269.8,201.4 2270.3,200.2 2270.7,199.1 2271.1,198.1 2271.4,197.3 2271.7,196.7 2271.9,196.3 2272.0,196.0 2271.9,195.8 2271.8,195.7 2272.0,195.5" fill="#faf7f4" stroke="#4e4945" stroke-width="0.6"/><path d="M2272.2,194.7 L2271.8,194.6 L2271.4,194.7 L2271.1,194.9 L2270.7,195.3 L2270.3,195.9 L2269.9,196.6 L2269.6,197.5 L2269.2,198.6 L2268.8,199.8 L2268.5,201.1 L2268.1,202.6 L2267.7,204.3 L2267.4,206.1 L2267.0,208.1" stroke="#4e4945" stroke-width="0.35" fill="none"/><polygon points="2271.5,211.5 2270.7,210.9 2269.7,210.5 2268.5,210.4 2267.4,210.7 2266.3,211.2 2265.4,212.0 2264.5,213.1 2263.7,214.3 2262.9,215.7 2262.2,217.3 2261.6,219.1 2261.0,221.1 2260.5,223.2 2260.2,225.7 2260.5,225.8 2261.7,223.7 2262.8,221.7 2263.7,220.0 2264.6,218.5 2265.5,217.1 2266.3,216.0 2267.0,215.1 2267.7,214.4 2268.2,213.9 2268.7,213.5 2269.1,213.2 2269.5,213.0 2270.0,212.9 2270.8,213.0" fill="#faf7f4" stroke="#4e4945" stroke-width="0.6"/><path d="M2271.1,212.3 L2270.4,211.9 L2269.6,211.8 L2268.8,211.8 L2268.1,212.1 L2267.3,212.6 L2266.5,213.2 L2265.7,214.1 L2265.0,215.1 L2264.2,216.4 L2263.4,217.9 L2262.7,219.5 L2261.9,221.4 L2261.1,223.5 L2260.4,225.7" stroke="#4e4945" stroke-width="0.35" fill="none"/><polygon points="2271.4,226.0 2270.0,225.2 2268.4,224.7 2266.8,224.5 2265.1,224.7 2263.5,225.1 2261.8,225.9 2260.3,226.9 2258.8,228.2 2257.3,229.8 2256.0,231.6 2254.7,233.6 2253.4,235.9 2252.3,238.4 2251.3,241.2 2251.6,241.3 2253.4,239.0 2255.1,236.9 2256.7,235.0 2258.2,233.4 2259.6,231.9 2261.0,230.7 2262.3,229.7 2263.6,228.9 2264.7,228.3 2265.9,227.8 2267.0,227.5 2268.2,227.4 2269.4,227.4 2270.9,227.6" fill="#faf7f4" stroke="#4e4945" stroke-width="0.6"/><path d="M2271.1,226.8 L2269.7,226.3 L2268.3,226.0 L2266.9,226.0 L2265.5,226.3 L2264.1,226.7 L2262.7,227.4 L2261.3,228.3 L2259.9,229.5 L2258.5,230.8 L2257.1,232.5 L2255.7,234.3 L2254.3,236.4 L2252.9,238.7 L2251.5,241.3" stroke="#4e4945" stroke-width="0.35" fill="none"/><polygon points="2271.8,249.7 2269.9,248.8 2267.8,248.2 2265.7,247.8 2263.6,247.7 2261.4,248.0 2259.2,248.6 2257.1,249.4 2255.0,250.6 2253.0,252.0 2251.1,253.6 2249.2,255.5 2247.4,257.7 2245.6,260.1 2244.1,262.9 2244.3,263.1 2246.7,261.1 2248.9,259.1 2251.0,257.4 2253.0,256.0 2254.9,254.7 2256.8,253.6 2258.6,252.8 2260.4,252.1 2262.2,251.5 2263.9,251.2 2265.6,251.0 2267.4,251.0 2269.3,251.1 2271.3,251.4" fill="#faf7f4" stroke="#4e4945" stroke-width="0.6"/><path d="M2271.5,250.6 L2269.6,249.9 L2267.6,249.6 L2265.7,249.4 L2263.7,249.5 L2261.8,249.8 L2259.8,250.3 L2257.9,251.1 L2255.9,252.1 L2254.0,253.3 L2252.0,254.8 L2250.1,256.5 L2248.1,258.4 L2246.2,260.6 L2244.2,263.0" stroke="#4e4945" stroke-width="0.35" fill="none"/><polygon points="2272.7,255.5 2274.5,255.2 2276.1,255.0 2277.7,254.9 2279.3,254.9 2280.8,255.1 2282.3,255.3 2283.8,255.7 2285.4,256.2 2287.1,256.8 2288.7,257.6 2290.5,258.5 2292.3,259.6 2294.2,260.8 2296.3,262.1 2296.5,261.8 2295.1,259.8 2293.6,258.0 2292.0,256.4 2290.3,255.0 2288.6,253.8 2286.8,252.9 2284.9,252.2 2283.0,251.7 2281.1,251.5 2279.2,251.5 2277.3,251.7 2275.5,252.2 2273.7,252.9 2272.1,253.9" fill="#faf7f4" stroke="#4e4945" stroke-width="0.6"/><path d="M2272.4,254.7 L2274.1,254.1 L2275.8,253.6 L2277.5,253.3 L2279.2,253.2 L2280.9,253.3 L2282.7,253.5 L2284.4,253.9 L2286.1,254.5 L2287.8,255.3 L2289.5,256.3 L2291.2,257.4 L2293.0,258.8 L2294.7,260.3 L2296.4,262.0" stroke="#4e4945" stroke-width="0.35" fill="none"/><polygon points="2270.9,250.8 2270.3,250.5 2269.4,250.5 2268.7,250.9 2268.1,251.5 2267.6,252.3 2267.1,253.2 2266.8,254.2 2266.5,255.4 2266.2,256.8 2266.0,258.3 2265.8,260.0 2265.7,261.8 2265.7,263.9 2265.8,266.1 2266.1,266.1 2266.9,264.1 2267.5,262.2 2268.1,260.4 2268.6,258.9 2269.1,257.5 2269.5,256.3 2269.9,255.2 2270.2,254.4 2270.5,253.7 2270.7,253.2 2270.7,252.9 2270.7,252.8 2270.4,252.6 2270.6,252.4" fill="#faf7f4" stroke="#4e4945" stroke-width="0.6"/><path d="M2270.7,251.6 L2270.4,251.5 L2270.0,251.6 L2269.7,251.9 L2269.4,252.4 L2269.0,253.0 L2268.7,253.8 L2268.3,254.7 L2268.0,255.8 L2267.7,257.1 L2267.3,258.6 L2267.0,260.2 L2266.6,262.0 L2266.3,264.0 L2266.0,266.1" stroke="#4e4945" stroke-width="0.35" fill="none"/><polygon points="2272.4,279.3 2273.7,279.1 2275.0,279.0 2276.2,279.0 2277.4,279.0 2278.6,279.0 2279.8,279.0 2281.0,279.1 2282.2,279.2 2283.4,279.4 2284.6,279.6 2285.9,279.8 2287.2,280.1 2288.6,280.5 2290.1,280.7 2290.2,280.5 2289.2,279.3 2288.0,278.4 2286.7,277.7 2285.4,277.0 2284.1,276.5 2282.7,276.1 2281.4,275.9 2280.0,275.7 2278.6,275.7 2277.2,275.9 2275.8,276.2 2274.5,276.6 2273.2,277.1 2271.9,277.7" fill="#faf7f4" stroke="#4e4945" stroke-width="0.6"/><path d="M2272.2,278.5 L2273.4,278.1 L2274.7,277.8 L2276.0,277.6 L2277.3,277.4 L2278.6,277.4 L2279.9,277.4 L2281.2,277.5 L2282.5,277.7 L2283.7,277.9 L2285.0,278.3 L2286.3,278.8 L2287.6,279.3 L2288.9,279.9 L2290.2,280.6" stroke="#4e4945" stroke-width="0.35" fill="none"/><polygon points="2270.9,277.9 2270.2,277.5 2269.5,277.1 2268.8,276.8 2268.0,276.7 2267.2,276.6 2266.4,276.6 2265.6,276.6 2264.8,276.8 2264.1,277.0 2263.3,277.3 2262.6,277.7 2261.9,278.2 2261.3,278.7 2260.7,279.4 2260.8,279.7 2261.7,279.7 2262.5,279.6 2263.2,279.5 2263.9,279.4 2264.6,279.4 2265.2,279.3 2265.9,279.3 2266.5,279.2 2267.1,279.2 2267.8,279.2 2268.4,279.2 2269.1,279.2 2269.8,279.2 2270.5,279.2" fill="#faf7f4" stroke="#4e4945" stroke-width="0.6"/><path d="M2270.7,278.5 L2270.0,278.3 L2269.3,278.1 L2268.6,278.0 L2267.9,277.9 L2267.2,277.9 L2266.5,277.9 L2265.7,278.0 L2265.0,278.0 L2264.3,278.2 L2263.6,278.4 L2262.9,278.6 L2262.2,278.9 L2261.5,279.2 L2260.8,279.6" stroke="#4e4945" stroke-width="0.35" fill="none"/><ellipse cx="2280.4430641821946" cy="230.90062111801242" rx="3" ry="8" transform="rotate(15 2280.4430641821946 230.90062111801242)" fill="#faf7f4" stroke="#4e4945" stroke-width="0.7"/><polygon points="2278.8,225.4 2279.2,225.4 2279.1,225.6 2278.9,225.7 2278.9,225.9 2279.2,226.5 2279.5,227.3 2279.9,228.4 2280.4,229.7 2280.9,231.4 2281.5,233.3 2282.1,235.4 2282.8,237.8 2283.5,240.5 2284.4,243.3 2284.7,243.3 2284.8,240.3 2284.6,237.5 2284.4,235.0 2284.1,232.7 2283.8,230.7 2283.4,228.9 2283.0,227.3 2282.6,226.0 2282.0,224.9 2281.4,224.0 2280.5,223.4 2279.5,223.1 2278.4,223.4 2277.9,224.0" fill="#faf7f4" stroke="#4e4945" stroke-width="0.6"/><path d="M2278.4,224.7 L2278.8,224.4 L2279.3,224.3 L2279.7,224.5 L2280.1,225.0 L2280.6,225.7 L2281.0,226.6 L2281.5,227.8 L2281.9,229.3 L2282.4,231.0 L2282.8,233.0 L2283.3,235.2 L2283.7,237.6 L2284.1,240.4 L2284.6,243.3" stroke="#4e4945" stroke-width="0.35" fill="none"/><path d="M2271.5,287 q-6,1.5 -12,3.9" stroke="#4e4945" stroke-width="0.6" fill="none"/><path d="M2271.5,287 q-4,1.5 -8,3.6" stroke="#4e4945" stroke-width="0.6" fill="none"/><path d="M2271.5,287 q-2,1.5 -4,3.3" stroke="#4e4945" stroke-width="0.6" fill="none"/><path d="M2271.5,287 q0,1.5 0,3.0" stroke="#4e4945" stroke-width="0.6" fill="none"/><path d="M2271.5,287 q2,1.5 4,3.3" stroke="#4e4945" stroke-width="0.6" fill="none"/><path d="M2271.5,287 q4,1.5 8,3.6" stroke="#4e4945" stroke-width="0.6" fill="none"/><path d="M2271.5,287 q6,1.5 12,3.9" stroke="#4e4945" stroke-width="0.6" fill="none"/><clipPath id="cob"><polygon points="2319.5,179.0 2320.0,179.3 2320.7,179.8 2321.4,180.3 2322.0,181.0 2322.5,181.7 2322.8,182.4 2323.2,183.5 2323.6,185.0 2324.1,187.1 2324.6,189.6 2325.1,192.5 2325.7,196.0 2326.2,200.1 2326.7,204.8 2327.2,209.8 2327.7,215.0 2328.1,220.5 2328.4,226.3 2328.7,232.2 2329.1,238.0 2329.5,243.6 2329.9,249.1 2330.3,254.6 2330.6,260.0 2330.9,265.6 2331.0,271.3 2331.2,276.6 2331.2,281.0 2331.2,284.2 2331.1,286.5 2331.0,288.3 2330.6,290.0 2330.4,291.5 2330.2,292.8 2329.5,293.8 2327.7,294.5 2323.9,294.9 2318.7,295.1 2313.5,294.9 2309.7,294.5 2307.8,293.8 2307.1,292.8 2306.9,291.5 2306.6,290.0 2306.2,288.3 2306.0,286.5 2305.9,284.2 2305.8,281.0 2305.8,276.6 2305.8,271.3 2305.9,265.6 2306.0,260.0 2306.2,254.6 2306.5,249.1 2306.8,243.6 2307.1,238.0 2307.3,232.2 2307.5,226.3 2307.8,220.5 2308.1,215.0 2308.4,209.8 2308.8,204.8 2309.2,200.1 2309.7,196.0 2310.1,192.5 2310.6,189.6 2311.1,187.1 2311.6,185.0 2311.9,183.5 2312.3,182.4 2312.6,181.7 2313.0,181.0 2313.5,180.3 2314.1,179.8 2314.7,179.3 2315.5,179.0 2316.5,178.9 2317.7,178.9 2318.7,179.0 2319.5,179.0"/></clipPath><polygon points="2319.5,179.0 2320.0,179.3 2320.7,179.8 2321.4,180.3 2322.0,181.0 2322.5,181.7 2322.8,182.4 2323.2,183.5 2323.6,185.0 2324.1,187.1 2324.6,189.6 2325.1,192.5 2325.7,196.0 2326.2,200.1 2326.7,204.8 2327.2,209.8 2327.7,215.0 2328.1,220.5 2328.4,226.3 2328.7,232.2 2329.1,238.0 2329.5,243.6 2329.9,249.1 2330.3,254.6 2330.6,260.0 2330.9,265.6 2331.0,271.3 2331.2,276.6 2331.2,281.0 2331.2,284.2 2331.1,286.5 2331.0,288.3 2330.6,290.0 2330.4,291.5 2330.2,292.8 2329.5,293.8 2327.7,294.5 2323.9,294.9 2318.7,295.1 2313.5,294.9 2309.7,294.5 2307.8,293.8 2307.1,292.8 2306.9,291.5 2306.6,290.0 2306.2,288.3 2306.0,286.5 2305.9,284.2 2305.8,281.0 2305.8,276.6 2305.8,271.3 2305.9,265.6 2306.0,260.0 2306.2,254.6 2306.5,249.1 2306.8,243.6 2307.1,238.0 2307.3,232.2 2307.5,226.3 2307.8,220.5 2308.1,215.0 2308.4,209.8 2308.8,204.8 2309.2,200.1 2309.7,196.0 2310.1,192.5 2310.6,189.6 2311.1,187.1 2311.6,185.0 2311.9,183.5 2312.3,182.4 2312.6,181.7 2313.0,181.0 2313.5,180.3 2314.1,179.8 2314.7,179.3 2315.5,179.0 2316.5,178.9 2317.7,178.9 2318.7,179.0 2319.5,179.0" fill="#f3ede8" stroke="#4e4945" stroke-width="1"/><g clip-path="url(#cob)" fill="#f7f3ee" stroke="#8a847e" stroke-width="0.5"><rect x="2302.0" y="181.0" width="4.4" height="3.7" rx="1.2"/><rect x="2306.4" y="181.0" width="4.3" height="3.7" rx="1.2"/><rect x="2310.8" y="181.0" width="4.9" height="3.7" rx="1.2"/><rect x="2315.7" y="181.0" width="4.2" height="3.7" rx="1.2"/><rect x="2319.9" y="181.0" width="4.6" height="3.7" rx="1.2"/><rect x="2324.5" y="181.0" width="4.7" height="3.7" rx="1.2"/><rect x="2329.1" y="181.0" width="4.7" height="3.7" rx="1.2"/><rect x="2333.8" y="181.0" width="4.2" height="3.7" rx="1.2"/><rect x="2304.3" y="184.7" width="4.6" height="3.5" rx="1.2"/><rect x="2308.9" y="184.7" width="5.0" height="3.5" rx="1.2"/><rect x="2313.9" y="184.7" width="4.1" height="3.5" rx="1.2"/><rect x="2318.0" y="184.7" width="5.1" height="3.5" rx="1.2"/><rect x="2323.0" y="184.7" width="4.3" height="3.5" rx="1.2"/><rect x="2327.3" y="184.7" width="4.9" height="3.5" rx="1.2"/><rect x="2332.2" y="184.7" width="4.6" height="3.5" rx="1.2"/><rect x="2302.0" y="188.2" width="4.3" height="3.7" rx="1.2"/><rect x="2306.3" y="188.2" width="4.4" height="3.7" rx="1.2"/><rect x="2310.7" y="188.2" width="4.2" height="3.7" rx="1.2"/><rect x="2314.9" y="188.2" width="4.9" height="3.7" rx="1.2"/><rect x="2319.8" y="188.2" width="4.6" height="3.7" rx="1.2"/><rect x="2324.4" y="188.2" width="4.3" height="3.7" rx="1.2"/><rect x="2328.7" y="188.2" width="4.3" height="3.7" rx="1.2"/><rect x="2333.0" y="188.2" width="4.2" height="3.7" rx="1.2"/><rect x="2304.3" y="191.9" width="4.7" height="3.2" rx="1.2"/><rect x="2309.0" y="191.9" width="4.5" height="3.2" rx="1.2"/><rect x="2313.5" y="191.9" width="4.8" height="3.2" rx="1.2"/><rect x="2318.3" y="191.9" width="4.2" height="3.2" rx="1.2"/><rect x="2322.5" y="191.9" width="4.9" height="3.2" rx="1.2"/><rect x="2327.4" y="191.9" width="5.1" height="3.2" rx="1.2"/><rect x="2332.5" y="191.9" width="4.8" height="3.2" rx="1.2"/><rect x="2302.0" y="195.1" width="4.9" height="3.6" rx="1.2"/><rect x="2306.9" y="195.1" width="4.2" height="3.6" rx="1.2"/><rect x="2311.1" y="195.1" width="4.6" height="3.6" rx="1.2"/><rect x="2315.7" y="195.1" width="4.2" height="3.6" rx="1.2"/><rect x="2319.9" y="195.1" width="4.9" height="3.6" rx="1.2"/><rect x="2324.8" y="195.1" width="4.6" height="3.6" rx="1.2"/><rect x="2329.4" y="195.1" width="4.2" height="3.6" rx="1.2"/><rect x="2333.6" y="195.1" width="4.5" height="3.6" rx="1.2"/><rect x="2304.3" y="198.7" width="4.7" height="3.6" rx="1.2"/><rect x="2309.0" y="198.7" width="4.2" height="3.6" rx="1.2"/><rect x="2313.2" y="198.7" width="5.0" height="3.6" rx="1.2"/><rect x="2318.2" y="198.7" width="4.2" height="3.6" rx="1.2"/><rect x="2322.4" y="198.7" width="4.9" height="3.6" rx="1.2"/><rect x="2327.3" y="198.7" width="5.1" height="3.6" rx="1.2"/><rect x="2332.4" y="198.7" width="4.9" height="3.6" rx="1.2"/><rect x="2302.0" y="202.4" width="4.6" height="3.8" rx="1.2"/><rect x="2306.6" y="202.4" width="4.3" height="3.8" rx="1.2"/><rect x="2311.0" y="202.4" width="4.6" height="3.8" rx="1.2"/><rect x="2315.5" y="202.4" width="4.8" height="3.8" rx="1.2"/><rect x="2320.4" y="202.4" width="4.9" height="3.8" rx="1.2"/><rect x="2325.2" y="202.4" width="4.5" height="3.8" rx="1.2"/><rect x="2329.7" y="202.4" width="5.0" height="3.8" rx="1.2"/><rect x="2304.3" y="206.2" width="4.6" height="3.1" rx="1.2"/><rect x="2308.9" y="206.2" width="4.1" height="3.1" rx="1.2"/><rect x="2313.0" y="206.2" width="4.5" height="3.1" rx="1.2"/><rect x="2317.5" y="206.2" width="5.1" height="3.1" rx="1.2"/><rect x="2322.6" y="206.2" width="4.2" height="3.1" rx="1.2"/><rect x="2326.8" y="206.2" width="5.1" height="3.1" rx="1.2"/><rect x="2331.9" y="206.2" width="5.0" height="3.1" rx="1.2"/><rect x="2302.0" y="209.3" width="4.2" height="3.6" rx="1.2"/><rect x="2306.2" y="209.3" width="4.6" height="3.6" rx="1.2"/><rect x="2310.7" y="209.3" width="4.8" height="3.6" rx="1.2"/><rect x="2315.5" y="209.3" width="4.2" height="3.6" rx="1.2"/><rect x="2319.7" y="209.3" width="4.4" height="3.6" rx="1.2"/><rect x="2324.1" y="209.3" width="4.2" height="3.6" rx="1.2"/><rect x="2328.3" y="209.3" width="4.9" height="3.6" rx="1.2"/><rect x="2333.2" y="209.3" width="5.0" height="3.6" rx="1.2"/><rect x="2304.3" y="212.9" width="4.9" height="3.7" rx="1.2"/><rect x="2309.2" y="212.9" width="4.7" height="3.7" rx="1.2"/><rect x="2313.8" y="212.9" width="4.2" height="3.7" rx="1.2"/><rect x="2318.0" y="212.9" width="4.6" height="3.7" rx="1.2"/><rect x="2322.6" y="212.9" width="4.9" height="3.7" rx="1.2"/><rect x="2327.4" y="212.9" width="4.9" height="3.7" rx="1.2"/><rect x="2332.3" y="212.9" width="4.1" height="3.7" rx="1.2"/><rect x="2302.0" y="216.6" width="4.2" height="3.1" rx="1.2"/><rect x="2306.2" y="216.6" width="5.0" height="3.1" rx="1.2"/><rect x="2311.2" y="216.6" width="4.2" height="3.1" rx="1.2"/><rect x="2315.4" y="216.6" width="4.5" height="3.1" rx="1.2"/><rect x="2319.9" y="216.6" width="4.6" height="3.1" rx="1.2"/><rect x="2324.5" y="216.6" width="5.0" height="3.1" rx="1.2"/><rect x="2329.5" y="216.6" width="4.2" height="3.1" rx="1.2"/><rect x="2333.7" y="216.6" width="4.4" height="3.1" rx="1.2"/><rect x="2304.3" y="219.7" width="4.2" height="3.6" rx="1.2"/><rect x="2308.5" y="219.7" width="4.3" height="3.6" rx="1.2"/><rect x="2312.8" y="219.7" width="4.1" height="3.6" rx="1.2"/><rect x="2316.9" y="219.7" width="5.1" height="3.6" rx="1.2"/><rect x="2321.9" y="219.7" width="4.3" height="3.6" rx="1.2"/><rect x="2326.3" y="219.7" width="4.6" height="3.6" rx="1.2"/><rect x="2330.9" y="219.7" width="4.5" height="3.6" rx="1.2"/><rect x="2302.0" y="223.4" width="4.8" height="3.8" rx="1.2"/><rect x="2306.8" y="223.4" width="4.7" height="3.8" rx="1.2"/><rect x="2311.5" y="223.4" width="4.6" height="3.8" rx="1.2"/><rect x="2316.1" y="223.4" width="4.4" height="3.8" rx="1.2"/><rect x="2320.5" y="223.4" width="4.9" height="3.8" rx="1.2"/><rect x="2325.4" y="223.4" width="4.2" height="3.8" rx="1.2"/><rect x="2329.6" y="223.4" width="4.7" height="3.8" rx="1.2"/><rect x="2304.3" y="227.1" width="4.4" height="3.3" rx="1.2"/><rect x="2308.7" y="227.1" width="4.6" height="3.3" rx="1.2"/><rect x="2313.2" y="227.1" width="4.3" height="3.3" rx="1.2"/><rect x="2317.5" y="227.1" width="4.7" height="3.3" rx="1.2"/><rect x="2322.2" y="227.1" width="4.2" height="3.3" rx="1.2"/><rect x="2326.4" y="227.1" width="4.1" height="3.3" rx="1.2"/><rect x="2330.5" y="227.1" width="4.2" height="3.3" rx="1.2"/><rect x="2302.0" y="230.4" width="5.0" height="3.2" rx="1.2"/><rect x="2307.0" y="230.4" width="4.6" height="3.2" rx="1.2"/><rect x="2311.6" y="230.4" width="4.8" height="3.2" rx="1.2"/><rect x="2316.4" y="230.4" width="4.9" height="3.2" rx="1.2"/><rect x="2321.2" y="230.4" width="4.3" height="3.2" rx="1.2"/><rect x="2325.5" y="230.4" width="5.1" height="3.2" rx="1.2"/><rect x="2330.6" y="230.4" width="4.5" height="3.2" rx="1.2"/><rect x="2304.3" y="233.6" width="4.6" height="3.4" rx="1.2"/><rect x="2308.9" y="233.6" width="4.8" height="3.4" rx="1.2"/><rect x="2313.7" y="233.6" width="4.9" height="3.4" rx="1.2"/><rect x="2318.6" y="233.6" width="4.3" height="3.4" rx="1.2"/><rect x="2322.8" y="233.6" width="4.9" height="3.4" rx="1.2"/><rect x="2327.8" y="233.6" width="4.5" height="3.4" rx="1.2"/><rect x="2332.3" y="233.6" width="4.4" height="3.4" rx="1.2"/><rect x="2302.0" y="237.0" width="5.0" height="3.7" rx="1.2"/><rect x="2307.0" y="237.0" width="5.0" height="3.7" rx="1.2"/><rect x="2311.9" y="237.0" width="4.4" height="3.7" rx="1.2"/><rect x="2316.4" y="237.0" width="5.0" height="3.7" rx="1.2"/><rect x="2321.4" y="237.0" width="4.9" height="3.7" rx="1.2"/><rect x="2326.2" y="237.0" width="5.1" height="3.7" rx="1.2"/><rect x="2331.3" y="237.0" width="4.9" height="3.7" rx="1.2"/><rect x="2304.3" y="240.7" width="4.6" height="3.8" rx="1.2"/><rect x="2308.9" y="240.7" width="4.8" height="3.8" rx="1.2"/><rect x="2313.7" y="240.7" width="4.9" height="3.8" rx="1.2"/><rect x="2318.6" y="240.7" width="4.6" height="3.8" rx="1.2"/><rect x="2323.2" y="240.7" width="4.6" height="3.8" rx="1.2"/><rect x="2327.8" y="240.7" width="4.5" height="3.8" rx="1.2"/><rect x="2332.3" y="240.7" width="5.0" height="3.8" rx="1.2"/><rect x="2302.0" y="244.5" width="4.8" height="3.4" rx="1.2"/><rect x="2306.8" y="244.5" width="4.7" height="3.4" rx="1.2"/><rect x="2311.5" y="244.5" width="4.8" height="3.4" rx="1.2"/><rect x="2316.3" y="244.5" width="4.4" height="3.4" rx="1.2"/><rect x="2320.7" y="244.5" width="4.2" height="3.4" rx="1.2"/><rect x="2324.9" y="244.5" width="4.8" height="3.4" rx="1.2"/><rect x="2329.7" y="244.5" width="4.2" height="3.4" rx="1.2"/><rect x="2333.9" y="244.5" width="4.5" height="3.4" rx="1.2"/><rect x="2304.3" y="247.9" width="4.1" height="3.6" rx="1.2"/><rect x="2308.4" y="247.9" width="5.0" height="3.6" rx="1.2"/><rect x="2313.5" y="247.9" width="4.7" height="3.6" rx="1.2"/><rect x="2318.1" y="247.9" width="4.7" height="3.6" rx="1.2"/><rect x="2322.8" y="247.9" width="4.8" height="3.6" rx="1.2"/><rect x="2327.6" y="247.9" width="4.2" height="3.6" rx="1.2"/><rect x="2331.7" y="247.9" width="4.1" height="3.6" rx="1.2"/><rect x="2302.0" y="251.5" width="4.7" height="3.6" rx="1.2"/><rect x="2306.7" y="251.5" width="4.7" height="3.6" rx="1.2"/><rect x="2311.4" y="251.5" width="4.9" height="3.6" rx="1.2"/><rect x="2316.3" y="251.5" width="4.4" height="3.6" rx="1.2"/><rect x="2320.7" y="251.5" width="4.3" height="3.6" rx="1.2"/><rect x="2325.0" y="251.5" width="5.1" height="3.6" rx="1.2"/><rect x="2330.0" y="251.5" width="4.2" height="3.6" rx="1.2"/><rect x="2304.3" y="255.2" width="4.7" height="3.5" rx="1.2"/><rect x="2309.0" y="255.2" width="5.1" height="3.5" rx="1.2"/><rect x="2314.1" y="255.2" width="4.2" height="3.5" rx="1.2"/><rect x="2318.3" y="255.2" width="4.8" height="3.5" rx="1.2"/><rect x="2323.1" y="255.2" width="4.2" height="3.5" rx="1.2"/><rect x="2327.2" y="255.2" width="4.6" height="3.5" rx="1.2"/><rect x="2331.8" y="255.2" width="4.7" height="3.5" rx="1.2"/><rect x="2302.0" y="258.6" width="4.1" height="3.7" rx="1.2"/><rect x="2306.1" y="258.6" width="4.8" height="3.7" rx="1.2"/><rect x="2311.0" y="258.6" width="4.2" height="3.7" rx="1.2"/><rect x="2315.2" y="258.6" width="4.5" height="3.7" rx="1.2"/><rect x="2319.7" y="258.6" width="5.1" height="3.7" rx="1.2"/><rect x="2324.8" y="258.6" width="5.0" height="3.7" rx="1.2"/><rect x="2329.8" y="258.6" width="4.2" height="3.7" rx="1.2"/><rect x="2334.0" y="258.6" width="4.1" height="3.7" rx="1.2"/><rect x="2304.3" y="262.3" width="4.9" height="3.1" rx="1.2"/><rect x="2309.2" y="262.3" width="4.1" height="3.1" rx="1.2"/><rect x="2313.3" y="262.3" width="4.9" height="3.1" rx="1.2"/><rect x="2318.2" y="262.3" width="4.9" height="3.1" rx="1.2"/><rect x="2323.1" y="262.3" width="4.9" height="3.1" rx="1.2"/><rect x="2328.0" y="262.3" width="5.0" height="3.1" rx="1.2"/><rect x="2333.1" y="262.3" width="4.7" height="3.1" rx="1.2"/><rect x="2302.0" y="265.4" width="4.6" height="3.7" rx="1.2"/><rect x="2306.6" y="265.4" width="4.8" height="3.7" rx="1.2"/><rect x="2311.4" y="265.4" width="4.2" height="3.7" rx="1.2"/><rect x="2315.6" y="265.4" width="4.7" height="3.7" rx="1.2"/><rect x="2320.2" y="265.4" width="5.1" height="3.7" rx="1.2"/><rect x="2325.3" y="265.4" width="4.5" height="3.7" rx="1.2"/><rect x="2329.8" y="265.4" width="4.8" height="3.7" rx="1.2"/><rect x="2304.3" y="269.1" width="4.6" height="3.2" rx="1.2"/><rect x="2308.9" y="269.1" width="4.6" height="3.2" rx="1.2"/><rect x="2313.5" y="269.1" width="4.9" height="3.2" rx="1.2"/><rect x="2318.4" y="269.1" width="4.4" height="3.2" rx="1.2"/><rect x="2322.8" y="269.1" width="4.6" height="3.2" rx="1.2"/><rect x="2327.4" y="269.1" width="4.3" height="3.2" rx="1.2"/><rect x="2331.7" y="269.1" width="4.7" height="3.2" rx="1.2"/><rect x="2302.0" y="272.3" width="4.5" height="3.8" rx="1.2"/><rect x="2306.5" y="272.3" width="4.8" height="3.8" rx="1.2"/><rect x="2311.2" y="272.3" width="4.7" height="3.8" rx="1.2"/><rect x="2315.9" y="272.3" width="4.3" height="3.8" rx="1.2"/><rect x="2320.2" y="272.3" width="4.8" height="3.8" rx="1.2"/><rect x="2325.0" y="272.3" width="4.3" height="3.8" rx="1.2"/><rect x="2329.3" y="272.3" width="4.7" height="3.8" rx="1.2"/><rect x="2304.3" y="276.1" width="4.4" height="3.8" rx="1.2"/><rect x="2308.7" y="276.1" width="4.8" height="3.8" rx="1.2"/><rect x="2313.5" y="276.1" width="4.4" height="3.8" rx="1.2"/><rect x="2317.9" y="276.1" width="4.7" height="3.8" rx="1.2"/><rect x="2322.7" y="276.1" width="4.3" height="3.8" rx="1.2"/><rect x="2327.0" y="276.1" width="4.6" height="3.8" rx="1.2"/><rect x="2331.6" y="276.1" width="4.9" height="3.8" rx="1.2"/><rect x="2302.0" y="279.9" width="4.5" height="3.2" rx="1.2"/><rect x="2306.5" y="279.9" width="4.3" height="3.2" rx="1.2"/><rect x="2310.8" y="279.9" width="4.3" height="3.2" rx="1.2"/><rect x="2315.0" y="279.9" width="4.8" height="3.2" rx="1.2"/><rect x="2319.8" y="279.9" width="4.9" height="3.2" rx="1.2"/><rect x="2324.7" y="279.9" width="4.6" height="3.2" rx="1.2"/><rect x="2329.4" y="279.9" width="4.5" height="3.2" rx="1.2"/><rect x="2333.9" y="279.9" width="4.4" height="3.2" rx="1.2"/><rect x="2304.3" y="283.1" width="5.0" height="3.3" rx="1.2"/><rect x="2309.3" y="283.1" width="4.6" height="3.3" rx="1.2"/><rect x="2313.9" y="283.1" width="4.8" height="3.3" rx="1.2"/><rect x="2318.7" y="283.1" width="4.4" height="3.3" rx="1.2"/><rect x="2323.1" y="283.1" width="4.3" height="3.3" rx="1.2"/><rect x="2327.4" y="283.1" width="4.1" height="3.3" rx="1.2"/><rect x="2331.5" y="283.1" width="4.4" height="3.3" rx="1.2"/><rect x="2302.0" y="286.4" width="4.6" height="3.4" rx="1.2"/><rect x="2306.6" y="286.4" width="4.7" height="3.4" rx="1.2"/><rect x="2311.3" y="286.4" width="4.8" height="3.4" rx="1.2"/><rect x="2316.1" y="286.4" width="5.0" height="3.4" rx="1.2"/><rect x="2321.1" y="286.4" width="4.9" height="3.4" rx="1.2"/><rect x="2326.0" y="286.4" width="4.8" height="3.4" rx="1.2"/><rect x="2330.8" y="286.4" width="4.9" height="3.4" rx="1.2"/><rect x="2304.3" y="289.8" width="4.6" height="3.5" rx="1.2"/><rect x="2308.9" y="289.8" width="5.0" height="3.5" rx="1.2"/><rect x="2313.9" y="289.8" width="5.0" height="3.5" rx="1.2"/><rect x="2318.9" y="289.8" width="4.5" height="3.5" rx="1.2"/><rect x="2323.4" y="289.8" width="5.0" height="3.5" rx="1.2"/><rect x="2328.3" y="289.8" width="4.5" height="3.5" rx="1.2"/><rect x="2332.9" y="289.8" width="4.9" height="3.5" rx="1.2"/><rect x="2302.0" y="293.3" width="4.7" height="3.1" rx="1.2"/><rect x="2306.7" y="293.3" width="5.0" height="3.1" rx="1.2"/><rect x="2311.7" y="293.3" width="4.5" height="3.1" rx="1.2"/><rect x="2316.3" y="293.3" width="5.0" height="3.1" rx="1.2"/><rect x="2321.3" y="293.3" width="4.8" height="3.1" rx="1.2"/><rect x="2326.0" y="293.3" width="4.1" height="3.1" rx="1.2"/><rect x="2330.2" y="293.3" width="4.2" height="3.1" rx="1.2"/></g><polygon points="2319.5,179.0 2320.0,179.3 2320.7,179.8 2321.4,180.3 2322.0,181.0 2322.5,181.7 2322.8,182.4 2323.2,183.5 2323.6,185.0 2324.1,187.1 2324.6,189.6 2325.1,192.5 2325.7,196.0 2326.2,200.1 2326.7,204.8 2327.2,209.8 2327.7,215.0 2328.1,220.5 2328.4,226.3 2328.7,232.2 2329.1,238.0 2329.5,243.6 2329.9,249.1 2330.3,254.6 2330.6,260.0 2330.9,265.6 2331.0,271.3 2331.2,276.6 2331.2,281.0 2331.2,284.2 2331.1,286.5 2331.0,288.3 2330.6,290.0 2330.4,291.5 2330.2,292.8 2329.5,293.8 2327.7,294.5 2323.9,294.9 2318.7,295.1 2313.5,294.9 2309.7,294.5 2307.8,293.8 2307.1,292.8 2306.9,291.5 2306.6,290.0 2306.2,288.3 2306.0,286.5 2305.9,284.2 2305.8,281.0 2305.8,276.6 2305.8,271.3 2305.9,265.6 2306.0,260.0 2306.2,254.6 2306.5,249.1 2306.8,243.6 2307.1,238.0 2307.3,232.2 2307.5,226.3 2307.8,220.5 2308.1,215.0 2308.4,209.8 2308.8,204.8 2309.2,200.1 2309.7,196.0 2310.1,192.5 2310.6,189.6 2311.1,187.1 2311.6,185.0 2311.9,183.5 2312.3,182.4 2312.6,181.7 2313.0,181.0 2313.5,180.3 2314.1,179.8 2314.7,179.3 2315.5,179.0 2316.5,178.9 2317.7,178.9 2318.7,179.0 2319.5,179.0" fill="none" stroke="#6e6862" stroke-width="0.8"/></svg>
<div class="bar"></div><div class="trk"></div><div class="fill"></div>
<div class="tk" style="left:527.96px"></div>
<div class="tk" style="left:663.67px"></div>
<div class="tk" style="left:799.39px"></div>
<div class="tk" style="left:935.10px"></div>
<div class="tk" style="left:1070.81px"></div>
<div class="tk" style="left:1206.53px"></div>
<div class="tk" style="left:1342.24px"></div>
<div class="tk" style="left:1477.96px"></div>
<div class="tk" style="left:1613.67px"></div>
<div class="tk" style="left:1749.39px"></div>
<div class="tk" style="left:1885.10px"></div>
<div class="tk" style="left:2020.81px"></div>
<div class="tk" style="left:2156.53px"></div>
<div class="tk" style="left:2292.24px"></div>
<div class="lb" style="left:413.46px;top:421.50px;height:96px">1:<br>Cellular<br>Organisms</div>
<div class="lb" style="left:549.17px;top:421.50px;height:96px">2:<br>Domain:<br>Eukaryota</div>
<div class="lb" style="left:684.89px;top:421.50px;height:96px">3:<br>Kingdom:<br>Viridiplantae</div>
<div class="lb" style="left:820.60px;top:421.50px;height:96px">4:<br>Phylum:<br>Streptophyta</div>
<div class="lb" style="left:956.31px;top:421.50px;height:96px">5:<br>Land plants<br>(Embryophyta)</div>
<div class="lb" style="left:1092.03px;top:421.50px;height:96px">6:<br>Class:<br>Magnoliopsida</div>
<div class="lb" style="left:1227.74px;top:421.50px;height:96px">7:<br>Monocots<br>(Liliopsida)</div>
<div class="lb" style="left:1363.46px;top:421.50px;height:96px">8:<br>Order:<br>Poales</div>
<div class="lb" style="left:1499.17px;top:421.50px;height:96px">9:<br>Family:<br>Poaceae</div>
<div class="lb" style="left:1634.89px;top:421.50px;height:96px">10:<br>Subfamily:<br>Panicoideae</div>
<div class="lb" style="left:1770.60px;top:421.50px;height:96px">11:<br>Tribe:<br>Andropogoneae</div>
<div class="lb" style="left:1906.31px;top:421.50px;height:96px">12:<br>Genus:<br>Zea</div>
<div class="lb" style="left:2042.03px;top:421.50px;height:128px">13:<br>Species:<br>Zea<br>mays</div>
<div class="lb" style="left:2177.74px;top:421.50px;height:128px">14:<br>Subspecies:<br>Zea mays<br>mays</div>
</body></html>
